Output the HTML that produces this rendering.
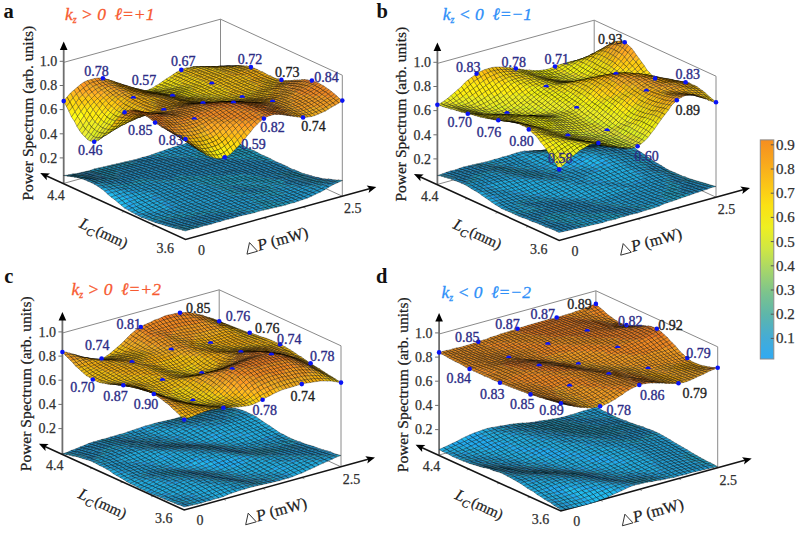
<!DOCTYPE html><html><head><meta charset="utf-8"><style>html,body{margin:0;padding:0;background:#fff;width:800px;height:533px;overflow:hidden}svg{display:block}text{font-family:"Liberation Serif",serif}</style></head><body>
<svg width="800" height="533" viewBox="0 0 800 533">
<path d="M63.7 62.4L220.5 19.2L342.3 75.2M220.5 140.2L220.5 19.2M342.3 196.2L342.3 75.2M63.7 183.4L220.5 140.2L342.3 196.2" fill="none" stroke="#8a8a8a" stroke-width="1"/>
<path d="M63.7 183.4V48.4" stroke="#6e6e6e" stroke-width="1.8"/>
<path d="M63.7 41.4l3.8 8.5h-7.6z"/>
<path d="M59.7 157.9h4M59.7 133.8h4M59.7 109.6h4M59.7 85.5h4M59.7 61.3h4" stroke="#6e6e6e" stroke-width="1"/>
<path d="M94.2 197.4l-2.8 0.8M124.6 211.4l-2.8 0.8M155.1 225.4l-2.8 0.8M224.7 228.6l2.6 1.2M263.9 217.8l2.6 1.2M303.1 207l2.6 1.2" stroke="#9a9a9a" stroke-width="1"/>
<path d="M46.2 175.8L185.5 239.4L370.3 188.5" fill="none" stroke="#151515" stroke-width="1.6"/>
<path d="M40.2 173.1L50 173.4L46.6 176L46.8 180.3Z"/>
<path d="M376.3 186.9L368.6 193L369.6 188.8L366.6 185.6Z"/>
<g transform="scale(.5)" stroke="#000" stroke-opacity="0.62" stroke-width="1.0" stroke-linejoin="round">
<path fill="#28b" d="M432 273l9-2 7 3-9 2zm-8 2l8-2 7 3-9 2zm-9 2l9-2 6 3-8 2zm-9 2l9-2 7 3-9 2z"/>
<path fill="#29b" d="M397 281l9-2 7 3-9 2zm-8 2l8-2 7 3-8 2zm-9 2l9-2 7 3-9 2z"/>
<path fill="#29c" d="M371 287l9-2 7 3-9 3zm-8 3l8-3 7 4-9 2zm-9 2l9-2 6 3-8 3zm-9 3l9-3 7 4-9 2zm-9 3l9-3 7 3-9 3zm-8 3l8-3 7 3-8 3zm-9 3l9-3 7 3-9 3zm-9 3l9-3 7 3-9 3z"/>
<path fill="#29b" d="M302 310l8-3 7 3-9 2z"/>
<path fill="#28b" d="M293 313l9-3 6 2-8 3zm-9 2l9-2 7 2-9 2zm-9 3l9-3 7 2-9 3zm-8 2l8-2 7 2-8 2zm-9 2l9-2 7 2-9 2z"/>
<path fill="#28a" d="M249 324l9-2 7 2-9 2zm-8 2l8-2 7 2-9 2zm-9 2l9-2 6 2-8 2zm-9 2l9-2 7 2-9 2zm-8 2l8-2 7 2-9 2zm-9 2l9-2 6 2-8 3zm-9 2l9-2 7 3-9 2zm-9 2l9-2 7 3-9 2zm-8 3l8-3 7 3-9 2zm-9 2l9-2 6 2-8 1zm-9 2l9-2 7 1-9 2z"/>
<path fill="#27a" d="M154 347l8-2 7 1-9 2z"/>
<path fill="#279" d="M145 348l9-1 6 1-8 2zm-9 2l9-2 7 2-9 1z"/>
<path fill="#179" d="M127 351l9-1 7 1-9 1z"/>
<path fill="#28b" d="M439 276l9-2 7 3-9 2zm-9 2l9-2 7 3-9 2zm-8 2l8-2 7 3-9 2z"/>
<path fill="#29b" d="M413 282l9-2 6 3-8 2zm-9 2l9-2 7 3-9 2zm-8 2l8-2 7 3-9 2zm-9 2l9-2 6 3-8 2z"/>
<path fill="#29c" d="M378 291l9-3 7 3-9 3zm-9 2l9-2 7 3-9 2zm-8 3l8-3 7 3-9 3zm-9 2l9-2 6 3-8 3zm-9 3l9-3 7 4-9 2zm-8 3l8-3 7 3-9 3zm-9 3l9-3 6 3-8 3z"/>
<path fill="#29b" d="M317 310l9-3 7 3-9 3zm-9 2l9-2 7 3-9 2z"/>
<path fill="#28b" d="M300 315l8-3 7 3-9 2zm-9 2l9-2 6 2-8 3zm-9 3l9-3 7 3-9 2zm-8 2l8-2 7 2-9 2zm-9 2l9-2 6 2-8 3z"/>
<path fill="#28a" d="M256 326l9-2 7 3-9 2zm-9 2l9-2 7 3-9 2zm-8 2l8-2 7 3-9 2zm-9 2l9-2 6 3-8 2zm-9 2l9-2 7 3-9 2zm-8 3l8-3 7 3-9 2zm-9 2l9-2 6 2-8 2zm-9 2l9-2 7 2-9 2zm-9 2l9-2 7 2-9 2zm-8 1l8-1 7 2-9 1z"/>
<path fill="#27a" d="M169 346l9-2 6 2-8 2zm-9 2l9-2 7 2-9 2z"/>
<path fill="#279" d="M152 350l8-2 7 2-9 1z"/>
<path fill="#179" d="M143 351l9-1 6 1-8 1zm-9 1l9-1 7 1-9 1z"/>
<path fill="#28b" d="M446 279l9-2 6 3-8 2zm-9 2l9-2 7 3-9 2zm-9 2l9-2 7 3-9 2z"/>
<path fill="#29b" d="M420 285l8-2 7 3-9 2zm-9 2l9-2 6 3-8 2zm-9 2l9-2 7 3-9 2z"/>
<path fill="#29c" d="M394 291l8-2 7 3-9 3zm-9 3l9-3 6 4-8 2zm-9 2l9-2 7 3-9 2zm-9 3l9-3 7 3-9 3zm-8 3l8-3 7 3-9 3zm-9 2l9-2 6 3-8 2zm-9 3l9-3 7 3-9 3zm-8 3l8-3 7 3-9 3z"/>
<path fill="#29b" d="M324 313l9-3 6 3-8 2z"/>
<path fill="#28b" d="M315 315l9-2 7 2-9 3zm-9 2l9-2 7 3-9 2zm-8 3l8-3 7 3-8 2zm-9 2l9-2 7 2-9 2zm-9 2l9-2 7 2-9 3zm-8 3l8-3 7 3-9 2z"/>
<path fill="#28a" d="M263 329l9-2 6 2-8 2zm-9 2l9-2 7 2-9 2zm-9 2l9-2 7 2-9 2z"/>
<path fill="#28b" d="M237 335l8-2 7 2-8 2zm-9 2l9-2 7 2-9 2z"/>
<path fill="#28a" d="M219 339l9-2 7 2-9 2zm-8 2l8-2 7 2-9 2zm-9 2l9-2 6 2-8 2zm-9 2l9-2 7 2-9 2zm-9 1l9-1 7 2-9 1z"/>
<path fill="#27a" d="M176 348l8-2 7 2-8 2zm-9 2l9-2 7 2-9 1z"/>
<path fill="#279" d="M158 351l9-1 7 1-9 1z"/>
<path fill="#179" d="M150 352l8-1 7 1-9 1zm-9 1l9-1 6 1-8 1z"/>
<path fill="#28b" d="M453 282l8-2 7 3-9 2zm-9 2l9-2 6 3-8 2z"/>
<path fill="#29b" d="M435 286l9-2 7 3-9 2zm-9 2l9-2 7 3-9 2zm-8 2l8-2 7 3-8 2z"/>
<path fill="#29c" d="M409 292l9-2 7 3-9 3zm-9 3l9-3 7 4-9 2zm-8 2l8-2 7 3-9 2zm-9 2l9-2 6 3-8 3zm-9 3l9-3 7 4-9 2zm-9 3l9-3 7 3-9 3zm-8 2l8-2 7 3-8 2zm-9 3l9-3 7 3-9 3z"/>
<path fill="#29b" d="M339 313l9-3 7 3-9 2z"/>
<path fill="#28b" d="M331 315l8-2 7 2-9 3zm-9 3l9-3 6 3-8 2zm-9 2l9-2 7 2-9 2zm-8 2l8-2 7 2-9 3zm-9 2l9-2 6 3-8 2zm-9 3l9-3 7 3-9 2zm-9 2l9-2 7 2-9 2zm-8 2l8-2 7 2-9 2zm-9 2l9-2 6 2-8 2zm-9 2l9-2 7 2-9 2zm-8 2l8-2 7 2-9 2zm-9 2l9-2 6 2-8 2z"/>
<path fill="#28a" d="M226 341l9-2 7 2-9 2zm-9 2l9-2 7 2-9 2zm-8 2l8-2 7 2-9 2zm-9 2l9-2 6 2-8 2zm-9 1l9-1 7 2-9 1z"/>
<path fill="#27a" d="M183 350l8-2 7 2-9 2zm-9 1l9-1 6 2-8 1z"/>
<path fill="#279" d="M165 352l9-1 7 2-9 1z"/>
<path fill="#179" d="M156 353l9-1 7 2-9 1zm-8 1l8-1 7 2-9 0z"/>
<path fill="#28b" d="M459 285l9-2 7 3-9 2z"/>
<path fill="#29b" d="M451 287l8-2 7 3-9 2zm-9 2l9-2 6 3-8 2zm-9 2l9-2 7 3-9 2z"/>
<path fill="#29c" d="M425 293l8-2 7 3-9 3zm-9 3l9-3 6 4-8 2zm-9 2l9-2 7 3-9 2zm-9 2l9-2 7 3-9 2z"/>
<path fill="#29b" d="M390 303l8-3 7 3-9 3z"/>
<path fill="#29c" d="M381 305l9-2 6 3-8 2zm-9 3l9-3 7 3-9 3zm-8 2l8-2 7 3-9 2z"/>
<path fill="#29b" d="M355 313l9-3 6 3-8 3z"/>
<path fill="#28b" d="M346 315l9-2 7 3-9 2zm-9 3l9-3 7 3-9 2zm-8 2l8-2 7 2-9 2zm-9 2l9-2 6 2-8 3zm-9 3l9-3 7 3-9 2zm-8 2l8-2 7 2-9 2zm-9 2l9-2 6 2-8 2zm-9 2l9-2 7 2-9 2zm-9 2l9-2 7 2-9 3zm-8 2l8-2 7 3-9 2zm-9 2l9-2 6 3-8 2zm-9 2l9-2 7 3-9 2zm-8 2l8-2 7 3-9 2zm-9 2l9-2 6 3-8 2z"/>
<path fill="#28a" d="M224 345l9-2 7 3-9 2zm-9 2l9-2 7 3-9 1zm-8 2l8-2 7 2-8 2zm-9 1l9-1 7 2-9 2z"/>
<path fill="#27a" d="M189 352l9-2 7 3-9 1z"/>
<path fill="#279" d="M181 353l8-1 7 2-9 1zm-9 1l9-1 6 2-8 1z"/>
<path fill="#179" d="M163 355l9-1 7 2-9 0zm-9 0l9 0 7 1-9 1z"/>
<path fill="#29b" d="M466 288l9-2 7 3-9 2zm-9 2l9-2 7 3-9 2zm-8 2l8-2 7 3-9 2zm-9 2l9-2 6 3-8 3z"/>
<path fill="#29c" d="M431 297l9-3 7 4-9 2zm-8 2l8-2 7 3-9 2z"/>
<path fill="#29b" d="M414 301l9-2 6 3-8 2zm-9 2l9-2 7 3-9 3zm-9 3l9-3 7 4-9 2zm-8 2l8-2 7 3-9 2zm-9 3l9-3 6 3-8 3zm-9 2l9-2 7 3-9 2z"/>
<path fill="#28b" d="M362 316l8-3 7 3-9 2zm-9 2l9-2 6 2-8 3zm-9 2l9-2 7 3-9 2zm-9 2l9-2 7 3-9 2zm-8 3l8-3 7 3-8 2zm-9 2l9-2 7 2-9 2zm-9 2l9-2 7 2-9 3zm-8 2l8-2 7 3-9 2zm-9 2l9-2 6 3-8 2zm-9 3l9-3 7 3-9 2zm-9 2l9-2 7 2-9 2zm-8 2l8-2 7 2-8 2zm-9 2l9-2 7 2-9 2zm-9 2l9-2 7 2-9 2zm-8 2l8-2 7 2-9 2zm-9 2l9-2 6 2-8 2z"/>
<path fill="#28a" d="M222 349l9-1 7 2-9 2zm-8 2l8-2 7 3-9 1zm-9 2l9-2 6 2-8 2z"/>
<path fill="#27a" d="M196 354l9-1 7 2-9 1z"/>
<path fill="#279" d="M187 355l9-1 7 2-9 1zm-8 1l8-1 7 2-9 1zm-9 0l9 0 6 2-8 0zm-9 1l9-1 7 2-9 1z"/>
<path fill="#29b" d="M473 291l9-2 6 3-8 2zm-9 2l9-2 7 3-9 3zm-9 2l9-2 7 4-9 2zm-8 3l8-3 7 4-8 2zm-9 2l9-2 7 3-9 2zm-9 2l9-2 7 3-9 2zm-8 2l8-2 7 3-9 2zm-9 3l9-3 6 3-8 3zm-9 2l9-2 7 3-9 2zm-9 2l9-2 7 3-9 2zm-8 3l8-3 7 3-8 3z"/>
<path fill="#28b" d="M377 316l9-2 7 3-9 2zm-9 2l9-2 7 3-9 2zm-8 3l8-3 7 3-9 2zm-9 2l9-2 6 2-8 2zm-9 2l9-2 7 2-9 3zm-8 2l8-2 7 3-9 2zm-9 2l9-2 6 3-8 2zm-9 3l9-3 7 3-9 2zm-9 2l9-2 7 2-9 2zm-8 2l8-2 7 2-9 2zm-9 2l9-2 6 2-8 3zm-9 2l9-2 7 3-9 2zm-8 2l8-2 7 3-9 2zm-9 2l9-2 6 3-8 2zm-9 2l9-2 7 3-9 2zm-9 2l9-2 7 3-9 2zm-8 2l8-2 7 3-9 2zm-9 2l9-2 6 3-8 1z"/>
<path fill="#28a" d="M220 353l9-1 7 2-9 2zm-8 2l8-2 7 3-9 1z"/>
<path fill="#27a" d="M203 356l9-1 6 2-8 1zm-9 1l9-1 7 2-9 1zm-9 1l9-1 7 2-9 1zm-8 0l8 0 7 2-9 1zm-9 1l9-1 6 3-8 1z"/>
<path fill="#29b" d="M480 294l8-2 7 4-9 2zm-9 3l9-3 6 4-8 2zm-9 2l9-2 7 3-9 2zm-8 2l8-2 7 3-9 2zm-9 2l9-2 6 3-8 2zm-9 2l9-2 7 3-9 2zm-9 2l9-2 7 3-9 3zm-8 3l8-3 7 4-9 2zm-9 2l9-2 6 3-8 2zm-9 2l9-2 7 3-9 2z"/>
<path fill="#28b" d="M393 317l8-3 7 3-9 2zm-9 2l9-2 6 2-8 3zm-9 2l9-2 7 3-9 2zm-9 2l9-2 7 3-9 2zm-8 2l8-2 7 3-9 2zm-9 3l9-3 6 3-8 2zm-9 2l9-2 7 2-9 2zm-8 2l8-2 7 2-9 2zm-9 2l9-2 6 2-8 3zm-9 2l9-2 7 3-9 2zm-9 2l9-2 7 3-9 2zm-8 3l8-3 7 3-9 2zm-9 2l9-2 6 2-8 2zm-9 2l9-2 7 2-9 2zm-8 2l8-2 7 2-9 2zm-9 2l9-2 6 2-8 2zm-9 2l9-2 7 2-9 2zm-9 2l9-2 7 2-9 2zm-8 1l8-1 7 2-8 2z"/>
<path fill="#28a" d="M227 356l9-2 7 3-9 1zm-9 1l9-1 7 2-9 1zm-8 1l8-1 7 2-9 2zm-9 1l9-1 6 3-8 1zm-9 1l9-1 7 3-9 1zm-9 1l9-1 7 3-9 1zm-8 1l8-1 7 3-8 1z"/>
<path fill="#29b" d="M486 298l9-2 7 3-9 2zm-8 2l8-2 7 3-9 2zm-9 2l9-2 6 3-8 2zm-9 2l9-2 7 3-9 2zm-8 2l8-2 7 3-9 2zm-9 2l9-2 6 3-8 2zm-9 3l9-3 7 3-9 3zm-9 2l9-2 7 3-9 2z"/>
<path fill="#28b" d="M417 315l8-2 7 3-8 2zm-9 2l9-2 7 3-9 2zm-9 2l9-2 7 3-9 2zm-8 3l8-3 7 3-9 2zm-9 2l9-2 6 2-8 2zm-9 2l9-2 7 2-9 3zm-9 2l9-2 7 3-9 2zm-8 2l8-2 7 3-8 2zm-9 2l9-2 7 3-9 2zm-9 2l9-2 7 3-9 2zm-8 3l8-3 7 3-9 2zm-9 2l9-2 6 2-8 2zm-9 2l9-2 7 2-9 3zm-9 2l9-2 7 3-9 2zm-8 2l8-2 7 3-8 2zm-9 2l9-2 7 3-9 2zm-9 2l9-2 7 3-9 2zm-8 2l8-2 7 3-9 2zm-9 2l9-2 6 3-8 2zm-9 2l9-2 7 3-9 2zm-8 2l8-2 7 3-9 2zm-9 1l9-1 6 3-8 1zm-9 1l9-1 7 3-9 1zm-9 2l9-2 7 3-9 2zm-8 1l8-1 7 3-9 1zm-9 1l9-1 6 3-8 1zm-9 1l9-1 7 3-9 1zm-8 1l8-1 7 3-9 1z"/>
<path fill="#29b" d="M493 301l9-2 7 3-9 2zm-9 2l9-2 7 3-9 2zm-8 2l8-2 7 3-8 2zm-9 2l9-2 7 3-9 2zm-9 2l9-2 7 3-9 2zm-8 2l8-2 7 3-9 3z"/>
<path fill="#28b" d="M441 314l9-3 6 4-8 2zm-9 2l9-2 7 3-9 2zm-8 2l8-2 7 3-9 2zm-9 2l9-2 6 3-8 2zm-9 2l9-2 7 3-9 2zm-9 2l9-2 7 3-9 2zm-8 2l8-2 7 3-9 2zm-9 3l9-3 6 3-8 2zm-9 2l9-2 7 2-9 2zm-8 2l8-2 7 2-9 2zm-9 2l9-2 6 2-8 3zm-9 2l9-2 7 3-9 2zm-9 2l9-2 7 3-9 2zm-8 2l8-2 7 3-9 2zm-9 3l9-3 6 3-8 2zm-9 2l9-2 7 2-9 3zm-8 2l8-2 7 3-9 2zm-9 2l9-2 6 3-8 2zm-9 2l9-2 7 3-9 2zm-9 2l9-2 7 3-9 2zm-8 2l8-2 7 3-9 2zm-9 2l9-2 6 3-8 2zm-9 2l9-2 7 3-9 2zm-8 1l8-1 7 3-9 1zm-9 1l9-1 6 3-8 2zm-9 2l9-2 7 4-9 1zm-9 1l9-1 7 3-9 1zm-8 1l8-1 7 3-9 2z"/>
<path fill="#29b" d="M197 367l9-1 6 4-8 1z"/>
<path fill="#29c" d="M188 368l9-1 7 4-9 1z"/>
<path fill="#29b" d="M500 304l9-2 6 3-8 2zm-9 2l9-2 7 3-9 2zm-8 2l8-2 7 3-9 2zm-9 2l9-2 6 3-8 2zm-9 2l9-2 7 3-9 3zm-9 3l9-3 7 4-9 2z"/>
<path fill="#28b" d="M448 317l8-2 7 3-9 2zm-9 2l9-2 6 3-8 2zm-9 2l9-2 7 3-9 2zm-8 2l8-2 7 3-9 2zm-9 2l9-2 6 3-8 2zm-9 2l9-2 7 3-9 2zm-9 2l9-2 7 3-9 2zm-8 2l8-2 7 3-9 2zm-9 2l9-2 6 3-8 2zm-9 2l9-2 7 3-9 2zm-8 3l8-3 7 3-9 2zm-9 2l9-2 6 2-8 2zm-9 2l9-2 7 2-9 3zm-9 2l9-2 7 3-9 2zm-8 2l8-2 7 3-8 2zm-9 3l9-3 7 3-9 3zm-9 2l9-2 7 3-9 2zm-8 2l8-2 7 3-9 2zm-9 2l9-2 6 3-8 2zm-9 2l9-2 7 3-9 2z"/>
<path fill="#29b" d="M273 359l9-2 7 3-9 2zm-8 2l8-2 7 3-8 2z"/>
<path fill="#28b" d="M256 363l9-2 7 3-9 2zm-9 1l9-1 7 3-9 2zm-8 2l8-2 7 4-9 1zm-9 1l9-1 6 3-8 2z"/>
<path fill="#29b" d="M221 368l9-1 7 4-9 1zm-9 2l9-2 7 4-9 2z"/>
<path fill="#29c" d="M204 371l8-1 7 4-8 1zm-9 1l9-1 7 4-9 2z"/>
<path fill="#29b" d="M507 307l8-2 7 4-9 2zm-9 2l9-2 6 4-8 2zm-9 2l9-2 7 4-9 2zm-8 2l8-2 7 4-9 2zm-9 3l9-3 6 4-8 2z"/>
<path fill="#28b" d="M463 318l9-2 7 3-9 2zm-9 2l9-2 7 3-9 2zm-8 2l8-2 7 3-8 2zm-9 2l9-2 7 3-9 1zm-9 2l9-2 7 2-9 2zm-8 2l8-2 7 2-9 2zm-9 2l9-2 6 2-8 2zm-9 2l9-2 7 2-9 2zm-9 2l9-2 7 2-9 3zm-8 2l8-2 7 3-8 2zm-9 2l9-2 7 3-9 2zm-9 2l9-2 7 3-9 2zm-8 2l8-2 7 3-9 2zm-9 3l9-3 6 3-8 2zm-9 2l9-2 7 2-9 3zm-8 2l8-2 7 3-9 2zm-9 3l9-3 6 3-8 2zm-9 2l9-2 7 2-9 3zm-9 2l9-2 7 3-9 2zm-8 2l8-2 7 3-9 2z"/>
<path fill="#29b" d="M289 360l9-2 6 3-8 2zm-9 2l9-2 7 3-9 3zm-8 2l8-2 7 4-9 2zm-9 2l9-2 6 4-8 2zm-9 2l9-2 7 4-9 1zm-9 1l9-1 7 3-9 2zm-8 2l8-2 7 4-9 2z"/>
<path fill="#29c" d="M228 372l9-1 6 4-8 1zm-9 2l9-2 7 4-9 2zm-8 1l8-1 7 4-9 2z"/>
<path fill="#2ad" d="M202 377l9-2 6 5-8 2z"/>
<path fill="#29b" d="M513 311l9-2 7 3-9 2zm-8 2l8-2 7 3-8 2zm-9 2l9-2 7 3-9 2zm-9 2l9-2 7 3-9 2z"/>
<path fill="#28b" d="M479 319l8-2 7 3-9 2zm-9 2l9-2 6 3-8 2zm-9 2l9-2 7 3-9 1zm-8 2l8-2 7 2-9 2zm-9 1l9-1 6 2-8 2zm-9 2l9-2 7 3-9 2zm-9 2l9-2 7 3-9 2zm-8 2l8-2 7 3-9 2zm-9 2l9-2 6 3-8 2zm-9 3l9-3 7 3-9 2zm-8 2l8-2 7 2-9 2zm-9 2l9-2 6 2-8 3zm-9 2l9-2 7 3-9 2zm-9 2l9-2 7 3-9 2zm-8 2l8-2 7 3-9 2zm-9 3l9-3 6 3-8 3zm-9 2l9-2 7 3-9 2zm-8 2l8-2 7 3-9 2zm-9 3l9-3 6 3-8 2zm-9 2l9-2 7 2-9 3z"/>
<path fill="#29b" d="M304 361l9-2 7 3-9 2z"/>
<path fill="#29c" d="M296 363l8-2 7 3-9 3zm-9 3l9-3 6 4-8 2zm-9 2l9-2 7 3-9 2zm-8 2l8-2 7 3-9 2zm-9 1l9-1 6 3-8 2zm-9 2l9-2 7 4-9 2zm-9 2l9-2 7 4-9 1zm-8 1l8-1 7 3-8 2zm-9 2l9-2 7 4-9 3z"/>
<path fill="#2ad" d="M217 380l9-2 7 5-9 2z"/>
<path fill="#2ae" d="M209 382l8-2 7 5-9 3z"/>
<path fill="#29b" d="M520 314l9-2 7 3-9 2zm-8 2l8-2 7 3-9 2zm-9 2l9-2 6 3-8 2z"/>
<path fill="#28b" d="M494 320l9-2 7 3-9 2zm-9 2l9-2 7 3-9 2zm-8 2l8-2 7 3-9 2zm-9 1l9-1 6 3-8 1zm-9 2l9-2 7 3-9 2zm-8 2l8-2 7 3-9 2zm-9 2l9-2 6 3-8 2zm-9 2l9-2 7 3-9 2zm-9 2l9-2 7 3-9 2zm-8 2l8-2 7 3-9 2zm-9 2l9-2 6 3-8 2zm-9 2l9-2 7 3-9 2zm-8 3l8-3 7 3-9 2zm-9 2l9-2 6 2-8 3zm-9 2l9-2 7 3-9 2zm-9 2l9-2 7 3-9 2z"/>
<path fill="#29b" d="M355 353l8-3 7 3-8 3zm-9 2l9-2 7 3-9 2z"/>
<path fill="#28b" d="M337 357l9-2 7 3-9 2zm-8 2l8-2 7 3-9 2z"/>
<path fill="#29b" d="M320 362l9-3 6 3-8 3z"/>
<path fill="#29c" d="M311 364l9-2 7 3-9 2zm-9 3l9-3 7 3-9 3zm-8 2l8-2 7 3-8 2zm-9 2l9-2 7 3-9 3zm-9 2l9-2 7 4-9 2zm-8 2l8-2 7 4-9 2zm-9 2l9-2 6 4-8 2zm-9 1l9-1 7 4-9 2zm-8 2l8-2 7 5-9 2z"/>
<path fill="#2ad" d="M233 383l9-3 6 5-8 3zm-9 2l9-2 7 5-9 3z"/>
<path fill="#2be" d="M215 388l9-3 7 6-9 3z"/>
<path fill="#29b" d="M527 317l9-2 6 3-8 2zm-9 2l9-2 7 3-9 2z"/>
<path fill="#28b" d="M510 321l8-2 7 3-9 2zm-9 2l9-2 6 3-8 2zm-9 2l9-2 7 3-9 2zm-9 2l9-2 7 3-9 1zm-8 1l8-1 7 2-8 2zm-9 2l9-2 7 3-9 2zm-9 2l9-2 7 3-9 2zm-8 2l8-2 7 3-9 2zm-9 2l9-2 6 3-8 2zm-9 2l9-2 7 3-9 2zm-9 2l9-2 7 3-9 2zm-8 2l8-2 7 3-8 2zm-9 2l9-2 7 3-9 2zm-9 2l9-2 7 3-9 2zm-8 3l8-3 7 3-9 2zm-9 2l9-2 6 2-8 3z"/>
<path fill="#29b" d="M370 353l9-2 7 3-9 2zm-8 3l8-3 7 3-9 2zm-9 2l9-2 6 2-8 3zm-9 2l9-2 7 3-9 2zm-9 2l9-2 7 3-9 3z"/>
<path fill="#29c" d="M327 365l8-3 7 4-9 2zm-9 2l9-2 6 3-8 3zm-9 3l9-3 7 4-9 2zm-8 2l8-2 7 3-9 3zm-9 3l9-3 6 4-8 2zm-9 2l9-2 7 3-9 2zm-9 2l9-2 7 3-9 3zm-8 2l8-2 7 4-9 2z"/>
<path fill="#29d" d="M257 383l9-2 6 4-8 2z"/>
<path fill="#2ad" d="M248 385l9-2 7 4-9 3zm-8 3l8-3 7 5-9 3z"/>
<path fill="#2ae" d="M231 391l9-3 6 5-8 3z"/>
<path fill="#2be" d="M222 394l9-3 7 5-9 3z"/>
<path fill="#29b" d="M534 320l8-2 7 4-8 2z"/>
<path fill="#28b" d="M525 322l9-2 7 4-9 1zm-9 2l9-2 7 3-9 2zm-8 2l8-2 7 3-9 2zm-9 2l9-2 6 3-8 2zm-9 1l9-1 7 3-9 1zm-8 2l8-2 7 3-9 2zm-9 2l9-2 6 3-8 2zm-9 2l9-2 7 3-9 2zm-9 2l9-2 7 3-9 2zm-8 2l8-2 7 3-9 2zm-9 2l9-2 6 3-8 2zm-9 2l9-2 7 3-9 2zm-8 2l8-2 7 3-9 2zm-9 2l9-2 6 3-8 2zm-9 2l9-2 7 3-9 2zm-9 2l9-2 7 3-9 2z"/>
<path fill="#29b" d="M386 354l8-3 7 3-9 3zm-9 2l9-2 6 3-8 2zm-9 2l9-2 7 3-9 2zm-8 3l8-3 7 3-9 3zm-9 2l9-2 6 3-8 2z"/>
<path fill="#29c" d="M342 366l9-3 7 3-9 3zm-9 2l9-2 7 3-9 2zm-8 3l8-3 7 3-9 3zm-9 2l9-2 6 3-8 3zm-9 3l9-3 7 4-9 2zm-8 2l8-2 7 3-9 3zm-9 2l9-2 6 4-8 2zm-9 3l9-3 7 4-9 3z"/>
<path fill="#2ad" d="M272 385l9-2 7 4-9 2zm-8 2l8-2 7 4-8 3zm-9 3l9-3 7 5-9 3z"/>
<path fill="#2ae" d="M246 393l9-3 7 5-9 3z"/>
<path fill="#2be" d="M238 396l8-3 7 5-9 3zm-9 3l9-3 6 5-8 4z"/>
<path fill="#28b" d="M541 324l8-2 7 3-9 2zm-9 1l9-1 6 3-8 1zm-9 2l9-2 7 3-9 2zm-9 2l9-2 7 3-9 2zm-8 2l8-2 7 3-9 2zm-9 1l9-1 6 3-8 1zm-9 2l9-2 7 3-9 2zm-8 2l8-2 7 3-9 2zm-9 2l9-2 6 3-8 2zm-9 2l9-2 7 3-9 1zm-9 2l9-2 7 2-9 2zm-8 2l8-2 7 2-8 2zm-9 2l9-2 7 2-9 3zm-9 2l9-2 7 3-9 2zm-8 2l8-2 7 3-9 2z"/>
<path fill="#29b" d="M410 352l9-2 6 3-8 2zm-9 2l9-2 7 3-9 2zm-9 3l9-3 7 3-9 3zm-8 2l8-2 7 3-8 2zm-9 2l9-2 7 3-9 2z"/>
<path fill="#29c" d="M366 364l9-3 7 3-9 3zm-8 2l8-2 7 3-9 2zm-9 3l9-3 6 3-8 3zm-9 2l9-2 7 3-9 3zm-9 3l9-3 7 4-9 3zm-8 3l8-3 7 4-8 2zm-9 2l9-2 7 3-9 3zm-9 3l9-3 7 4-9 3zm-8 2l8-2 7 4-9 2z"/>
<path fill="#2ad" d="M288 387l9-3 6 4-8 3zm-9 2l9-2 7 4-9 3zm-8 3l8-3 7 5-9 3zm-9 3l9-3 6 5-8 3z"/>
<path fill="#2ae" d="M253 398l9-3 7 5-9 3z"/>
<path fill="#2be" d="M244 401l9-3 7 5-9 4zm-8 4l8-4 7 6-9 3z"/>
<path fill="#28b" d="M547 327l9-2 7 3-9 2zm-8 1l8-1 7 3-9 2zm-9 2l9-2 6 4-8 1zm-9 2l9-2 7 3-9 2zm-9 2l9-2 7 3-9 2zm-8 1l8-1 7 3-8 1zm-9 2l9-2 7 3-9 2zm-9 2l9-2 7 3-9 2zm-8 2l8-2 7 3-9 1zm-9 1l9-1 6 2-8 2zm-9 2l9-2 7 3-9 2zm-8 2l8-2 7 3-9 2zm-9 3l9-3 6 3-8 2zm-9 2l9-2 7 2-9 3z"/>
<path fill="#29b" d="M425 353l9-2 7 3-9 2zm-8 2l8-2 7 3-9 2zm-9 2l9-2 6 3-8 2zm-9 3l9-3 7 3-9 3zm-8 2l8-2 7 3-9 2z"/>
<path fill="#29c" d="M382 364l9-2 6 3-8 3zm-9 3l9-3 7 4-9 2zm-9 2l9-2 7 3-9 3zm-8 3l8-3 7 4-9 3zm-9 3l9-3 6 4-8 2zm-9 3l9-3 7 3-9 3zm-8 2l8-2 7 3-9 3zm-9 3l9-3 6 4-8 3zm-9 3l9-3 7 4-9 2zm-9 2l9-2 7 3-9 3z"/>
<path fill="#2ad" d="M295 391l8-3 7 4-9 3zm-9 3l9-3 6 4-8 3zm-9 3l9-3 7 4-9 3zm-8 3l8-3 7 4-9 4zm-9 3l9-3 6 5-8 3z"/>
<path fill="#2ae" d="M251 407l9-4 7 5-9 4z"/>
<path fill="#2be" d="M242 410l9-3 7 5-9 4z"/>
<path fill="#28b" d="M554 330l9-2 7 3-9 2zm-9 2l9-2 7 3-9 2zm-8 1l8-1 7 3-9 1zm-9 2l9-2 6 3-8 2zm-9 2l9-2 7 3-9 2zm-8 1l8-1 7 3-9 1zm-9 2l9-2 6 3-8 2zm-9 2l9-2 7 3-9 2zm-9 1l9-1 7 3-9 1zm-8 2l8-2 7 3-9 2zm-9 2l9-2 6 3-8 2zm-9 2l9-2 7 3-9 2z"/>
<path fill="#29b" d="M450 351l8-2 7 3-9 3zm-9 3l9-3 6 4-8 2zm-9 2l9-2 7 3-9 2zm-9 2l9-2 7 3-9 2zm-8 2l8-2 7 3-9 2zm-9 3l9-3 6 3-8 3zm-9 2l9-2 7 3-9 2z"/>
<path fill="#29c" d="M389 368l8-3 7 3-9 3zm-9 2l9-2 6 3-8 2zm-9 3l9-3 7 3-9 3zm-9 3l9-3 7 3-9 3zm-8 2l8-2 7 3-9 3zm-9 3l9-3 6 4-8 3zm-9 3l9-3 7 4-9 2zm-8 3l8-3 7 3-9 3zm-9 2l9-2 6 3-8 3zm-9 3l9-3 7 4-9 3z"/>
<path fill="#29d" d="M301 395l9-3 7 4-9 3z"/>
<path fill="#2ad" d="M293 398l8-3 7 4-8 3zm-9 3l9-3 7 4-9 3zm-9 4l9-4 7 4-9 4zm-8 3l8-3 7 4-9 4z"/>
<path fill="#2ae" d="M258 412l9-4 6 5-8 3zm-9 4l9-4 7 4-9 4z"/>
<path fill="#28b" d="M561 333l9-2 6 3-8 2zm-9 2l9-2 7 3-9 2zm-9 1l9-1 7 3-9 1zm-8 2l8-2 7 3-9 2zm-9 2l9-2 6 3-8 2zm-9 1l9-1 7 3-9 1zm-8 2l8-2 7 3-9 2zm-9 2l9-2 6 3-8 2zm-9 1l9-1 7 3-9 1zm-9 2l9-2 7 3-9 3z"/>
<path fill="#29b" d="M474 350l8-2 7 4-8 2zm-9 2l9-2 7 4-9 2zm-9 3l9-3 7 4-9 2zm-8 2l8-2 7 3-9 2zm-9 2l9-2 6 3-8 2zm-9 2l9-2 7 3-9 2zm-9 2l9-2 7 3-9 3zm-8 3l8-3 7 4-8 2zm-9 2l9-2 7 3-9 2z"/>
<path fill="#29c" d="M395 371l9-3 7 3-9 3zm-8 2l8-2 7 3-9 3zm-9 3l9-3 6 4-8 2zm-9 3l9-3 7 3-9 3zm-9 3l9-3 7 3-9 3zm-8 3l8-3 7 3-8 3zm-9 2l9-2 7 3-9 3zm-9 3l9-3 7 4-9 3zm-8 3l8-3 7 4-9 3zm-9 3l9-3 6 4-8 3z"/>
<path fill="#29d" d="M308 399l9-3 7 4-9 3z"/>
<path fill="#2ad" d="M300 402l8-3 7 4-9 3zm-9 3l9-3 6 4-8 4zm-9 4l9-4 7 5-9 3zm-9 4l9-4 7 4-9 4zm-8 3l8-3 7 4-9 4zm-9 4l9-4 6 5-8 3z"/>
<path fill="#28b" d="M568 336l8-2 7 4-9 1zm-9 2l9-2 6 3-8 2zm-9 1l9-1 7 3-9 1zm-9 2l9-2 7 3-9 2zm-8 2l8-2 7 3-8 1zm-9 1l9-1 7 2-9 2zm-9 2l9-2 7 3-9 2zm-8 2l8-2 7 3-9 2zm-9 1l9-1 6 3-8 2z"/>
<path fill="#29b" d="M489 352l9-3 7 4-9 2zm-8 2l8-2 7 3-9 2zm-9 2l9-2 6 3-8 2zm-9 2l9-2 7 3-9 2zm-9 2l9-2 7 3-9 2zm-8 2l8-2 7 3-9 2zm-9 2l9-2 6 3-8 3zm-9 3l9-3 7 4-9 2zm-8 2l8-2 7 3-9 2z"/>
<path fill="#29c" d="M411 371l9-2 6 3-8 2zm-9 3l9-3 7 3-9 3zm-9 3l9-3 7 3-9 3zm-8 2l8-2 7 3-9 3zm-9 3l9-3 6 4-8 2zm-9 3l9-3 7 3-9 3zm-8 3l8-3 7 3-9 3zm-9 3l9-3 6 3-8 3zm-9 3l9-3 7 3-9 3zm-9 3l9-3 7 3-9 3zm-8 3l8-3 7 3-9 3z"/>
<path fill="#2ad" d="M315 403l9-3 6 3-8 4zm-9 3l9-3 7 4-9 3zm-8 4l8-4 7 4-9 4zm-9 3l9-3 6 4-8 3zm-9 4l9-4 7 4-9 4zm-9 4l9-4 7 4-9 4zm-8 3l8-3 7 4-8 3z"/>
<path fill="#28b" d="M574 339l9-1 7 2-9 2zm-8 2l8-2 7 3-9 2zm-9 1l9-1 6 3-8 1zm-9 2l9-2 7 3-9 2zm-8 1l8-1 7 3-9 1zm-9 2l9-2 6 3-8 2zm-9 2l9-2 7 3-9 2zm-9 2l9-2 7 3-9 2z"/>
<path fill="#29b" d="M505 353l8-2 7 3-9 2zm-9 2l9-2 6 3-8 2zm-9 2l9-2 7 3-9 2zm-8 2l8-2 7 3-9 2zm-9 2l9-2 6 3-8 2zm-9 2l9-2 7 3-9 2zm-9 2l9-2 7 3-9 3zm-8 3l8-3 7 4-9 2z"/>
<path fill="#28b" d="M435 370l9-2 6 3-8 2z"/>
<path fill="#29b" d="M426 372l9-2 7 3-9 2z"/>
<path fill="#29c" d="M418 374l8-2 7 3-9 2zm-9 3l9-3 6 3-8 3zm-9 3l9-3 7 3-9 3zm-9 3l9-3 7 3-9 3zm-8 2l8-2 7 3-8 3zm-9 3l9-3 7 4-9 3zm-9 3l9-3 7 4-9 3zm-8 3l8-3 7 4-9 3zm-9 3l9-3 6 4-8 3zm-9 3l9-3 7 4-9 3zm-9 3l9-3 7 4-9 3z"/>
<path fill="#29d" d="M322 407l8-4 7 4-8 3z"/>
<path fill="#2ad" d="M313 410l9-3 7 3-9 4zm-9 4l9-4 7 4-9 3zm-8 3l8-3 7 3-9 4zm-9 4l9-4 6 4-8 4zm-9 4l9-4 7 4-9 3z"/>
<path fill="#29d" d="M270 428l8-3 7 3-9 3z"/>
<path fill="#28b" d="M581 342l9-2 7 3-9 2zm-9 2l9-2 7 3-9 1z"/>
<path fill="#28a" d="M564 345l8-1 7 2-9 2zm-9 2l9-2 6 3-8 1zm-9 1l9-1 7 2-9 2z"/>
<path fill="#28b" d="M538 350l8-2 7 3-9 2zm-9 2l9-2 6 3-8 2zm-9 2l9-2 7 3-9 2z"/>
<path fill="#29b" d="M511 356l9-2 7 3-9 2zm-8 2l8-2 7 3-8 2zm-9 2l9-2 7 3-9 2zm-9 2l9-2 7 3-9 2z"/>
<path fill="#29c" d="M477 364l8-2 7 3-9 3z"/>
<path fill="#29b" d="M468 366l9-2 6 4-8 2zm-9 3l9-3 7 4-9 2z"/>
<path fill="#28b" d="M450 371l9-2 7 3-9 2z"/>
<path fill="#29b" d="M442 373l8-2 7 3-8 2zm-9 2l9-2 7 3-9 2z"/>
<path fill="#29c" d="M424 377l9-2 7 3-9 2zm-8 3l8-3 7 3-9 3zm-9 3l9-3 6 3-8 3zm-9 3l9-3 7 3-9 3zm-8 3l8-3 7 3-9 3zm-9 3l9-3 6 3-8 3zm-9 3l9-3 7 3-9 3zm-9 3l9-3 7 3-9 3zm-8 3l8-3 7 3-9 3zm-9 3l9-3 6 3-8 3zm-9 3l9-3 7 3-9 4z"/>
<path fill="#29d" d="M329 410l8-3 7 4-9 3z"/>
<path fill="#2ad" d="M320 414l9-4 6 4-8 4zm-9 3l9-3 7 4-9 3zm-9 4l9-4 7 4-9 4z"/>
<path fill="#29c" d="M294 425l8-4 7 4-9 3zm-9 3l9-3 6 3-8 3zm-9 3l9-3 7 3-9 4z"/>
<path fill="#28a" d="M588 345l9-2 6 3-8 1zm-9 1l9-1 7 2-9 2zm-9 2l9-2 7 3-9 1zm-8 1l8-1 7 2-8 2z"/>
<path fill="#28b" d="M553 351l9-2 7 3-9 2zm-9 2l9-2 7 3-9 2zm-8 2l8-2 7 3-9 2z"/>
<path fill="#29b" d="M527 357l9-2 6 3-8 2zm-9 2l9-2 7 3-9 2zm-8 2l8-2 7 3-9 2zm-9 2l9-2 6 3-8 2z"/>
<path fill="#29c" d="M492 365l9-2 7 3-9 3z"/>
<path fill="#29b" d="M483 368l9-3 7 4-9 2zm-8 2l8-2 7 3-9 2z"/>
<path fill="#28b" d="M466 372l9-2 6 3-8 2zm-9 2l9-2 7 3-9 2z"/>
<path fill="#29b" d="M449 376l8-2 7 3-9 2zm-9 2l9-2 6 3-8 2z"/>
<path fill="#29c" d="M431 380l9-2 7 3-9 3zm-9 3l9-3 7 4-9 2zm-8 3l8-3 7 3-9 3zm-9 3l9-3 6 3-8 3zm-9 3l9-3 7 3-9 3zm-8 3l8-3 7 3-9 3zm-9 3l9-3 6 3-8 3zm-9 3l9-3 7 3-9 4zm-9 3l9-3 7 4-9 3zm-8 3l8-3 7 4-9 3zm-9 4l9-4 6 4-8 3z"/>
<path fill="#29d" d="M335 414l9-3 7 3-9 3z"/>
<path fill="#2ad" d="M327 418l8-4 7 3-9 4z"/>
<path fill="#29c" d="M318 421l9-3 6 3-8 3zm-9 4l9-4 7 3-9 4zm-9 3l9-3 7 3-9 3zm-8 3l8-3 7 3-8 3zm-9 4l9-4 7 3-9 3z"/>
<path fill="#28a" d="M595 347l8-1 7 2-9 2zm-9 2l9-2 6 3-8 1zm-9 1l9-1 7 2-9 2zm-8 2l8-2 7 3-9 1z"/>
<path fill="#28b" d="M560 354l9-2 6 2-8 2zm-9 2l9-2 7 2-9 2zm-9 2l9-2 7 2-9 3z"/>
<path fill="#29b" d="M534 360l8-2 7 3-9 2zm-9 2l9-2 6 3-8 2zm-9 2l9-2 7 3-9 2z"/>
<path fill="#29c" d="M508 366l8-2 7 3-9 3z"/>
<path fill="#29b" d="M499 369l9-3 6 4-8 2zm-9 2l9-2 7 3-9 2zm-9 2l9-2 7 3-9 2z"/>
<path fill="#28b" d="M473 375l8-2 7 3-8 2zm-9 2l9-2 7 3-9 2z"/>
<path fill="#29b" d="M455 379l9-2 7 3-9 2zm-8 2l8-2 7 3-9 2z"/>
<path fill="#29c" d="M438 384l9-3 6 3-8 3zm-9 2l9-2 7 3-9 2zm-9 3l9-3 7 3-9 3zm-8 3l8-3 7 3-8 3zm-9 3l9-3 7 3-9 3zm-9 3l9-3 7 3-9 3zm-8 3l8-3 7 3-9 4zm-9 4l9-4 6 4-8 3zm-9 3l9-3 7 3-9 3zm-9 3l9-3 7 3-9 3zm-8 3l8-3 7 3-8 3zm-9 3l9-3 7 3-9 4zm-9 4l9-4 7 4-9 3zm-8 3l8-3 7 3-9 3zm-9 4l9-4 6 3-8 4zm-9 3l9-3 7 3-9 3zm-8 3l8-3 7 3-9 3zm-9 3l9-3 6 3-8 3z"/>
<path fill="#28a" d="M601 350l9-2 7 2-9 2zm-8 1l8-1 7 2-8 1zm-9 2l9-2 7 2-9 2z"/>
<path fill="#28b" d="M575 354l9-1 7 2-9 2zm-8 2l8-2 7 3-9 2zm-9 2l9-2 6 3-8 2z"/>
<path fill="#29b" d="M549 361l9-3 7 3-9 3zm-9 2l9-2 7 3-9 2zm-8 2l8-2 7 3-8 2z"/>
<path fill="#29c" d="M523 367l9-2 7 3-9 3z"/>
<path fill="#29b" d="M514 370l9-3 7 4-9 2zm-8 2l8-2 7 3-9 2zm-9 2l9-2 6 3-8 2z"/>
<path fill="#28b" d="M488 376l9-2 7 3-9 2zm-8 2l8-2 7 3-9 2zm-9 2l9-2 6 3-8 2z"/>
<path fill="#29b" d="M462 382l9-2 7 3-9 2zm-9 2l9-2 7 3-9 2z"/>
<path fill="#29c" d="M445 387l8-3 7 3-9 3zm-9 2l9-2 6 3-8 3zm-9 3l9-3 7 4-9 2zm-8 3l8-3 7 3-9 3zm-9 3l9-3 6 3-8 3zm-9 3l9-3 7 3-9 4zm-9 4l9-4 7 4-9 3zm-8 3l8-3 7 3-9 3zm-9 3l9-3 6 3-8 3zm-9 3l9-3 7 3-9 3zm-8 3l8-3 7 3-9 3zm-9 4l9-4 6 3-8 4zm-9 3l9-3 7 3-9 3zm-9 3l9-3 7 3-9 3zm-8 4l8-4 7 3-9 3zm-9 3l9-3 6 2-8 3z"/>
<path fill="#29b" d="M305 437l9-3 7 2-9 3zm-8 3l8-3 7 2-9 3z"/>
<path fill="#27a" d="M608 352l9-2 7 2-9 2z"/>
<path fill="#28a" d="M600 353l8-1 7 2-9 2zm-9 2l9-2 6 3-8 2z"/>
<path fill="#28b" d="M582 357l9-2 7 3-9 2zm-9 2l9-2 7 3-9 2zm-8 2l8-2 7 3-9 2z"/>
<path fill="#29b" d="M556 364l9-3 6 3-8 3zm-9 2l9-2 7 3-9 2z"/>
<path fill="#29c" d="M539 368l8-2 7 3-9 2z"/>
<path fill="#29b" d="M530 371l9-3 6 3-8 3zm-9 2l9-2 7 3-9 2zm-9 2l9-2 7 3-9 2z"/>
<path fill="#28b" d="M504 377l8-2 7 3-9 2zm-9 2l9-2 6 3-8 2zm-9 2l9-2 7 3-9 2zm-8 2l8-2 7 3-9 2z"/>
<path fill="#29b" d="M469 385l9-2 6 3-8 2zm-9 2l9-2 7 3-9 3z"/>
<path fill="#29c" d="M451 390l9-3 7 4-9 2zm-8 3l8-3 7 3-9 3zm-9 2l9-2 6 3-8 3zm-9 3l9-3 7 4-9 3zm-8 3l8-3 7 4-9 3zm-9 4l9-4 6 4-8 3zm-9 3l9-3 7 3-9 3zm-9 3l9-3 7 3-9 3zm-8 3l8-3 7 3-9 3zm-9 3l9-3 6 3-8 3zm-9 3l9-3 7 3-9 3zm-8 4l8-4 7 3-9 3zm-9 3l9-3 6 2-8 4zm-9 3l9-3 7 3-9 3z"/>
<path fill="#29b" d="M329 433l9-3 7 3-9 3zm-8 3l8-3 7 3-8 3zm-9 3l9-3 7 3-9 3z"/>
<path fill="#28b" d="M303 442l9-3 7 3-9 3z"/>
<path fill="#27a" d="M615 354l9-2 6 2-8 2z"/>
<path fill="#28a" d="M606 356l9-2 7 2-9 2zm-8 2l8-2 7 2-9 2z"/>
<path fill="#28b" d="M589 360l9-2 6 2-8 2zm-9 2l9-2 7 2-9 2zm-9 2l9-2 7 2-9 3zm-8 3l8-3 7 3-9 2z"/>
<path fill="#29b" d="M554 369l9-2 6 2-8 3z"/>
<path fill="#29c" d="M545 371l9-2 7 3-9 3z"/>
<path fill="#29b" d="M537 374l8-3 7 4-9 2zm-9 2l9-2 6 3-8 2z"/>
<path fill="#28b" d="M519 378l9-2 7 3-9 2zm-9 2l9-2 7 3-9 2zm-8 2l8-2 7 3-8 2zm-9 2l9-2 7 3-9 2z"/>
<path fill="#29b" d="M484 386l9-2 7 3-9 2zm-8 2l8-2 7 3-9 3z"/>
<path fill="#29c" d="M467 391l9-3 6 4-8 2zm-9 2l9-2 7 3-9 2zm-9 3l9-3 7 3-9 3zm-8 3l8-3 7 3-8 3zm-9 3l9-3 7 3-9 3zm-9 3l9-3 7 3-9 3zm-8 3l8-3 7 3-9 3zm-9 3l9-3 6 3-8 3zm-9 3l9-3 7 3-9 3zm-9 3l9-3 7 3-9 3zm-8 3l8-3 7 3-8 3zm-9 3l9-3 7 3-9 3zm-9 3l9-3 7 3-9 3z"/>
<path fill="#29b" d="M354 430l8-4 7 3-9 3zm-9 3l9-3 6 2-8 3zm-9 3l9-3 7 2-9 3z"/>
<path fill="#28b" d="M328 439l8-3 7 2-9 3zm-9 3l9-3 6 2-8 3zm-9 3l9-3 7 2-9 3z"/>
<path fill="#27a" d="M622 356l8-2 7 1-8 2z"/>
<path fill="#28a" d="M613 358l9-2 7 1-9 3zm-9 2l9-2 7 2-9 2z"/>
<path fill="#28b" d="M596 362l8-2 7 2-9 2zm-9 2l9-2 6 2-8 3zm-9 3l9-3 7 3-9 2zm-9 2l9-2 7 2-9 3z"/>
<path fill="#29b" d="M561 372l8-3 7 3-8 3z"/>
<path fill="#29c" d="M552 375l9-3 7 3-9 3zm-9 2l9-2 7 3-9 2z"/>
<path fill="#29b" d="M535 379l8-2 7 3-9 2zm-9 2l9-2 6 3-8 2zm-9 2l9-2 7 3-9 2zm-8 2l8-2 7 3-9 2zm-9 2l9-2 6 3-8 2z"/>
<path fill="#29c" d="M491 389l9-2 7 3-9 3zm-9 3l9-3 7 4-9 2zm-8 2l8-2 7 3-9 2zm-9 2l9-2 6 3-8 3zm-9 3l9-3 7 4-9 2zm-8 3l8-3 7 3-9 3zm-9 3l9-3 6 3-8 3zm-9 3l9-3 7 3-9 3zm-9 3l9-3 7 3-9 3zm-8 3l8-3 7 3-9 3zm-9 3l9-3 6 3-8 3zm-9 3l9-3 7 3-9 3zm-8 3l8-3 7 3-9 3z"/>
<path fill="#29b" d="M378 426l9-3 6 3-8 3zm-9 3l9-3 7 3-9 3zm-9 3l9-3 7 3-9 3zm-8 3l8-3 7 3-9 2z"/>
<path fill="#28b" d="M343 438l9-3 6 2-8 3zm-9 3l9-3 7 2-9 3zm-8 3l8-3 7 2-9 3zm-9 3l9-3 6 2-8 3z"/>
<path fill="#27a" d="M629 357l8-2 7 2-9 2z"/>
<path fill="#28a" d="M620 360l9-3 6 2-8 2zm-9 2l9-2 7 1-9 3z"/>
<path fill="#28b" d="M602 364l9-2 7 2-9 2zm-8 3l8-3 7 2-9 3zm-9 2l9-2 6 2-8 3z"/>
<path fill="#29b" d="M576 372l9-3 7 3-9 3z"/>
<path fill="#29c" d="M568 375l8-3 7 3-9 3zm-9 3l9-3 6 3-8 3zm-9 2l9-2 7 3-9 2z"/>
<path fill="#29b" d="M541 382l9-2 7 3-9 2zm-8 2l8-2 7 3-9 3zm-9 2l9-2 6 4-8 2zm-9 2l9-2 7 4-9 2z"/>
<path fill="#29c" d="M507 390l8-2 7 4-9 2zm-9 3l9-3 6 4-8 2zm-9 2l9-2 7 3-9 2zm-9 2l9-2 7 3-9 2zm-8 3l8-3 7 3-9 3zm-9 2l9-2 6 3-8 3zm-9 3l9-3 7 4-9 2zm-8 3l8-3 7 3-9 3zm-9 3l9-3 6 3-8 3zm-9 3l9-3 7 3-9 3zm-9 3l9-3 7 3-9 3zm-8 3l8-3 7 3-8 3z"/>
<path fill="#29b" d="M402 423l9-3 7 3-9 2zm-9 3l9-3 7 2-9 3zm-8 3l8-3 7 2-9 3zm-9 3l9-3 6 2-8 3z"/>
<path fill="#28b" d="M367 435l9-3 7 2-9 3zm-9 2l9-2 7 2-9 3zm-8 3l8-3 7 3-8 3zm-9 3l9-3 7 3-9 2zm-9 3l9-3 7 2-9 3zm-8 3l8-3 7 2-9 3z"/>
<path fill="#27a" d="M635 359l9-2 7 1-9 2z"/>
<path fill="#28a" d="M627 361l8-2 7 1-9 3zm-9 3l9-3 6 2-8 2z"/>
<path fill="#28b" d="M609 366l9-2 7 1-9 3zm-9 3l9-3 7 2-9 3zm-8 3l8-3 7 2-9 3z"/>
<path fill="#29c" d="M583 375l9-3 6 2-8 4zm-9 3l9-3 7 3-9 3zm-8 3l8-3 7 3-9 3zm-9 2l9-2 6 3-8 2z"/>
<path fill="#29b" d="M548 385l9-2 7 3-9 3zm-9 3l9-3 7 4-9 2zm-8 2l8-2 7 3-8 2z"/>
<path fill="#29c" d="M522 392l9-2 7 3-9 2zm-9 2l9-2 7 3-9 2zm-8 2l8-2 7 3-9 2z"/>
<path fill="#29b" d="M496 398l9-2 6 3-8 2z"/>
<path fill="#29c" d="M487 400l9-2 7 3-9 3zm-9 3l9-3 7 4-9 2zm-8 3l8-3 7 3-8 3zm-9 2l9-2 7 3-9 3zm-9 3l9-3 7 4-9 2zm-8 3l8-3 7 3-9 3zm-9 3l9-3 6 3-8 3zm-9 3l9-3 7 3-9 3z"/>
<path fill="#29b" d="M418 423l8-3 7 3-9 2zm-9 2l9-2 6 2-8 3zm-9 3l9-3 7 3-9 3z"/>
<path fill="#28b" d="M391 431l9-3 7 3-9 3zm-8 3l8-3 7 3-9 2zm-9 3l9-3 6 2-8 3zm-9 3l9-3 7 2-9 3zm-8 3l8-3 7 2-9 3zm-9 2l9-2 6 2-8 3zm-9 3l9-3 7 3-9 2zm-9 3l9-3 7 2-9 3z"/>
<path fill="#27a" d="M642 360l9-2 7 0-9 3z"/>
<path fill="#28a" d="M633 363l9-3 7 1-9 3zm-8 2l8-2 7 1-9 3z"/>
<path fill="#28b" d="M616 368l9-3 6 2-8 3zm-9 3l9-3 7 2-9 3z"/>
<path fill="#29c" d="M598 374l9-3 7 2-9 4zm-8 4l8-4 7 3-8 4zm-9 3l9-3 7 3-9 3zm-9 3l9-3 7 3-9 3zm-8 2l8-2 7 3-9 3z"/>
<path fill="#29b" d="M555 389l9-3 6 4-8 2zm-9 2l9-2 7 3-9 2z"/>
<path fill="#29c" d="M538 393l8-2 7 3-9 2zm-9 2l9-2 6 3-8 3zm-9 2l9-2 7 4-9 2z"/>
<path fill="#29b" d="M511 399l9-2 7 4-9 2zm-8 2l8-2 7 4-9 2z"/>
<path fill="#29c" d="M494 404l9-3 6 4-8 2zm-9 2l9-2 7 3-9 2zm-8 3l8-3 7 3-9 3zm-9 3l9-3 6 3-8 3zm-9 2l9-2 7 3-9 2zm-9 3l9-3 7 3-9 3z"/>
<path fill="#29b" d="M442 420l8-3 7 3-9 3zm-9 3l9-3 6 3-8 2zm-9 2l9-2 7 2-9 3z"/>
<path fill="#28b" d="M416 428l8-3 7 3-9 3zm-9 3l9-3 6 3-8 2zm-9 3l9-3 7 2-9 3zm-9 2l9-2 7 2-9 3zm-8 3l8-3 7 3-9 2zm-9 3l9-3 6 2-8 3zm-9 3l9-3 7 2-9 3zm-8 3l8-3 7 2-9 3zm-9 2l9-2 6 2-8 2zm-9 3l9-3 7 2-9 3z"/>
<path fill="#27a" d="M649 361l9-3 6 1-8 3z"/>
<path fill="#28a" d="M640 364l9-3 7 1-9 3zm-9 3l9-3 7 1-9 4z"/>
<path fill="#28b" d="M623 370l8-3 7 2-9 3z"/>
<path fill="#29b" d="M614 373l9-3 6 2-8 4z"/>
<path fill="#29c" d="M605 377l9-4 7 3-9 4zm-8 4l8-4 7 3-9 4zm-9 3l9-3 6 3-8 3zm-9 3l9-3 7 3-9 3zm-9 3l9-3 7 3-9 3zm-8 2l8-2 7 3-9 2zm-9 2l9-2 6 3-8 3zm-9 2l9-2 7 4-9 2zm-8 3l8-3 7 4-9 2z"/>
<path fill="#29b" d="M527 401l9-2 6 3-8 2zm-9 2l9-2 7 3-9 2zm-9 2l9-2 7 3-9 2z"/>
<path fill="#29c" d="M501 407l8-2 7 3-8 2zm-9 2l9-2 7 3-9 3zm-9 3l9-3 7 4-9 2zm-8 3l8-3 7 3-9 3zm-9 2l9-2 6 3-8 2z"/>
<path fill="#29b" d="M457 420l9-3 7 3-9 3zm-9 3l9-3 7 3-9 2z"/>
<path fill="#28b" d="M440 425l8-2 7 2-8 3zm-9 3l9-3 7 3-9 3zm-9 3l9-3 7 3-9 2zm-8 2l8-2 7 2-9 3zm-9 3l9-3 6 3-8 2zm-9 3l9-3 7 2-9 3zm-9 2l9-2 7 2-9 3zm-8 3l8-3 7 3-8 2zm-9 3l9-3 7 2-9 3zm-9 3l9-3 7 2-9 2zm-8 2l8-2 7 1-9 3z"/>
<path fill="#28a" d="M344 455l9-3 6 2-8 3z"/>
<path fill="#27a" d="M656 362l8-3 7 1-9 3z"/>
<path fill="#28a" d="M647 365l9-3 6 1-8 3z"/>
<path fill="#28b" d="M638 369l9-4 7 1-9 4z"/>
<path fill="#29b" d="M629 372l9-3 7 1-9 4z"/>
<path fill="#29c" d="M621 376l8-4 7 2-8 4zm-9 4l9-4 7 2-9 5zm-9 4l9-4 7 3-9 3zm-8 3l8-3 7 2-9 4zm-9 3l9-3 6 3-8 3zm-9 3l9-3 7 3-9 3zm-9 2l9-2 7 3-9 2zm-8 3l8-3 7 3-8 3zm-9 2l9-2 7 3-9 2zm-9 2l9-2 7 3-9 2z"/>
<path fill="#29b" d="M534 404l8-2 7 3-9 2zm-9 2l9-2 6 3-8 2zm-9 2l9-2 7 3-9 2z"/>
<path fill="#29c" d="M508 410l8-2 7 3-9 3zm-9 3l9-3 6 4-8 2zm-9 2l9-2 7 3-9 2zm-9 3l9-3 7 3-9 3z"/>
<path fill="#29b" d="M473 420l8-2 7 3-9 2zm-9 3l9-3 6 3-8 3z"/>
<path fill="#28b" d="M455 425l9-2 7 3-9 2zm-8 3l8-3 7 3-9 3zm-9 3l9-3 6 3-8 2zm-9 2l9-2 7 2-9 3zm-9 3l9-3 7 3-9 2zm-8 2l8-2 7 2-9 3zm-9 3l9-3 6 3-8 2zm-9 3l9-3 7 2-9 3zm-8 2l8-2 7 2-9 2zm-9 3l9-3 6 2-8 3zm-9 2l9-2 7 2-9 2z"/>
<path fill="#28a" d="M359 454l9-3 7 2-9 3zm-8 3l8-3 7 2-9 2zm311-94l9-3 7 0-9 4z"/>
<path fill="#28b" d="M654 366l8-3 7 1-9 4zm-9 4l9-4 6 2-8 4z"/>
<path fill="#29c" d="M636 374l9-4 7 2-9 5zm-8 4l8-4 7 3-9 4zm-9 5l9-5 6 3-8 4zm-9 3l9-3 7 2-9 4zm-9 4l9-4 7 3-9 4zm-8 3l8-3 7 3-9 3zm-9 3l9-3 6 3-8 3zm-9 2l9-2 7 3-9 3zm-8 3l8-3 7 4-9 2zm-9 2l9-2 6 3-8 2z"/>
<path fill="#29b" d="M549 405l9-2 7 3-9 3zm-9 2l9-2 7 4-9 2zm-8 2l8-2 7 4-9 2zm-9 2l9-2 6 4-8 2z"/>
<path fill="#29c" d="M514 414l9-3 7 4-9 2zm-8 2l8-2 7 3-9 2zm-9 2l9-2 6 3-8 3z"/>
<path fill="#29b" d="M488 421l9-3 7 4-9 2z"/>
<path fill="#28b" d="M479 423l9-2 7 3-9 2zm-8 3l8-3 7 3-9 2zm-9 2l9-2 6 2-8 3zm-9 3l9-3 7 3-9 2zm-8 2l8-2 7 2-9 2zm-9 3l9-3 6 2-8 3zm-9 2l9-2 7 2-9 2zm-9 3l9-3 7 2-9 3zm-8 2l8-2 7 2-9 2zm-9 3l9-3 6 2-8 3zm-9 2l9-2 7 2-9 2zm-8 3l8-3 7 2-9 3z"/>
<path fill="#28a" d="M375 453l9-2 6 2-8 2zm-9 3l9-3 7 2-9 3zm-9 2l9-2 7 2-9 2zm312-94l9-4 7 1-9 4z"/>
<path fill="#28b" d="M660 368l9-4 7 1-9 4z"/>
<path fill="#29c" d="M652 372l8-4 7 1-9 5zm-9 5l9-5 6 2-8 5zm-9 4l9-4 7 2-9 5zm-8 4l8-4 7 3-9 4zm-9 4l9-4 6 3-8 4zm-9 4l9-4 7 3-9 4zm-9 3l9-3 7 3-9 3zm-8 3l8-3 7 3-9 3zm-9 3l9-3 6 3-8 3z"/>
<path fill="#29b" d="M573 404l9-2 7 3-9 2zm-8 2l8-2 7 3-9 3zm-9 3l9-3 6 4-8 2zm-9 2l9-2 7 3-9 2zm-9 2l9-2 7 3-9 2zm-8 2l8-2 7 3-8 2zm-9 2l9-2 7 3-9 2z"/>
<path fill="#29c" d="M512 419l9-2 7 3-9 2z"/>
<path fill="#29b" d="M504 422l8-3 7 3-9 3zm-9 2l9-2 6 3-8 2z"/>
<path fill="#28b" d="M486 426l9-2 7 3-9 2zm-9 2l9-2 7 3-9 2zm-8 3l8-3 7 3-8 2zm-9 2l9-2 7 2-9 3zm-9 2l9-2 7 3-9 2zm-8 3l8-3 7 3-9 2zm-9 2l9-2 6 2-8 3zm-9 3l9-3 7 3-9 2zm-9 2l9-2 7 2-9 3zm-8 3l8-3 7 3-8 2zm-9 2l9-2 7 2-9 2z"/>
<path fill="#28a" d="M390 453l9-3 7 2-9 3zm-8 2l8-2 7 2-9 2zm-9 3l9-3 6 2-8 2zm-9 2l9-2 7 1-9 3z"/>
</g>
<g transform="scale(.5)" stroke="#000" stroke-opacity="0.65" stroke-width="0.9" stroke-linejoin="round">
<path fill="#dc1" d="M434 135l7 1 5-1-7 0zm-7-1l7 1 5 0-6-1zm-6 0l6 0 6 0-7-1z"/>
<path fill="#db1" d="M414 133l7 1 5-1-7 0z"/>
<path fill="#cb1" d="M407 133l7 0 5 0-7 0zm-7 0l7 0 5 0-7 0z"/>
<path fill="#db1" d="M393 133l7 0 5 0-6 0zm-7 0l7 0 6 0-7 1zm-6 2l6-2 6 1-7 2zm-7 1l7-1 5 1-7 2zm-7 2l7-2 5 2-7 3z"/>
<path fill="#eb1" d="M359 141l7-3 5 3-7 3z"/>
<path fill="#ec1" d="M352 145l7-4 5 3-6 3zm-6 4l6-4 6 2-7 5zm-7 5l7-5 5 3-7 4z"/>
<path fill="#ed1" d="M332 158l7-4 5 2-7 5zm-7 5l7-5 5 3-7 5zm-7 5l7-5 5 3-6 4zm-7 4l7-4 6 2-7 4zm-6 4l6-4 6 2-7 4z"/>
<path fill="#dd1" d="M298 179l7-3 5 2-7 2zm-7 3l7-3 5 1-7 2z"/>
<path fill="#dc1" d="M284 183l7-1 5 0-7 2z"/>
<path fill="#cc1" d="M277 184l7-1 5 1-6 0zm-6-1l6 1 6 0-7-1z"/>
<path fill="#dc1" d="M264 181l7 2 5 0-7-2zm-7-3l7 3 5 0-7-3z"/>
<path fill="#db1" d="M250 175l7 3 5 0-7-3zm-7-3l7 3 5 0-6-3z"/>
<path fill="#da1" d="M236 168l7 4 6 0-7-3zm-6-3l6 3 6 1-7-3z"/>
<path fill="#c91" d="M223 162l7 3 5 1-7-3zm-7-3l7 3 5 1-7-2z"/>
<path fill="#d81" d="M209 157l7 2 5 2-6-1z"/>
<path fill="#d82" d="M202 156l7 1 6 3-7 0zm-6 0l6 0 6 4-7 1z"/>
<path fill="#e82" d="M189 157l7-1 5 5-7 1z"/>
<path fill="#e92" d="M182 159l7-2 5 5-7 2zm-7 2l7-2 5 5-7 3zm-7 3l7-3 5 6-6 4z"/>
<path fill="#f92" d="M161 169l7-5 6 7-7 5z"/>
<path fill="#fa2" d="M155 174l6-5 6 7-7 6zm-7 6l7-6 5 8-7 6z"/>
<path fill="#fb2" d="M141 186l7-6 5 8-7 8z"/>
<path fill="#fc1" d="M134 194l7-8 5 10-6 8zm-7 8l7-8 6 10-7 9z"/>
<path fill="#dc1" d="M439 135l7 0 6-1-7 0zm-6-1l6 1 6-1-7-1z"/>
<path fill="#db1" d="M426 133l7 1 5-1-7 0zm-7 0l7 0 5 0-7 0z"/>
<path fill="#cb1" d="M412 133l7 0 5 0-6 0z"/>
<path fill="#db1" d="M405 133l7 0 6 0-7 0zm-6 0l6 0 6 0-7 1zm-7 1l7-1 5 1-7 1zm-7 2l7-2 5 1-7 2zm-7 2l7-2 5 1-7 3z"/>
<path fill="#eb1" d="M371 141l7-3 5 2-6 3zm-7 3l7-3 6 2-7 3z"/>
<path fill="#ec1" d="M358 147l6-3 6 2-7 4zm-7 5l7-5 5 3-7 4zm-7 4l7-4 5 2-7 5z"/>
<path fill="#ed1" d="M337 161l7-5 5 3-6 4zm-7 5l7-5 6 2-7 5zm-6 4l6-4 6 2-7 4zm-7 4l7-4 5 2-7 4z"/>
<path fill="#dd1" d="M310 178l7-4 5 2-7 3zm-7 2l7-2 5 1-7 2z"/>
<path fill="#dc1" d="M296 182l7-2 5 1-6 2zm-7 2l7-2 6 1-7 1z"/>
<path fill="#cc1" d="M283 184l6 0 6 0-7 0zm-7-1l7 1 5 0-7-1z"/>
<path fill="#dc1" d="M269 181l7 2 5 0-7-2zm-7-3l7 3 5 0-6-2z"/>
<path fill="#db1" d="M255 175l7 3 6 1-7-3zm-6-3l6 3 6 1-7-3z"/>
<path fill="#da1" d="M242 169l7 3 5 1-7-3z"/>
<path fill="#d91" d="M235 166l7 3 5 1-7-3z"/>
<path fill="#c91" d="M228 163l7 3 5 1-7-1z"/>
<path fill="#d91" d="M221 161l7 2 5 3-6-1zm-6-1l6 1 6 4-7-1z"/>
<path fill="#d92" d="M208 160l7 0 5 4-7 0zm-7 1l7-1 5 4-7 1z"/>
<path fill="#e92" d="M194 162l7-1 5 4-7 2zm-7 2l7-2 5 5-6 3zm-7 3l7-3 6 6-7 3z"/>
<path fill="#ea2" d="M174 171l6-4 6 6-7 5z"/>
<path fill="#fa2" d="M167 176l7-5 5 7-7 5zm-7 6l7-6 5 7-7 7z"/>
<path fill="#fb2" d="M153 188l7-6 5 8-7 7z"/>
<path fill="#fc1" d="M146 196l7-8 5 9-6 8z"/>
<path fill="#fd1" d="M140 204l6-8 6 9-7 9zm-7 9l7-9 5 10-7 9z"/>
<path fill="#db1" d="M445 134l7 0 5-1-7 0zm-7-1l7 1 5-1-7 0zm-7 0l7 0 5 0-7 0z"/>
<path fill="#cb1" d="M424 133l7 0 5 0-6 0z"/>
<path fill="#da1" d="M418 133l6 0 6 0-7 0zm-7 0l7 0 5 0-7 1zm-7 1l7-1 5 1-7 1z"/>
<path fill="#db1" d="M397 135l7-1 5 1-7 2zm-7 2l7-2 5 2-6 3z"/>
<path fill="#eb1" d="M383 140l7-3 6 3-7 2zm-6 3l6-3 6 2-7 3zm-7 3l7-3 5 2-7 3z"/>
<path fill="#ec1" d="M363 150l7-4 5 2-7 4zm-7 4l7-4 5 2-7 4zm-7 5l7-5 5 2-6 5z"/>
<path fill="#ed1" d="M343 163l6-4 6 2-7 5zm-7 5l7-5 5 3-7 4zm-7 4l7-4 5 2-7 4zm-7 4l7-4 5 2-7 3z"/>
<path fill="#dd1" d="M315 179l7-3 5 1-6 3z"/>
<path fill="#dc1" d="M308 181l7-2 6 1-7 2zm-6 2l6-2 6 1-7 2zm-7 1l7-1 5 1-7 1z"/>
<path fill="#cc1" d="M288 184l7 0 5 1-7 0zm-7-1l7 1 5 1-7-2z"/>
<path fill="#dc1" d="M274 181l7 2 5 0-6-1z"/>
<path fill="#db1" d="M268 179l6 2 6 1-7-3zm-7-3l7 3 5 0-7-3z"/>
<path fill="#da1" d="M254 173l7 3 5 0-7-2zm-7-3l7 3 5 1-7-3z"/>
<path fill="#c91" d="M240 167l7 3 5 1-6-1z"/>
<path fill="#d91" d="M233 166l7 1 6 3-7-1zm-6-1l6 1 6 3-7-1zm-7-1l7 1 5 3-7-1z"/>
<path fill="#d92" d="M213 164l7 0 5 3-7 1z"/>
<path fill="#e92" d="M206 165l7-1 5 4-7 1zm-7 2l7-2 5 4-6 3zm-6 3l6-3 6 5-7 3z"/>
<path fill="#ea2" d="M186 173l7-3 5 5-7 4z"/>
<path fill="#fa2" d="M179 178l7-5 5 6-7 5zm-7 5l7-5 5 6-7 6z"/>
<path fill="#fb2" d="M165 190l7-7 5 7-6 7z"/>
<path fill="#fc1" d="M158 197l7-7 6 7-7 8zm-6 8l6-8 6 8-7 9z"/>
<path fill="#fd1" d="M145 214l7-9 5 9-7 10z"/>
<path fill="#fe1" d="M138 223l7-9 5 10-7 10z"/>
<path fill="#db1" d="M450 133l7 0 5 0-7-1zm-7 0l7 0 5-1-6 0z"/>
<path fill="#ca1" d="M436 133l7 0 6-1-7 0zm-6 0l6 0 6-1-7 1z"/>
<path fill="#da1" d="M423 133l7 0 5 0-7 1zm-7 1l7-1 5 1-7 1zm-7 1l7-1 5 1-7 2z"/>
<path fill="#db1" d="M402 137l7-2 5 2-6 2z"/>
<path fill="#eb1" d="M396 140l6-3 6 2-7 3zm-7 2l7-2 5 2-7 2zm-7 3l7-3 5 2-7 3zm-7 3l7-3 5 2-7 4z"/>
<path fill="#ec1" d="M368 152l7-4 5 3-6 3zm-7 4l7-4 6 2-7 5zm-6 5l6-5 6 3-7 4z"/>
<path fill="#ed1" d="M348 166l7-5 5 2-7 5zm-7 4l7-4 5 2-7 4zm-7 4l7-4 5 2-7 4z"/>
<path fill="#dd1" d="M327 177l7-3 5 2-6 2z"/>
<path fill="#dc1" d="M321 180l6-3 6 1-7 3zm-7 2l7-2 5 1-7 2zm-7 2l7-2 5 1-7 1zm-7 1l7-1 5 0-7 1z"/>
<path fill="#cc1" d="M293 185l7 0 5 0-6 0zm-7-2l7 2 6 0-7-1z"/>
<path fill="#db1" d="M280 182l6 1 6 1-7-2zm-7-3l7 3 5 0-7-2zm-7-3l7 3 5 1-7-3z"/>
<path fill="#da1" d="M259 174l7 2 5 1-7-2z"/>
<path fill="#c91" d="M252 171l7 3 5 1-6-2z"/>
<path fill="#d91" d="M246 170l6 1 6 2-7-1zm-7-1l7 1 5 2-7 0zm-7-1l7 1 5 3-7-1zm-7-1l7 1 5 3-7 0z"/>
<path fill="#d92" d="M218 168l7-1 5 4-6 0z"/>
<path fill="#e92" d="M211 169l7-1 6 3-7 2zm-6 3l6-3 6 4-7 3z"/>
<path fill="#ea2" d="M198 175l7-3 5 4-7 4zm-7 4l7-4 5 5-7 5z"/>
<path fill="#fa2" d="M184 184l7-5 5 6-7 6z"/>
<path fill="#fb2" d="M177 190l7-6 5 7-6 6z"/>
<path fill="#fc1" d="M171 197l6-7 6 7-7 7zm-7 8l7-8 5 7-7 9z"/>
<path fill="#fd1" d="M157 214l7-9 5 8-7 10z"/>
<path fill="#fe1" d="M150 224l7-10 5 9-7 10z"/>
<path fill="#ff1" d="M143 234l7-10 5 9-6 10z"/>
<path fill="#db1" d="M455 132l7 1 5-1-6 0z"/>
<path fill="#ca1" d="M449 132l6 0 6 0-7 0zm-7 0l7 0 5 0-7 1z"/>
<path fill="#da1" d="M435 133l7-1 5 1-7 0zm-7 1l7-1 5 0-7 2zm-7 1l7-1 5 1-6 1z"/>
<path fill="#db1" d="M414 137l7-2 6 1-7 3zm-6 2l6-2 6 2-7 2z"/>
<path fill="#eb1" d="M401 142l7-3 5 2-7 3zm-7 2l7-2 5 2-7 3zm-7 3l7-3 5 3-7 3zm-7 4l7-4 5 3-6 3z"/>
<path fill="#ec1" d="M374 154l6-3 6 2-7 4zm-7 5l7-5 5 3-7 4zm-7 4l7-4 5 2-7 5z"/>
<path fill="#ed1" d="M353 168l7-5 5 3-7 4zm-7 4l7-4 5 2-6 4z"/>
<path fill="#dd1" d="M339 176l7-4 6 2-7 3z"/>
<path fill="#dc1" d="M333 178l6-2 6 1-7 2zm-7 3l7-3 5 1-7 2zm-7 2l7-2 5 0-7 2zm-7 1l7-1 5 0-7 2zm-7 1l7-1 5 1-6 1z"/>
<path fill="#cc1" d="M299 185l6 0 6 1-7 0z"/>
<path fill="#cb1" d="M292 184l7 1 5 1-7-2z"/>
<path fill="#db1" d="M285 182l7 2 5 0-7-2zm-7-2l7 2 5 0-7-2z"/>
<path fill="#da1" d="M271 177l7 3 5 0-6-2z"/>
<path fill="#ca1" d="M264 175l7 2 6 1-7-1z"/>
<path fill="#da1" d="M258 173l6 2 6 2-7-1z"/>
<path fill="#d91" d="M251 172l7 1 5 3-7-1zm-7 0l7 0 5 3-7-1zm-7-1l7 1 5 2-6 0zm-7 0l7 0 6 3-7 0z"/>
<path fill="#d92" d="M224 171l6 0 6 3-7 1z"/>
<path fill="#e92" d="M217 173l7-2 5 4-7 2z"/>
<path fill="#ea2" d="M210 176l7-3 5 4-7 4zm-7 4l7-4 5 5-7 4z"/>
<path fill="#fa2" d="M196 185l7-5 5 5-6 6z"/>
<path fill="#fb2" d="M189 191l7-6 6 6-7 6z"/>
<path fill="#fb1" d="M183 197l6-6 6 6-7 7z"/>
<path fill="#fc1" d="M176 204l7-7 5 7-7 8z"/>
<path fill="#fd1" d="M169 213l7-9 5 8-7 9z"/>
<path fill="#fe1" d="M162 223l7-10 5 8-6 11z"/>
<path fill="#ff1" d="M155 233l7-10 6 9-7 10z"/>
<path fill="#fe2" d="M149 243l6-10 6 9-7 11z"/>
<path fill="#ca1" d="M461 132l6 0 6-1-7 1zm-7 0l7 0 5 0-7 0z"/>
<path fill="#da1" d="M447 133l7-1 5 0-7 1zm-7 0l7 0 5 0-6 1zm-7 2l7-2 6 1-7 2zm-6 1l6-1 6 1-7 2z"/>
<path fill="#db1" d="M420 139l7-3 5 2-7 3z"/>
<path fill="#eb1" d="M413 141l7-2 5 2-7 2zm-7 3l7-3 5 2-7 3zm-7 3l7-3 5 2-6 3zm-7 3l7-3 6 2-7 3zm-6 3l6-3 6 2-7 3z"/>
<path fill="#ec1" d="M379 157l7-4 5 2-7 4zm-7 4l7-4 5 2-7 4zm-7 5l7-5 5 2-6 5zm-7 4l7-4 6 2-7 4z"/>
<path fill="#dc1" d="M352 174l6-4 6 2-7 3zm-7 3l7-3 5 1-7 3zm-7 2l7-2 5 1-7 2zm-7 2l7-2 5 1-7 2zm-7 2l7-2 5 1-6 2zm-7 2l7-2 6 1-7 2zm-6 1l6-1 6 1-7 0z"/>
<path fill="#cc1" d="M304 186l7 0 5 0-7 0z"/>
<path fill="#cb1" d="M297 184l7 2 5 0-7-1z"/>
<path fill="#db1" d="M290 182l7 2 5 1-6-2zm-7-2l7 2 6 1-7-2z"/>
<path fill="#ca1" d="M277 178l6 2 6 1-7-1z"/>
<path fill="#da1" d="M270 177l7 1 5 2-7-1zm-7-1l7 1 5 2-7-1z"/>
<path fill="#d91" d="M256 175l7 1 5 2-7-1zm-7-1l7 1 5 2-6 0zm-6 0l6 0 6 3-7 0zm-7 0l7 0 5 3-7 0z"/>
<path fill="#d92" d="M229 175l7-1 5 3-7 2z"/>
<path fill="#e92" d="M222 177l7-2 5 4-7 3z"/>
<path fill="#ea2" d="M215 181l7-4 5 5-6 3zm-7 4l7-4 6 4-7 5z"/>
<path fill="#fb2" d="M202 191l6-6 6 5-7 6z"/>
<path fill="#fb1" d="M195 197l7-6 5 5-7 6z"/>
<path fill="#fc1" d="M188 204l7-7 5 5-7 8z"/>
<path fill="#fd1" d="M181 212l7-8 5 6-7 9z"/>
<path fill="#fe1" d="M174 221l7-9 5 7-6 10zm-6 11l6-11 6 8-7 11z"/>
<path fill="#fe2" d="M161 242l7-10 5 8-7 11z"/>
<path fill="#ee2" d="M154 253l7-11 5 9-7 10z"/>
<path fill="#ca1" d="M466 132l7-1 5 0-7 1z"/>
<path fill="#da1" d="M459 132l7 0 5 0-7 1zm-7 1l7-1 5 1-6 1zm-6 1l6-1 6 1-7 2zm-7 2l7-2 5 2-7 2z"/>
<path fill="#db1" d="M432 138l7-2 5 2-7 2zm-7 3l7-3 5 2-7 3z"/>
<path fill="#eb1" d="M418 143l7-2 5 2-6 3zm-7 3l7-3 6 3-7 2zm-6 3l6-3 6 2-7 3zm-7 3l7-3 5 2-7 3zm-7 3l7-3 5 2-7 4z"/>
<path fill="#ec1" d="M384 159l7-4 5 3-7 3zm-7 4l7-4 5 2-6 5zm-6 5l6-5 6 3-7 4zm-7 4l7-4 5 2-7 3z"/>
<path fill="#dc1" d="M357 175l7-3 5 1-7 3zm-7 3l7-3 5 1-7 3zm-7 2l7-2 5 1-6 2zm-7 2l7-2 6 1-7 3zm-6 2l6-2 6 2-7 1zm-7 2l7-2 5 1-7 2zm-7 0l7 0 5 1-7 0z"/>
<path fill="#cb1" d="M309 186l7 0 5 1-7 0zm-7-1l7 1 5 1-6-1z"/>
<path fill="#db1" d="M296 183l6 2 6 1-7-2z"/>
<path fill="#ca1" d="M289 181l7 2 5 1-7-1z"/>
<path fill="#da1" d="M282 180l7 1 5 2-7-1zm-7-1l7 1 5 2-7-1zm-7-1l7 1 5 2-6-1z"/>
<path fill="#d91" d="M261 177l7 1 6 2-7 0zm-6 0l6 0 6 3-7-1zm-7 0l7 0 5 2-7 1zm-7 0l7 0 5 3-7 1z"/>
<path fill="#e92" d="M234 179l7-2 5 4-7 1z"/>
<path fill="#ea2" d="M227 182l7-3 5 3-6 4zm-6 3l6-3 6 4-7 4zm-7 5l7-5 5 5-7 5z"/>
<path fill="#fb1" d="M207 196l7-6 5 5-7 6z"/>
<path fill="#fc1" d="M200 202l7-6 5 5-7 7zm-7 8l7-8 5 6-6 9z"/>
<path fill="#fd1" d="M186 219l7-9 6 7-7 10z"/>
<path fill="#fe1" d="M180 229l6-10 6 8-7 10zm-7 11l7-11 5 8-7 10z"/>
<path fill="#ee2" d="M166 251l7-11 5 7-7 11zm-7 10l7-10 5 7-7 10z"/>
<path fill="#da1" d="M471 132l7-1 5 0-6 1zm-7 1l7-1 6 0-7 1zm-6 1l6-1 6 0-7 2zm-7 2l7-2 5 1-7 2zm-7 2l7-2 5 1-7 3zm-7 2l7-2 5 2-7 2z"/>
<path fill="#db1" d="M430 143l7-3 5 2-6 3z"/>
<path fill="#eb1" d="M424 146l6-3 6 2-7 3zm-7 2l7-2 5 2-7 3zm-7 3l7-3 5 3-7 3zm-7 3l7-3 5 3-7 3zm-7 4l7-4 5 3-6 3z"/>
<path fill="#ec1" d="M389 161l7-3 6 2-7 4zm-6 5l6-5 6 3-7 4zm-7 4l7-4 5 2-7 4z"/>
<path fill="#dc1" d="M369 173l7-3 5 2-7 3zm-7 3l7-3 5 2-7 3zm-7 3l7-3 5 2-6 2zm-6 2l6-2 6 1-7 3zm-7 3l7-3 5 2-7 2zm-7 1l7-1 5 1-7 1zm-7 2l7-2 5 1-7 1zm-7 0l7 0 5 0-6 1z"/>
<path fill="#db1" d="M314 187l7 0 6 1-7 0z"/>
<path fill="#cb1" d="M308 186l6 1 6 1-7-2z"/>
<path fill="#ca1" d="M301 184l7 2 5 0-7-1z"/>
<path fill="#da1" d="M294 183l7 1 5 1-7 0zm-7-1l7 1 5 2-7-1zm-7-1l7 1 5 2-6-1zm-6-1l6 1 6 2-7-1z"/>
<path fill="#d91" d="M267 180l7 0 5 2-7 0zm-7-1l7 1 5 2-7 0zm-7 1l7-1 5 3-7 0zm-7 1l7-1 5 2-6 2z"/>
<path fill="#e92" d="M239 182l7-1 6 3-7 2z"/>
<path fill="#ea2" d="M233 186l6-4 6 4-7 4zm-7 4l7-4 5 4-7 4z"/>
<path fill="#eb1" d="M219 195l7-5 5 4-7 6z"/>
<path fill="#fb1" d="M212 201l7-6 5 5-7 7z"/>
<path fill="#fc1" d="M205 208l7-7 5 6-6 8z"/>
<path fill="#fd1" d="M199 217l6-9 6 7-7 9z"/>
<path fill="#fe1" d="M192 227l7-10 5 7-7 9zm-7 10l7-10 5 6-7 11z"/>
<path fill="#ee2" d="M178 247l7-10 5 7-7 10zm-7 11l7-11 5 7-6 10z"/>
<path fill="#ee3" d="M164 268l7-10 6 6-7 10z"/>
<path fill="#da1" d="M477 132l6-1 6 1-7 1zm-7 1l7-1 5 1-7 2zm-7 2l7-2 5 2-7 2zm-7 2l7-2 5 2-7 2zm-7 3l7-3 5 2-6 3zm-7 2l7-2 6 2-7 2z"/>
<path fill="#eb1" d="M436 145l6-3 6 2-7 3zm-7 3l7-3 5 2-7 3zm-7 3l7-3 5 2-7 3zm-7 3l7-3 5 2-7 3zm-7 3l7-3 5 2-6 3zm-6 3l6-3 6 2-7 3z"/>
<path fill="#ec1" d="M395 164l7-4 5 2-7 4zm-7 4l7-4 5 2-7 4zm-7 4l7-4 5 2-7 3z"/>
<path fill="#dc1" d="M374 175l7-3 5 1-6 3zm-7 3l7-3 6 1-7 3zm-6 2l6-2 6 1-7 3zm-7 3l7-3 5 2-7 2zm-7 2l7-2 5 1-7 2zm-7 1l7-1 5 1-7 1zm-7 1l7-1 5 1-6 2z"/>
<path fill="#db1" d="M327 188l6-1 6 2-7 0zm-7 0l7 0 5 1-7 0z"/>
<path fill="#cb1" d="M313 186l7 2 5 1-7-1z"/>
<path fill="#da1" d="M306 185l7 1 5 2-7-1zm-7 0l7 0 5 2-6-1zm-7-1l7 1 6 1-7 0zm-6-1l6 1 6 2-7-1zm-7-1l7 1 5 2-7-1z"/>
<path fill="#d91" d="M272 182l7 0 5 2-7 0zm-7 0l7 0 5 2-6 0zm-7 0l7 0 6 2-7 1zm-6 2l6-2 6 3-7 2z"/>
<path fill="#ea2" d="M245 186l7-2 5 3-7 3zm-7 4l7-4 5 4-7 3z"/>
<path fill="#ea1" d="M231 194l7-4 5 3-7 5z"/>
<path fill="#eb1" d="M224 200l7-6 5 4-6 7z"/>
<path fill="#fc1" d="M217 207l7-7 6 5-7 7zm-6 8l6-8 6 5-7 8z"/>
<path fill="#fd1" d="M204 224l7-9 5 5-7 9z"/>
<path fill="#fe1" d="M197 233l7-9 5 5-7 10zm-7 11l7-11 5 6-6 10z"/>
<path fill="#ee2" d="M183 254l7-10 6 5-7 10zm-6 10l6-10 6 5-7 10z"/>
<path fill="#de3" d="M170 274l7-10 5 5-7 10z"/>
<path fill="#da1" d="M482 133l7-1 5 0-7 2zm-7 2l7-2 5 1-7 2zm-7 2l7-2 5 1-6 3zm-7 2l7-2 6 2-7 2zm-6 3l6-3 6 2-7 3zm-7 2l7-2 5 2-7 3z"/>
<path fill="#eb1" d="M441 147l7-3 5 3-7 2zm-7 3l7-3 5 2-7 3zm-7 3l7-3 5 2-6 3zm-7 3l7-3 6 2-7 3zm-6 3l6-3 6 2-7 4zm-7 3l7-3 5 3-7 3z"/>
<path fill="#ec1" d="M400 166l7-4 5 3-7 4zm-7 4l7-4 5 3-6 3zm-7 3l7-3 6 2-7 3zm-6 3l6-3 6 2-7 3z"/>
<path fill="#dc1" d="M373 179l7-3 5 2-7 3zm-7 3l7-3 5 2-7 2zm-7 2l7-2 5 1-7 2zm-7 2l7-2 5 1-6 2zm-7 1l7-1 6 1-7 2zm-6 2l6-2 6 2-7 1z"/>
<path fill="#db1" d="M332 189l7 0 5 1-7 0zm-7 0l7 0 5 1-7 0zm-7-1l7 1 5 1-6-1z"/>
<path fill="#da1" d="M311 187l7 1 6 1-7 0zm-6-1l6 1 6 2-7-1zm-7 0l7 0 5 2-7-1zm-7-1l7 1 5 1-7-1z"/>
<path fill="#d91" d="M284 184l7 1 5 1-7 0zm-7 0l7 0 5 2-6 0zm-6 0l6 0 6 2-7 1zm-7 1l7-1 5 3-7 1zm-7 2l7-2 5 3-7 2z"/>
<path fill="#ea2" d="M250 190l7-3 5 3-7 3zm-7 3l7-3 5 3-6 4z"/>
<path fill="#eb1" d="M236 198l7-5 6 4-7 6z"/>
<path fill="#fb1" d="M230 205l6-7 6 5-7 6z"/>
<path fill="#fc1" d="M223 212l7-7 5 4-7 8z"/>
<path fill="#fd1" d="M216 220l7-8 5 5-7 8z"/>
<path fill="#fe1" d="M209 229l7-9 5 5-7 9zm-7 10l7-10 5 5-6 10z"/>
<path fill="#ee1" d="M196 249l6-10 6 5-7 9z"/>
<path fill="#ee2" d="M189 259l7-10 5 4-7 10z"/>
<path fill="#de2" d="M182 269l7-10 5 4-7 10z"/>
<path fill="#de3" d="M175 279l7-10 5 4-7 9z"/>
<path fill="#da1" d="M487 134l7-2 5 1-7 3zm-7 2l7-2 5 2-6 2zm-6 3l6-3 6 2-7 3zm-7 2l7-2 5 2-7 2zm-7 3l7-3 5 2-7 3z"/>
<path fill="#ea1" d="M453 147l7-3 5 2-7 3z"/>
<path fill="#eb1" d="M446 149l7-2 5 2-6 3zm-7 3l7-3 6 3-7 3zm-6 3l6-3 6 3-7 3zm-7 3l7-3 5 3-7 3zm-7 4l7-4 5 3-7 3zm-7 3l7-3 5 2-7 4z"/>
<path fill="#ec1" d="M405 169l7-4 5 3-6 3zm-6 3l6-3 6 2-7 3zm-7 3l7-3 5 2-7 3zm-7 3l7-3 5 2-7 3zm-7 3l7-3 5 2-7 3z"/>
<path fill="#dc1" d="M371 183l7-2 5 2-6 2zm-7 2l7-2 6 2-7 2zm-6 2l6-2 6 2-7 2zm-7 2l7-2 5 2-7 1z"/>
<path fill="#db1" d="M344 190l7-1 5 1-7 1zm-7 0l7 0 5 1-7 0zm-7 0l7 0 5 1-6 0zm-6-1l6 1 6 1-7-1z"/>
<path fill="#da1" d="M317 189l7 0 5 1-7 0zm-7-1l7 1 5 1-7-1zm-7-1l7 1 5 1-7-1zm-7-1l7 1 5 1-6 0z"/>
<path fill="#d91" d="M289 186l7 0 6 2-7 0zm-6 0l6 0 6 2-7 0zm-7 1l7-1 5 2-7 1zm-7 1l7-1 5 2-7 1z"/>
<path fill="#ea1" d="M262 190l7-2 5 2-7 3zm-7 3l7-3 5 3-6 3zm-6 4l6-4 6 3-7 5z"/>
<path fill="#eb1" d="M242 203l7-6 5 4-7 6z"/>
<path fill="#fb1" d="M235 209l7-6 5 4-7 6z"/>
<path fill="#fc1" d="M228 217l7-8 5 4-7 8z"/>
<path fill="#fd1" d="M221 225l7-8 5 4-6 8z"/>
<path fill="#ee1" d="M214 234l7-9 6 4-7 9zm-6 10l6-10 6 4-7 9z"/>
<path fill="#ee2" d="M201 253l7-9 5 3-7 9zm-7 10l7-10 5 3-7 9z"/>
<path fill="#de2" d="M187 273l7-10 5 2-7 10z"/>
<path fill="#dd3" d="M180 282l7-9 5 2-6 8z"/>
<path fill="#da1" d="M492 136l7-3 6 2-7 2zm-6 2l6-2 6 1-7 3zm-7 3l7-3 5 2-7 2zm-7 2l7-2 5 1-7 3zm-7 3l7-3 5 2-7 3z"/>
<path fill="#ea1" d="M458 149l7-3 5 2-6 3z"/>
<path fill="#eb1" d="M452 152l6-3 6 2-7 3zm-7 3l7-3 5 2-7 3zm-7 3l7-3 5 2-7 3zm-7 3l7-3 5 2-7 3zm-7 3l7-3 5 2-6 4zm-7 4l7-4 6 3-7 3z"/>
<path fill="#ec1" d="M411 171l6-3 6 2-7 4zm-7 3l7-3 5 3-7 3zm-7 3l7-3 5 3-7 3zm-7 3l7-3 5 3-7 3zm-7 3l7-3 5 3-6 2z"/>
<path fill="#dc1" d="M377 185l6-2 6 2-7 2zm-7 2l7-2 5 2-7 2zm-7 2l7-2 5 2-7 2zm-7 1l7-1 5 2-7 1z"/>
<path fill="#db1" d="M349 191l7-1 5 2-6 0zm-7 0l7 0 6 1-7 1zm-6 0l6 0 6 2-7-1z"/>
<path fill="#da1" d="M329 190l7 1 5 1-7 0zm-7 0l7 0 5 2-7-1zm-7-1l7 1 5 1-7-1zm-7-1l7 1 5 1-6-1z"/>
<path fill="#d91" d="M302 188l6 0 6 1-7 0zm-7 0l7 0 5 1-7 0zm-7 0l7 0 5 1-7 1zm-7 1l7-1 5 2-7 1zm-7 1l7-1 5 2-6 2z"/>
<path fill="#ea1" d="M267 193l7-3 6 3-7 3zm-6 3l6-3 6 3-7 3zm-7 5l7-5 5 3-7 5z"/>
<path fill="#eb1" d="M247 207l7-6 5 3-7 6zm-7 6l7-6 5 3-7 7z"/>
<path fill="#ec1" d="M233 221l7-8 5 4-6 7z"/>
<path fill="#ed1" d="M227 229l6-8 6 3-7 8zm-7 9l7-9 5 3-7 8z"/>
<path fill="#ee1" d="M213 247l7-9 5 2-7 9z"/>
<path fill="#ee2" d="M206 256l7-9 5 2-7 9z"/>
<path fill="#dd2" d="M199 265l7-9 5 2-6 8zm-7 10l7-10 6 1-7 9z"/>
<path fill="#cd3" d="M186 283l6-8 6 0-7 8z"/>
<path fill="#da1" d="M498 137l7-2 5 2-7 2zm-7 3l7-3 5 2-7 3z"/>
<path fill="#ea1" d="M484 142l7-2 5 2-7 3zm-7 3l7-3 5 3-6 3zm-7 3l7-3 6 3-7 2zm-6 3l6-3 6 2-7 3z"/>
<path fill="#eb1" d="M457 154l7-3 5 2-7 3zm-7 3l7-3 5 2-7 4zm-7 3l7-3 5 3-7 3zm-7 3l7-3 5 3-6 3zm-6 4l6-4 6 3-7 3zm-7 3l7-3 5 2-7 4z"/>
<path fill="#ec1" d="M416 174l7-4 5 3-7 3zm-7 3l7-3 5 2-7 3zm-7 3l7-3 5 2-6 3zm-7 3l7-3 6 2-7 3zm-6 2l6-2 6 2-7 3z"/>
<path fill="#dc1" d="M382 187l7-2 5 3-7 2zm-7 2l7-2 5 3-7 1zm-7 2l7-2 5 2-7 2z"/>
<path fill="#db1" d="M361 192l7-1 5 2-6 1zm-6 0l6 0 6 2-7 0zm-7 1l7-1 5 2-7 0zm-7-1l7 1 5 1-7 0z"/>
<path fill="#da1" d="M334 192l7 0 5 2-7-1zm-7-1l7 1 5 1-6-1zm-7-1l7 1 6 1-7-1zm-6-1l6 1 6 1-7 0z"/>
<path fill="#d91" d="M307 189l7 0 5 2-7 0zm-7 0l7 0 5 2-7 0zm-7 1l7-1 5 2-6 1zm-7 1l7-1 6 2-7 1z"/>
<path fill="#da1" d="M280 193l6-2 6 2-7 3z"/>
<path fill="#ea1" d="M273 196l7-3 5 3-7 2zm-7 3l7-3 5 2-7 4zm-7 5l7-5 5 3-7 5z"/>
<path fill="#eb1" d="M252 210l7-6 5 3-6 6zm-7 7l7-7 6 3-7 6z"/>
<path fill="#ec1" d="M239 224l6-7 6 2-7 8z"/>
<path fill="#ed1" d="M232 232l7-8 5 3-7 7zm-7 8l7-8 5 2-7 8z"/>
<path fill="#ee1" d="M218 249l7-9 5 2-6 9z"/>
<path fill="#ed1" d="M211 258l7-9 6 2-7 8z"/>
<path fill="#dd2" d="M205 266l6-8 6 1-7 8zm-7 9l7-9 5 1-7 8z"/>
<path fill="#cd2" d="M191 283l7-8 5 0-7 6z"/>
<path fill="#ea1" d="M503 139l7-2 5 2-7 3zm-7 3l7-3 5 3-6 3zm-7 3l7-3 6 3-7 2zm-6 3l6-3 6 2-7 3zm-7 2l7-2 5 2-7 3z"/>
<path fill="#eb1" d="M469 153l7-3 5 3-7 3zm-7 3l7-3 5 3-7 3zm-7 4l7-4 5 3-6 4zm-7 3l7-3 6 3-7 3zm-6 3l6-3 6 3-7 3zm-7 3l7-3 5 3-7 3z"/>
<path fill="#ec1" d="M428 173l7-4 5 3-7 4zm-7 3l7-3 5 3-6 3zm-7 3l7-3 6 3-7 3zm-6 3l6-3 6 3-7 3zm-7 3l7-3 5 3-7 3zm-7 3l7-3 5 3-7 2z"/>
<path fill="#dc1" d="M387 190l7-2 5 2-7 2zm-7 1l7-1 5 2-6 2zm-7 2l7-2 6 3-7 1z"/>
<path fill="#db1" d="M367 194l6-1 6 2-7 0zm-7 0l7 0 5 1-7 0zm-7 0l7 0 5 1-7 1zm-7 0l7 0 5 2-6-1z"/>
<path fill="#da1" d="M339 193l7 1 6 1-7 0zm-6-1l6 1 6 2-7-1zm-7-1l7 1 5 2-7-1zm-7 0l7 0 5 2-7 0z"/>
<path fill="#d91" d="M312 191l7 0 5 2-7 0zm-7 0l7 0 5 2-6 0zm-6 1l6-1 6 2-7 1zm-7 1l7-1 5 2-7 2z"/>
<path fill="#ea1" d="M285 196l7-3 5 3-7 2zm-7 2l7-2 5 2-7 3zm-7 4l7-4 5 3-6 4zm-7 5l7-5 6 3-7 4z"/>
<path fill="#eb1" d="M258 213l6-6 6 2-7 6zm-7 6l7-6 5 2-7 7z"/>
<path fill="#ec1" d="M244 227l7-8 5 3-7 7z"/>
<path fill="#ed1" d="M237 234l7-7 5 2-7 7zm-7 8l7-8 5 2-6 8zm-6 9l6-9 6 2-7 8zm-7 8l7-8 5 1-7 7z"/>
<path fill="#dd2" d="M210 267l7-8 5 0-7 8z"/>
<path fill="#cd2" d="M203 275l7-8 5 0-7 5z"/>
<path fill="#cc2" d="M196 281l7-6 5-3-6 5z"/>
<path fill="#ea1" d="M508 142l7-3 5 3-6 2zm-6 3l6-3 6 2-7 3zm-7 2l7-2 5 2-7 3zm-7 3l7-3 5 3-7 3z"/>
<path fill="#eb1" d="M481 153l7-3 5 3-7 3zm-7 3l7-3 5 3-6 3zm-7 3l7-3 6 3-7 3zm-6 4l6-4 6 3-7 3zm-7 3l7-3 5 2-7 3zm-7 3l7-3 5 2-7 4zm-7 3l7-3 5 3-7 3z"/>
<path fill="#ec1" d="M433 176l7-4 5 3-6 3zm-6 3l6-3 6 2-7 4zm-7 3l7-3 5 3-7 3zm-7 3l7-3 5 3-7 3zm-7 3l7-3 5 3-7 2zm-7 2l7-2 5 2-6 2z"/>
<path fill="#dc1" d="M392 192l7-2 6 2-7 2zm-6 2l6-2 6 2-7 1z"/>
<path fill="#db1" d="M379 195l7-1 5 1-7 1zm-7 0l7 0 5 1-7 1zm-7 0l7 0 5 2-7 0zm-7 1l7-1 5 2-6 0zm-6-1l6 1 6 1-7 0z"/>
<path fill="#da1" d="M345 195l7 0 5 2-7-1zm-7-1l7 1 5 1-7 0zm-7-1l7 1 5 2-7-1zm-7 0l7 0 5 2-6 0z"/>
<path fill="#d91" d="M317 193l7 0 6 2-7 0zm-6 0l6 0 6 2-7 0zm-7 1l7-1 5 2-7 2z"/>
<path fill="#da1" d="M297 196l7-2 5 3-7 2z"/>
<path fill="#ea1" d="M290 198l7-2 5 3-7 2zm-7 3l7-3 5 3-6 3zm-6 4l6-4 6 3-7 3zm-7 4l7-4 5 2-7 5z"/>
<path fill="#eb1" d="M263 215l7-6 5 3-7 6zm-7 7l7-7 5 3-7 6z"/>
<path fill="#ec1" d="M249 229l7-7 5 2-6 7zm-7 7l7-7 6 2-7 7z"/>
<path fill="#ed1" d="M236 244l6-8 6 2-7 7zm-7 8l7-8 5 1-7 7z"/>
<path fill="#dd1" d="M222 259l7-7 5 0-7 7zm-7 8l7-8 5 0-7 6z"/>
<path fill="#cc2" d="M208 272l7-5 5-2-6 4zm-6 5l6-5 6-3-7 3z"/>
<path fill="#ea1" d="M514 144l6-2 6 2-7 3zm-7 3l7-3 5 3-7 3zm-7 3l7-3 5 3-7 3zm-7 3l7-3 5 3-7 3z"/>
<path fill="#eb1" d="M486 156l7-3 5 3-6 3zm-6 3l6-3 6 3-7 3zm-7 3l7-3 5 3-7 3zm-7 3l7-3 5 3-7 3zm-7 3l7-3 5 3-7 3zm-7 4l7-4 5 3-6 3zm-7 3l7-3 6 2-7 4z"/>
<path fill="#ec1" d="M439 178l6-3 6 3-7 3zm-7 4l7-4 5 3-7 3zm-7 3l7-3 5 2-7 3zm-7 3l7-3 5 2-7 3zm-7 2l7-2 5 2-6 2z"/>
<path fill="#dc1" d="M405 192l6-2 6 2-7 2zm-7 2l7-2 5 2-7 2z"/>
<path fill="#db1" d="M391 195l7-1 5 2-7 1zm-7 1l7-1 5 2-7 1zm-7 1l7-1 5 2-6 0zm-7 0l7 0 6 1-7 0zm-6 0l6 0 6 1-7 1z"/>
<path fill="#da1" d="M357 197l7 0 5 2-7 0zm-7-1l7 1 5 2-7-1zm-7 0l7 0 5 2-7-1zm-7-1l7 1 5 1-6 0z"/>
<path fill="#d91" d="M330 195l6 0 6 2-7 0zm-7 0l7 0 5 2-7 0zm-7 0l7 0 5 2-7 1z"/>
<path fill="#da1" d="M309 197l7-2 5 3-7 2zm-7 2l7-2 5 3-6 1zm-7 2l7-2 6 2-7 3z"/>
<path fill="#ea1" d="M289 204l6-3 6 3-7 2zm-7 3l7-3 5 2-7 4zm-7 5l7-5 5 3-7 4z"/>
<path fill="#eb1" d="M268 218l7-6 5 2-7 6zm-7 6l7-6 5 2-6 6z"/>
<path fill="#ec1" d="M255 231l6-7 6 2-7 7zm-7 7l7-7 5 2-7 6z"/>
<path fill="#ed1" d="M241 245l7-7 5 1-7 7zm-7 7l7-7 5 1-7 6z"/>
<path fill="#dd1" d="M227 259l7-7 5 0-6 5z"/>
<path fill="#cc1" d="M220 265l7-6 6-2-7 4zm-6 4l6-4 6-4-7 3z"/>
<path fill="#dc1" d="M207 272l7-3 5-5-7 2z"/>
<path fill="#ea1" d="M519 147l7-3 5 3-7 3zm-7 3l7-3 5 3-7 3zm-7 3l7-3 5 3-6 3zm-7 3l7-3 6 3-7 3z"/>
<path fill="#eb1" d="M492 159l6-3 6 3-7 3zm-7 3l7-3 5 3-7 2zm-7 3l7-3 5 2-7 3zm-7 3l7-3 5 2-7 3zm-7 3l7-3 5 2-6 4zm-6 3l6-3 6 3-7 3zm-7 4l7-4 5 3-7 3z"/>
<path fill="#ec1" d="M444 181l7-3 5 2-7 4zm-7 3l7-3 5 3-7 3zm-7 3l7-3 5 3-6 3zm-7 3l7-3 6 3-7 2z"/>
<path fill="#dc1" d="M417 192l6-2 6 2-7 3zm-7 2l7-2 5 3-7 1z"/>
<path fill="#db1" d="M403 196l7-2 5 2-7 1zm-7 1l7-1 5 1-7 1zm-7 1l7-1 5 1-6 1zm-6 0l6 0 6 1-7 1zm-7 0l7 0 5 2-7 0zm-7 1l7-1 5 2-7 0z"/>
<path fill="#da1" d="M362 199l7 0 5 1-7 0zm-7-1l7 1 5 1-6 0zm-7-1l7 1 6 2-7-1zm-6 0l6 0 6 2-7 0z"/>
<path fill="#d91" d="M335 197l7 0 5 2-7 0zm-7 0l7 0 5 2-7 0zm-7 1l7-1 5 2-6 2zm-7 2l7-2 6 3-7 1zm-6 1l6-1 6 2-7 2z"/>
<path fill="#da1" d="M301 204l7-3 5 3-7 2z"/>
<path fill="#ea1" d="M294 206l7-2 5 2-7 3zm-7 4l7-4 5 3-7 3zm-7 4l7-4 5 2-6 4z"/>
<path fill="#eb1" d="M273 220l7-6 6 2-7 6zm-6 6l6-6 6 2-7 6z"/>
<path fill="#ec1" d="M260 233l7-7 5 2-7 6zm-7 6l7-6 5 1-7 6zm-7 7l7-7 5 1-6 6z"/>
<path fill="#dc1" d="M239 252l7-6 6 0-7 4zm-6 5l6-5 6-2-7 4zm-7 4l7-4 5-3-7 3zm-7 3l7-3 5-4-7 2z"/>
<path fill="#dd1" d="M212 266l7-2 5-5-7 1z"/>
<path fill="#ea1" d="M524 150l7-3 5 3-6 3zm-7 3l7-3 6 3-7 3zm-6 3l6-3 6 3-7 2zm-7 3l7-3 5 2-7 3zm-7 3l7-3 5 2-7 3z"/>
<path fill="#eb1" d="M490 164l7-2 5 2-7 3zm-7 3l7-3 5 3-6 3zm-7 3l7-3 6 3-7 3zm-6 4l6-4 6 3-7 3zm-7 3l7-3 5 2-7 4zm-7 3l7-3 5 3-7 3z"/>
<path fill="#ec1" d="M449 184l7-4 5 3-6 3zm-7 3l7-3 6 2-7 3zm-6 3l6-3 6 2-7 3zm-7 2l7-2 5 2-7 2z"/>
<path fill="#dc1" d="M422 195l7-3 5 2-7 2z"/>
<path fill="#db1" d="M415 196l7-1 5 1-7 2zm-7 1l7-1 5 2-6 1zm-7 1l7-1 6 2-7 1zm-6 1l6-1 6 2-7 0zm-7 1l7-1 5 1-7 1zm-7 0l7 0 5 1-7 0z"/>
<path fill="#da1" d="M374 200l7 0 5 1-6 1zm-7 0l7 0 6 2-7 0zm-6 0l6 0 6 2-7-1zm-7-1l7 1 5 1-7 0zm-7 0l7 0 5 2-7-1z"/>
<path fill="#d91" d="M340 199l7 0 5 1-7 1zm-7 0l7 0 5 2-6 1zm-6 2l6-2 6 3-7 1zm-7 1l7-1 5 2-7 1zm-7 2l7-2 5 2-7 2zm-7 2l7-2 5 2-7 2z"/>
<path fill="#da1" d="M299 209l7-3 5 2-6 3z"/>
<path fill="#ea1" d="M292 212l7-3 6 2-7 3zm-6 4l6-4 6 2-7 4z"/>
<path fill="#eb1" d="M279 222l7-6 5 2-7 6zm-7 6l7-6 5 2-7 5zm-7 6l7-6 5 1-7 6z"/>
<path fill="#ec1" d="M258 240l7-6 5 1-6 5z"/>
<path fill="#dc1" d="M252 246l6-6 6 0-7 4z"/>
<path fill="#db1" d="M245 250l7-4 5-2-7 4z"/>
<path fill="#dc1" d="M238 254l7-4 5-2-7 2zm-7 3l7-3 5-4-7 2zm-7 2l7-2 5-5-6 1zm-7 1l7-1 6-6-7 0z"/>
<path fill="#ea1" d="M530 153l6-3 6 2-7 3zm-7 3l7-3 5 2-7 3zm-7 2l7-2 5 2-7 3zm-7 3l7-3 5 3-7 2zm-7 3l7-3 5 2-6 3z"/>
<path fill="#eb1" d="M495 167l7-3 6 2-7 3zm-6 3l6-3 6 2-7 3zm-7 3l7-3 5 2-7 3zm-7 3l7-3 5 2-7 4zm-7 4l7-4 5 3-7 3zm-7 3l7-3 5 2-6 3zm-6 3l6-3 6 2-7 3z"/>
<path fill="#ec1" d="M448 189l7-3 5 2-7 3zm-7 3l7-3 5 2-7 3z"/>
<path fill="#dc1" d="M434 194l7-2 5 2-7 2z"/>
<path fill="#db1" d="M427 196l7-2 5 2-6 2zm-7 2l7-2 6 2-7 1zm-6 1l6-1 6 1-7 1zm-7 1l7-1 5 1-7 1zm-7 0l7 0 5 1-7 1zm-7 1l7-1 5 2-7 0zm-7 0l7 0 5 1-6 1z"/>
<path fill="#da1" d="M380 202l6-1 6 2-7 0zm-7 0l7 0 5 1-7 0zm-7-1l7 1 5 1-7-1zm-7 0l7 0 5 1-7 0zm-7-1l7 1 5 1-6 0z"/>
<path fill="#d91" d="M345 201l7-1 6 2-7 1zm-6 1l6-1 6 2-7 1zm-7 1l7-1 5 2-7 1zm-7 1l7-1 5 2-7 1zm-7 2l7-2 5 2-7 2zm-7 2l7-2 5 2-6 2z"/>
<path fill="#da1" d="M305 211l6-3 6 2-7 3z"/>
<path fill="#ea1" d="M298 214l7-3 5 2-7 3zm-7 4l7-4 5 2-7 4zm-7 6l7-6 5 2-7 5z"/>
<path fill="#eb1" d="M277 229l7-5 5 1-6 5zm-7 6l7-6 6 1-7 5z"/>
<path fill="#db1" d="M264 240l6-5 6 0-7 4zm-7 4l7-4 5-1-7 3zm-7 4l7-4 5-2-7 2zm-7 2l7-2 5-4-7 1zm-7 2l7-2 5-5-6 1zm-6 1l6-1 6-6-7 1z"/>
<path fill="#eb1" d="M223 253l7 0 5-6-7-1z"/>
<path fill="#ea1" d="M535 155l7-3 5 3-7 2zm-7 3l7-3 5 2-7 3z"/>
<path fill="#da1" d="M521 161l7-3 5 2-7 3zm-7 2l7-2 5 2-6 2z"/>
<path fill="#ea1" d="M508 166l6-3 6 2-7 3z"/>
<path fill="#eb1" d="M501 169l7-3 5 2-7 3zm-7 3l7-3 5 2-7 4zm-7 3l7-3 5 3-7 3zm-7 4l7-4 5 3-6 3zm-7 3l7-3 6 2-7 3zm-6 3l6-3 6 2-7 3zm-7 3l7-3 5 2-7 3zm-7 3l7-3 5 2-7 3z"/>
<path fill="#db1" d="M446 194l7-3 5 2-7 3zm-7 2l7-2 5 2-6 2zm-6 2l6-2 6 2-7 1zm-7 1l7-1 5 1-7 2zm-7 1l7-1 5 2-7 1zm-7 1l7-1 5 2-7 1zm-7 1l7-1 5 2-6 0zm-7 0l7 0 6 1-7 1z"/>
<path fill="#da1" d="M392 203l6-1 6 2-7 0zm-7 0l7 0 5 1-7 0zm-7 0l7 0 5 1-7 0zm-7-1l7 1 5 1-7 0zm-7 0l7 0 5 2-6 0z"/>
<path fill="#d91" d="M358 202l6 0 6 2-7 0zm-7 1l7-1 5 2-7 1zm-7 1l7-1 5 2-7 1zm-7 1l7-1 5 2-7 1zm-7 1l7-1 5 2-6 1zm-7 2l7-2 6 2-7 2zm-6 2l6-2 6 2-7 2zm-7 3l7-3 5 2-7 2z"/>
<path fill="#da1" d="M303 216l7-3 5 1-7 3z"/>
<path fill="#ea1" d="M296 220l7-4 5 1-7 5zm-7 5l7-5 5 2-6 4z"/>
<path fill="#da1" d="M283 230l6-5 6 1-7 4zm-7 5l7-5 5 0-7 4zm-7 4l7-4 5-1-7 2zm-7 3l7-3 5-3-7 2zm-7 2l7-2 5-4-6 2z"/>
<path fill="#db1" d="M248 245l7-1 6-4-7 1zm-6 1l6-1 6-4-7 0zm-7 1l7-1 5-5-7 0z"/>
<path fill="#eb1" d="M228 246l7 1 5-6-7-1z"/>
<path fill="#da1" d="M540 157l7-2 5 2-7 2zm-7 3l7-3 5 2-6 3zm-7 3l7-3 6 2-7 3zm-6 2l6-2 6 2-7 3z"/>
<path fill="#ea1" d="M513 168l7-3 5 3-7 3z"/>
<path fill="#eb1" d="M506 171l7-3 5 3-7 3zm-7 4l7-4 5 3-7 3zm-7 3l7-3 5 2-6 3zm-6 3l6-3 6 2-7 3zm-7 3l7-3 5 2-7 3zm-7 3l7-3 5 2-7 4zm-7 3l7-3 5 3-7 2z"/>
<path fill="#db1" d="M458 193l7-3 5 2-6 3zm-7 3l7-3 6 2-7 2zm-6 2l6-2 6 1-7 2zm-7 1l7-1 5 1-7 2zm-7 2l7-2 5 2-7 1zm-7 1l7-1 5 1-7 1zm-7 1l7-1 5 1-6 1zm-6 0l6 0 6 1-7 0z"/>
<path fill="#da1" d="M404 204l7-1 5 1-7 1zm-7 0l7 0 5 1-7 0zm-7 0l7 0 5 1-7 0zm-7 0l7 0 5 1-6 0zm-7 0l7 0 6 1-7 0z"/>
<path fill="#d91" d="M370 204l6 0 6 1-7 0zm-7 0l7 0 5 1-7 1zm-7 1l7-1 5 2-7 0zm-7 1l7-1 5 1-6 1zm-7 1l7-1 6 1-7 1zm-6 1l6-1 6 1-7 2zm-7 2l7-2 5 2-7 1zm-7 2l7-2 5 1-7 2zm-7 2l7-2 5 1-7 3zm-7 3l7-3 5 2-6 3z"/>
<path fill="#da1" d="M301 222l7-5 6 2-7 4zm-6 4l6-4 6 1-7 4zm-7 4l7-4 5 1-7 3zm-7 4l7-4 5 0-7 2zm-7 2l7-2 5-2-6 2zm-7 2l7-2 6-2-7 1zm-6 2l6-2 6-3-7 1zm-7 1l7-1 5-4-7 0zm-7 0l7 0 5-5-7 0zm-7 0l7 0 5-5-7-1z"/>
<path fill="#ea1" d="M233 240l7 1 5-6-6-1z"/>
<path fill="#da1" d="M545 159l7-2 6 1-7 3zm-6 3l6-3 6 2-7 3zm-7 3l7-3 5 2-7 2zm-7 3l7-3 5 1-7 3z"/>
<path fill="#ea1" d="M518 171l7-3 5 1-7 4zm-7 3l7-3 5 2-6 3z"/>
<path fill="#eb1" d="M504 177l7-3 6 2-7 3zm-6 3l6-3 6 2-7 3zm-7 3l7-3 5 2-7 3zm-7 3l7-3 5 2-7 3zm-7 4l7-4 5 2-6 3z"/>
<path fill="#db1" d="M470 192l7-2 6 1-7 3zm-6 3l6-3 6 2-7 2zm-7 2l7-2 5 1-7 3zm-7 2l7-2 5 2-7 1zm-7 2l7-2 5 1-7 2zm-7 1l7-1 5 1-6 1zm-7 1l7-1 6 1-7 1zm-6 1l6-1 6 1-7 1z"/>
<path fill="#da1" d="M416 204l7 0 5 1-7 0zm-7 1l7-1 5 1-7 1zm-7 0l7 0 5 1-6 0zm-7 0l7 0 6 1-7 0zm-6 0l6 0 6 1-7 0z"/>
<path fill="#d91" d="M382 205l7 0 5 1-7 0zm-7 0l7 0 5 1-7 0zm-7 1l7-1 5 1-7 1zm-7 0l7 0 5 1-6 0zm-6 1l6-1 6 1-7 1zm-7 1l7-1 5 1-7 2zm-7 2l7-2 5 2-7 1zm-7 1l7-1 5 1-7 2zm-7 2l7-2 5 2-6 2zm-7 3l7-3 6 2-7 2zm-6 3l6-3 6 1-7 3zm-7 4l7-4 5 1-7 3zm-7 4l7-4 5 0-7 3zm-7 3l7-3 5-1-7 2z"/>
<path fill="#c91" d="M286 232l7-2 5-2-6 2z"/>
<path fill="#d91" d="M280 234l6-2 6-2-7 1zm-7 1l7-1 5-3-7 1zm-7 1l7-1 5-3-7 0zm-7 0l7 0 5-4-7 0zm-7 0l7 0 5-4-6 0z"/>
<path fill="#d92" d="M245 235l7 1 6-4-7-2zm-6-1l6 1 6-5-7-2z"/>
<path fill="#da1" d="M551 161l7-3 5 2-7 2zm-7 3l7-3 5 1-7 3zm-7 2l7-2 5 1-7 3zm-7 3l7-3 5 2-6 3zm-7 4l7-4 6 2-7 3zm-6 3l6-3 6 1-7 4z"/>
<path fill="#eb1" d="M510 179l7-3 5 2-7 3zm-7 3l7-3 5 2-7 3z"/>
<path fill="#db1" d="M496 185l7-3 5 2-7 3zm-7 3l7-3 5 2-6 3zm-6 3l6-3 6 2-7 3zm-7 3l7-3 5 2-7 2zm-7 2l7-2 5 1-7 3zm-7 3l7-3 5 2-7 2zm-7 1l7-1 5 1-6 1zm-7 2l7-2 6 1-7 2zm-6 1l6-1 6 1-7 1z"/>
<path fill="#da1" d="M435 204l7-1 5 1-7 1zm-7 1l7-1 5 1-7 0zm-7 0l7 0 5 0-7 1zm-7 1l7-1 5 1-6 0zm-6 0l6 0 6 0-7 0zm-7 0l7 0 5 0-7 0z"/>
<path fill="#c91" d="M394 206l7 0 5 0-7 0z"/>
<path fill="#d91" d="M387 206l7 0 5 0-7 1zm-7 0l7 0 5 1-6 0zm-7 1l7-1 6 1-7 0zm-6 0l6 0 6 0-7 1zm-7 1l7-1 5 1-7 1zm-7 2l7-2 5 1-7 1zm-7 1l7-1 5 0-7 2zm-7 2l7-2 5 1-6 2zm-6 2l6-2 6 1-7 2zm-7 2l7-2 5 1-7 2zm-7 3l7-3 5 1-7 3zm-7 3l7-3 5 1-7 3zm-7 3l7-3 5 1-6 2zm-7 2l7-2 6 0-7 1z"/>
<path fill="#c91" d="M292 230l6-2 6-1-7 2zm-7 1l7-1 5-1-7 1z"/>
<path fill="#d91" d="M278 232l7-1 5-1-7 0zm-7 0l7 0 5-2-7 0zm-7 0l7 0 5-2-6-1z"/>
<path fill="#d82" d="M258 232l6 0 6-3-7-1zm-7-2l7 2 5-4-7-1zm-7-2l7 2 5-3-7-3z"/>
<path fill="#d91" d="M556 162l7-2 5 1-7 2z"/>
<path fill="#da1" d="M549 165l7-3 5 1-7 3zm-7 3l7-3 5 1-6 3zm-6 3l6-3 6 1-7 3zm-7 3l7-3 5 1-7 4zm-7 4l7-4 5 2-7 3zm-7 3l7-3 5 1-7 3zm-7 3l7-3 5 1-6 3z"/>
<path fill="#db1" d="M501 187l7-3 6 1-7 3zm-6 3l6-3 6 1-7 3zm-7 3l7-3 5 1-7 3zm-7 2l7-2 5 1-7 2zm-7 3l7-3 5 1-7 3zm-7 2l7-2 5 1-6 1zm-6 1l6-1 6 0-7 2z"/>
<path fill="#da1" d="M454 203l7-2 5 1-7 1zm-7 1l7-1 5 0-7 1zm-7 1l7-1 5 0-7 1zm-7 0l7 0 5 0-6 1zm-7 1l7-1 6 1-7 0z"/>
<path fill="#ca1" d="M420 206l6 0 6 0-7 0z"/>
<path fill="#c91" d="M413 206l7 0 5 0-7 1zm-7 0l7 0 5 1-7-1zm-7 0l7 0 5 0-7 0zm-7 1l7-1 5 0-6 1zm-6 0l6 0 6 0-7 0zm-7 0l7 0 5 0-7 1z"/>
<path fill="#d91" d="M372 208l7-1 5 1-7 0zm-7 1l7-1 5 0-7 1zm-7 1l7-1 5 0-6 2zm-7 2l7-2 6 1-7 1zm-6 2l6-2 6 0-7 2zm-7 2l7-2 5 0-7 3zm-7 2l7-2 5 1-7 2zm-7 3l7-3 5 1-7 3zm-7 3l7-3 5 1-6 2zm-6 2l6-2 6 0-7 2zm-7 1l7-1 5 0-7 1z"/>
<path fill="#c91" d="M297 229l7-2 5 0-7 1z"/>
<path fill="#c81" d="M290 230l7-1 5-1-7 1zm-7 0l7 0 5-1-6 0z"/>
<path fill="#d81" d="M276 230l7 0 6-1-7-1z"/>
<path fill="#d82" d="M270 229l6 1 6-2-7 0zm-7-1l7 1 5-1-7-2zm-7-1l7 1 5-2-7-2z"/>
<path fill="#d72" d="M249 224l7 3 5-3-7-2z"/>
<path fill="#d91" d="M561 163l7-2 5 0-6 3zm-7 3l7-3 6 1-7 3zm-6 3l6-3 6 1-7 3z"/>
<path fill="#da1" d="M541 172l7-3 5 1-7 3zm-7 4l7-4 5 1-7 3zm-7 3l7-3 5 0-7 4zm-7 3l7-3 5 1-6 3zm-6 3l6-3 6 1-7 3zm-7 3l7-3 5 1-7 3zm-7 3l7-3 5 1-7 3z"/>
<path fill="#db1" d="M493 194l7-3 5 1-7 3zm-7 2l7-2 5 1-6 2z"/>
<path fill="#da1" d="M479 199l7-3 6 1-7 2zm-6 1l6-1 6 0-7 2zm-7 2l7-2 5 1-7 1zm-7 1l7-1 5 0-7 2zm-7 1l7-1 5 1-7 0zm-7 1l7-1 5 0-6 1zm-6 1l6-1 6 0-7 1z"/>
<path fill="#ca1" d="M432 206l7 0 5 0-7 0z"/>
<path fill="#c91" d="M425 206l7 0 5 0-7 1zm-7 1l7-1 5 1-7 0zm-7-1l7 1 5 0-6-1zm-7 0l7 0 6 0-7 0zm-6 1l6-1 6 0-7 0z"/>
<path fill="#c81" d="M391 207l7 0 5-1-7 1zm-7 1l7-1 5 0-7 1zm-7 0l7 0 5 0-6 0zm-7 1l7-1 6 0-7 1z"/>
<path fill="#d81" d="M364 211l6-2 6 0-7 2zm-7 1l7-1 5 0-7 2zm-7 2l7-2 5 1-7 2z"/>
<path fill="#d92" d="M343 217l7-3 5 1-7 2zm-7 2l7-2 5 0-6 3z"/>
<path fill="#d91" d="M329 222l7-3 6 1-7 3zm-6 2l6-2 6 1-7 2zm-7 2l7-2 5 1-7 1z"/>
<path fill="#d81" d="M309 227l7-1 5 0-7 1z"/>
<path fill="#c81" d="M302 228l7-1 5 0-6 1zm-7 1l7-1 6 0-7 0zm-6 0l6 0 6-1-7 0z"/>
<path fill="#d82" d="M282 228l7 1 5-1-7-1zm-7 0l7 0 5-1-7-1zm-7-2l7 2 5-2-7-2z"/>
<path fill="#d72" d="M261 224l7 2 5-2-6-2zm-7-2l7 2 6-2-7-2z"/>
<path fill="#d91" d="M567 164l6-3 6 0-7 3zm-7 3l7-3 5 0-7 3zm-7 3l7-3 5 0-7 3zm-7 3l7-3 5 0-7 3z"/>
<path fill="#da1" d="M539 176l7-3 5 0-6 4zm-7 4l7-4 6 1-7 3zm-6 3l6-3 6 0-7 3zm-7 3l7-3 5 0-7 4zm-7 3l7-3 5 1-7 3zm-7 3l7-3 5 1-6 3zm-7 3l7-3 6 1-7 3zm-6 2l6-2 6 1-7 2zm-7 2l7-2 5 1-7 2zm-7 2l7-2 5 1-7 1zm-7 1l7-1 5 0-7 2zm-7 2l7-2 5 1-6 1zm-7 0l7 0 6 0-7 1zm-6 1l6-1 6 1-7 0z"/>
<path fill="#c91" d="M444 206l7-1 5 0-7 1z"/>
<path fill="#d91" d="M437 206l7 0 5 0-7 0z"/>
<path fill="#c91" d="M430 207l7-1 5 0-6 1zm-7 0l7 0 6 0-7-1zm-6-1l6 1 6-1-7 0zm-7 0l7 0 5 0-7 0z"/>
<path fill="#c81" d="M403 206l7 0 5 0-7 0zm-7 1l7-1 5 0-7 1zm-7 1l7-1 5 0-6 0zm-6 0l6 0 6-1-7 1zm-7 1l7-1 5 0-7 1zm-7 2l7-2 5 0-7 2z"/>
<path fill="#d82" d="M362 213l7-2 5 0-7 2zm-7 2l7-2 5 0-6 2zm-7 2l7-2 6 0-7 3z"/>
<path fill="#d92" d="M342 220l6-3 6 1-7 3zm-7 3l7-3 5 1-7 2z"/>
<path fill="#d81" d="M328 225l7-2 5 0-7 2zm-7 1l7-1 5 0-7 1z"/>
<path fill="#c81" d="M314 227l7-1 5 0-6 1zm-6 1l6-1 6 0-7 1zm-7 0l7 0 5 0-7 0z"/>
<path fill="#c82" d="M294 228l7 0 5 0-7-1z"/>
<path fill="#d82" d="M287 227l7 1 5-1-7-1z"/>
<path fill="#d72" d="M280 226l7 1 5-1-6-1zm-7-2l7 2 6-1-7-2z"/>
<path fill="#c72" d="M267 222l6 2 6-1-7-1zm-7-2l7 2 5 0-7-2z"/>
<path fill="#d91" d="M572 164l7-3 5 0-7 3zm-7 3l7-3 5 0-7 3zm-7 3l7-3 5 0-6 3zm-7 3l7-3 6 0-7 3zm-6 4l6-4 6 0-7 4zm-7 3l7-3 5 0-7 3z"/>
<path fill="#da1" d="M531 183l7-3 5 0-7 4zm-7 4l7-4 5 1-7 4zm-7 3l7-3 5 1-6 3zm-6 3l6-3 6 1-7 3zm-7 3l7-3 5 1-7 3zm-7 2l7-2 5 1-7 1zm-7 2l7-2 5 0-7 2zm-7 1l7-1 5 0-6 2zm-7 2l7-2 6 1-7 1zm-6 1l6-1 6 0-7 1zm-7 1l7-1 5 0-7 1z"/>
<path fill="#d91" d="M456 205l7 0 5 0-7 0zm-7 1l7-1 5 0-7 1zm-7 0l7 0 5 0-6 1z"/>
<path fill="#c91" d="M436 207l6-1 6 1-7-1zm-7-1l7 1 5-1-7 0zm-7 0l7 0 5 0-7 0z"/>
<path fill="#c81" d="M415 206l7 0 5 0-7 0zm-7 0l7 0 5 0-6 0zm-7 1l7-1 6 0-7 0zm-6 0l6 0 6-1-7 1zm-7 1l7-1 5 0-7 1z"/>
<path fill="#c82" d="M381 209l7-1 5 0-7 1z"/>
<path fill="#d82" d="M374 211l7-2 5 0-7 2zm-7 2l7-2 5 0-6 3zm-6 2l6-2 6 1-7 2zm-7 3l7-3 5 1-7 3zm-7 3l7-3 5 1-7 3zm-7 2l7-2 5 1-7 2zm-7 2l7-2 5 1-6 2zm-7 1l7-1 6 1-7 1z"/>
<path fill="#c81" d="M320 227l6-1 6 1-7 1zm-7 1l7-1 5 1-7 0z"/>
<path fill="#c82" d="M306 228l7 0 5 0-7 0z"/>
<path fill="#c72" d="M299 227l7 1 5 0-7-1zm-7-1l7 1 5 0-6-1zm-6-1l6 1 6 0-7-1zm-7-2l7 2 5 0-7-2zm-7-1l7 1 5 0-7-1z"/>
<path fill="#c62" d="M265 220l7 2 5 0-7-1z"/>
<path fill="#d82" d="M577 164l7-3 5-1-7 3z"/>
<path fill="#d81" d="M570 167l7-3 5-1-6 4z"/>
<path fill="#d91" d="M564 170l6-3 6 0-7 3zm-7 3l7-3 5 0-7 4zm-7 4l7-4 5 1-7 3zm-7 3l7-3 5 0-7 4z"/>
<path fill="#da1" d="M536 184l7-4 5 1-6 4zm-7 4l7-4 6 1-7 4zm-6 3l6-3 6 1-7 3zm-7 3l7-3 5 1-7 3zm-7 3l7-3 5 1-7 2zm-7 1l7-1 5 0-7 2zm-7 2l7-2 5 1-6 1zm-6 2l6-2 6 0-7 2zm-7 1l7-1 5 0-7 1z"/>
<path fill="#d91" d="M475 204l7-1 5 0-7 1zm-7 1l7-1 5 0-7 1zm-7 0l7 0 5 0-6 1zm-7 1l7-1 6 1-7 0z"/>
<path fill="#c91" d="M448 207l6-1 6 0-7 0zm-7-1l7 1 5-1-7 0zm-7 0l7 0 5 0-7-1z"/>
<path fill="#c81" d="M427 206l7 0 5-1-7 0zm-7 0l7 0 5-1-6 0zm-6 0l6 0 6-1-7 0zm-7 0l7 0 5-1-7 1z"/>
<path fill="#c82" d="M400 207l7-1 5 0-7 1zm-7 1l7-1 5 0-7 1z"/>
<path fill="#d82" d="M386 209l7-1 5 0-6 2zm-7 2l7-2 6 1-7 2zm-6 3l6-3 6 1-7 2zm-7 2l7-2 5 0-7 3zm-7 3l7-3 5 1-7 3zm-7 3l7-3 5 1-7 3zm-7 2l7-2 5 1-6 2zm-6 2l6-2 6 1-7 1zm-7 1l7-1 5 0-7 2z"/>
<path fill="#c82" d="M325 228l7-1 5 1-7 0zm-7 0l7 0 5 0-7 0z"/>
<path fill="#c72" d="M311 228l7 0 5 0-6 0zm-7-1l7 1 6 0-7-1zm-6-1l6 1 6 0-7-1zm-7-1l7 1 5 0-7 0zm-7-2l7 2 5 1-7-1z"/>
<path fill="#c62" d="M277 222l7 1 5 2-7-1zm-7-1l7 1 5 2-6-1z"/>
<path fill="#d82" d="M582 163l7-3 6 0-7 3zm-6 4l6-4 6 0-7 4zm-7 3l7-3 5 0-7 3z"/>
<path fill="#d92" d="M562 174l7-4 5 0-7 4z"/>
<path fill="#d91" d="M555 177l7-3 5 0-7 4zm-7 4l7-4 5 1-6 4zm-6 4l6-4 6 1-7 4z"/>
<path fill="#da1" d="M535 189l7-4 5 1-7 3zm-7 3l7-3 5 0-7 4zm-7 3l7-3 5 1-7 2zm-7 2l7-2 5 0-6 3zm-7 2l7-2 6 1-7 1zm-6 1l6-1 6 0-7 2z"/>
<path fill="#d91" d="M494 202l7-2 5 1-7 1zm-7 1l7-1 5 0-7 1zm-7 1l7-1 5 0-7 1zm-7 1l7-1 5 0-6 1zm-6 1l6-1 6 0-7 1z"/>
<path fill="#c91" d="M460 206l7 0 5 0-7 0zm-7 0l7 0 5 0-7 0zm-7 0l7 0 5 0-7-1z"/>
<path fill="#c81" d="M439 205l7 1 5-1-6 0zm-7 0l7 0 6 0-7 0zm-6 0l6 0 6 0-7 0z"/>
<path fill="#c82" d="M419 205l7 0 5 0-7 0z"/>
<path fill="#c72" d="M412 206l7-1 5 0-7 1zm-7 1l7-1 5 0-6 1zm-7 1l7-1 6 0-7 1z"/>
<path fill="#d82" d="M392 210l6-2 6 0-7 2zm-7 2l7-2 5 0-7 3zm-7 2l7-2 5 1-7 2zm-7 3l7-3 5 1-7 3zm-7 3l7-3 5 1-6 3zm-7 3l7-3 6 1-7 3zm-6 2l6-2 6 1-7 2zm-7 1l7-1 5 1-7 2zm-7 2l7-2 5 2-7 1zm-7 0l7 0 5 1-6 0z"/>
<path fill="#c72" d="M323 228l7 0 6 1-7 0zm-6 0l6 0 6 1-7 0zm-7-1l7 1 5 1-7-1zm-7-1l7 1 5 1-7 0zm-7 0l7 0 5 2-7 0zm-7-1l7 1 5 2-6-1z"/>
<path fill="#c62" d="M282 224l7 1 6 2-7-1zm-6-1l6 1 6 2-7-1z"/>
<path fill="#d82" d="M588 163l7-3 5 0-7 3zm-7 4l7-4 5 0-7 4zm-7 3l7-3 5 0-7 4z"/>
<path fill="#d92" d="M567 174l7-4 5 1-6 4zm-7 4l7-4 6 1-7 4zm-6 4l6-4 6 1-7 4z"/>
<path fill="#d91" d="M547 186l7-4 5 1-7 4zm-7 3l7-3 5 1-7 3zm-7 4l7-4 5 1-6 3z"/>
<path fill="#da1" d="M526 195l7-2 6 0-7 3z"/>
<path fill="#d91" d="M520 198l6-3 6 1-7 2zm-7 1l7-1 5 0-7 2zm-7 2l7-2 5 1-7 1zm-7 1l7-1 5 0-7 1zm-7 1l7-1 5 0-6 2zm-7 1l7-1 6 1-7 1zm-6 1l6-1 6 1-7 1z"/>
<path fill="#c91" d="M472 206l7-1 5 1-7 0zm-7 0l7 0 5 0-7 0z"/>
<path fill="#c81" d="M458 206l7 0 5 0-6-1zm-7-1l7 1 6-1-7 0zm-6 0l6 0 6 0-7-1z"/>
<path fill="#c82" d="M438 205l7 0 5-1-7 0zm-7 0l7 0 5-1-7 0z"/>
<path fill="#c72" d="M424 205l7 0 5-1-7 1zm-7 1l7-1 5 0-6 1zm-6 1l6-1 6 0-7 1z"/>
<path fill="#d72" d="M404 208l7-1 5 0-7 2z"/>
<path fill="#d82" d="M397 210l7-2 5 1-7 2zm-7 3l7-3 5 1-7 3zm-7 2l7-2 5 1-6 3zm-7 3l7-3 6 2-7 3zm-6 3l6-3 6 2-7 3zm-7 3l7-3 5 2-7 2zm-7 2l7-2 5 1-7 2zm-7 2l7-2 5 1-7 2zm-7 1l7-1 5 1-6 1zm-6 0l6 0 6 1-7 0z"/>
<path fill="#d72" d="M329 229l7 0 5 1-7 1z"/>
<path fill="#c72" d="M322 229l7 0 5 2-7 0zm-7-1l7 1 5 2-7 0z"/>
<path fill="#d72" d="M308 228l7 0 5 3-6 0z"/>
<path fill="#c72" d="M301 228l7 0 6 3-7-1zm-6-1l6 1 6 2-7 0zm-7-1l7 1 5 3-7-1z"/>
<path fill="#c62" d="M281 225l7 1 5 3-7-1z"/>
<path fill="#d82" d="M593 163l7-3 5-1-7 4zm-7 4l7-4 5 0-6 4zm-7 4l7-4 6 0-7 4zm-6 4l6-4 6 0-7 5z"/>
<path fill="#d92" d="M566 179l7-4 5 1-7 4zm-7 4l7-4 5 1-7 4z"/>
<path fill="#d91" d="M552 187l7-4 5 1-7 3zm-7 3l7-3 5 0-6 4zm-6 3l6-3 6 1-7 3zm-7 3l7-3 5 1-7 3zm-7 2l7-2 5 1-7 2zm-7 2l7-2 5 1-7 1zm-7 1l7-1 5 0-6 2zm-7 1l7-1 6 1-7 1zm-6 2l6-2 6 1-7 1zm-7 1l7-1 5 0-7 1z"/>
<path fill="#c91" d="M484 206l7-1 5 0-7 1z"/>
<path fill="#c81" d="M477 206l7 0 5 0-7 0zm-7 0l7 0 5 0-6-1zm-6-1l6 1 6-1-7 0zm-7 0l7 0 5 0-7-1z"/>
<path fill="#c82" d="M450 204l7 1 5-1-7 0z"/>
<path fill="#c72" d="M443 204l7 0 5 0-7 0zm-7 0l7 0 5 0-6 0zm-7 1l7-1 6 0-7 1zm-6 1l6-1 6 0-7 1zm-7 1l7-1 5 0-7 2z"/>
<path fill="#d72" d="M409 209l7-2 5 1-7 2zm-7 2l7-2 5 1-7 2z"/>
<path fill="#d82" d="M395 214l7-3 5 1-6 3zm-6 3l6-3 6 1-7 3zm-7 3l7-3 5 1-7 3zm-7 3l7-3 5 1-7 3zm-7 2l7-2 5 1-7 3zm-7 2l7-2 5 2-6 2zm-7 2l7-2 6 2-7 2zm-6 1l6-1 6 2-7 1zm-7 0l7 0 5 2-7 0zm-7 1l7-1 5 2-7 1z"/>
<path fill="#d72" d="M327 231l7 0 5 2-7 0zm-7 0l7 0 5 2-6 1zm-6 0l6 0 6 3-7 0zm-7-1l7 1 5 3-7 0zm-7 0l7 0 5 4-7-1z"/>
<path fill="#c72" d="M293 229l7 1 5 3-7 0zm-7-1l7 1 5 4-6-1z"/>
<path fill="#d82" d="M598 163l7-4 5 0-6 4zm-6 4l6-4 6 0-7 5zm-7 4l7-4 5 1-7 4zm-7 5l7-5 5 1-7 5z"/>
<path fill="#d92" d="M571 180l7-4 5 1-7 4zm-7 4l7-4 5 1-6 3zm-7 3l7-3 6 0-7 4z"/>
<path fill="#d91" d="M551 191l6-4 6 1-7 4zm-7 3l7-3 5 1-7 3zm-7 3l7-3 5 1-7 2zm-7 2l7-2 5 0-7 2zm-7 1l7-1 5 0-6 2zm-6 2l6-2 6 1-7 1zm-7 1l7-1 5 0-7 2zm-7 1l7-1 5 1-7 1zm-7 1l7-1 5 1-7 0z"/>
<path fill="#c81" d="M489 206l7-1 5 0-6 0zm-7 0l7 0 6-1-7 0zm-6-1l6 1 6-1-7 0zm-7 0l7 0 5 0-7-1z"/>
<path fill="#c82" d="M462 204l7 1 5-1-7 0z"/>
<path fill="#c72" d="M455 204l7 0 5 0-7 0zm-7 0l7 0 5 0-6 0zm-6 0l6 0 6 0-7 0zm-7 1l7-1 5 0-7 1zm-7 1l7-1 5 0-7 2z"/>
<path fill="#d72" d="M421 208l7-2 5 1-7 2zm-7 2l7-2 5 1-6 2zm-7 2l7-2 6 1-7 3z"/>
<path fill="#d82" d="M401 215l6-3 6 2-7 3zm-7 3l7-3 5 2-7 3zm-7 3l7-3 5 2-7 3zm-7 3l7-3 5 2-7 3zm-7 3l7-3 5 2-6 3zm-6 2l6-2 6 2-7 2zm-7 2l7-2 5 2-7 2zm-7 1l7-1 5 2-7 1zm-7 0l7 0 5 2-7 1zm-7 1l7-1 5 3-6 1zm-7 0l7 0 6 3-7 1zm-6 1l6-1 6 4-7 1z"/>
<path fill="#d72" d="M319 234l7 0 5 4-7 0zm-7 0l7 0 5 4-7 0zm-7-1l7 1 5 4-7-1zm-7 0l7 0 5 4-6-1z"/>
<path fill="#c72" d="M292 232l6 1 6 3-7-1z"/>
<path fill="#d72" d="M604 163l6-4 6 1-7 4z"/>
<path fill="#d82" d="M597 168l7-5 5 1-7 5zm-7 4l7-4 5 1-7 4zm-7 5l7-5 5 1-7 4zm-7 4l7-4 5 0-6 5z"/>
<path fill="#d92" d="M570 184l6-3 6 1-7 3zm-7 4l7-4 5 1-7 4zm-7 4l7-4 5 1-7 3z"/>
<path fill="#d91" d="M549 195l7-3 5 0-7 3zm-7 2l7-2 5 0-6 3zm-7 2l7-2 6 1-7 2zm-6 2l6-2 6 1-7 2zm-7 1l7-1 5 1-7 1zm-7 2l7-2 5 1-7 2zm-7 1l7-1 5 1-7 0z"/>
<path fill="#c81" d="M501 205l7 0 5 0-6 0zm-6 0l6 0 6 0-7 0zm-7 0l7 0 5 0-7 0zm-7 0l7 0 5 0-7 0z"/>
<path fill="#c82" d="M474 204l7 1 5 0-7-1z"/>
<path fill="#c72" d="M467 204l7 0 5 0-6 0zm-7 0l7 0 6 0-7 0zm-6 0l6 0 6 0-7 0zm-7 0l7 0 5 0-7 1zm-7 1l7-1 5 1-7 1z"/>
<path fill="#d72" d="M433 207l7-2 5 1-6 2zm-7 2l7-2 6 1-7 2zm-6 2l6-2 6 1-7 3zm-7 3l7-3 5 2-7 3z"/>
<path fill="#d82" d="M406 217l7-3 5 2-7 3zm-7 3l7-3 5 2-7 3zm-7 3l7-3 5 2-6 3zm-7 3l7-3 6 2-7 4zm-6 3l6-3 6 3-7 3zm-7 2l7-2 5 3-7 2zm-7 2l7-2 5 3-7 2zm-7 1l7-1 5 3-6 2zm-7 1l7-1 6 4-7 1zm-6 1l6-1 6 4-7 1zm-7 1l7-1 5 4-7 1zm-7 1l7-1 5 4-7 1zm-7 0l7 0 5 4-7 0z"/>
<path fill="#d72" d="M317 238l7 0 5 4-6 0zm-7-1l7 1 6 4-7-1zm-6-1l6 1 6 4-7-1zm-7-1l7 1 5 4-7-1zm312-71l7-4 5 1-7 4z"/>
<path fill="#d82" d="M602 169l7-5 5 1-7 5zm-7 4l7-4 5 1-6 4zm-7 4l7-4 6 1-7 5zm-6 5l6-5 6 2-7 4z"/>
<path fill="#d92" d="M575 185l7-3 5 1-7 4zm-7 4l7-4 5 2-7 3zm-7 3l7-3 5 1-6 4zm-7 3l7-3 6 2-7 3z"/>
<path fill="#d91" d="M548 198l6-3 6 2-7 2zm-7 2l7-2 5 1-7 2zm-7 2l7-2 5 1-7 2zm-7 1l7-1 5 1-7 1zm-7 2l7-2 5 1-6 1z"/>
<path fill="#c81" d="M513 205l7 0 6 0-7 0zm-6 0l6 0 6 0-7 0zm-7 0l7 0 5 0-7 0zm-7 0l7 0 5 0-7 0z"/>
<path fill="#c82" d="M486 205l7 0 5 0-6 0z"/>
<path fill="#c72" d="M479 204l7 1 6 0-7-1zm-6 0l6 0 6 0-7 0zm-7 0l7 0 5 0-7 0zm-7 0l7 0 5 0-7 1zm-7 1l7-1 5 1-7 1zm-7 1l7-1 5 1-6 1z"/>
<path fill="#d72" d="M439 208l6-2 6 1-7 3zm-7 2l7-2 5 2-7 2zm-7 3l7-3 5 2-7 3z"/>
<path fill="#d82" d="M418 216l7-3 5 2-7 3zm-7 3l7-3 5 2-6 4zm-7 3l7-3 6 3-7 3z"/>
<path fill="#e82" d="M398 225l6-3 6 3-7 3zm-7 4l7-4 5 3-7 4zm-7 3l7-3 5 3-7 3zm-7 2l7-2 5 3-7 2zm-7 2l7-2 5 3-6 3zm-6 2l6-2 6 4-7 2zm-7 1l7-1 5 4-7 1z"/>
<path fill="#d82" d="M350 240l7-1 5 4-7 2zm-7 1l7-1 5 5-7 0zm-7 1l7-1 5 4-6 1zm-7 0l7 0 6 4-7 0zm-6 0l6 0 6 4-7 0z"/>
<path fill="#d72" d="M316 241l7 1 5 4-7-1zm-7-1l7 1 5 4-7-1zm-7-1l7 1 5 4-7-1zm312-74l7-4 5 1-6 5z"/>
<path fill="#d82" d="M607 170l7-5 6 2-7 4zm-6 4l6-4 6 1-7 5zm-7 5l7-5 5 2-7 4zm-7 4l7-4 5 1-7 4z"/>
<path fill="#d92" d="M580 187l7-4 5 1-7 4zm-7 3l7-3 5 1-6 4zm-6 4l6-4 6 2-7 3zm-7 3l7-3 5 1-7 3zm-7 2l7-2 5 1-7 3zm-7 2l7-2 5 2-7 2z"/>
<path fill="#d91" d="M539 203l7-2 5 2-6 2zm-7 1l7-1 6 2-7 1z"/>
<path fill="#d81" d="M526 205l6-1 6 2-7 0z"/>
<path fill="#c81" d="M519 205l7 0 5 1-7 0zm-7 0l7 0 5 1-7 0zm-7 0l7 0 5 1-7 0z"/>
<path fill="#c82" d="M498 205l7 0 5 1-6-1z"/>
<path fill="#c72" d="M492 205l6 0 6 0-7 0zm-7-1l7 1 5 0-7 0zm-7 0l7 0 5 1-7 0zm-7 0l7 0 5 1-7 0zm-7 1l7-1 5 1-6 1zm-7 1l7-1 6 1-7 1z"/>
<path fill="#d72" d="M451 207l6-1 6 1-7 2zm-7 3l7-3 5 2-7 3zm-7 2l7-2 5 2-7 3z"/>
<path fill="#d82" d="M430 215l7-3 5 3-7 3zm-7 3l7-3 5 3-6 3z"/>
<path fill="#e82" d="M417 222l6-4 6 3-7 4zm-7 3l7-3 5 3-7 4zm-7 3l7-3 5 4-7 3zm-7 4l7-4 5 4-7 4zm-7 3l7-3 5 4-6 3z"/>
<path fill="#e92" d="M382 237l7-2 6 4-7 2zm-6 3l6-3 6 4-7 3zm-7 2l7-2 5 4-7 2z"/>
<path fill="#e82" d="M362 243l7-1 5 4-7 1z"/>
<path fill="#d82" d="M355 245l7-2 5 4-7 2zm-7 0l7 0 5 4-6 0zm-6 1l6-1 6 4-7 1zm-7 0l7 0 5 4-7 0zm-7 0l7 0 5 4-7 0z"/>
<path fill="#d72" d="M321 245l7 1 5 4-7-1zm-7-1l7 1 5 4-6-1zm-7-1l7 1 6 4-7-1zm313-76l6-5 6 2-7 5z"/>
<path fill="#d82" d="M613 171l7-4 5 2-7 4zm-7 5l7-5 5 2-7 5z"/>
<path fill="#e82" d="M599 180l7-4 5 2-7 4zm-7 4l7-4 5 2-6 5z"/>
<path fill="#e92" d="M585 188l7-4 6 3-7 4zm-6 4l6-4 6 3-7 3z"/>
<path fill="#d92" d="M572 195l7-3 5 2-7 3zm-7 3l7-3 5 2-7 3zm-7 3l7-3 5 2-7 3zm-7 2l7-2 5 2-6 2zm-6 2l6-2 6 2-7 1z"/>
<path fill="#d91" d="M538 206l7-1 5 1-7 1z"/>
<path fill="#d81" d="M531 206l7 0 5 1-7 0zm-7 0l7 0 5 1-7 0z"/>
<path fill="#c82" d="M517 206l7 0 5 1-6 0zm-7 0l7 0 6 1-7 0z"/>
<path fill="#c72" d="M504 205l6 1 6 1-7-1zm-7 0l7 0 5 1-7 0zm-7 0l7 0 5 1-7 0zm-7 0l7 0 5 1-7 0zm-7 0l7 0 5 1-6 1zm-6 1l6-1 6 2-7 0z"/>
<path fill="#d72" d="M463 207l7-1 5 1-7 2zm-7 2l7-2 5 2-7 3zm-7 3l7-3 5 3-7 3zm-7 3l7-3 5 3-6 3z"/>
<path fill="#d82" d="M435 218l7-3 6 3-7 3z"/>
<path fill="#e82" d="M429 221l6-3 6 3-7 4zm-7 4l7-4 5 4-7 4zm-7 4l7-4 5 4-7 4zm-7 3l7-3 5 4-7 3z"/>
<path fill="#e92" d="M401 236l7-4 5 4-6 3zm-6 3l6-3 6 3-7 4zm-7 2l7-2 5 4-7 3zm-7 3l7-3 5 5-7 2zm-7 2l7-2 5 4-7 2zm-7 1l7-1 5 4-6 2zm-7 2l7-2 6 5-7 1zm-6 0l6 0 6 4-7 1z"/>
<path fill="#d82" d="M347 250l7-1 5 5-7 1zm-7 0l7 0 5 5-7 0zm-7 0l7 0 5 5-7-1zm-7-1l7 1 5 4-6 0z"/>
<path fill="#d72" d="M320 248l6 1 6 5-7-1z"/>
<path fill="#c72" d="M313 247l7 1 5 5-7-3z"/>
<path fill="#d72" d="M625 169l7-5 5 2-7 5z"/>
<path fill="#d82" d="M618 173l7-4 5 2-7 5z"/>
<path fill="#e82" d="M611 178l7-5 5 3-7 5zm-7 4l7-4 5 3-6 4zm-6 5l6-5 6 3-7 4z"/>
<path fill="#e92" d="M591 191l7-4 5 2-7 4zm-7 3l7-3 5 2-7 4zm-7 3l7-3 5 3-7 3z"/>
<path fill="#d92" d="M570 200l7-3 5 3-6 3zm-7 3l7-3 6 3-7 2zm-6 2l6-2 6 2-7 2zm-7 1l7-1 5 2-7 1zm-7 1l7-1 5 2-7 1z"/>
<path fill="#d82" d="M536 207l7 0 5 2-7 0zm-7 0l7 0 5 2-6 0zm-6 0l6 0 6 2-7 0z"/>
<path fill="#c82" d="M516 207l7 0 5 2-7-1z"/>
<path fill="#c72" d="M509 206l7 1 5 1-7 0zm-7 0l7 0 5 2-7 0zm-7 0l7 0 5 2-6 0zm-7 0l7 0 6 2-7 0zm-6 1l6-1 6 2-7 0zm-7 0l7 0 5 1-7 1z"/>
<path fill="#d72" d="M468 209l7-2 5 2-7 2zm-7 3l7-3 5 2-6 3zm-7 3l7-3 6 2-7 4z"/>
<path fill="#d82" d="M448 218l6-3 6 3-7 3z"/>
<path fill="#e82" d="M441 221l7-3 5 3-7 4zm-7 4l7-4 5 4-7 4zm-7 4l7-4 5 4-7 4zm-7 4l7-4 5 4-6 4z"/>
<path fill="#e92" d="M413 236l7-3 6 4-7 3zm-6 3l6-3 6 4-7 4zm-7 4l7-4 5 5-7 4zm-7 3l7-3 5 5-7 3zm-7 2l7-2 5 5-6 3zm-7 2l7-2 6 6-7 2zm-6 2l6-2 6 6-7 1zm-7 1l7-1 5 5-7 2zm-7 1l7-1 5 6-7 0zm-7 1l7-1 5 5-7 1z"/>
<path fill="#e82" d="M345 255l7 0 5 5-6 0z"/>
<path fill="#d82" d="M338 254l7 1 6 5-7 0zm-6 0l6 0 6 6-7-1z"/>
<path fill="#d72" d="M325 253l7 1 5 5-7-3z"/>
<path fill="#c72" d="M318 250l7 3 5 3-7-2z"/>
<path fill="#e82" d="M630 171l7-5 5 3-7 5zm-7 5l7-5 5 3-6 5zm-7 5l7-5 6 3-7 4zm-6 4l6-4 6 2-7 5zm-7 4l7-4 5 3-7 4z"/>
<path fill="#e92" d="M596 193l7-4 5 3-7 4zm-7 4l7-4 5 3-6 3zm-7 3l7-3 6 2-7 3z"/>
<path fill="#d92" d="M576 203l6-3 6 2-7 3zm-7 2l7-2 5 2-7 2zm-7 2l7-2 5 2-7 2zm-7 1l7-1 5 2-7 2zm-7 1l7-1 5 3-6 0z"/>
<path fill="#d82" d="M541 209l7 0 6 2-7 0zm-6 0l6 0 6 2-7 0zm-7 0l7 0 5 2-7 0zm-7-1l7 1 5 2-7-1z"/>
<path fill="#d72" d="M514 208l7 0 5 2-6 0z"/>
<path fill="#c72" d="M507 208l7 0 6 2-7 0zm-6 0l6 0 6 2-7 0zm-7 0l7 0 5 2-7 0zm-7 0l7 0 5 2-7 0z"/>
<path fill="#d72" d="M480 209l7-1 5 2-7 1zm-7 2l7-2 5 2-6 3zm-6 3l6-3 6 3-7 3z"/>
<path fill="#d82" d="M460 218l7-4 5 3-7 4z"/>
<path fill="#e82" d="M453 221l7-3 5 3-7 4zm-7 4l7-4 5 4-7 4zm-7 4l7-4 5 4-6 4zm-7 4l7-4 6 4-7 4z"/>
<path fill="#e92" d="M426 237l6-4 6 4-7 3zm-7 3l7-3 5 3-7 5zm-7 4l7-4 5 5-7 4zm-7 4l7-4 5 5-7 5z"/>
<path fill="#ea2" d="M398 251l7-3 5 6-6 3zm-6 3l6-3 6 6-7 3zm-7 2l7-2 5 6-7 2zm-7 1l7-1 5 6-7 1z"/>
<path fill="#e92" d="M371 259l7-2 5 6-7 1zm-7 0l7 0 5 5-6 1zm-7 1l7-1 6 6-7 1zm-6 0l6 0 6 6-7-1z"/>
<path fill="#d82" d="M344 260l7 0 5 5-7 0zm-7-1l7 1 5 5-7-2z"/>
<path fill="#d72" d="M330 256l7 3 5 4-7-3z"/>
<path fill="#c72" d="M323 254l7 2 5 4-6-3z"/>
<path fill="#e82" d="M635 174l7-5 6 3-7 5zm-6 5l6-5 6 3-7 5zm-7 4l7-4 5 3-7 5zm-7 5l7-5 5 4-7 4z"/>
<path fill="#e92" d="M608 192l7-4 5 3-7 4zm-7 4l7-4 5 3-6 4zm-6 3l6-3 6 3-7 3zm-7 3l7-3 5 3-7 3zm-7 3l7-3 5 3-7 3z"/>
<path fill="#d92" d="M574 207l7-2 5 3-7 2zm-7 2l7-2 5 3-6 2zm-7 2l7-2 6 3-7 1zm-6 0l6 0 6 2-7 1z"/>
<path fill="#d82" d="M547 211l7 0 5 3-7 0zm-7 0l7 0 5 3-7-1zm-7 0l7 0 5 2-7 0zm-7-1l7 1 5 2-6-1z"/>
<path fill="#d72" d="M520 210l6 0 6 2-7 0zm-7 0l7 0 5 2-7 0zm-7 0l7 0 5 2-7 0z"/>
<path fill="#c72" d="M499 210l7 0 5 2-7 0zm-7 0l7 0 5 2-6 0z"/>
<path fill="#d72" d="M485 211l7-1 6 2-7 2zm-6 3l6-3 6 3-7 3zm-7 3l7-3 5 3-7 3z"/>
<path fill="#e82" d="M465 221l7-4 5 3-7 4zm-7 4l7-4 5 3-7 4zm-7 4l7-4 5 3-6 5zm-6 4l6-4 6 4-7 4zm-7 4l7-4 5 4-7 4z"/>
<path fill="#e92" d="M431 240l7-3 5 4-7 4zm-7 5l7-5 5 5-7 5z"/>
<path fill="#fa2" d="M417 249l7-4 5 5-6 6zm-7 5l7-5 6 7-7 4z"/>
<path fill="#ea2" d="M404 257l6-3 6 6-7 3zm-7 3l7-3 5 6-7 3zm-7 2l7-2 5 6-7 2zm-7 1l7-1 5 6-7 2zm-7 1l7-1 5 7-6 1zm-6 1l6-1 6 7-7 0z"/>
<path fill="#e92" d="M363 266l7-1 5 6-7 1zm-7-1l7 1 5 6-7-1z"/>
<path fill="#d92" d="M349 265l7 0 5 6-7-2z"/>
<path fill="#d82" d="M342 263l7 2 5 4-6-2z"/>
<path fill="#c72" d="M335 260l7 3 6 4-7-4zm-6-3l6 3 6 3-7-3z"/>
<path fill="#e82" d="M641 177l7-5 5 4-7 5zm-7 5l7-5 5 4-7 4zm-7 5l7-5 5 3-7 5zm-7 4l7-4 5 3-6 5z"/>
<path fill="#e92" d="M613 195l7-4 6 4-7 3zm-6 4l6-4 6 3-7 4zm-7 3l7-3 5 3-7 3zm-7 3l7-3 5 3-7 3zm-7 3l7-3 5 3-7 3zm-7 2l7-2 5 3-6 2z"/>
<path fill="#d92" d="M573 212l6-2 6 3-7 2zm-7 1l7-1 5 3-7 1zm-7 1l7-1 5 3-7 0z"/>
<path fill="#d82" d="M552 214l7 0 5 2-7 0zm-7-1l7 1 5 2-6 0zm-7 0l7 0 6 3-7-1zm-6-1l6 1 6 2-7 0z"/>
<path fill="#d72" d="M525 212l7 0 5 3-7 0zm-7 0l7 0 5 3-7-1z"/>
<path fill="#c72" d="M511 212l7 0 5 2-7 0zm-7 0l7 0 5 2-6 0z"/>
<path fill="#d72" d="M498 212l6 0 6 2-7 1zm-7 2l7-2 5 3-7 2zm-7 3l7-3 5 3-7 3z"/>
<path fill="#d82" d="M477 220l7-3 5 3-7 4z"/>
<path fill="#e82" d="M470 224l7-4 5 4-6 4zm-7 4l7-4 6 4-7 4zm-6 5l6-5 6 4-7 5zm-7 4l7-4 5 4-7 4z"/>
<path fill="#e92" d="M443 241l7-4 5 4-7 4zm-7 4l7-4 5 4-7 5z"/>
<path fill="#fa2" d="M429 250l7-5 5 5-6 7zm-6 6l6-6 6 7-7 5zm-7 4l7-4 5 6-7 5z"/>
<path fill="#fb2" d="M409 263l7-3 5 7-7 3z"/>
<path fill="#eb2" d="M402 266l7-3 5 7-7 3z"/>
<path fill="#eb1" d="M395 268l7-2 5 7-6 2z"/>
<path fill="#ea1" d="M388 270l7-2 6 7-7 1zm-6 1l6-1 6 6-7 1zm-7 0l7 0 5 6-7 1zm-7 1l7-1 5 7-7 0z"/>
<path fill="#d92" d="M361 271l7 1 5 6-7-2z"/>
<path fill="#d91" d="M354 269l7 2 5 5-6-2z"/>
<path fill="#d82" d="M348 267l6 2 6 5-7-4z"/>
<path fill="#c72" d="M341 263l7 4 5 3-7-3zm-7-3l7 3 5 4-7-4z"/>
<path fill="#e82" d="M646 181l7-5 5 3-7 5zm-7 4l7-4 5 3-7 5zm-7 5l7-5 5 4-6 5z"/>
<path fill="#e92" d="M626 195l6-5 6 4-7 4zm-7 3l7-3 5 3-7 4zm-7 4l7-4 5 4-7 3zm-7 3l7-3 5 3-7 3zm-7 3l7-3 5 3-6 3zm-7 3l7-3 6 3-7 3zm-6 2l6-2 6 3-7 2z"/>
<path fill="#d92" d="M578 215l7-2 5 3-7 2zm-7 1l7-1 5 3-7 1zm-7 0l7 0 5 3-7 0z"/>
<path fill="#d82" d="M557 216l7 0 5 3-6 0zm-6 0l6 0 6 3-7-1zm-7-1l7 1 5 2-7 0zm-7 0l7 0 5 3-7 0z"/>
<path fill="#d72" d="M530 215l7 0 5 3-7-1zm-7-1l7 1 5 2-6-1z"/>
<path fill="#c72" d="M516 214l7 0 6 2-7 0z"/>
<path fill="#d72" d="M510 214l6 0 6 2-7 0zm-7 1l7-1 5 2-7 1zm-7 2l7-2 5 2-7 3zm-7 3l7-3 5 3-6 3z"/>
<path fill="#e82" d="M482 224l7-4 6 3-7 4zm-6 4l6-4 6 3-7 5zm-7 4l7-4 5 4-7 4zm-7 5l7-5 5 4-7 4z"/>
<path fill="#e92" d="M455 241l7-4 5 3-7 5zm-7 4l7-4 5 4-6 6z"/>
<path fill="#fa2" d="M441 250l7-5 6 6-7 6zm-6 7l6-7 6 7-7 6z"/>
<path fill="#fb2" d="M428 262l7-5 5 6-7 6zm-7 5l7-5 5 7-7 5z"/>
<path fill="#fb1" d="M414 270l7-3 5 7-6 3z"/>
<path fill="#eb1" d="M407 273l7-3 6 7-7 3zm-6 2l6-2 6 7-7 2zm-7 1l7-1 5 7-7 1zm-7 1l7-1 5 7-7 1zm-7 1l7-1 5 7-7 0z"/>
<path fill="#ea1" d="M373 278l7 0 5 6-6-1z"/>
<path fill="#d91" d="M366 276l7 2 6 5-7-2zm-6-2l6 2 6 5-7-3z"/>
<path fill="#c81" d="M353 270l7 4 5 4-7-4z"/>
<path fill="#c72" d="M346 267l7 3 5 4-7-4zm-7-4l7 4 5 3-6-5z"/>
<path fill="#e82" d="M651 184l7-5 5 4-6 5zm-7 5l7-5 6 4-7 5z"/>
<path fill="#e92" d="M638 194l6-5 6 4-7 5zm-7 4l7-4 5 4-7 4zm-7 4l7-4 5 4-7 3zm-7 3l7-3 5 3-6 4zm-7 3l7-3 6 4-7 3zm-6 3l6-3 6 4-7 3zm-7 3l7-3 5 4-7 3zm-7 2l7-2 5 4-7 2z"/>
<path fill="#d92" d="M583 218l7-2 5 4-7 1zm-7 1l7-1 5 3-6 1zm-7 0l7 0 6 3-7 0z"/>
<path fill="#d82" d="M563 219l6 0 6 3-7-1zm-7-1l7 1 5 2-7 0zm-7 0l7 0 5 3-7 0zm-7 0l7 0 5 3-6-1z"/>
<path fill="#d72" d="M535 217l7 1 6 2-7-1zm-6-1l6 1 6 2-7 0zm-7 0l7 0 5 3-7 0zm-7 0l7 0 5 3-7 0zm-7 1l7-1 5 3-7 1zm-7 3l7-3 5 3-6 3z"/>
<path fill="#d82" d="M495 223l6-3 6 3-7 4z"/>
<path fill="#e82" d="M488 227l7-4 5 4-7 4zm-7 5l7-5 5 4-7 5zm-7 4l7-4 5 4-7 4z"/>
<path fill="#e92" d="M467 240l7-4 5 4-6 5zm-7 5l7-5 6 5-7 6z"/>
<path fill="#fa2" d="M454 251l6-6 6 6-7 6zm-7 6l7-6 5 6-7 7z"/>
<path fill="#fb2" d="M440 263l7-6 5 7-7 7z"/>
<path fill="#fb1" d="M433 269l7-6 5 8-7 6z"/>
<path fill="#fc1" d="M426 274l7-5 5 8-6 4zm-6 3l6-3 6 7-7 3zm-7 3l7-3 5 7-7 3z"/>
<path fill="#ec1" d="M406 282l7-2 5 7-7 2z"/>
<path fill="#eb1" d="M399 283l7-1 5 7-7 1zm-7 1l7-1 5 7-6 1zm-7 0l7 0 6 7-7-1z"/>
<path fill="#da1" d="M379 283l6 1 6 6-7-2zm-7-2l7 2 5 5-7-3z"/>
<path fill="#d91" d="M365 278l7 3 5 4-7-3z"/>
<path fill="#c81" d="M358 274l7 4 5 4-7-5z"/>
<path fill="#c82" d="M351 270l7 4 5 3-6-4z"/>
<path fill="#c72" d="M345 265l6 5 6 3-7-5z"/>
<path fill="#e82" d="M657 188l6-5 6 5-7 5zm-7 5l7-5 5 5-7 4z"/>
<path fill="#e92" d="M643 198l7-5 5 4-7 4zm-7 4l7-4 5 3-7 4zm-7 3l7-3 5 3-6 4zm-6 4l6-4 6 4-7 4zm-7 3l7-3 5 4-7 3zm-7 3l7-3 5 4-7 3zm-7 3l7-3 5 4-7 2zm-7 2l7-2 5 3-6 2z"/>
<path fill="#d92" d="M588 221l7-1 6 3-7 1zm-6 1l6-1 6 3-7 1zm-7 0l7 0 5 3-7 0z"/>
<path fill="#d82" d="M568 221l7 1 5 3-7-1zm-7 0l7 0 5 3-7 0zm-7 0l7 0 5 3-6 0zm-6-1l6 1 6 3-7-1z"/>
<path fill="#d72" d="M541 219l7 1 5 3-7-1zm-7 0l7 0 5 3-7-1zm-7 0l7 0 5 2-7 0zm-7 0l7 0 5 2-6 1zm-7 1l7-1 6 3-7 1zm-6 3l6-3 6 3-7 3z"/>
<path fill="#e82" d="M500 227l7-4 5 3-7 5zm-7 4l7-4 5 4-7 4zm-7 5l7-5 5 4-7 4zm-7 4l7-4 5 3-6 5z"/>
<path fill="#e92" d="M473 245l6-5 6 4-7 6z"/>
<path fill="#fa2" d="M466 251l7-6 5 5-7 7zm-7 6l7-6 5 6-7 8z"/>
<path fill="#fb2" d="M452 264l7-7 5 8-7 7z"/>
<path fill="#fb1" d="M445 271l7-7 5 8-6 6z"/>
<path fill="#fc1" d="M438 277l7-6 6 7-7 6zm-6 4l6-4 6 7-7 5zm-7 3l7-3 5 8-7 3zm-7 3l7-3 5 8-7 2z"/>
<path fill="#ec1" d="M411 289l7-2 5 7-7 2zm-7 1l7-1 5 7-6 1zm-6 1l6-1 6 7-7 0z"/>
<path fill="#eb1" d="M391 290l7 1 5 6-7-2z"/>
<path fill="#da1" d="M384 288l7 2 5 5-7-2zm-7-3l7 3 5 5-7-4z"/>
<path fill="#d91" d="M370 282l7 3 5 4-6-4z"/>
<path fill="#c81" d="M363 277l7 5 6 3-7-4z"/>
<path fill="#c82" d="M357 273l6 4 6 4-7-5z"/>
<path fill="#c72" d="M350 268l7 5 5 3-7-5z"/>
<path fill="#e82" d="M662 193l7-5 5 4-7 5z"/>
<path fill="#e92" d="M655 197l7-4 5 4-7 4zm-7 4l7-4 5 4-6 4zm-7 4l7-4 6 4-7 4zm-6 4l6-4 6 4-7 4zm-7 4l7-4 5 4-7 4z"/>
<path fill="#ea2" d="M621 216l7-3 5 4-7 3zm-7 3l7-3 5 4-7 3zm-7 2l7-2 5 4-6 2zm-6 2l6-2 6 4-7 2z"/>
<path fill="#d92" d="M594 224l7-1 5 4-7 1z"/>
<path fill="#d91" d="M587 225l7-1 5 4-7 0zm-7 0l7 0 5 3-7 0z"/>
<path fill="#d92" d="M573 224l7 1 5 3-6 0z"/>
<path fill="#d82" d="M566 224l7 0 6 4-7-1zm-6 0l6 0 6 3-7-1zm-7-1l7 1 5 2-7-1z"/>
<path fill="#d72" d="M546 222l7 1 5 2-7-1zm-7-1l7 1 5 2-7 0zm-7 0l7 0 5 3-6 0zm-6 1l6-1 6 3-7 1zm-7 1l7-1 5 3-7 2z"/>
<path fill="#d82" d="M512 226l7-3 5 4-7 3z"/>
<path fill="#e82" d="M505 231l7-5 5 4-7 4zm-7 4l7-4 5 3-6 5zm-7 4l7-4 6 4-7 5z"/>
<path fill="#e92" d="M485 244l6-5 6 5-7 6z"/>
<path fill="#f92" d="M478 250l7-6 5 6-7 7z"/>
<path fill="#fa2" d="M471 257l7-7 5 7-7 8z"/>
<path fill="#fb2" d="M464 265l7-8 5 8-7 7z"/>
<path fill="#fb1" d="M457 272l7-7 5 7-6 7z"/>
<path fill="#fc1" d="M451 278l6-6 6 7-7 7zm-7 6l7-6 5 8-7 6z"/>
<path fill="#fd1" d="M437 289l7-5 5 8-7 5zm-7 3l7-3 5 8-7 3zm-7 2l7-2 5 8-6 2z"/>
<path fill="#ed1" d="M416 296l7-2 6 8-7 2z"/>
<path fill="#ec1" d="M410 297l6-1 6 8-7 0zm-7 0l7 0 5 7-7-1z"/>
<path fill="#db1" d="M396 295l7 2 5 6-7-3z"/>
<path fill="#da1" d="M389 293l7 2 5 5-7-3zm-7-4l7 4 5 4-6-4z"/>
<path fill="#c91" d="M376 285l6 4 6 4-7-4z"/>
<path fill="#c81" d="M369 281l7 4 5 4-7-5z"/>
<path fill="#c82" d="M362 276l7 5 5 3-7-6z"/>
<path fill="#c72" d="M355 271l7 5 5 2-7-5z"/>
<path fill="#e92" d="M667 197l7-5 5 5-7 4zm-7 4l7-4 5 4-6 5zm-6 4l6-4 6 5-7 4zm-7 4l7-4 5 5-7 4zm-7 4l7-4 5 5-7 4z"/>
<path fill="#ea2" d="M633 217l7-4 5 5-7 3zm-7 3l7-3 5 4-6 3zm-7 3l7-3 6 4-7 3zm-6 2l6-2 6 4-7 2zm-7 2l7-2 5 4-7 1z"/>
<path fill="#d91" d="M599 228l7-1 5 3-7 1zm-7 0l7 0 5 3-7 0zm-7 0l7 0 5 3-6 0z"/>
<path fill="#d92" d="M579 228l6 0 6 3-7 0z"/>
<path fill="#d82" d="M572 227l7 1 5 3-7-1zm-7-1l7 1 5 3-7-1zm-7-1l7 1 5 3-7-1z"/>
<path fill="#d72" d="M551 224l7 1 5 3-6-1zm-7 0l7 0 6 3-7 0zm-6 0l6 0 6 3-7 0zm-7 1l7-1 5 3-7 1zm-7 2l7-2 5 3-7 2z"/>
<path fill="#d82" d="M517 230l7-3 5 3-6 4z"/>
<path fill="#e82" d="M510 234l7-4 6 4-7 4zm-6 5l6-5 6 4-7 5z"/>
<path fill="#e92" d="M497 244l7-5 5 4-7 7z"/>
<path fill="#f92" d="M490 250l7-6 5 6-7 7z"/>
<path fill="#fa2" d="M483 257l7-7 5 7-7 8z"/>
<path fill="#fb2" d="M476 265l7-8 5 8-6 7z"/>
<path fill="#fb1" d="M469 272l7-7 6 7-7 8z"/>
<path fill="#fc1" d="M463 279l6-7 6 8-7 8z"/>
<path fill="#fd1" d="M456 286l7-7 5 9-7 6zm-7 6l7-6 5 8-7 6z"/>
<path fill="#fe1" d="M442 297l7-5 5 8-6 5zm-7 3l7-3 6 8-7 3z"/>
<path fill="#ee1" d="M429 302l6-2 6 8-7 2z"/>
<path fill="#ed1" d="M422 304l7-2 5 8-7 0zm-7 0l7 0 5 6-7 0z"/>
<path fill="#dc1" d="M408 303l7 1 5 6-7-2z"/>
<path fill="#db1" d="M401 300l7 3 5 5-6-3zm-7-3l7 3 6 5-7-3z"/>
<path fill="#da1" d="M388 293l6 4 6 5-7-5z"/>
<path fill="#c91" d="M381 289l7 4 5 4-7-5z"/>
<path fill="#c81" d="M374 284l7 5 5 3-7-5z"/>
<path fill="#c82" d="M367 278l7 6 5 3-6-6z"/>
<path fill="#c72" d="M360 273l7 5 6 3-7-5z"/>
<path fill="#e92" d="M672 201l7-4 6 4-7 5zm-6 5l6-5 6 5-7 4zm-7 4l7-4 5 4-7 4z"/>
<path fill="#ea2" d="M652 214l7-4 5 4-7 4zm-7 4l7-4 5 4-6 4zm-7 3l7-3 6 4-7 3zm-6 3l6-3 6 4-7 3zm-7 3l7-3 5 4-7 3z"/>
<path fill="#ea1" d="M618 229l7-2 5 4-7 2zm-7 1l7-1 5 4-7 1z"/>
<path fill="#da1" d="M604 231l7-1 5 4-6 1z"/>
<path fill="#d91" d="M597 231l7 0 6 4-7 0zm-6 0l6 0 6 4-7-1zm-7 0l7 0 5 3-7-1z"/>
<path fill="#d82" d="M577 230l7 1 5 2-7-1zm-7-1l7 1 5 2-6-1zm-7-1l7 1 6 2-7-1z"/>
<path fill="#d72" d="M557 227l6 1 6 2-7-1zm-7 0l7 0 5 2-7 0zm-7 0l7 0 5 2-7 0zm-7 1l7-1 5 2-7 2zm-7 2l7-2 5 3-6 2z"/>
<path fill="#e82" d="M523 234l6-4 6 3-7 4zm-7 4l7-4 5 3-7 5z"/>
<path fill="#e92" d="M509 243l7-5 5 4-7 7z"/>
<path fill="#f92" d="M502 250l7-7 5 6-7 7z"/>
<path fill="#fa2" d="M495 257l7-7 5 6-6 8z"/>
<path fill="#fb2" d="M488 265l7-8 6 7-7 8z"/>
<path fill="#fb1" d="M482 272l6-7 6 7-7 9z"/>
<path fill="#fc1" d="M475 280l7-8 5 9-7 8z"/>
<path fill="#fd1" d="M468 288l7-8 5 9-7 7zm-7 6l7-6 5 8-7 7z"/>
<path fill="#fe1" d="M454 300l7-6 5 9-6 6zm-6 5l6-5 6 9-7 4zm-7 3l7-3 5 8-7 3z"/>
<path fill="#ee1" d="M434 310l7-2 5 8-7 1z"/>
<path fill="#ed1" d="M427 310l7 0 5 7-7 0zm-7 0l7 0 5 7-6-2z"/>
<path fill="#dc1" d="M413 308l7 2 6 5-7-2z"/>
<path fill="#db1" d="M407 305l6 3 6 5-7-3zm-7-3l7 3 5 5-7-5z"/>
<path fill="#ca1" d="M393 297l7 5 5 3-7-4z"/>
<path fill="#c91" d="M386 292l7 5 5 4-7-5z"/>
<path fill="#d91" d="M379 287l7 5 5 4-6-6z"/>
<path fill="#d82" d="M373 281l6 6 6 3-7-6z"/>
<path fill="#c72" d="M366 276l7 5 5 3-7-6z"/>
</g>
<g fill="#0a14f5"><circle cx="63.7" cy="101.1" r="2.3"/><circle cx="102.9" cy="78.2" r="2.3"/><circle cx="181.3" cy="69.9" r="2.3"/><circle cx="250.9" cy="67.1" r="2.3"/><circle cx="281.4" cy="79.9" r="2.3"/><circle cx="311.9" cy="80.6" r="2.3"/><circle cx="342.3" cy="100.6" r="2.3"/><circle cx="94.2" cy="141.7" r="2.3"/><circle cx="124.6" cy="112.2" r="2.3"/><circle cx="155.1" cy="122.6" r="2.3"/><circle cx="185.5" cy="139" r="2.3"/><circle cx="224.7" cy="157.2" r="2.3"/><circle cx="263.9" cy="118.6" r="2.3"/><circle cx="303.1" cy="117.5" r="2.3"/><path d="M130.7 98.5a2.7 2.7 0 0 1 5.4 0z"/><path d="M169.9 96.5a2.7 2.7 0 0 1 5.4 0z"/><path d="M209.1 84.2a2.7 2.7 0 0 1 5.4 0z"/><path d="M161.1 110.4a2.7 2.7 0 0 1 5.4 0z"/><path d="M200.3 103.8a2.7 2.7 0 0 1 5.4 0z"/><path d="M239.5 97.7a2.7 2.7 0 0 1 5.4 0z"/><path d="M191.6 119.6a2.7 2.7 0 0 1 5.4 0z"/><path d="M230.8 103.2a2.7 2.7 0 0 1 5.4 0z"/><path d="M269.9 102.1a2.7 2.7 0 0 1 5.4 0z"/></g>
<text x="84.2" y="75.8" font-size="14" fill="#2c2c86" stroke="#2c2c86" stroke-width="0.35">0.78</text>
<text x="131.7" y="85.0" font-size="14" fill="#2c2c86" stroke="#2c2c86" stroke-width="0.35">0.57</text>
<text x="170.9" y="65.5" font-size="14" fill="#2c2c86" stroke="#2c2c86" stroke-width="0.35">0.67</text>
<text x="127.9" y="134.7" font-size="14" fill="#2c2c86" stroke="#2c2c86" stroke-width="0.35">0.85</text>
<text x="78.0" y="155.0" font-size="14" fill="#2c2c86" stroke="#2c2c86" stroke-width="0.35">0.46</text>
<text x="158.5" y="145.0" font-size="14" fill="#2c2c86" stroke="#2c2c86" stroke-width="0.35">0.83</text>
<text x="237.8" y="63.5" font-size="14" fill="#2c2c86" stroke="#2c2c86" stroke-width="0.35">0.72</text>
<text x="274.9" y="77.0" font-size="14" fill="#1e1e1e" stroke="#1e1e1e" stroke-width="0.35">0.73</text>
<text x="314.3" y="81.5" font-size="14" fill="#2c2c86" stroke="#2c2c86" stroke-width="0.35">0.84</text>
<text x="260.3" y="132.0" font-size="14" fill="#2c2c86" stroke="#2c2c86" stroke-width="0.35">0.82</text>
<text x="301.2" y="131.0" font-size="14" fill="#1e1e1e" stroke="#1e1e1e" stroke-width="0.35">0.74</text>
<text x="241.2" y="149.0" font-size="14" fill="#2c2c86" stroke="#2c2c86" stroke-width="0.35">0.59</text>
<text x="57.2" y="162.8" text-anchor="end" font-size="14" fill="#303030" stroke="#303030" stroke-width="0.25">0.2</text>
<text x="57.2" y="138.6" text-anchor="end" font-size="14" fill="#303030" stroke="#303030" stroke-width="0.25">0.4</text>
<text x="57.2" y="114.4" text-anchor="end" font-size="14" fill="#303030" stroke="#303030" stroke-width="0.25">0.6</text>
<text x="57.2" y="90.3" text-anchor="end" font-size="14" fill="#303030" stroke="#303030" stroke-width="0.25">0.8</text>
<text x="57.2" y="66.1" text-anchor="end" font-size="14" fill="#303030" stroke="#303030" stroke-width="0.25">1.0</text>
<text transform="translate(32.7 113.2) rotate(-90)" text-anchor="middle" font-size="15.5" fill="#202020" stroke="#202020" stroke-width="0.25">Power Spectrum (arb. units)</text>
<text x="47.3" y="199.8" font-size="14" fill="#303030" stroke="#303030" stroke-width="0.25">4.4</text>
<text x="156.4" y="252.6" font-size="14" fill="#303030" stroke="#303030" stroke-width="0.25">3.6</text>
<text x="197.9" y="254.5" font-size="14" fill="#303030" stroke="#303030" stroke-width="0.25">0</text>
<text x="344" y="213.2" font-size="14" fill="#303030" stroke="#303030" stroke-width="0.25">2.5</text>
<text transform="translate(78.6 227) rotate(24.7)" font-size="15" fill="#202020" stroke="#202020" stroke-width="0.25"><tspan font-style="italic" font-size="16">L</tspan><tspan font-style="italic" font-size="11" dy="3.5">C</tspan><tspan dy="-3.5" dx="1.5">(mm)</tspan></text>
<g transform="translate(246.5 254.3) rotate(-15.4)"><path d="M0.5 0L6 -10.5L11.5 0Z" fill="none" stroke="#303030" stroke-width="0.9"/><text x="13" y="0" font-size="16" fill="#202020" stroke="#202020" stroke-width="0.25"><tspan font-style="italic">P</tspan> (mW)</text></g>
<text x="65" y="19.5" font-size="17.5" font-style="italic" fill="#f75a30" stroke="#f75a30" stroke-width="0.3" xml:space="preserve">k<tspan font-size="10" dy="3">z</tspan><tspan dy="-3"> &gt; 0  &#8467;=+1</tspan></text>
<text x="3.6" y="18.4" font-size="20.5" font-weight="bold" fill="#111">a</text>
<path d="M437.4 63.4L594.2 20.2L716 76.2M594.2 141.2L594.2 20.2M716 197.2L716 76.2M437.4 184.4L594.2 141.2L716 197.2" fill="none" stroke="#8a8a8a" stroke-width="1"/>
<path d="M437.4 184.4V49.4" stroke="#6e6e6e" stroke-width="1.8"/>
<path d="M437.4 42.4l3.8 8.5h-7.6z"/>
<path d="M433.4 158.9h4M433.4 134.8h4M433.4 110.6h4M433.4 86.5h4M433.4 62.3h4" stroke="#6e6e6e" stroke-width="1"/>
<path d="M467.8 198.4l-2.8 0.8M498.3 212.4l-2.8 0.8M528.8 226.4l-2.8 0.8M598.4 229.6l2.6 1.2M637.6 218.8l2.6 1.2M676.8 208l2.6 1.2" stroke="#9a9a9a" stroke-width="1"/>
<path d="M419.9 176.8L559.2 240.4L744 189.5" fill="none" stroke="#151515" stroke-width="1.6"/>
<path d="M413.9 174.1L423.7 174.4L420.3 177L420.5 181.3Z"/>
<path d="M750 187.9L742.3 194L743.3 189.8L740.3 186.6Z"/>
<g transform="scale(.5)" stroke="#000" stroke-opacity="0.62" stroke-width="1.0" stroke-linejoin="round">
<path fill="#168" d="M1180 285l8-3 7 0-9 2zm-9 2l9-2 6-1-8 2zm-9 2l9-2 7-1-9 3zm-8 2l8-2 7 0-9 2zm-9 2l9-2 6 0-8 2zm-9 2l9-2 7 0-9 1z"/>
<path fill="#167" d="M1127 297l9-2 7-1-9 2z"/>
<path fill="#157" d="M1119 298l8-1 7-1-9 1zm-9 1l9-1 6-1-8 1zm-9 1l9-1 7-1-9 1zm-8 0l8 0 7-1-9 1zm-9 1l9-1 6 0-8 0z"/>
<path fill="#167" d="M1075 301l9 0 7-1-9 1z"/>
<path fill="#168" d="M1066 301l9 0 7 0-9 1z"/>
<path fill="#179" d="M1058 302l8-1 7 1-9 1z"/>
<path fill="#27a" d="M1049 302l9 0 6 1-8 2z"/>
<path fill="#28b" d="M1040 304l9-2 7 3-9 2z"/>
<path fill="#29c" d="M1032 306l8-2 7 3-9 3zm-9 3l9-3 6 4-8 3zm-9 3l9-3 7 4-9 2zm-9 2l9-2 7 3-9 3zm-8 3l8-3 7 4-8 2zm-9 2l9-2 7 3-9 3zm-9 3l9-3 7 4-9 2z"/>
<path fill="#29b" d="M971 324l8-2 7 3-9 2z"/>
<path fill="#28b" d="M962 326l9-2 6 3-8 2z"/>
<path fill="#28a" d="M953 328l9-2 7 3-9 1zm-9 2l9-2 7 2-9 2z"/>
<path fill="#28b" d="M936 332l8-2 7 2-8 2zm-9 2l9-2 7 2-9 3zm-9 3l9-3 7 3-9 2zm-8 3l8-3 7 2-9 3zm-9 2l9-2 6 2-8 3zm-9 3l9-3 7 3-9 2zm-8 3l8-3 7 2-9 3z"/>
<path fill="#28a" d="M875 351l9-3 6 2-8 2z"/>
<path fill="#168" d="M1186 284l9-2 7-1-9 2zm-8 2l8-2 7-1-8 3zm-9 3l9-3 7 0-9 2zm-9 2l9-2 7-1-9 2zm-8 2l8-2 7-1-9 2zm-9 1l9-1 6-1-8 2z"/>
<path fill="#167" d="M1134 296l9-2 7 0-9 1zm-9 1l9-1 7-1-9 2z"/>
<path fill="#157" d="M1117 298l8-1 7 0-8 1zm-9 1l9-1 7 0-9 1zm-9 1l9-1 7 0-9 1z"/>
<path fill="#167" d="M1091 300l8 0 7 0-9 0z"/>
<path fill="#168" d="M1082 301l9-1 6 0-8 1zm-9 1l9-1 7 0-9 2z"/>
<path fill="#279" d="M1064 303l9-1 7 1-9 2z"/>
<path fill="#28a" d="M1056 305l8-2 7 2-8 2z"/>
<path fill="#29c" d="M1047 307l9-2 7 2-9 4z"/>
<path fill="#2ad" d="M1038 310l9-3 7 4-9 3z"/>
<path fill="#29c" d="M1030 313l8-3 7 4-9 3zm-9 2l9-2 6 4-8 2zm-9 3l9-3 7 4-9 3zm-8 2l8-2 7 4-9 2zm-9 3l9-3 6 4-8 2zm-9 2l9-2 7 3-9 2z"/>
<path fill="#29b" d="M977 327l9-2 7 3-9 2z"/>
<path fill="#28b" d="M969 329l8-2 7 3-9 1z"/>
<path fill="#28a" d="M960 330l9-1 6 2-8 2zm-9 2l9-2 7 3-9 1z"/>
<path fill="#28b" d="M943 334l8-2 7 2-9 3zm-9 3l9-3 6 3-8 2zm-9 2l9-2 7 2-9 3zm-9 3l9-3 7 3-9 2zm-8 3l8-3 7 2-9 3zm-9 2l9-2 6 2-8 2zm-9 3l9-3 7 2-9 3z"/>
<path fill="#28a" d="M882 352l8-2 7 2-9 2z"/>
<path fill="#168" d="M1193 283l9-2 7 0-9 2zm-8 3l8-3 7 0-9 2zm-9 2l9-2 6-1-8 2zm-9 2l9-2 7-1-9 3zm-9 2l9-2 7 0-9 1zm-8 2l8-2 7-1-9 2zm-9 1l9-1 6-1-8 2z"/>
<path fill="#167" d="M1132 297l9-2 7 0-9 1z"/>
<path fill="#157" d="M1124 298l8-1 7-1-9 1zm-9 1l9-1 6-1-8 1z"/>
<path fill="#167" d="M1106 300l9-1 7-1-9 1z"/>
<path fill="#168" d="M1097 300l9 0 7-1-9 2zm-8 1l8-1 7 1-9 1z"/>
<path fill="#179" d="M1080 303l9-2 6 1-8 2z"/>
<path fill="#28a" d="M1071 305l9-2 7 1-9 3z"/>
<path fill="#29c" d="M1063 307l8-2 7 2-9 3z"/>
<path fill="#2ad" d="M1054 311l9-4 6 3-8 4zm-9 3l9-3 7 3-9 4z"/>
<path fill="#29c" d="M1036 317l9-3 7 4-9 3zm-8 2l8-2 7 4-9 2zm-9 3l9-3 6 4-8 3zm-9 2l9-2 7 4-9 2zm-8 2l8-2 7 4-9 2z"/>
<path fill="#29b" d="M993 328l9-2 6 4-8 2z"/>
<path fill="#28b" d="M984 330l9-2 7 4-9 1z"/>
<path fill="#28a" d="M975 331l9-1 7 3-9 1zm-8 2l8-2 7 3-9 1z"/>
<path fill="#28b" d="M958 334l9-1 6 2-8 2zm-9 3l9-3 7 3-9 2zm-8 2l8-2 7 2-9 3zm-9 3l9-3 6 3-8 2zm-9 2l9-2 7 2-9 3zm-9 3l9-3 7 3-9 2zm-8 2l8-2 7 2-8 3zm-9 3l9-3 7 3-9 2z"/>
<path fill="#28a" d="M888 354l9-2 7 2-9 2z"/>
<path fill="#168" d="M1200 283l9-2 6 0-8 2zm-9 2l9-2 7 0-9 2zm-8 2l8-2 7 0-9 2zm-9 3l9-3 6 0-8 2zm-9 1l9-1 7-1-9 2zm-9 2l9-2 7 0-9 2zm-8 2l8-2 7 0-9 1z"/>
<path fill="#167" d="M1139 296l9-1 6-1-8 1zm-9 1l9-1 7-1-9 2z"/>
<path fill="#168" d="M1122 298l8-1 7 0-9 1zm-9 1l9-1 6 0-8 1zm-9 2l9-2 7 0-9 2z"/>
<path fill="#179" d="M1095 302l9-1 7 0-9 2z"/>
<path fill="#28a" d="M1087 304l8-2 7 1-8 3z"/>
<path fill="#29b" d="M1078 307l9-3 7 2-9 4z"/>
<path fill="#2ad" d="M1069 310l9-3 7 3-9 4zm-8 4l8-4 7 4-9 4zm-9 4l9-4 6 4-8 4z"/>
<path fill="#29c" d="M1043 321l9-3 7 4-9 3zm-9 2l9-2 7 4-9 2zm-8 3l8-3 7 4-8 2zm-9 2l9-2 7 3-9 2zm-9 2l9-2 7 3-9 2z"/>
<path fill="#28b" d="M1000 332l8-2 7 3-9 2z"/>
<path fill="#28a" d="M991 333l9-1 6 3-8 0z"/>
<path fill="#27a" d="M982 334l9-1 7 2-9 1z"/>
<path fill="#28a" d="M973 335l9-1 7 2-9 2z"/>
<path fill="#28b" d="M965 337l8-2 7 3-8 1zm-9 2l9-2 7 2-9 3zm-9 3l9-3 7 3-9 2zm-8 2l8-2 7 2-9 3zm-9 3l9-3 6 3-8 2zm-9 2l9-2 7 2-9 3zm-8 3l8-3 7 3-9 2zm-9 2l9-2 6 2-8 2z"/>
<path fill="#28a" d="M895 356l9-2 7 2-9 2z"/>
<path fill="#169" d="M1207 283l8-2 7 0-8 2z"/>
<path fill="#179" d="M1198 285l9-2 7 0-9 2zm-9 2l9-2 7 0-9 3zm-8 2l8-2 7 1-9 2z"/>
<path fill="#169" d="M1172 291l9-2 6 1-8 2z"/>
<path fill="#168" d="M1163 293l9-2 7 1-9 1zm-9 1l9-1 7 0-9 1zm-8 1l8-1 7 0-8 1zm-9 2l9-2 7 0-9 2zm-9 1l9-1 7 0-9 1zm-8 1l8-1 7 0-9 2z"/>
<path fill="#179" d="M1111 301l9-2 6 1-8 2z"/>
<path fill="#27a" d="M1102 303l9-2 7 1-9 3z"/>
<path fill="#29b" d="M1094 306l8-3 7 2-9 3z"/>
<path fill="#29c" d="M1085 310l9-4 6 2-8 5z"/>
<path fill="#2ad" d="M1076 314l9-4 7 3-9 5zm-9 4l9-4 7 4-9 4zm-8 4l8-4 7 4-9 3z"/>
<path fill="#29c" d="M1050 325l9-3 6 3-8 3zm-9 2l9-2 7 3-9 3zm-8 2l8-2 7 4-9 2zm-9 2l9-2 6 4-8 2z"/>
<path fill="#28b" d="M1015 333l9-2 7 4-9 1z"/>
<path fill="#28a" d="M1006 335l9-2 7 3-9 1zm-8 0l8 0 7 2-9 1zm-9 1l9-1 6 3-8 1zm-9 2l9-2 7 3-9 1z"/>
<path fill="#28b" d="M972 339l8-1 7 2-9 2zm-9 3l9-3 6 3-8 2zm-9 2l9-2 7 2-9 3zm-9 3l9-3 7 3-9 2zm-8 2l8-2 7 2-9 3zm-9 3l9-3 6 3-8 2zm-9 2l9-2 7 2-9 3zm-8 2l8-2 7 3-9 2zm-9 2l9-2 6 3-8 2z"/>
<path fill="#179" d="M1214 283l8-2 7 1-9 2z"/>
<path fill="#279" d="M1205 285l9-2 6 1-8 2zm-9 3l9-3 7 1-9 2z"/>
<path fill="#179" d="M1187 290l9-2 7 0-9 2z"/>
<path fill="#168" d="M1179 292l8-2 7 0-9 2zm-9 1l9-1 6 0-8 1zm-9 1l9-1 7 0-9 1zm-8 1l8-1 7 0-9 1zm-9 2l9-2 6 0-8 2zm-9 1l9-1 7 0-9 2z"/>
<path fill="#179" d="M1126 300l9-2 7 1-9 2z"/>
<path fill="#27a" d="M1118 302l8-2 7 1-9 2z"/>
<path fill="#28b" d="M1109 305l9-3 6 1-8 4z"/>
<path fill="#29c" d="M1100 308l9-3 7 2-9 5z"/>
<path fill="#2ad" d="M1092 313l8-5 7 4-9 4zm-9 5l9-5 6 3-8 5zm-9 4l9-4 7 3-9 5zm-9 3l9-3 7 4-9 3z"/>
<path fill="#29c" d="M1057 328l8-3 7 4-9 3zm-9 3l9-3 6 4-8 2zm-9 2l9-2 7 3-9 3z"/>
<path fill="#29b" d="M1031 335l8-2 7 4-9 1z"/>
<path fill="#28b" d="M1022 336l9-1 6 3-8 1z"/>
<path fill="#28a" d="M1013 337l9-1 7 3-9 1zm-9 1l9-1 7 3-9 1zm-8 1l8-1 7 3-8 1z"/>
<path fill="#28b" d="M987 340l9-1 7 3-9 1zm-9 2l9-2 7 3-9 2z"/>
<path fill="#29b" d="M970 344l8-2 7 3-9 2zm-9 3l9-3 6 3-8 3zm-9 2l9-2 7 3-9 2zm-9 3l9-3 7 3-9 3z"/>
<path fill="#28b" d="M935 354l8-2 7 3-8 2zm-9 3l9-3 7 3-9 2zm-9 2l9-2 7 2-9 2zm-8 2l8-2 7 2-9 2z"/>
<path fill="#279" d="M1220 284l9-2 7 1-9 2z"/>
<path fill="#27a" d="M1212 286l8-2 7 1-9 2z"/>
<path fill="#279" d="M1203 288l9-2 6 1-8 2z"/>
<path fill="#179" d="M1194 290l9-2 7 1-9 2z"/>
<path fill="#168" d="M1185 292l9-2 7 1-9 1zm-8 1l8-1 7 0-9 1zm-9 1l9-1 6 0-8 1zm-9 1l9-1 7 0-9 2z"/>
<path fill="#179" d="M1151 297l8-2 7 1-9 2z"/>
<path fill="#279" d="M1142 299l9-2 6 1-8 2z"/>
<path fill="#27a" d="M1133 301l9-2 7 1-9 2z"/>
<path fill="#28b" d="M1124 303l9-2 7 1-9 4z"/>
<path fill="#29c" d="M1116 307l8-4 7 3-8 4z"/>
<path fill="#2ad" d="M1107 312l9-5 7 3-9 5zm-9 4l9-4 7 3-9 5zm-8 5l8-5 7 4-9 4zm-9 5l9-5 6 3-8 5zm-9 3l9-3 7 3-9 4z"/>
<path fill="#29c" d="M1063 332l9-3 7 4-9 2zm-8 2l8-2 7 3-8 3z"/>
<path fill="#29b" d="M1046 337l9-3 7 4-9 2z"/>
<path fill="#28b" d="M1037 338l9-1 7 3-9 1z"/>
<path fill="#28a" d="M1029 339l8-1 7 3-9 1zm-9 1l9-1 6 3-8 1zm-9 1l9-1 7 3-9 1zm-8 1l8-1 7 3-9 1z"/>
<path fill="#28b" d="M994 343l9-1 6 3-8 1z"/>
<path fill="#29b" d="M985 345l9-2 7 3-9 2z"/>
<path fill="#29c" d="M976 347l9-2 7 3-9 3zm-8 3l8-3 7 4-9 2zm-9 2l9-2 6 3-8 2z"/>
<path fill="#29b" d="M950 355l9-3 7 3-9 3zm-8 2l8-2 7 3-9 2zm-9 2l9-2 6 3-8 2z"/>
<path fill="#28b" d="M924 361l9-2 7 3-9 2zm-9 2l9-2 7 3-9 2z"/>
<path fill="#28a" d="M1227 285l9-2 7 1-9 2z"/>
<path fill="#27a" d="M1218 287l9-2 7 1-9 2z"/>
<path fill="#279" d="M1210 289l8-2 7 1-9 2z"/>
<path fill="#179" d="M1201 291l9-2 6 1-8 1z"/>
<path fill="#168" d="M1192 292l9-1 7 0-9 1zm-9 1l9-1 7 0-9 2z"/>
<path fill="#169" d="M1175 294l8-1 7 1-8 1z"/>
<path fill="#179" d="M1166 296l9-2 7 1-9 2z"/>
<path fill="#279" d="M1157 298l9-2 7 1-9 2z"/>
<path fill="#27a" d="M1149 300l8-2 7 1-9 2z"/>
<path fill="#28b" d="M1140 302l9-2 6 1-8 4z"/>
<path fill="#29c" d="M1131 306l9-4 7 3-9 4z"/>
<path fill="#2ad" d="M1123 310l8-4 7 3-9 4zm-9 5l9-5 6 3-8 5zm-9 5l9-5 7 3-9 5zm-9 4l9-4 7 3-9 5zm-8 5l8-5 7 4-9 4z"/>
<path fill="#29d" d="M1079 333l9-4 6 3-8 4z"/>
<path fill="#29c" d="M1070 335l9-2 7 3-9 3zm-8 3l8-3 7 4-9 2z"/>
<path fill="#28b" d="M1053 340l9-2 6 3-8 2zm-9 1l9-1 7 3-9 1z"/>
<path fill="#28a" d="M1035 342l9-1 7 3-9 1zm-8 1l8-1 7 3-9 1zm-9 1l9-1 6 3-8 1z"/>
<path fill="#28b" d="M1009 345l9-1 7 3-9 1zm-8 1l8-1 7 3-9 2z"/>
<path fill="#29c" d="M992 348l9-2 6 4-8 2zm-9 3l9-3 7 4-9 2zm-9 2l9-2 7 3-9 2zm-8 2l8-2 7 3-9 3zm-9 3l9-3 6 4-8 2zm-9 2l9-2 7 3-9 2z"/>
<path fill="#29b" d="M940 362l8-2 7 3-9 2zm-9 2l9-2 6 3-8 2z"/>
<path fill="#28b" d="M922 366l9-2 7 3-9 2z"/>
<path fill="#28a" d="M1234 286l9-2 6 2-8 2z"/>
<path fill="#27a" d="M1225 288l9-2 7 2-9 2z"/>
<path fill="#279" d="M1216 290l9-2 7 2-9 1zm-8 1l8-1 7 1-9 2z"/>
<path fill="#179" d="M1199 292l9-1 6 2-8 1zm-9 2l9-2 7 2-9 1z"/>
<path fill="#279" d="M1182 295l8-1 7 1-9 1z"/>
<path fill="#27a" d="M1173 297l9-2 6 1-8 2z"/>
<path fill="#28a" d="M1164 299l9-2 7 1-9 3z"/>
<path fill="#28b" d="M1155 301l9-2 7 2-9 3z"/>
<path fill="#29c" d="M1147 305l8-4 7 3-9 3z"/>
<path fill="#2ad" d="M1138 309l9-4 6 2-8 5zm-9 4l9-4 7 3-9 5zm-8 5l8-5 7 4-9 5z"/>
<path fill="#2ae" d="M1112 323l9-5 6 4-8 5z"/>
<path fill="#2ad" d="M1103 328l9-5 7 4-9 4zm-9 4l9-4 7 3-9 5z"/>
<path fill="#29c" d="M1086 336l8-4 7 4-9 3zm-9 3l9-3 6 3-8 3z"/>
<path fill="#28b" d="M1068 341l9-2 7 3-9 2zm-8 2l8-2 7 3-9 1z"/>
<path fill="#28a" d="M1051 344l9-1 6 2-8 2zm-9 1l9-1 7 3-9 1zm-9 1l9-1 7 3-9 1z"/>
<path fill="#28b" d="M1025 347l8-1 7 3-8 1zm-9 1l9-1 7 3-9 2z"/>
<path fill="#29b" d="M1007 350l9-2 7 4-9 1z"/>
<path fill="#29c" d="M999 352l8-2 7 3-9 3zm-9 2l9-2 6 4-8 2zm-9 2l9-2 7 4-9 2zm-9 3l9-3 7 4-9 3zm-8 2l8-2 7 4-8 2zm-9 2l9-2 7 4-9 2zm-9 2l9-2 7 4-9 2zm-8 2l8-2 7 4-9 2z"/>
<path fill="#29b" d="M929 369l9-2 6 4-8 2z"/>
<path fill="#28b" d="M1241 288l8-2 7 3-9 2z"/>
<path fill="#28a" d="M1232 290l9-2 6 3-8 1zm-9 1l9-1 7 2-9 2z"/>
<path fill="#27a" d="M1214 293l9-2 7 3-9 1zm-8 1l8-1 7 2-8 1zm-9 1l9-1 7 2-9 1z"/>
<path fill="#28a" d="M1188 296l9-1 7 2-9 2zm-8 2l8-2 7 3-9 2z"/>
<path fill="#28b" d="M1171 301l9-3 6 3-8 2z"/>
<path fill="#29c" d="M1162 304l9-3 7 2-9 3zm-9 3l9-3 7 2-9 5z"/>
<path fill="#2ad" d="M1145 312l8-5 7 4-8 4zm-9 5l9-5 7 3-9 5z"/>
<path fill="#2ae" d="M1127 322l9-5 7 3-9 5zm-8 5l8-5 7 3-9 5z"/>
<path fill="#2ad" d="M1110 331l9-4 6 3-8 5zm-9 5l9-5 7 4-9 4z"/>
<path fill="#29c" d="M1092 339l9-3 7 3-9 3z"/>
<path fill="#29b" d="M1084 342l8-3 7 3-8 3z"/>
<path fill="#28b" d="M1075 344l9-2 7 3-9 2zm-9 1l9-1 7 3-9 1z"/>
<path fill="#28a" d="M1058 347l8-2 7 3-9 1zm-9 1l9-1 6 2-8 2zm-9 1l9-1 7 3-9 1z"/>
<path fill="#28b" d="M1032 350l8-1 7 3-9 1z"/>
<path fill="#29b" d="M1023 352l9-2 6 3-8 2z"/>
<path fill="#29c" d="M1014 353l9-1 7 3-9 3zm-9 3l9-3 7 5-9 2zm-8 2l8-2 7 4-9 2zm-9 2l9-2 6 4-8 2zm-9 3l9-3 7 4-9 3zm-8 2l8-2 7 4-9 2zm-9 2l9-2 6 4-8 2zm-9 2l9-2 7 4-9 2zm-9 2l9-2 7 4-9 2zm-8 2l8-2 7 4-9 2z"/>
<path fill="#29b" d="M1247 291l9-2 7 3-9 2z"/>
<path fill="#28b" d="M1239 292l8-1 7 3-9 2zm-9 2l9-2 6 4-8 1z"/>
<path fill="#28a" d="M1221 295l9-1 7 3-9 1zm-8 1l8-1 7 3-9 1z"/>
<path fill="#28b" d="M1204 297l9-1 6 3-8 1zm-9 2l9-2 7 3-9 2zm-9 2l9-2 7 3-9 1z"/>
<path fill="#29b" d="M1178 303l8-2 7 2-9 3z"/>
<path fill="#29c" d="M1169 306l9-3 6 3-8 3z"/>
<path fill="#2ad" d="M1160 311l9-5 7 3-9 5zm-8 4l8-4 7 3-9 5z"/>
<path fill="#2ae" d="M1143 320l9-5 6 4-8 5zm-9 5l9-5 7 4-9 5zm-9 5l9-5 7 4-9 5z"/>
<path fill="#2ad" d="M1117 335l8-5 7 4-9 4z"/>
<path fill="#29c" d="M1108 339l9-4 6 3-8 4zm-9 3l9-3 7 3-9 3z"/>
<path fill="#29b" d="M1091 345l8-3 7 3-9 2z"/>
<path fill="#28b" d="M1082 347l9-2 6 2-8 2z"/>
<path fill="#28a" d="M1073 348l9-1 7 2-9 2zm-9 1l9-1 7 3-9 1zm-8 2l8-2 7 3-9 1z"/>
<path fill="#28b" d="M1047 352l9-1 6 2-8 2zm-9 1l9-1 7 3-9 2z"/>
<path fill="#29c" d="M1030 355l8-2 7 4-9 2z"/>
<path fill="#29d" d="M1021 358l9-3 6 4-8 3z"/>
<path fill="#2ad" d="M1012 360l9-2 7 4-9 2zm-9 2l9-2 7 4-9 3zm-8 2l8-2 7 5-8 2zm-9 3l9-3 7 5-9 2zm-9 2l9-2 7 4-9 3z"/>
<path fill="#29d" d="M969 371l8-2 7 5-9 2z"/>
<path fill="#29c" d="M960 373l9-2 6 5-8 1zm-9 2l9-2 7 4-9 2zm-9 2l9-2 7 4-9 2zm312-83l9-2 7 4-9 2z"/>
<path fill="#28b" d="M1245 296l9-2 7 4-9 1zm-8 1l8-1 7 3-9 1zm-9 1l9-1 6 3-8 1zm-9 1l9-1 7 3-9 1zm-8 1l8-1 7 3-9 1zm-9 2l9-2 6 3-8 2z"/>
<path fill="#29b" d="M1193 303l9-1 7 3-9 2z"/>
<path fill="#29c" d="M1184 306l9-3 7 4-9 2z"/>
<path fill="#2ad" d="M1176 309l8-3 7 3-9 4zm-9 5l9-5 6 4-8 5z"/>
<path fill="#2ae" d="M1158 319l9-5 7 4-9 5zm-8 5l8-5 7 4-9 5zm-9 5l9-5 6 4-8 5z"/>
<path fill="#2ad" d="M1132 334l9-5 7 4-9 4z"/>
<path fill="#29c" d="M1123 338l9-4 7 3-9 4zm-8 4l8-4 7 3-8 3zm-9 3l9-3 7 2-9 3z"/>
<path fill="#28b" d="M1097 347l9-2 7 2-9 3zm-8 2l8-2 7 3-9 2z"/>
<path fill="#28a" d="M1080 351l9-2 6 3-8 1zm-9 1l9-1 7 2-9 2z"/>
<path fill="#28b" d="M1062 353l9-1 7 3-9 1zm-8 2l8-2 7 3-8 2z"/>
<path fill="#29c" d="M1045 357l9-2 7 3-9 3z"/>
<path fill="#2ad" d="M1036 359l9-2 7 4-9 3zm-8 3l8-3 7 5-9 2zm-9 2l9-2 6 4-8 3zm-9 3l9-3 7 5-9 3zm-8 2l8-2 7 5-9 2zm-9 2l9-2 6 5-8 2zm-9 3l9-3 7 5-9 2z"/>
<path fill="#29c" d="M975 376l9-2 7 4-9 2zm-8 1l8-1 7 4-9 2zm-9 2l9-2 6 5-8 1zm-9 2l9-2 7 4-9 2zm312-83l9-2 6 5-8 1z"/>
<path fill="#29b" d="M1252 299l9-1 7 4-9 1z"/>
<path fill="#28b" d="M1243 300l9-1 7 4-9 1zm-8 1l8-1 7 4-8 1zm-9 1l9-1 7 4-9 1zm-9 1l9-1 7 4-9 1z"/>
<path fill="#29b" d="M1209 305l8-2 7 4-9 1z"/>
<path fill="#29c" d="M1200 307l9-2 6 3-8 2zm-9 2l9-2 7 3-9 3z"/>
<path fill="#2ad" d="M1182 313l9-4 7 4-9 4z"/>
<path fill="#2ae" d="M1174 318l8-5 7 4-8 5z"/>
<path fill="#2be" d="M1165 323l9-5 7 4-9 5z"/>
<path fill="#2ae" d="M1156 328l9-5 7 4-9 5z"/>
<path fill="#2ad" d="M1148 333l8-5 7 4-9 4z"/>
<path fill="#29d" d="M1139 337l9-4 6 3-8 4z"/>
<path fill="#29c" d="M1130 341l9-4 7 3-9 4zm-8 3l8-3 7 3-9 3zm-9 3l9-3 6 3-8 3z"/>
<path fill="#28b" d="M1104 350l9-3 7 3-9 2zm-9 2l9-2 7 2-9 2z"/>
<path fill="#28a" d="M1087 353l8-1 7 2-9 2z"/>
<path fill="#28b" d="M1078 355l9-2 6 3-8 2zm-9 1l9-1 7 3-9 2z"/>
<path fill="#29c" d="M1061 358l8-2 7 4-9 2z"/>
<path fill="#2ad" d="M1052 361l9-3 6 4-8 3zm-9 3l9-3 7 4-9 3zm-9 2l9-2 7 4-9 3zm-8 3l8-3 7 5-9 3zm-9 3l9-3 6 5-8 2zm-9 2l9-2 7 4-9 3zm-8 2l8-2 7 5-9 2z"/>
<path fill="#29c" d="M991 378l9-2 6 5-8 2zm-9 2l9-2 7 5-9 1zm-9 2l9-2 7 4-9 2zm-8 1l8-1 7 4-9 2z"/>
<path fill="#2ad" d="M956 385l9-2 6 5-8 2z"/>
<path fill="#29c" d="M1268 302l8-1 7 4-9 2z"/>
<path fill="#29b" d="M1259 303l9-1 6 5-8 0z"/>
<path fill="#28b" d="M1250 304l9-1 7 4-9 1zm-8 1l8-1 7 4-9 1zm-9 1l9-1 6 4-8 1z"/>
<path fill="#29b" d="M1224 307l9-1 7 4-9 1z"/>
<path fill="#29c" d="M1215 308l9-1 7 4-9 1zm-8 2l8-2 7 4-9 3z"/>
<path fill="#2ad" d="M1198 313l9-3 6 5-8 2zm-9 4l9-4 7 4-9 4z"/>
<path fill="#2be" d="M1181 322l8-5 7 4-9 5zm-9 5l9-5 6 4-8 5z"/>
<path fill="#2ad" d="M1163 332l9-5 7 4-9 4zm-9 4l9-4 7 3-9 4z"/>
<path fill="#29c" d="M1146 340l8-4 7 3-9 4zm-9 4l9-4 6 3-8 3zm-9 3l9-3 7 2-9 4z"/>
<path fill="#29b" d="M1120 350l8-3 7 3-9 3z"/>
<path fill="#28b" d="M1111 352l9-2 6 3-8 2zm-9 2l9-2 7 3-9 2zm-9 2l9-2 7 3-9 2z"/>
<path fill="#29b" d="M1085 358l8-2 7 3-9 2z"/>
<path fill="#29c" d="M1076 360l9-2 6 3-8 3z"/>
<path fill="#2ad" d="M1067 362l9-2 7 4-9 3zm-8 3l8-3 7 5-9 3zm-9 3l9-3 6 5-8 3zm-9 3l9-3 7 5-9 3zm-9 3l9-3 7 5-9 3zm-8 2l8-2 7 5-8 2zm-9 3l9-3 7 5-9 2z"/>
<path fill="#29c" d="M1006 381l9-2 7 4-9 2zm-8 2l8-2 7 4-9 2zm-9 1l9-1 6 4-8 2zm-9 2l9-2 7 5-9 1zm-9 2l9-2 7 4-9 2z"/>
<path fill="#2ad" d="M963 390l8-2 7 4-8 3z"/>
<path fill="#29c" d="M1274 307l9-2 7 5-9 1z"/>
<path fill="#29b" d="M1266 307l8 0 7 4-9 1z"/>
<path fill="#28b" d="M1257 308l9-1 6 5-8 0zm-9 1l9-1 7 4-9 1z"/>
<path fill="#29b" d="M1240 310l8-1 7 4-9 1z"/>
<path fill="#29c" d="M1231 311l9-1 6 4-8 1zm-9 1l9-1 7 4-9 2zm-9 3l9-3 7 5-9 2z"/>
<path fill="#2ad" d="M1205 317l8-2 7 4-8 3z"/>
<path fill="#2ae" d="M1196 321l9-4 7 5-9 4z"/>
<path fill="#2be" d="M1187 326l9-5 7 5-9 4z"/>
<path fill="#2ae" d="M1179 331l8-5 7 4-9 5z"/>
<path fill="#2ad" d="M1170 335l9-4 6 4-8 3z"/>
<path fill="#29c" d="M1161 339l9-4 7 3-9 4zm-9 4l9-4 7 3-9 4zm-8 3l8-3 7 3-8 3zm-9 4l9-4 7 3-9 4zm-9 3l9-3 7 3-9 2z"/>
<path fill="#28b" d="M1118 355l8-2 7 2-9 3zm-9 2l9-2 6 3-8 2z"/>
<path fill="#29b" d="M1100 359l9-2 7 3-9 2z"/>
<path fill="#29c" d="M1091 361l9-2 7 3-9 3z"/>
<path fill="#2ad" d="M1083 364l8-3 7 4-8 3zm-9 3l9-3 7 4-9 3zm-9 3l9-3 7 4-9 4zm-8 3l8-3 7 5-9 3zm-9 3l9-3 6 5-8 3zm-9 3l9-3 7 5-9 2zm-8 2l8-2 7 4-9 3z"/>
<path fill="#29d" d="M1022 383l9-2 6 5-8 2z"/>
<path fill="#29c" d="M1013 385l9-2 7 5-9 1zm-9 2l9-2 7 4-9 2zm-8 2l8-2 7 4-9 2zm-9 1l9-1 6 4-8 2z"/>
<path fill="#29d" d="M978 392l9-2 7 5-9 2z"/>
<path fill="#2ad" d="M970 395l8-3 7 5-9 2z"/>
<path fill="#29c" d="M1281 311l9-1 7 5-9 0z"/>
<path fill="#28b" d="M1272 312l9-1 7 4-9 1zm-8 0l8 0 7 4-8 0z"/>
<path fill="#29b" d="M1255 313l9-1 7 4-9 1z"/>
<path fill="#29c" d="M1246 314l9-1 7 4-9 1zm-8 1l8-1 7 4-9 2zm-9 2l9-2 6 5-8 1z"/>
<path fill="#2ad" d="M1220 319l9-2 7 4-9 3zm-8 3l8-3 7 5-9 2z"/>
<path fill="#2ae" d="M1203 326l9-4 6 4-8 4zm-9 4l9-4 7 4-9 4z"/>
<path fill="#2ad" d="M1185 335l9-5 7 4-9 4z"/>
<path fill="#29c" d="M1177 338l8-3 7 3-9 4zm-9 4l9-4 6 4-8 3zm-9 4l9-4 7 3-9 4zm-8 3l8-3 7 3-9 3zm-9 4l9-4 6 3-8 3zm-9 2l9-2 7 2-9 3z"/>
<path fill="#29b" d="M1124 358l9-3 7 3-9 3zm-8 2l8-2 7 3-9 2z"/>
<path fill="#29c" d="M1107 362l9-2 6 3-8 3z"/>
<path fill="#2ad" d="M1098 365l9-3 7 4-9 3zm-8 3l8-3 7 4-9 4zm-9 3l9-3 6 5-8 3zm-9 4l9-4 7 5-9 3zm-9 3l9-3 7 4-9 3zm-8 3l8-3 7 4-9 3zm-9 2l9-2 6 4-8 3z"/>
<path fill="#29d" d="M1037 386l9-3 7 5-9 2z"/>
<path fill="#29c" d="M1029 388l8-2 7 4-9 2zm-9 1l9-1 6 4-8 2zm-9 2l9-2 7 5-9 2zm-9 2l9-2 7 5-9 2zm-8 2l8-2 7 5-9 2z"/>
<path fill="#29d" d="M985 397l9-2 6 5-8 2z"/>
<path fill="#2ad" d="M976 399l9-2 7 5-9 2z"/>
<path fill="#29b" d="M1288 315l9 0 6 4-8 1z"/>
<path fill="#28b" d="M1279 316l9-1 7 5-9 0z"/>
<path fill="#29b" d="M1271 316l8 0 7 4-9 1z"/>
<path fill="#29c" d="M1262 317l9-1 6 5-8 1zm-9 1l9-1 7 5-9 1zm-9 2l9-2 7 5-9 1zm-8 1l8-1 7 4-9 2z"/>
<path fill="#2ad" d="M1227 324l9-3 6 5-8 2zm-9 2l9-2 7 4-9 3z"/>
<path fill="#2ae" d="M1210 330l8-4 7 5-9 4z"/>
<path fill="#2ad" d="M1201 334l9-4 6 5-8 3zm-9 4l9-4 7 4-9 4z"/>
<path fill="#29d" d="M1183 342l9-4 7 4-9 3z"/>
<path fill="#29c" d="M1175 345l8-3 7 3-9 3zm-9 4l9-4 6 3-8 4zm-9 3l9-3 7 3-9 3zm-8 3l8-3 7 3-9 3zm-9 3l9-3 6 3-8 3zm-9 3l9-3 7 3-9 3zm-9 2l9-2 7 3-9 3z"/>
<path fill="#2ad" d="M1114 366l8-3 7 4-9 3zm-9 3l9-3 6 4-8 4zm-9 4l9-4 7 5-9 3zm-8 3l8-3 7 4-9 4zm-9 3l9-3 6 5-8 3zm-9 3l9-3 7 5-9 3zm-9 3l9-3 7 5-9 3zm-8 3l8-3 7 5-8 2z"/>
<path fill="#29c" d="M1044 390l9-2 7 4-9 2zm-9 2l9-2 7 4-9 2zm-8 2l8-2 7 4-9 2zm-9 2l9-2 6 4-8 2zm-9 2l9-2 7 4-9 2zm-9 2l9-2 7 4-9 2zm-8 2l8-2 7 4-8 2z"/>
<path fill="#2ad" d="M983 404l9-2 7 4-9 3z"/>
<path fill="#29b" d="M1295 320l8-1 7 5-9 0zm-9 0l9 0 6 4-8 1zm-9 1l9-1 7 5-9 0zm-8 1l8-1 7 4-9 1z"/>
<path fill="#29c" d="M1260 323l9-1 6 4-8 1zm-9 1l9-1 7 4-9 2zm-9 2l9-2 7 5-9 2z"/>
<path fill="#2ad" d="M1234 328l8-2 7 5-8 2zm-9 3l9-3 7 5-9 3zm-9 4l9-4 7 5-9 3zm-8 3l8-3 7 4-9 3zm-9 4l9-4 6 4-8 4zm-9 3l9-3 7 4-9 3zm-9 3l9-3 7 4-9 3zm-8 4l8-4 7 4-8 3z"/>
<path fill="#29c" d="M1164 355l9-3 7 3-9 4zm-9 3l9-3 7 4-9 3zm-8 3l8-3 7 4-9 3zm-9 3l9-3 6 4-8 3z"/>
<path fill="#2ad" d="M1129 367l9-3 7 4-9 3zm-9 3l9-3 7 4-9 3zm-8 4l8-4 7 4-8 4zm-9 3l9-3 7 4-9 3zm-9 4l9-4 7 4-9 4zm-8 3l8-3 7 4-9 3zm-9 3l9-3 6 4-8 3z"/>
<path fill="#29d" d="M1068 390l9-3 7 4-9 3z"/>
<path fill="#29c" d="M1060 392l8-2 7 4-9 2zm-9 2l9-2 6 4-8 2zm-9 2l9-2 7 4-9 2zm-9 2l9-2 7 4-9 2zm-8 2l8-2 7 4-9 2zm-9 2l9-2 6 4-8 2zm-9 2l9-2 7 4-9 2zm-8 2l8-2 7 4-9 2zm-9 3l9-3 6 4-8 3z"/>
<path fill="#28b" d="M1301 324l9 0 7 4-9 1zm-8 1l8-1 7 5-8 0zm-9 0l9 0 7 4-9 1z"/>
<path fill="#29b" d="M1275 326l9-1 7 5-9 0z"/>
<path fill="#29c" d="M1267 327l8-1 7 4-9 2zm-9 2l9-2 6 5-8 1zm-9 2l9-2 7 4-9 2z"/>
<path fill="#2ad" d="M1241 333l8-2 7 4-9 2zm-9 3l9-3 6 4-8 3zm-9 3l9-3 7 4-9 4zm-9 3l9-3 7 5-9 3zm-8 4l8-4 7 5-9 3zm-9 3l9-3 6 4-8 3zm-9 3l9-3 7 4-9 3zm-8 3l8-3 7 4-9 3zm-9 4l9-4 6 4-8 3z"/>
<path fill="#29c" d="M1162 362l9-3 7 3-9 3zm-9 3l9-3 7 3-9 3zm-8 3l8-3 7 3-9 3z"/>
<path fill="#2ad" d="M1136 371l9-3 6 3-8 4zm-9 3l9-3 7 4-9 3zm-8 4l8-4 7 4-9 4zm-9 3l9-3 6 4-8 3zm-9 4l9-4 7 4-9 4zm-9 3l9-3 7 4-9 3zm-8 3l8-3 7 4-9 3z"/>
<path fill="#29c" d="M1075 394l9-3 6 4-8 2zm-9 2l9-2 7 3-9 2zm-8 2l8-2 7 3-9 2zm-9 2l9-2 6 3-8 2z"/>
<path fill="#29b" d="M1040 402l9-2 7 3-9 2zm-9 2l9-2 7 3-9 2z"/>
<path fill="#29c" d="M1023 406l8-2 7 3-8 2zm-9 2l9-2 7 3-9 3zm-9 2l9-2 7 4-9 2zm-8 3l8-3 7 4-9 3z"/>
<path fill="#28b" d="M1308 329l9-1 7 4-9 1zm-8 0l8 0 7 4-9 0zm-9 1l9-1 6 4-8 1z"/>
<path fill="#29b" d="M1282 330l9 0 7 4-9 1z"/>
<path fill="#29c" d="M1273 332l9-2 7 5-9 1zm-8 1l8-1 7 4-9 1zm-9 2l9-2 6 4-8 2z"/>
<path fill="#2ad" d="M1247 337l9-2 7 4-9 3zm-8 3l8-3 7 5-9 3zm-9 4l9-4 6 5-8 3zm-9 3l9-3 7 4-9 3zm-9 3l9-3 7 4-9 3zm-8 3l8-3 7 4-9 3zm-9 3l9-3 6 4-8 3zm-9 3l9-3 7 4-9 3z"/>
<path fill="#29d" d="M1178 362l8-3 7 4-9 3z"/>
<path fill="#29c" d="M1169 365l9-3 6 4-8 3zm-9 3l9-3 7 4-9 3z"/>
<path fill="#2ad" d="M1151 371l9-3 7 4-9 3zm-8 4l8-4 7 4-8 4zm-9 3l9-3 7 4-9 3zm-9 4l9-4 7 4-9 4zm-8 3l8-3 7 4-9 4zm-9 4l9-4 6 5-8 3zm-9 3l9-3 7 4-9 3z"/>
<path fill="#29c" d="M1090 395l9-3 7 4-9 2zm-8 2l8-2 7 3-8 2z"/>
<path fill="#29b" d="M1073 399l9-2 7 3-9 3zm-9 2l9-2 7 4-9 2z"/>
<path fill="#28b" d="M1056 403l8-2 7 4-9 2zm-9 2l9-2 6 4-8 1zm-9 2l9-2 7 3-9 2z"/>
<path fill="#29b" d="M1030 409l8-2 7 3-9 3z"/>
<path fill="#29c" d="M1021 412l9-3 6 4-8 2zm-9 2l9-2 7 3-9 3zm-9 3l9-3 7 4-9 2z"/>
<path fill="#28b" d="M1315 333l9-1 6 4-8 0zm-9 0l9 0 7 3-9 1zm-8 1l8-1 7 4-9 1zm-9 1l9-1 6 4-8 1z"/>
<path fill="#29c" d="M1280 336l9-1 7 4-9 1zm-9 1l9-1 7 4-9 2zm-8 2l8-2 7 5-8 2z"/>
<path fill="#2ad" d="M1254 342l9-3 7 5-9 3zm-9 3l9-3 7 5-9 2zm-8 3l8-3 7 4-9 4zm-9 3l9-3 6 5-8 3zm-9 3l9-3 7 5-9 3zm-9 3l9-3 7 5-9 3zm-8 3l8-3 7 5-8 2z"/>
<path fill="#29d" d="M1193 363l9-3 7 4-9 3z"/>
<path fill="#29c" d="M1184 366l9-3 7 4-9 3zm-8 3l8-3 7 4-9 3z"/>
<path fill="#2ad" d="M1167 372l9-3 6 4-8 3zm-9 3l9-3 7 4-9 3zm-8 4l8-4 7 4-9 4zm-9 3l9-3 6 4-8 4zm-9 4l9-4 7 5-9 3zm-9 4l9-4 7 4-9 4zm-8 3l8-3 7 4-9 3z"/>
<path fill="#29c" d="M1106 396l9-3 6 4-8 2zm-9 2l9-2 7 3-9 2z"/>
<path fill="#29b" d="M1089 400l8-2 7 3-9 2z"/>
<path fill="#28b" d="M1080 403l9-3 6 3-8 2zm-9 2l9-2 7 2-9 2zm-9 2l9-2 7 2-9 2zm-8 1l8-1 7 2-9 2zm-9 2l9-2 6 3-8 2z"/>
<path fill="#29b" d="M1036 413l9-3 7 3-9 3z"/>
<path fill="#29c" d="M1028 415l8-2 7 3-9 2zm-9 3l9-3 6 3-8 3zm-9 2l9-2 7 3-9 2z"/>
<path fill="#28b" d="M1322 336l8 0 7 4-8 0zm-9 1l9-1 7 4-9 1zm-9 1l9-1 7 4-9 0zm-8 1l8-1 7 3-9 1z"/>
<path fill="#29c" d="M1287 340l9-1 6 3-8 2zm-9 2l9-2 7 4-9 2z"/>
<path fill="#29d" d="M1270 344l8-2 7 4-9 2z"/>
<path fill="#2ad" d="M1261 347l9-3 6 4-8 3zm-9 2l9-2 7 4-9 3zm-9 4l9-4 7 5-9 3zm-8 3l8-3 7 4-9 3zm-9 3l9-3 6 4-8 3zm-9 3l9-3 7 4-9 3z"/>
<path fill="#29c" d="M1209 364l8-2 7 4-9 2zm-9 3l9-3 6 4-8 3zm-9 3l9-3 7 4-9 3z"/>
<path fill="#2ad" d="M1182 373l9-3 7 4-9 3zm-8 3l8-3 7 4-9 3zm-9 3l9-3 6 4-8 3zm-9 4l9-4 7 4-9 4zm-8 4l8-4 7 4-9 4zm-9 3l9-3 6 4-8 3zm-9 4l9-4 7 4-9 3z"/>
<path fill="#29c" d="M1121 397l9-3 7 3-9 3zm-8 2l8-2 7 3-9 2z"/>
<path fill="#28b" d="M1104 401l9-2 6 3-8 2zm-9 2l9-2 7 3-9 2zm-8 2l8-2 7 3-9 2zm-9 2l9-2 6 3-8 2zm-9 2l9-2 7 3-9 2zm-9 2l9-2 7 3-9 2z"/>
<path fill="#29b" d="M1052 413l8-2 7 3-8 2z"/>
<path fill="#29c" d="M1043 416l9-3 7 3-9 3zm-9 2l9-2 7 3-9 3zm-8 3l8-3 7 4-9 2z"/>
<path fill="#29b" d="M1017 423l9-2 6 3-8 2z"/>
<path fill="#28a" d="M1329 340l8 0 7 3-9 0zm-9 1l9-1 6 3-8 1z"/>
<path fill="#28b" d="M1311 341l9 0 7 3-9 1zm-9 1l9-1 7 4-9 1z"/>
<path fill="#29c" d="M1294 344l8-2 7 4-9 2zm-9 2l9-2 6 4-8 2zm-9 2l9-2 7 4-9 3z"/>
<path fill="#2ad" d="M1268 351l8-3 7 5-9 2zm-9 3l9-3 6 4-8 3zm-9 3l9-3 7 4-9 3zm-9 3l9-3 7 4-9 3zm-8 3l8-3 7 4-8 3z"/>
<path fill="#29c" d="M1224 366l9-3 7 4-9 2zm-9 2l9-2 7 3-9 3zm-8 3l8-3 7 4-9 3z"/>
<path fill="#2ad" d="M1198 374l9-3 6 4-8 3zm-9 3l9-3 7 4-9 3zm-9 3l9-3 7 4-9 3zm-8 3l8-3 7 4-8 4zm-9 4l9-4 7 5-9 3zm-9 4l9-4 7 4-9 4zm-8 3l8-3 7 4-9 3z"/>
<path fill="#29c" d="M1137 397l9-3 6 4-8 3zm-9 3l9-3 7 4-9 2z"/>
<path fill="#28b" d="M1119 402l9-2 7 3-9 2zm-8 2l8-2 7 3-8 2zm-9 2l9-2 7 3-9 2zm-9 2l9-2 7 3-9 2zm-8 2l8-2 7 3-9 2zm-9 2l9-2 6 3-8 2zm-9 2l9-2 7 3-9 2z"/>
<path fill="#29b" d="M1059 416l8-2 7 3-9 3z"/>
<path fill="#29c" d="M1050 419l9-3 6 4-8 2z"/>
<path fill="#29b" d="M1041 422l9-3 7 3-9 3zm-9 2l9-2 7 3-9 2zm-8 2l8-2 7 3-9 2z"/>
<path fill="#28a" d="M1335 343l9 0 7 3-9 1zm-8 1l8-1 7 4-9 0z"/>
<path fill="#28b" d="M1318 345l9-1 6 3-8 2z"/>
<path fill="#29b" d="M1309 346l9-1 7 4-9 1z"/>
<path fill="#29c" d="M1300 348l9-2 7 4-9 2zm-8 2l8-2 7 4-8 2zm-9 3l9-3 7 4-9 3z"/>
<path fill="#2ad" d="M1274 355l9-2 7 4-9 2zm-8 3l8-3 7 4-9 3zm-9 3l9-3 6 4-8 3zm-9 3l9-3 7 4-9 3z"/>
<path fill="#29c" d="M1240 367l8-3 7 4-9 3zm-9 2l9-2 6 4-8 2zm-9 3l9-3 7 4-9 3z"/>
<path fill="#2ad" d="M1213 375l9-3 7 4-9 3zm-8 3l8-3 7 4-9 3zm-9 3l9-3 6 4-8 3zm-9 3l9-3 7 4-9 3zm-8 4l8-4 7 4-9 4zm-9 3l9-3 6 4-8 3zm-9 4l9-4 7 4-9 3z"/>
<path fill="#29c" d="M1152 398l9-3 7 3-9 3zm-8 3l8-3 7 3-9 2z"/>
<path fill="#28b" d="M1135 403l9-2 6 2-8 3zm-9 2l9-2 7 3-9 2zm-8 2l8-2 7 3-9 2zm-9 2l9-2 6 3-8 1zm-9 2l9-2 7 2-9 2zm-9 2l9-2 7 2-9 2zm-8 2l8-2 7 2-9 3z"/>
<path fill="#29b" d="M1074 417l9-2 6 3-8 2zm-9 3l9-3 7 3-9 2zm-8 2l8-2 7 2-9 3zm-9 3l9-3 6 3-8 2z"/>
<path fill="#28b" d="M1039 427l9-2 7 2-9 3zm-9 2l9-2 7 3-9 2z"/>
<path fill="#28a" d="M1342 347l9-1 7 3-9 1zm-9 0l9 0 7 3-9 1z"/>
<path fill="#28b" d="M1325 349l8-2 7 4-9 1z"/>
<path fill="#29c" d="M1316 350l9-1 6 3-8 2zm-9 2l9-2 7 4-9 2zm-8 2l8-2 7 4-9 2zm-9 3l9-3 6 4-8 3zm-9 2l9-2 7 4-9 2z"/>
<path fill="#29d" d="M1272 362l9-3 7 4-9 3zm-8 3l8-3 7 4-9 3z"/>
<path fill="#29c" d="M1255 368l9-3 6 4-8 3zm-9 3l9-3 7 4-9 2zm-8 2l8-2 7 3-9 3z"/>
<path fill="#2ad" d="M1229 376l9-3 6 4-8 3zm-9 3l9-3 7 4-9 3zm-9 3l9-3 7 4-9 3zm-8 3l8-3 7 4-9 3zm-9 3l9-3 6 4-8 3zm-9 4l9-4 7 4-9 4zm-8 3l8-3 7 4-9 3z"/>
<path fill="#29c" d="M1168 398l9-3 6 4-8 3zm-9 3l9-3 7 4-9 2z"/>
<path fill="#28b" d="M1150 403l9-2 7 3-9 2zm-8 3l8-3 7 3-9 2zm-9 2l9-2 6 2-8 2zm-9 2l9-2 7 2-9 2zm-8 1l8-1 7 2-9 2zm-9 2l9-2 6 3-8 2zm-9 2l9-2 7 3-9 2zm-9 3l9-3 7 3-9 2zm-8 2l8-2 7 2-8 3zm-9 2l9-2 7 3-9 2zm-9 3l9-3 7 3-9 3zm-8 2l8-2 7 3-9 2zm-9 3l9-3 6 3-8 2zm-9 2l9-2 7 2-9 3z"/>
<path fill="#28a" d="M1349 350l9-1 6 3-8 1z"/>
<path fill="#28b" d="M1340 351l9-1 7 3-9 1zm-9 1l9-1 7 3-9 2z"/>
<path fill="#29c" d="M1323 354l8-2 7 4-9 2zm-9 2l9-2 6 4-8 2zm-9 2l9-2 7 4-9 2zm-8 3l8-3 7 4-9 3zm-9 2l9-2 6 4-8 2zm-9 3l9-3 7 4-9 3zm-9 3l9-3 7 4-9 3zm-8 3l8-3 7 4-8 2zm-9 2l9-2 7 3-9 3z"/>
<path fill="#2ad" d="M1244 377l9-3 7 4-9 3zm-8 3l8-3 7 4-9 3zm-9 3l9-3 6 4-8 3zm-9 3l9-3 7 4-9 3zm-9 3l9-3 7 4-9 3zm-8 3l8-3 7 4-8 3zm-9 4l9-4 7 4-9 3z"/>
<path fill="#29c" d="M1183 399l9-3 7 3-9 3zm-8 3l8-3 7 3-9 3z"/>
<path fill="#28b" d="M1166 404l9-2 6 3-8 2zm-9 2l9-2 7 3-9 2zm-9 2l9-2 7 3-9 2zm-8 2l8-2 7 3-8 2zm-9 2l9-2 7 3-9 2zm-9 2l9-2 7 3-9 1zm-8 2l8-2 7 2-9 3zm-9 2l9-2 6 3-8 2zm-9 2l9-2 7 3-9 2zm-8 3l8-3 7 3-9 2zm-9 2l9-2 6 2-8 3zm-9 3l9-3 7 3-9 2zm-9 2l9-2 7 2-9 3zm-8 2l8-2 7 3-9 2zm-9 3l9-3 6 3-8 2z"/>
<path fill="#28a" d="M1356 353l8-1 7 2-9 2z"/>
<path fill="#28b" d="M1347 354l9-1 6 3-8 1zm-9 2l9-2 7 3-9 2z"/>
<path fill="#29b" d="M1329 358l9-2 7 3-9 2z"/>
<path fill="#29c" d="M1321 360l8-2 7 3-8 2zm-9 2l9-2 7 3-9 2zm-9 3l9-3 7 3-9 3zm-8 2l8-2 7 3-9 3zm-9 3l9-3 6 4-8 2zm-9 3l9-3 7 3-9 3zm-8 2l8-2 7 3-9 3zm-9 3l9-3 6 4-8 3zm-9 3l9-3 7 4-9 3zm-9 3l9-3 7 4-9 3zm-8 3l8-3 7 4-9 3zm-9 3l9-3 6 4-8 3zm-9 3l9-3 7 4-9 3zm-8 3l8-3 7 4-9 3zm-9 3l9-3 6 4-8 3zm-9 3l9-3 7 4-9 2z"/>
<path fill="#29b" d="M1181 405l9-3 7 3-9 2z"/>
<path fill="#28b" d="M1173 407l8-2 7 2-9 3zm-9 2l9-2 6 3-8 2zm-9 2l9-2 7 3-9 1zm-8 2l8-2 7 2-9 2zm-9 2l9-2 6 2-8 2zm-9 1l9-1 7 2-9 2zm-9 3l9-3 7 3-9 2zm-8 2l8-2 7 2-9 2zm-9 2l9-2 6 2-8 3zm-9 2l9-2 7 3-9 2zm-8 3l8-3 7 3-9 3zm-9 2l9-2 6 3-8 2zm-9 3l9-3 7 3-9 2zm-9 2l9-2 7 2-9 3zm-8 2l8-2 7 3-8 2z"/>
<path fill="#28a" d="M1362 356l9-2 7 3-9 1z"/>
<path fill="#28b" d="M1354 357l8-1 7 2-9 2zm-9 2l9-2 6 3-8 2zm-9 2l9-2 7 3-9 2z"/>
<path fill="#29b" d="M1328 363l8-2 7 3-9 2z"/>
<path fill="#29c" d="M1319 365l9-2 6 3-8 3zm-9 3l9-3 7 4-9 2zm-9 3l9-3 7 3-9 3zm-8 2l8-2 7 3-9 3zm-9 3l9-3 6 4-8 3zm-9 3l9-3 7 4-9 3zm-8 3l8-3 7 4-9 3zm-9 3l9-3 6 4-8 2zm-9 3l9-3 7 3-9 3zm-9 3l9-3 7 3-9 3zm-8 3l8-3 7 3-9 3zm-9 3l9-3 6 3-8 3zm-9 3l9-3 7 3-9 3zm-8 3l8-3 7 3-9 3zm-9 2l9-2 6 3-8 2z"/>
<path fill="#29b" d="M1188 407l9-2 7 3-9 2z"/>
<path fill="#28b" d="M1179 410l9-3 7 3-9 2zm-8 2l8-2 7 2-8 2zm-9 1l9-1 7 2-9 2zm-9 2l9-2 7 3-9 2zm-8 2l8-2 7 3-9 2zm-9 2l9-2 6 3-8 2zm-9 2l9-2 7 3-9 2zm-9 2l9-2 7 3-9 2zm-8 3l8-3 7 3-8 3z"/>
<path fill="#29b" d="M1101 428l9-2 7 3-9 2zm-9 3l9-3 7 3-9 2zm-8 2l8-2 7 2-9 3z"/>
<path fill="#28b" d="M1075 435l9-2 6 3-8 2zm-9 3l9-3 7 3-9 2zm-8 2l8-2 7 2-9 3z"/>
<path fill="#28a" d="M1369 358l9-1 7 2-9 2zm-9 2l9-2 7 3-9 1z"/>
<path fill="#28b" d="M1352 362l8-2 7 2-9 2zm-9 2l9-2 6 2-8 3z"/>
<path fill="#29b" d="M1334 366l9-2 7 3-9 2z"/>
<path fill="#29c" d="M1326 369l8-3 7 3-9 3zm-9 2l9-2 6 3-8 2zm-9 3l9-3 7 3-9 3zm-9 3l9-3 7 3-9 3zm-8 3l8-3 7 3-8 3zm-9 3l9-3 7 3-9 3zm-9 3l9-3 7 3-9 3zm-8 2l8-2 7 3-9 3zm-9 3l9-3 6 4-8 3zm-9 3l9-3 7 4-9 3zm-9 3l9-3 7 4-9 3zm-8 3l8-3 7 4-8 3zm-9 3l9-3 7 4-9 3zm-9 3l9-3 7 4-9 2z"/>
<path fill="#29b" d="M1204 408l8-2 7 3-9 2z"/>
<path fill="#28b" d="M1195 410l9-2 6 3-8 2zm-9 2l9-2 7 3-9 2zm-8 2l8-2 7 3-9 2zm-9 2l9-2 6 3-8 2zm-9 2l9-2 7 3-9 2zm-9 2l9-2 7 3-9 2zm-8 2l8-2 7 3-9 2zm-9 2l9-2 6 3-8 2z"/>
<path fill="#29b" d="M1125 426l9-2 7 3-9 2zm-8 3l8-3 7 3-9 3zm-9 2l9-2 6 3-8 2zm-9 2l9-2 7 3-9 2zm-9 3l9-3 7 3-9 3zm-8 2l8-2 7 3-9 2z"/>
<path fill="#28b" d="M1073 440l9-2 6 3-8 2zm-9 3l9-3 7 3-9 2z"/>
<path fill="#28a" d="M1376 361l9-2 6 2-8 2zm-9 1l9-1 7 2-9 2z"/>
<path fill="#28b" d="M1358 364l9-2 7 3-9 2zm-8 3l8-3 7 3-8 2z"/>
<path fill="#29b" d="M1341 369l9-2 7 2-9 3zm-9 3l9-3 7 3-9 3z"/>
<path fill="#29c" d="M1324 374l8-2 7 3-9 2zm-9 3l9-3 6 3-8 3zm-9 3l9-3 7 3-9 3zm-8 3l8-3 7 3-9 3zm-9 3l9-3 6 3-8 3zm-9 3l9-3 7 3-9 3zm-9 3l9-3 7 3-9 3zm-8 3l8-3 7 3-9 3zm-9 3l9-3 6 3-8 3zm-9 3l9-3 7 3-9 3zm-8 3l8-3 7 3-9 3zm-9 3l9-3 6 3-8 3z"/>
<path fill="#29b" d="M1219 409l9-2 7 3-9 2z"/>
<path fill="#28b" d="M1210 411l9-2 7 3-9 2zm-8 2l8-2 7 3-9 2zm-9 2l9-2 6 3-8 2zm-9 2l9-2 7 3-9 2zm-8 2l8-2 7 3-9 2zm-9 2l9-2 6 3-8 2zm-9 2l9-2 7 3-9 2zm-9 2l9-2 7 3-9 2z"/>
<path fill="#29b" d="M1141 427l8-2 7 3-9 2zm-9 2l9-2 6 3-8 2zm-9 3l9-3 7 3-9 3zm-8 2l8-2 7 3-9 2zm-9 2l9-2 6 3-8 2zm-9 3l9-3 7 3-9 3z"/>
<path fill="#28b" d="M1088 441l9-2 7 3-9 2zm-8 2l8-2 7 3-8 2zm-9 2l9-2 7 3-9 2z"/>
<path fill="#28a" d="M1383 363l8-2 7 2-9 2z"/>
<path fill="#28b" d="M1374 365l9-2 6 2-8 2zm-9 2l9-2 7 2-9 3zm-8 2l8-2 7 3-9 2z"/>
<path fill="#29b" d="M1348 372l9-3 6 3-8 3zm-9 3l9-3 7 3-9 3zm-9 2l9-2 7 3-9 2z"/>
<path fill="#29c" d="M1322 380l8-3 7 3-9 3zm-9 3l9-3 6 3-8 3zm-9 3l9-3 7 3-9 3zm-8 3l8-3 7 3-9 3zm-9 3l9-3 6 3-8 3zm-9 3l9-3 7 3-9 3zm-9 3l9-3 7 3-9 3zm-8 3l8-3 7 3-8 3zm-9 3l9-3 7 3-9 3zm-9 3l9-3 7 3-9 3zm-8 3l8-3 7 3-9 3z"/>
<path fill="#29b" d="M1226 412l9-2 6 3-8 2z"/>
<path fill="#28b" d="M1217 414l9-2 7 3-9 2zm-9 2l9-2 7 3-9 2zm-8 2l8-2 7 3-8 2zm-9 2l9-2 7 3-9 1zm-9 2l9-2 7 2-9 2zm-8 2l8-2 7 2-9 3zm-9 2l9-2 6 3-8 2z"/>
<path fill="#29b" d="M1156 428l9-2 7 3-9 2zm-9 2l9-2 7 3-9 2zm-8 2l8-2 7 3-8 2z"/>
<path fill="#29c" d="M1130 435l9-3 7 3-9 3z"/>
<path fill="#29b" d="M1121 437l9-2 7 3-9 2zm-8 2l8-2 7 3-9 2zm-9 3l9-3 6 3-8 3z"/>
<path fill="#28b" d="M1095 444l9-2 7 3-9 2zm-8 2l8-2 7 3-9 2zm-9 2l9-2 6 3-8 2z"/>
<path fill="#28a" d="M1389 365l9-2 7 2-9 2z"/>
<path fill="#28b" d="M1381 367l8-2 7 2-8 2zm-9 3l9-3 7 2-9 3zm-9 2l9-2 7 2-9 3zm-8 3l8-3 7 3-9 2z"/>
<path fill="#29b" d="M1346 378l9-3 6 2-8 3zm-9 2l9-2 7 2-9 3zm-9 3l9-3 7 3-9 3zm-8 3l8-3 7 3-8 3z"/>
<path fill="#29c" d="M1311 389l9-3 7 3-9 3zm-9 3l9-3 7 3-9 3zm-8 3l8-3 7 3-9 3zm-9 3l9-3 6 3-8 3zm-9 3l9-3 7 3-9 3zm-8 3l8-3 7 3-9 3zm-9 3l9-3 6 3-8 3zm-9 3l9-3 7 3-9 3z"/>
<path fill="#29b" d="M1241 413l9-3 7 3-9 2z"/>
<path fill="#28b" d="M1233 415l8-2 7 2-9 3zm-9 2l9-2 6 3-8 2zm-9 2l9-2 7 3-9 1zm-8 2l8-2 7 2-9 2zm-9 1l9-1 6 2-8 2zm-9 2l9-2 7 3-9 2zm-9 3l9-3 7 3-9 3z"/>
<path fill="#29b" d="M1172 429l8-2 7 3-9 2zm-9 2l9-2 6 3-8 2zm-9 2l9-2 7 3-9 2z"/>
<path fill="#29c" d="M1146 435l8-2 7 3-9 3zm-9 3l9-3 6 4-8 2z"/>
<path fill="#29b" d="M1128 440l9-2 7 3-9 2zm-9 2l9-2 7 3-9 2z"/>
<path fill="#28b" d="M1111 445l8-3 7 3-9 2zm-9 2l9-2 6 2-8 3zm-9 2l9-2 7 3-9 2zm-8 2l8-2 7 3-9 2z"/>
<path fill="#28a" d="M1396 367l9-2 7 2-9 2z"/>
<path fill="#28b" d="M1388 369l8-2 7 2-9 3zm-9 3l9-3 6 3-8 2zm-9 3l9-3 7 2-9 3zm-9 2l9-2 7 2-9 3zm-8 3l8-3 7 3-9 3z"/>
<path fill="#29b" d="M1344 383l9-3 6 3-8 3zm-9 3l9-3 7 3-9 2zm-8 3l8-3 7 2-9 3zm-9 3l9-3 6 2-8 3z"/>
<path fill="#29c" d="M1309 395l9-3 7 2-9 3zm-9 3l9-3 7 2-9 3zm-8 3l8-3 7 2-9 4zm-9 3l9-3 6 3-8 3zm-9 3l9-3 7 3-9 3zm-8 3l8-3 7 3-9 3z"/>
<path fill="#29b" d="M1257 413l9-3 6 3-8 2z"/>
<path fill="#28b" d="M1248 415l9-2 7 2-9 3zm-9 3l9-3 7 3-9 2zm-8 2l8-2 7 2-9 2zm-9 1l9-1 6 2-8 2zm-9 2l9-2 7 3-9 2zm-8 2l8-2 7 3-9 2z"/>
<path fill="#29b" d="M1196 427l9-2 6 3-8 3zm-9 3l9-3 7 4-9 2zm-9 2l9-2 7 3-9 2zm-8 2l8-2 7 3-9 2z"/>
<path fill="#29c" d="M1161 436l9-2 6 3-8 2zm-9 3l9-3 7 3-9 3zm-8 2l8-2 7 3-9 2z"/>
<path fill="#29b" d="M1135 443l9-2 6 3-8 2zm-9 2l9-2 7 3-9 2z"/>
<path fill="#28b" d="M1117 447l9-2 7 3-9 2zm-8 3l8-3 7 3-8 2zm-9 2l9-2 7 2-9 2zm-9 2l9-2 7 2-9 2z"/>
<path fill="#28a" d="M1403 369l9-2 6 2-8 2z"/>
<path fill="#28b" d="M1394 372l9-3 7 2-9 3zm-8 2l8-2 7 2-9 3zm-9 3l9-3 6 3-8 2zm-9 3l9-3 7 2-9 3zm-9 3l9-3 7 2-9 3z"/>
<path fill="#29b" d="M1351 386l8-3 7 2-9 3zm-9 2l9-2 6 2-8 3zm-9 3l9-3 7 3-9 3zm-8 3l8-3 7 3-9 3z"/>
<path fill="#29c" d="M1316 397l9-3 6 3-8 3zm-9 3l9-3 7 3-9 3zm-9 4l9-4 7 3-9 3zm-8 3l8-3 7 2-8 3zm-9 3l9-3 7 2-9 3z"/>
<path fill="#29b" d="M1272 413l9-3 7 2-9 3zm-8 2l8-2 7 2-9 3z"/>
<path fill="#28b" d="M1255 418l9-3 6 3-8 2zm-9 2l9-2 7 2-9 3zm-9 2l9-2 7 3-9 2zm-8 2l8-2 7 3-8 2zm-9 2l9-2 7 3-9 2z"/>
<path fill="#29b" d="M1211 428l9-2 7 3-9 2zm-8 3l8-3 7 3-9 3zm-9 2l9-2 6 3-8 2zm-9 2l9-2 7 3-9 2z"/>
<path fill="#29c" d="M1176 437l9-2 7 3-9 2zm-8 2l8-2 7 3-8 3zm-9 3l9-3 7 4-9 2z"/>
<path fill="#29b" d="M1150 444l9-2 7 3-9 2zm-8 2l8-2 7 3-9 2z"/>
<path fill="#28b" d="M1133 448l9-2 6 3-8 2zm-9 2l9-2 7 3-9 2zm-8 2l8-2 7 3-9 2zm-9 2l9-2 6 3-8 2zm-9 2l9-2 7 3-9 2z"/>
<path fill="#28a" d="M1410 371l8-2 7 2-8 2z"/>
<path fill="#28b" d="M1401 374l9-3 7 2-9 3zm-9 3l9-3 7 2-9 3zm-8 2l8-2 7 2-9 3zm-9 3l9-3 6 3-8 2zm-9 3l9-3 7 2-9 3zm-9 3l9-3 7 2-9 3z"/>
<path fill="#29b" d="M1349 391l8-3 7 2-8 3zm-9 3l9-3 7 2-9 4zm-9 3l9-3 7 3-9 3z"/>
<path fill="#29c" d="M1323 400l8-3 7 3-9 3zm-9 3l9-3 6 3-8 3zm-9 3l9-3 7 3-9 3zm-8 3l8-3 7 3-9 3z"/>
<path fill="#29b" d="M1288 412l9-3 6 3-8 3zm-9 3l9-3 7 3-9 3z"/>
<path fill="#28b" d="M1270 418l9-3 7 3-9 2zm-8 2l8-2 7 2-9 3zm-9 3l9-3 6 3-8 2zm-9 2l9-2 7 2-9 3zm-8 2l8-2 7 3-9 2z"/>
<path fill="#29b" d="M1227 429l9-2 6 3-8 2zm-9 2l9-2 7 3-9 3zm-9 3l9-3 7 4-9 2z"/>
<path fill="#29c" d="M1201 436l8-2 7 3-9 2zm-9 2l9-2 6 3-8 3zm-9 2l9-2 7 4-9 2zm-8 3l8-3 7 4-9 2zm-9 2l9-2 6 3-8 2z"/>
<path fill="#29b" d="M1157 447l9-2 7 3-9 2zm-9 2l9-2 7 3-9 2z"/>
<path fill="#28b" d="M1140 451l8-2 7 3-9 2zm-9 2l9-2 6 3-8 2zm-9 2l9-2 7 3-9 2zm-8 2l8-2 7 3-9 2zm-9 2l9-2 6 3-8 2z"/>
<path fill="#28a" d="M1417 373l8-2 7 2-9 2z"/>
<path fill="#28b" d="M1408 376l9-3 6 2-8 3zm-9 3l9-3 7 2-9 3zm-9 3l9-3 7 2-9 3zm-8 2l8-2 7 2-9 3zm-9 3l9-3 6 3-8 3z"/>
<path fill="#29b" d="M1364 390l9-3 7 3-9 3zm-8 3l8-3 7 3-9 3zm-9 4l9-4 6 3-8 3zm-9 3l9-3 7 2-9 3z"/>
<path fill="#29c" d="M1329 403l9-3 7 2-9 3zm-8 3l8-3 7 2-9 3zm-9 3l9-3 6 2-8 4zm-9 3l9-3 7 3-9 3z"/>
<path fill="#29b" d="M1295 415l8-3 7 3-9 3zm-9 3l9-3 6 3-8 2z"/>
<path fill="#28b" d="M1277 420l9-2 7 2-9 3zm-9 3l9-3 7 3-9 3zm-8 2l8-2 7 3-9 2zm-9 3l9-3 6 3-8 2zm-9 2l9-2 7 2-9 3z"/>
<path fill="#29b" d="M1234 432l8-2 7 3-9 2zm-9 3l9-3 6 3-8 3zm-9 2l9-2 7 3-9 2z"/>
<path fill="#29c" d="M1207 439l9-2 7 3-9 2zm-8 3l8-3 7 3-8 3zm-9 2l9-2 7 3-9 2zm-9 2l9-2 7 3-9 2z"/>
<path fill="#29b" d="M1173 448l8-2 7 3-9 2zm-9 2l9-2 6 3-8 2z"/>
<path fill="#28b" d="M1155 452l9-2 7 3-9 2zm-9 2l9-2 7 3-9 2zm-8 2l8-2 7 3-8 2zm-9 2l9-2 7 3-9 2zm-9 2l9-2 7 3-9 2zm-8 2l8-2 7 3-9 2z"/>
</g>
<g transform="scale(.5)" stroke="#000" stroke-opacity="0.65" stroke-width="0.9" stroke-linejoin="round">
<path fill="#dd1" d="M1182 118l6 0 6-6-7 1zm-7 1l7-1 5-5-7 1zm-7 0l7 0 5-5-7 2z"/>
<path fill="#dc1" d="M1161 120l7-1 5-3-7 1zm-7 1l7-1 5-3-6 2z"/>
<path fill="#cc1" d="M1147 122l7-1 6-2-7 2zm-6 1l6-1 6-1-7 2z"/>
<path fill="#dc1" d="M1134 125l7-2 5 0-7 2z"/>
<path fill="#dd1" d="M1127 127l7-2 5 0-7 3zm-7 2l7-2 5 1-6 3z"/>
<path fill="#ed1" d="M1113 131l7-2 6 2-7 4zm-6 3l6-3 6 4-7 3zm-7 3l7-3 5 4-7 2z"/>
<path fill="#dd1" d="M1093 139l7-2 5 3-7 2zm-7 1l7-1 5 3-7 1zm-7 1l7-1 5 3-6 1zm-6 0l6 0 6 3-7 0zm-7 0l7 0 5 3-7 0zm-7-1l7 1 5 3-7-1z"/>
<path fill="#dc1" d="M1052 140l7 0 5 3-7 0zm-7-1l7 1 5 3-6-1zm-7-1l7 1 6 3-7-1zm-6-1l6 1 6 3-7-1z"/>
<path fill="#db1" d="M1025 136l7 1 5 3-7 0zm-7-1l7 1 5 4-7-1zm-7 0l7 0 5 4-7 0zm-7-1l7 1 5 4-6 0z"/>
<path fill="#eb1" d="M998 134l6 0 6 5-7 0zm-7 0l7 0 5 5-7 1zm-7 1l7-1 5 6-7 1zm-7 2l7-2 5 6-7 2zm-7 2l7-2 5 6-6 3z"/>
<path fill="#fb1" d="M963 142l7-3 6 7-7 3z"/>
<path fill="#fc1" d="M957 145l6-3 6 7-7 5zm-7 5l7-5 5 9-7 4zm-7 5l7-5 5 8-7 5z"/>
<path fill="#fd1" d="M936 160l7-5 5 8-7 6zm-7 6l7-6 5 9-6 5z"/>
<path fill="#fe1" d="M923 173l6-7 6 8-7 6zm-7 6l7-6 5 7-7 6zm-7 6l7-6 5 7-7 5z"/>
<path fill="#ee1" d="M902 191l7-6 5 6-7 6z"/>
<path fill="#ee2" d="M895 197l7-6 5 6-6 4zm-7 5l7-5 6 4-7 5z"/>
<path fill="#dd2" d="M882 206l6-4 6 4-7 3zm-7 4l7-4 5 3-7 2z"/>
<path fill="#dd1" d="M1187 113l7-1 5-6-7 2z"/>
<path fill="#dc1" d="M1180 114l7-1 5-5-7 2zm-7 2l7-2 5-4-6 2zm-7 1l7-1 6-4-7 2zm-6 2l6-2 6-3-7 3z"/>
<path fill="#cc1" d="M1153 121l7-2 5-2-7 2z"/>
<path fill="#dc1" d="M1146 123l7-2 5-2-7 3zm-7 2l7-2 5-1-7 4z"/>
<path fill="#dd1" d="M1132 128l7-3 5 1-6 4z"/>
<path fill="#ed1" d="M1126 131l6-3 6 2-7 4z"/>
<path fill="#ee1" d="M1119 135l7-4 5 3-7 5z"/>
<path fill="#ed1" d="M1112 138l7-3 5 4-7 3zm-7 2l7-2 5 4-7 2z"/>
<path fill="#dd1" d="M1098 142l7-2 5 4-6 2zm-7 1l7-1 6 4-7 1zm-6 1l6-1 6 4-7 0zm-7 0l7 0 5 3-7 0zm-7 0l7 0 5 3-7 0zm-7-1l7 1 5 3-7 0z"/>
<path fill="#dc1" d="M1057 143l7 0 5 4-6-1zm-6-1l6 1 6 3-7-1zm-7-1l7 1 5 3-7-1zm-7-1l7 1 5 3-7-1z"/>
<path fill="#db1" d="M1030 140l7 0 5 3-7 0zm-7-1l7 1 5 3-6 0zm-7 0l7 0 6 4-7 0z"/>
<path fill="#eb1" d="M1010 139l6 0 6 4-7 0zm-7 0l7 0 5 4-7 1zm-7 1l7-1 5 5-7 1zm-7 1l7-1 5 5-7 2zm-7 2l7-2 5 6-6 3z"/>
<path fill="#fc1" d="M976 146l6-3 6 7-7 3zm-7 3l7-3 5 7-7 4zm-7 5l7-5 5 8-7 5z"/>
<path fill="#fd1" d="M955 158l7-4 5 8-7 5zm-7 5l7-5 5 9-6 5z"/>
<path fill="#fe1" d="M941 169l7-6 6 9-7 5zm-6 5l6-5 6 8-7 5zm-7 6l7-6 5 8-7 5zm-7 6l7-6 5 7-7 6zm-7 5l7-5 5 7-7 5z"/>
<path fill="#ee2" d="M907 197l7-6 5 7-6 4zm-6 4l6-4 6 5-7 4z"/>
<path fill="#ed2" d="M894 206l7-5 5 5-7 3z"/>
<path fill="#dd2" d="M887 209l7-3 5 3-7 2zm-7 2l7-2 5 2-7 2z"/>
<path fill="#dc1" d="M1192 108l7-2 5-5-7 2zm-7 2l7-2 5-5-6 3zm-6 2l6-2 6-4-7 2zm-7 2l7-2 5-4-7 4z"/>
<path fill="#cb1" d="M1165 117l7-3 5-2-7 3z"/>
<path fill="#dc1" d="M1158 119l7-2 5-2-7 3zm-7 3l7-3 5-1-6 4z"/>
<path fill="#dd1" d="M1144 126l7-4 6 0-7 5z"/>
<path fill="#ed1" d="M1138 130l6-4 6 1-7 5z"/>
<path fill="#ee1" d="M1131 134l7-4 5 2-7 6zm-7 5l7-5 5 4-7 4z"/>
<path fill="#ed1" d="M1117 142l7-3 5 3-7 4z"/>
<path fill="#dd1" d="M1110 144l7-2 5 4-6 2zm-6 2l6-2 6 4-7 1zm-7 1l7-1 5 3-7 1zm-7 0l7 0 5 3-7 0zm-7 0l7 0 5 3-7 1zm-7 0l7 0 5 4-6-1zm-7 0l7 0 6 3-7 0z"/>
<path fill="#dc1" d="M1063 146l6 1 6 3-7-1zm-7-1l7 1 5 3-7-1zm-7-1l7 1 5 3-7-1zm-7-1l7 1 5 3-7-1zm-7 0l7 0 5 3-6 0zm-6 0l6 0 6 3-7 1z"/>
<path fill="#eb1" d="M1022 143l7 0 5 4-7 0zm-7 0l7 0 5 4-7 1z"/>
<path fill="#ec1" d="M1008 144l7-1 5 5-7 1zm-7 1l7-1 5 5-6 2zm-7 2l7-2 6 6-7 3z"/>
<path fill="#fc1" d="M988 150l6-3 6 7-7 3zm-7 3l7-3 5 7-7 4z"/>
<path fill="#fd1" d="M974 157l7-4 5 8-7 5zm-7 5l7-5 5 9-7 5z"/>
<path fill="#fe1" d="M960 167l7-5 5 9-6 4zm-6 5l6-5 6 8-7 5zm-7 5l7-5 5 8-7 5zm-7 5l7-5 5 8-7 5zm-7 5l7-5 5 8-7 5z"/>
<path fill="#ee1" d="M926 193l7-6 5 8-6 4z"/>
<path fill="#ee2" d="M919 198l7-5 6 6-7 5zm-6 4l6-4 6 6-7 3zm-7 4l7-4 5 5-7 3z"/>
<path fill="#dd2" d="M899 209l7-3 5 4-7 1zm-7 2l7-2 5 2-6 2zm-7 2l7-2 6 2-7 2z"/>
<path fill="#db1" d="M1197 103l7-2 6-5-7 3zm-6 3l6-3 6-4-7 3zm-7 2l7-2 5-4-7 4z"/>
<path fill="#cb1" d="M1177 112l7-4 5-2-7 3z"/>
<path fill="#db1" d="M1170 115l7-3 5-3-7 5z"/>
<path fill="#dc1" d="M1163 118l7-3 5-1-6 4zm-6 4l6-4 6 0-7 6z"/>
<path fill="#ed1" d="M1150 127l7-5 5 2-7 6z"/>
<path fill="#ee1" d="M1143 132l7-5 5 3-7 6zm-7 6l7-6 5 4-7 5zm-7 4l7-4 5 3-6 5z"/>
<path fill="#ed2" d="M1122 146l7-4 6 4-7 3z"/>
<path fill="#dd2" d="M1116 148l6-2 6 3-7 2zm-7 1l7-1 5 3-7 2z"/>
<path fill="#dd1" d="M1102 150l7-1 5 4-7 0zm-7 0l7 0 5 3-6 1zm-7 1l7-1 6 4-7 0zm-6-1l6 1 6 3-7-1zm-7 0l7 0 5 3-7 0z"/>
<path fill="#dc1" d="M1068 149l7 1 5 3-7-1zm-7-1l7 1 5 3-7-2zm-7-1l7 1 5 2-6-1zm-7-1l7 1 6 2-7 0zm-6 0l6 0 6 3-7 1zm-7 1l7-1 5 4-7 1z"/>
<path fill="#ec1" d="M1027 147l7 0 5 4-7 0zm-7 1l7-1 5 4-6 2zm-7 1l7-1 6 5-7 1zm-6 2l6-2 6 5-7 3zm-7 3l7-3 5 6-7 3z"/>
<path fill="#fd1" d="M993 157l7-3 5 6-7 4zm-7 4l7-4 5 7-7 5z"/>
<path fill="#fe1" d="M979 166l7-5 5 8-6 5zm-7 5l7-5 6 8-7 5zm-6 4l6-4 6 8-7 4zm-7 5l7-5 5 8-7 5zm-7 5l7-5 5 8-7 5zm-7 5l7-5 5 8-6 4z"/>
<path fill="#ee2" d="M938 195l7-5 6 7-7 5zm-6 4l6-4 6 7-7 4zm-7 5l7-5 5 7-7 3z"/>
<path fill="#de2" d="M918 207l7-3 5 5-7 2z"/>
<path fill="#dd2" d="M911 210l7-3 5 4-7 2zm-7 1l7-1 5 3-6 1zm-6 2l6-2 6 3-7 1zm-7 2l7-2 5 2-7 1z"/>
<path fill="#da1" d="M1203 99l7-3 5-4-7 3zm-7 3l7-3 5-4-7 4zm-7 4l7-4 5-3-7 4z"/>
<path fill="#db1" d="M1182 109l7-3 5-3-6 5zm-7 5l7-5 6-1-7 5z"/>
<path fill="#dc1" d="M1169 118l6-4 6-1-7 6z"/>
<path fill="#ed1" d="M1162 124l7-6 5 1-7 7zm-7 6l7-6 5 2-7 7z"/>
<path fill="#ee1" d="M1148 136l7-6 5 3-6 6zm-7 5l7-5 6 3-7 6zm-6 5l6-5 6 4-7 4z"/>
<path fill="#dd2" d="M1128 149l7-3 5 3-7 3zm-7 2l7-2 5 3-7 2zm-7 2l7-2 5 3-7 2z"/>
<path fill="#dd1" d="M1107 153l7 0 5 3-6 0zm-6 1l6-1 6 3-7 0zm-7 0l7 0 5 2-7 0z"/>
<path fill="#dc1" d="M1087 153l7 1 5 2-7 0zm-7 0l7 0 5 3-7-1zm-7-1l7 1 5 2-6-1zm-7-2l7 2 6 2-7-1zm-6-1l6 1 6 3-7-1zm-7 0l7 0 5 3-7 0zm-7 1l7-1 5 3-7 1z"/>
<path fill="#ec1" d="M1039 151l7-1 5 3-7 1zm-7 0l7 0 5 3-6 2zm-6 2l6-2 6 5-7 2zm-7 1l7-1 5 5-7 2z"/>
<path fill="#ed1" d="M1012 157l7-3 5 6-7 3z"/>
<path fill="#fd1" d="M1005 160l7-3 5 6-7 4zm-7 4l7-4 5 7-6 5z"/>
<path fill="#fe1" d="M991 169l7-5 6 8-7 5zm-6 5l6-5 6 8-7 5zm-7 5l7-5 5 8-7 5zm-7 4l7-4 5 8-7 4zm-7 5l7-5 5 8-7 5z"/>
<path fill="#ee2" d="M957 193l7-5 5 8-6 4zm-6 4l6-4 6 7-7 4zm-7 5l7-5 5 7-7 4zm-7 4l7-4 5 6-7 3z"/>
<path fill="#dd2" d="M930 209l7-3 5 5-7 2zm-7 2l7-2 5 4-6 1zm-7 2l7-2 6 3-7 1zm-6 1l6-1 6 2-7 1z"/>
<path fill="#cc2" d="M903 215l7-1 5 2-7 0z"/>
<path fill="#dd2" d="M896 216l7-1 5 1-7 2z"/>
<path fill="#c91" d="M1208 95l7-3 5-4-7 4z"/>
<path fill="#da1" d="M1201 99l7-4 5-3-6 5zm-7 4l7-4 6-2-7 5z"/>
<path fill="#db1" d="M1188 108l6-5 6-1-7 6z"/>
<path fill="#eb1" d="M1181 113l7-5 5 0-7 6z"/>
<path fill="#ec1" d="M1174 119l7-6 5 1-7 8z"/>
<path fill="#ed1" d="M1167 126l7-7 5 3-7 7z"/>
<path fill="#ee1" d="M1160 133l7-7 5 3-6 7zm-6 6l6-6 6 3-7 7zm-7 6l7-6 5 4-7 5z"/>
<path fill="#ed2" d="M1140 149l7-4 5 3-7 4z"/>
<path fill="#dd2" d="M1133 152l7-3 5 3-7 3zm-7 2l7-2 5 3-6 2zm-7 2l7-2 6 3-7 1z"/>
<path fill="#dd1" d="M1113 156l6 0 6 2-7 1zm-7 0l7 0 5 3-7 0z"/>
<path fill="#dc1" d="M1099 156l7 0 5 3-7 0zm-7 0l7 0 5 3-7-1zm-7-1l7 1 5 2-6-1zm-6-1l6 1 6 2-7-1zm-7-1l7 1 5 2-7-1zm-7-1l7 1 5 2-7 0zm-7 0l7 0 5 3-7 1zm-7 1l7-1 5 4-6 1z"/>
<path fill="#ec1" d="M1044 154l7-1 6 4-7 1zm-6 2l6-2 6 4-7 2z"/>
<path fill="#ed1" d="M1031 158l7-2 5 4-7 2zm-7 2l7-2 5 4-7 3zm-7 3l7-3 5 5-7 4z"/>
<path fill="#fe1" d="M1010 167l7-4 5 6-6 5zm-6 5l6-5 6 7-7 5zm-7 5l7-5 5 7-7 6zm-7 5l7-5 5 8-7 5zm-7 5l7-5 5 8-7 4z"/>
<path fill="#ee2" d="M976 191l7-4 5 7-6 5zm-7 5l7-5 6 8-7 4zm-6 4l6-4 6 7-7 4zm-7 4l7-4 5 7-7 3zm-7 4l7-4 5 6-7 3z"/>
<path fill="#dd2" d="M942 211l7-3 5 5-7 2zm-7 2l7-2 5 4-6 1zm-6 1l6-1 6 3-7 1z"/>
<path fill="#cd2" d="M922 215l7-1 5 3-7 0z"/>
<path fill="#cc2" d="M915 216l7-1 5 2-7 1zm-7 0l7 0 5 2-7 0z"/>
<path fill="#dd2" d="M901 218l7-2 5 2-6 1z"/>
<path fill="#d91" d="M1213 92l7-4 5-3-6 5zm-6 5l6-5 6-2-7 6z"/>
<path fill="#da1" d="M1200 102l7-5 5-1-7 6z"/>
<path fill="#eb1" d="M1193 108l7-6 5 0-7 7z"/>
<path fill="#ec1" d="M1186 114l7-6 5 1-7 8zm-7 8l7-8 5 3-6 7z"/>
<path fill="#ed1" d="M1172 129l7-7 6 2-7 8z"/>
<path fill="#ee1" d="M1166 136l6-7 6 3-7 7zm-7 7l7-7 5 3-7 7zm-7 5l7-5 5 3-7 5z"/>
<path fill="#ed2" d="M1145 152l7-4 5 3-7 4z"/>
<path fill="#dd2" d="M1138 155l7-3 5 3-6 3zm-6 2l6-2 6 3-7 2zm-7 1l7-1 5 3-7 1z"/>
<path fill="#dd1" d="M1118 159l7-1 5 3-7 0z"/>
<path fill="#dc1" d="M1111 159l7 0 5 2-7 0zm-7 0l7 0 5 2-6 0zm-7-1l7 1 6 2-7-1zm-6-1l6 1 6 2-7-1zm-7-1l7 1 5 2-7-1zm-7-1l7 1 5 2-7-1zm-7 0l7 0 5 2-7 1zm-7 1l7-1 5 3-6 1z"/>
<path fill="#ec1" d="M1057 157l6-1 6 3-7 1zm-7 1l7-1 5 3-7 2z"/>
<path fill="#ed1" d="M1043 160l7-2 5 4-7 3zm-7 2l7-2 5 5-7 3zm-7 3l7-3 5 6-6 3z"/>
<path fill="#fe1" d="M1022 169l7-4 6 6-7 5zm-6 5l6-5 6 7-7 5zm-7 5l7-5 5 7-7 6zm-7 6l7-6 5 8-7 5z"/>
<path fill="#ee2" d="M995 190l7-5 5 7-7 5zm-7 4l7-4 5 7-6 5zm-6 5l6-5 6 8-7 3zm-7 4l7-4 5 6-7 4zm-7 4l7-4 5 6-7 4zm-7 3l7-3 5 6-7 3z"/>
<path fill="#dd2" d="M954 213l7-3 5 6-6 2zm-7 2l7-2 6 5-7 1zm-6 1l6-1 6 4-7 0z"/>
<path fill="#cd2" d="M934 217l7-1 5 3-7 1z"/>
<path fill="#cc2" d="M927 217l7 0 5 3-7 0zm-7 1l7-1 5 3-6 0zm-7 0l7 0 6 2-7 0z"/>
<path fill="#dc2" d="M907 219l6-1 6 2-7 1z"/>
<path fill="#d91" d="M1219 90l6-5 6-2-7 6zm-7 6l7-6 5-1-7 6z"/>
<path fill="#ea1" d="M1205 102l7-6 5-1-7 8z"/>
<path fill="#eb1" d="M1198 109l7-7 5 1-7 8z"/>
<path fill="#ec1" d="M1191 117l7-8 5 2-6 8z"/>
<path fill="#ed1" d="M1185 124l6-7 6 2-7 8zm-7 8l7-8 5 3-7 8z"/>
<path fill="#ee1" d="M1171 139l7-7 5 3-7 7zm-7 7l7-7 5 3-7 6z"/>
<path fill="#ed1" d="M1157 151l7-5 5 2-6 6z"/>
<path fill="#dd2" d="M1150 155l7-4 6 3-7 4zm-6 3l6-3 6 3-7 2zm-7 2l7-2 5 2-7 2z"/>
<path fill="#dc2" d="M1130 161l7-1 5 2-7 0z"/>
<path fill="#dc1" d="M1123 161l7 0 5 1-6 1z"/>
<path fill="#cc1" d="M1116 161l7 0 6 2-7 0zm-6 0l6 0 6 2-7-1zm-7-1l7 1 5 1-7-1z"/>
<path fill="#dc1" d="M1096 159l7 1 5 1-7-1zm-7-1l7 1 5 1-7 0zm-7-1l7 1 5 2-6 0zm-7 1l7-1 6 3-7 0zm-6 1l6-1 6 2-7 2z"/>
<path fill="#ed1" d="M1062 160l7-1 5 3-7 2zm-7 2l7-2 5 4-7 2zm-7 3l7-3 5 4-6 3zm-7 3l7-3 6 4-7 4z"/>
<path fill="#fe1" d="M1035 171l6-3 6 5-7 5zm-7 5l7-5 5 7-7 5zm-7 5l7-5 5 7-7 5zm-7 6l7-6 5 7-7 6z"/>
<path fill="#ee2" d="M1007 192l7-5 5 7-6 5zm-7 5l7-5 6 7-7 5zm-6 5l6-5 6 7-7 4zm-7 3l7-3 5 6-7 4zm-7 4l7-4 5 7-7 3z"/>
<path fill="#de2" d="M973 213l7-4 5 6-6 3z"/>
<path fill="#dd2" d="M966 216l7-3 6 5-7 2zm-6 2l6-2 6 4-7 1zm-7 1l7-1 5 3-7 1z"/>
<path fill="#cd2" d="M946 219l7 0 5 3-7 0z"/>
<path fill="#cc2" d="M939 220l7-1 5 3-7 0zm-7 0l7 0 5 2-6 0zm-6 0l6 0 6 2-7 0zm-7 0l7 0 5 2-7 0z"/>
<path fill="#dc2" d="M912 221l7-1 5 2-7 0z"/>
<path fill="#d92" d="M1224 89l7-6 5-1-7 7z"/>
<path fill="#e92" d="M1217 95l7-6 5 0-7 8z"/>
<path fill="#ea1" d="M1210 103l7-8 5 2-6 8z"/>
<path fill="#eb1" d="M1203 111l7-8 6 2-7 9z"/>
<path fill="#ec1" d="M1197 119l6-8 6 3-7 8z"/>
<path fill="#ed1" d="M1190 127l7-8 5 3-7 8zm-7 8l7-8 5 3-7 8z"/>
<path fill="#ee1" d="M1176 142l7-7 5 3-6 7zm-7 6l7-6 6 3-7 6z"/>
<path fill="#ed1" d="M1163 154l6-6 6 3-7 5z"/>
<path fill="#dd2" d="M1156 158l7-4 5 2-7 3zm-7 2l7-2 5 1-7 3zm-7 2l7-2 5 2-7 1z"/>
<path fill="#cc1" d="M1135 162l7 0 5 1-6 1zm-6 1l6-1 6 2-7 0zm-7 0l7 0 5 1-7 0zm-7-1l7 1 5 1-7-1zm-7-1l7 1 5 1-7 0z"/>
<path fill="#dc1" d="M1101 160l7 1 5 2-6-1zm-7 0l7 0 6 2-7 0zm-6 0l6 0 6 2-7 0zm-7 0l7 0 5 2-7 1z"/>
<path fill="#ed1" d="M1074 162l7-2 5 3-7 2zm-7 2l7-2 5 3-7 3zm-7 2l7-2 5 4-6 3zm-6 3l6-3 6 5-7 3z"/>
<path fill="#ee1" d="M1047 173l7-4 5 5-7 5z"/>
<path fill="#fe1" d="M1040 178l7-5 5 6-7 5zm-7 5l7-5 5 6-7 5z"/>
<path fill="#ee1" d="M1026 188l7-5 5 6-6 6z"/>
<path fill="#ee2" d="M1019 194l7-6 6 7-7 5zm-6 5l6-5 6 6-7 5zm-7 5l7-5 5 6-7 5zm-7 4l7-4 5 6-7 4z"/>
<path fill="#de2" d="M992 212l7-4 5 6-7 3zm-7 3l7-3 5 5-6 3z"/>
<path fill="#dd2" d="M979 218l6-3 6 5-7 2zm-7 2l7-2 5 4-7 2z"/>
<path fill="#cd2" d="M965 221l7-1 5 4-7 0zm-7 1l7-1 5 3-7 1z"/>
<path fill="#cc2" d="M951 222l7 0 5 3-6 0zm-7 0l7 0 6 3-7-1zm-6 0l6 0 6 2-7 0zm-7 0l7 0 5 2-7 0zm-7 0l7 0 5 2-7-1z"/>
<path fill="#cc1" d="M917 222l7 0 5 1-7 1z"/>
<path fill="#e92" d="M1229 89l7-7 5 0-6 8zm-7 8l7-8 6 1-7 9z"/>
<path fill="#ea2" d="M1216 105l6-8 6 2-7 9z"/>
<path fill="#eb1" d="M1209 114l7-9 5 3-7 9z"/>
<path fill="#ec1" d="M1202 122l7-8 5 3-7 8z"/>
<path fill="#ed1" d="M1195 130l7-8 5 3-7 8zm-7 8l7-8 5 3-6 7zm-6 7l6-7 6 2-7 7zm-7 6l7-6 5 2-7 6z"/>
<path fill="#dd1" d="M1168 156l7-5 5 2-7 4zm-7 3l7-3 5 1-7 4zm-7 3l7-3 5 2-6 2z"/>
<path fill="#cc1" d="M1147 163l7-1 6 1-7 1zm-6 1l6-1 6 1-7 0zm-7 0l7 0 5 0-7 1zm-7 0l7 0 5 1-7-1zm-7-1l7 1 5 0-7 0z"/>
<path fill="#dc1" d="M1113 163l7 0 5 1-6 0zm-6-1l6 1 6 1-7 0zm-7 0l7 0 5 2-7 0zm-7 0l7 0 5 2-7 1zm-7 1l7-1 5 3-7 1z"/>
<path fill="#ed1" d="M1079 165l7-2 5 3-6 2zm-7 3l7-3 6 3-7 3zm-6 3l6-3 6 3-7 4z"/>
<path fill="#ee1" d="M1059 174l7-3 5 4-7 5z"/>
<path fill="#fe1" d="M1052 179l7-5 5 6-7 5zm-7 5l7-5 5 6-7 5z"/>
<path fill="#ee1" d="M1038 189l7-5 5 6-6 5z"/>
<path fill="#ee2" d="M1032 195l6-6 6 6-7 6zm-7 5l7-5 5 6-7 5zm-7 5l7-5 5 6-7 5zm-7 5l7-5 5 6-7 4z"/>
<path fill="#de2" d="M1004 214l7-4 5 5-6 4zm-7 3l7-3 6 5-7 3z"/>
<path fill="#dd2" d="M991 220l6-3 6 5-7 2zm-7 2l7-2 5 4-7 2z"/>
<path fill="#cd2" d="M977 224l7-2 5 4-7 1zm-7 0l7 0 5 3-7 0z"/>
<path fill="#cc2" d="M963 225l7-1 5 3-6 0zm-6 0l6 0 6 2-7 0zm-7-1l7 1 5 2-7-1zm-7 0l7 0 5 2-7 0zm-7 0l7 0 5 2-7-1zm-7-1l7 1 5 1-6 0z"/>
<path fill="#cc1" d="M922 224l7-1 6 2-7 0z"/>
<path fill="#e92" d="M1235 90l6-8 6 1-7 10z"/>
<path fill="#ea2" d="M1228 99l7-9 5 3-7 9zm-7 9l7-9 5 3-7 9z"/>
<path fill="#eb1" d="M1214 117l7-9 5 3-7 9z"/>
<path fill="#ec1" d="M1207 125l7-8 5 3-6 8z"/>
<path fill="#ed1" d="M1200 133l7-8 6 3-7 8zm-6 7l6-7 6 3-7 7zm-7 7l7-7 5 3-7 6zm-7 6l7-6 5 2-7 5z"/>
<path fill="#dd1" d="M1173 157l7-4 5 1-7 4zm-7 4l7-4 5 1-6 4z"/>
<path fill="#dc1" d="M1160 163l6-2 6 1-7 1z"/>
<path fill="#cc1" d="M1153 164l7-1 5 0-7 1zm-7 0l7 0 5 0-7 1zm-7 1l7-1 5 1-7 0zm-7-1l7 1 5 0-6 0zm-7 0l7 0 6 1-7 0z"/>
<path fill="#dc1" d="M1119 164l6 0 6 1-7 0zm-7 0l7 0 5 1-7 0zm-7 0l7 0 5 1-7 1zm-7 1l7-1 5 2-7 1z"/>
<path fill="#dd1" d="M1091 166l7-1 5 2-6 2z"/>
<path fill="#ed1" d="M1085 168l6-2 6 3-7 3zm-7 3l7-3 5 4-7 3z"/>
<path fill="#ee1" d="M1071 175l7-4 5 4-7 5zm-7 5l7-5 5 5-7 5zm-7 5l7-5 5 5-6 5zm-7 5l7-5 6 5-7 5z"/>
<path fill="#ee2" d="M1044 195l6-5 6 5-7 6zm-7 6l7-6 5 6-7 5zm-7 5l7-5 5 5-7 5zm-7 5l7-5 5 5-7 5z"/>
<path fill="#de2" d="M1016 215l7-4 5 5-6 4z"/>
<path fill="#dd2" d="M1010 219l6-4 6 5-7 3zm-7 3l7-3 5 4-7 3zm-7 2l7-2 5 4-7 1z"/>
<path fill="#cd2" d="M989 226l7-2 5 3-7 1zm-7 1l7-1 5 2-6 1z"/>
<path fill="#cc2" d="M975 227l7 0 6 2-7 0zm-6 0l6 0 6 2-7 0zm-7 0l7 0 5 2-7 0zm-7-1l7 1 5 2-7-1zm-7 0l7 0 5 2-6 0zm-7-1l7 1 6 2-7-1z"/>
<path fill="#cc1" d="M935 225l6 0 6 2-7 0zm-7 0l7 0 5 2-7 0z"/>
<path fill="#e92" d="M1240 93l7-10 5 3-7 10z"/>
<path fill="#ea2" d="M1233 102l7-9 5 3-7 9zm-7 9l7-9 5 3-7 9z"/>
<path fill="#eb1" d="M1219 120l7-9 5 3-6 9z"/>
<path fill="#ec1" d="M1213 128l6-8 6 3-7 8z"/>
<path fill="#ed1" d="M1206 136l7-8 5 3-7 7zm-7 7l7-7 5 2-7 7zm-7 6l7-6 5 2-7 6zm-7 5l7-5 5 2-6 5z"/>
<path fill="#dd1" d="M1178 158l7-4 6 2-7 3zm-6 4l6-4 6 1-7 3z"/>
<path fill="#cc1" d="M1165 163l7-1 5 0-7 1zm-7 1l7-1 5 0-7 1zm-7 1l7-1 5 0-6 1zm-7 0l7 0 6 0-7 0zm-6 0l6 0 6 0-7 0zm-7 0l7 0 5 0-7 0zm-7 0l7 0 5 0-7 0z"/>
<path fill="#dc1" d="M1117 165l7 0 5 0-7 1zm-7 1l7-1 5 1-6 1zm-7 1l7-1 6 1-7 2z"/>
<path fill="#dd1" d="M1097 169l6-2 6 2-7 2z"/>
<path fill="#ed1" d="M1090 172l7-3 5 2-7 4zm-7 3l7-3 5 3-7 4z"/>
<path fill="#ee1" d="M1076 180l7-5 5 4-6 5zm-7 5l7-5 6 4-7 5zm-6 5l6-5 6 4-7 5z"/>
<path fill="#ee2" d="M1056 195l7-5 5 4-7 6zm-7 6l7-6 5 5-7 5zm-7 5l7-5 5 4-7 5zm-7 5l7-5 5 4-6 5z"/>
<path fill="#de2" d="M1028 216l7-5 6 4-7 5z"/>
<path fill="#dd2" d="M1022 220l6-4 6 4-7 4zm-7 3l7-3 5 4-7 2zm-7 3l7-3 5 3-7 2z"/>
<path fill="#cd2" d="M1001 227l7-1 5 2-6 2z"/>
<path fill="#cc2" d="M994 228l7-1 6 3-7 1zm-6 1l6-1 6 3-7 0zm-7 0l7 0 5 2-7 0zm-7 0l7 0 5 2-7-1zm-7 0l7 0 5 1-7 0zm-7-1l7 1 5 1-6-1zm-6 0l6 0 6 1-7 0zm-7-1l7 1 5 1-7-1z"/>
<path fill="#cc1" d="M940 227l7 0 5 1-7 0zm-7 0l7 0 5 1-7 0z"/>
<path fill="#e92" d="M1245 96l7-10 5 5-7 9z"/>
<path fill="#fa2" d="M1238 105l7-9 5 4-6 9z"/>
<path fill="#fb2" d="M1231 114l7-9 6 4-7 9z"/>
<path fill="#fb1" d="M1225 123l6-9 6 4-7 8z"/>
<path fill="#ec1" d="M1218 131l7-8 5 3-7 8z"/>
<path fill="#ed1" d="M1211 138l7-7 5 3-7 7zm-7 7l7-7 5 3-6 6zm-7 6l7-6 6 2-7 6zm-6 5l6-5 6 2-7 4z"/>
<path fill="#dd1" d="M1184 159l7-3 5 1-7 3z"/>
<path fill="#dc1" d="M1177 162l7-3 5 1-7 1z"/>
<path fill="#cc1" d="M1170 163l7-1 5-1-7 1zm-7 1l7-1 5-1-6 1zm-6 1l6-1 6-1-7 1z"/>
<path fill="#dc1" d="M1150 165l7 0 5-1-7 0z"/>
<path fill="#cc1" d="M1143 165l7 0 5-1-7 0zm-7 0l7 0 5-1-7 1zm-7 0l7 0 5 0-6 0z"/>
<path fill="#dc1" d="M1122 166l7-1 6 0-7 1zm-6 1l6-1 6 0-7 2zm-7 2l7-2 5 1-7 2z"/>
<path fill="#ed1" d="M1102 171l7-2 5 1-7 4zm-7 4l7-4 5 3-7 4zm-7 4l7-4 5 3-6 5z"/>
<path fill="#ee1" d="M1082 184l6-5 6 4-7 5zm-7 5l7-5 5 4-7 5zm-7 5l7-5 5 4-7 6z"/>
<path fill="#ee2" d="M1061 200l7-6 5 5-7 5zm-7 5l7-5 5 4-6 5zm-7 5l7-5 6 4-7 6z"/>
<path fill="#de2" d="M1041 215l6-5 6 5-7 4z"/>
<path fill="#dd2" d="M1034 220l7-5 5 4-7 5zm-7 4l7-4 5 4-7 3zm-7 2l7-2 5 3-7 2z"/>
<path fill="#cd2" d="M1013 228l7-2 5 3-6 1z"/>
<path fill="#cc2" d="M1007 230l6-2 6 2-7 1zm-7 1l7-1 5 1-7 1zm-7 0l7 0 5 1-7 0zm-7 0l7 0 5 1-7 0zm-7-1l7 1 5 1-6-1zm-7 0l7 0 6 1-7-1zm-6-1l6 1 6 0-7 0zm-7 0l7 0 5 1-7-1z"/>
<path fill="#cc1" d="M952 228l7 1 5 0-7 0zm-7 0l7 0 5 1-7 0z"/>
<path fill="#dc1" d="M938 228l7 0 5 1-6 0z"/>
<path fill="#fa2" d="M1250 100l7-9 6 5-7 9zm-6 9l6-9 6 5-7 9z"/>
<path fill="#fb1" d="M1237 118l7-9 5 5-7 9z"/>
<path fill="#fc1" d="M1230 126l7-8 5 5-7 8zm-7 8l7-8 5 5-7 7z"/>
<path fill="#ed1" d="M1216 141l7-7 5 4-6 7zm-6 6l6-6 6 4-7 5zm-7 6l7-6 5 3-7 5z"/>
<path fill="#dd1" d="M1196 157l7-4 5 2-7 3z"/>
<path fill="#dc1" d="M1189 160l7-3 5 1-7 1z"/>
<path fill="#cc1" d="M1182 161l7-1 5-1-6 1zm-7 1l7-1 6-1-7 1z"/>
<path fill="#dc1" d="M1169 163l6-1 6-1-7 0zm-7 1l7-1 5-2-7 1zm-7 0l7 0 5-2-7 0zm-7 0l7 0 5-2-7 1zm-7 1l7-1 5-1-6 1z"/>
<path fill="#cb1" d="M1135 165l6 0 6-1-7 0z"/>
<path fill="#db1" d="M1128 166l7-1 5-1-7 2z"/>
<path fill="#dc1" d="M1121 168l7-2 5 0-7 3zm-7 2l7-2 5 1-7 4z"/>
<path fill="#ed1" d="M1107 174l7-4 5 3-6 4zm-7 4l7-4 6 3-7 5z"/>
<path fill="#ee1" d="M1094 183l6-5 6 4-7 4zm-7 5l7-5 5 3-7 5zm-7 5l7-5 5 3-7 6z"/>
<path fill="#ee2" d="M1073 199l7-6 5 4-7 6zm-7 5l7-5 5 4-6 5zm-6 5l6-5 6 4-7 6z"/>
<path fill="#de2" d="M1053 215l7-6 5 5-7 5zm-7 4l7-4 5 4-7 4z"/>
<path fill="#dd2" d="M1039 224l7-5 5 4-7 4zm-7 3l7-3 5 3-6 2z"/>
<path fill="#cd2" d="M1025 229l7-2 6 2-7 2z"/>
<path fill="#cc2" d="M1019 230l6-1 6 2-7 1zm-7 1l7-1 5 2-7 0zm-7 1l7-1 5 1-7 0zm-7 0l7 0 5 0-7 0zm-7 0l7 0 5 0-6-1zm-6-1l6 1 6-1-7 0zm-7-1l7 1 5 0-7-1zm-7 0l7 0 5 0-7-1z"/>
<path fill="#cc1" d="M964 229l7 1 5-1-7 0zm-7 0l7 0 5 0-6 1z"/>
<path fill="#dc1" d="M950 229l7 0 6 1-7 0zm-6 0l6 0 6 1-7 1z"/>
<path fill="#fa2" d="M1256 105l7-9 5 7-7 8z"/>
<path fill="#fb2" d="M1249 114l7-9 5 6-7 9z"/>
<path fill="#fb1" d="M1242 123l7-9 5 6-7 8z"/>
<path fill="#fc1" d="M1235 131l7-8 5 5-6 7z"/>
<path fill="#fd1" d="M1228 138l7-7 6 4-7 7z"/>
<path fill="#ed1" d="M1222 145l6-7 6 4-7 6zm-7 5l7-5 5 3-7 5zm-7 5l7-5 5 3-7 3z"/>
<path fill="#dc1" d="M1201 158l7-3 5 1-7 2z"/>
<path fill="#cc1" d="M1194 159l7-1 5 0-6 0z"/>
<path fill="#dc1" d="M1188 160l6-1 6-1-7 1zm-7 1l7-1 5-1-7 0zm-7 0l7 0 5-2-7 1zm-7 1l7-1 5-1-7 0zm-7 0l7 0 5-2-6 1z"/>
<path fill="#db1" d="M1153 163l7-1 6-1-7 0zm-6 1l6-1 6-2-7 1z"/>
<path fill="#cb1" d="M1140 164l7 0 5-2-7 2z"/>
<path fill="#db1" d="M1133 166l7-2 5 0-7 2z"/>
<path fill="#dc1" d="M1126 169l7-3 5 0-7 4z"/>
<path fill="#ed1" d="M1119 173l7-4 5 1-6 5zm-6 4l6-4 6 2-7 6zm-7 5l7-5 5 4-7 4z"/>
<path fill="#ee1" d="M1099 186l7-4 5 3-7 5zm-7 5l7-5 5 4-7 5zm-7 6l7-6 5 4-6 6z"/>
<path fill="#ee2" d="M1078 203l7-6 6 4-7 6zm-6 5l6-5 6 4-7 5zm-7 6l7-6 5 4-7 6z"/>
<path fill="#de2" d="M1058 219l7-5 5 4-7 5z"/>
<path fill="#dd2" d="M1051 223l7-4 5 4-7 4zm-7 4l7-4 5 4-6 2z"/>
<path fill="#cd2" d="M1038 229l6-2 6 2-7 2z"/>
<path fill="#cc2" d="M1031 231l7-2 5 2-7 1zm-7 1l7-1 5 1-7 0zm-7 0l7 0 5 0-7 0zm-7 0l7 0 5 0-6 0zm-7 0l7 0 6 0-7 0zm-6-1l6 1 6 0-7-1zm-7 0l7 0 5 0-7-1zm-7-1l7 1 5-1-7 0z"/>
<path fill="#cc1" d="M976 229l7 1 5 0-6-1zm-7 0l7 0 6 0-7 1z"/>
<path fill="#dc1" d="M963 230l6-1 6 1-7 1zm-7 0l7 0 5 1-7 1zm-7 1l7-1 5 2-7 0z"/>
<path fill="#fa2" d="M1261 111l7-8 5 7-7 8z"/>
<path fill="#fb2" d="M1254 120l7-9 5 7-7 8z"/>
<path fill="#fc1" d="M1247 128l7-8 5 6-6 7zm-6 7l6-7 6 5-7 7z"/>
<path fill="#fd1" d="M1234 142l7-7 5 5-7 6z"/>
<path fill="#ed1" d="M1227 148l7-6 5 4-7 5zm-7 5l7-5 5 3-7 3z"/>
<path fill="#dc1" d="M1213 156l7-3 5 1-6 2z"/>
<path fill="#cc1" d="M1206 158l7-2 6 0-7 0z"/>
<path fill="#dc1" d="M1200 158l6 0 6-2-7 0zm-7 1l7-1 5-2-7 1zm-7 0l7 0 5-2-7 0zm-7 1l7-1 5-2-6 1z"/>
<path fill="#db1" d="M1172 160l7 0 6-2-7 0zm-6 1l6-1 6-2-7 1zm-7 0l7 0 5-2-7 1z"/>
<path fill="#cb1" d="M1152 162l7-1 5-1-7 1z"/>
<path fill="#db1" d="M1145 164l7-2 5-1-7 3zm-7 2l7-2 5 0-6 4z"/>
<path fill="#ec1" d="M1131 170l7-4 6 2-7 5z"/>
<path fill="#ed1" d="M1125 175l6-5 6 3-7 5zm-7 6l7-6 5 3-7 6z"/>
<path fill="#ee1" d="M1111 185l7-4 5 3-7 5zm-7 5l7-5 5 4-6 5zm-7 5l7-5 6 4-7 5z"/>
<path fill="#ee2" d="M1091 201l6-6 6 4-7 6zm-7 6l7-6 5 4-7 6zm-7 5l7-5 5 4-7 5z"/>
<path fill="#de2" d="M1070 218l7-6 5 4-7 6z"/>
<path fill="#dd2" d="M1063 223l7-5 5 4-6 4zm-7 4l7-4 6 3-7 3z"/>
<path fill="#cd2" d="M1050 229l6-2 6 2-7 2z"/>
<path fill="#cc2" d="M1043 231l7-2 5 2-7 1zm-7 1l7-1 5 1-7 0zm-7 0l7 0 5 0-6 0zm-7 0l7 0 6 0-7 0zm-6 0l6 0 6 0-7 0zm-7 0l7 0 5 0-7-1zm-7-1l7 1 5-1-7-1zm-7-1l7 1 5-1-7 0z"/>
<path fill="#cc1" d="M988 230l7 0 5 0-6 0zm-6-1l6 1 6 0-7 0z"/>
<path fill="#dc1" d="M975 230l7-1 5 1-7 1zm-7 1l7-1 5 1-7 1zm-7 1l7-1 5 1-7 1zm-7 0l7 0 5 1-6 1z"/>
<path fill="#fb2" d="M1266 118l7-8 5 7-6 7z"/>
<path fill="#fc1" d="M1259 126l7-8 6 6-7 8zm-6 7l6-7 6 6-7 7z"/>
<path fill="#fd1" d="M1246 140l7-7 5 6-7 6z"/>
<path fill="#ed1" d="M1239 146l7-6 5 5-7 5zm-7 5l7-5 5 4-6 3z"/>
<path fill="#dc1" d="M1225 154l7-3 6 2-7 1z"/>
<path fill="#cc1" d="M1219 156l6-2 6 0-7 1z"/>
<path fill="#dc1" d="M1212 156l7 0 5-1-7 0zm-7 0l7 0 5-1-7 0z"/>
<path fill="#db1" d="M1198 157l7-1 5-1-7 0zm-7 0l7 0 5-2-6 0zm-6 1l6-1 6-2-7 1zm-7 0l7 0 5-2-7 0zm-7 1l7-1 5-2-7 1z"/>
<path fill="#da1" d="M1164 160l7-1 5-2-7 2z"/>
<path fill="#db1" d="M1157 161l7-1 5-1-6 2zm-7 3l7-3 6 0-7 4z"/>
<path fill="#ec1" d="M1144 168l6-4 6 1-7 5zm-7 5l7-5 5 2-7 6z"/>
<path fill="#ed1" d="M1130 178l7-5 5 3-7 6zm-7 6l7-6 5 4-7 5z"/>
<path fill="#ee1" d="M1116 189l7-5 5 3-6 6zm-6 5l6-5 6 4-7 5zm-7 5l7-5 5 4-7 5z"/>
<path fill="#ee2" d="M1096 205l7-6 5 4-7 6zm-7 6l7-6 5 4-7 6zm-7 5l7-5 5 4-6 5z"/>
<path fill="#de2" d="M1075 222l7-6 6 4-7 5z"/>
<path fill="#dd2" d="M1069 226l6-4 6 3-7 4z"/>
<path fill="#cd2" d="M1062 229l7-3 5 3-7 2z"/>
<path fill="#cc2" d="M1055 231l7-2 5 2-7 1zm-7 1l7-1 5 1-7 0zm-7 0l7 0 5 0-6 0zm-6 0l6 0 6 0-7 0zm-7 0l7 0 5 0-7 0zm-7 0l7 0 5 0-7-1zm-7-1l7 1 5-1-7-1z"/>
<path fill="#cc1" d="M1007 230l7 1 5-1-6 0zm-7 0l7 0 6 0-7 0zm-6 0l6 0 6 0-7 0z"/>
<path fill="#dc1" d="M987 230l7 0 5 0-7 1zm-7 1l7-1 5 1-7 1zm-7 1l7-1 5 1-7 2zm-7 1l7-1 5 2-6 0zm-6 1l6-1 6 1-7 1z"/>
<path fill="#fc1" d="M1272 124l6-7 6 8-7 6zm-7 8l7-8 5 7-7 7z"/>
<path fill="#fd1" d="M1258 139l7-7 5 6-7 6z"/>
<path fill="#ed1" d="M1251 145l7-6 5 5-7 5zm-7 5l7-5 5 4-6 3z"/>
<path fill="#dc1" d="M1238 153l6-3 6 2-7 1z"/>
<path fill="#cc1" d="M1231 154l7-1 5 0-7 1z"/>
<path fill="#db1" d="M1224 155l7-1 5 0-7-1zm-7 0l7 0 5-2-7 0zm-7 0l7 0 5-2-6 0zm-7 0l7 0 6-2-7 0zm-6 0l6 0 6-2-7 0zm-7 1l7-1 5-2-7 1z"/>
<path fill="#da1" d="M1183 156l7 0 5-2-7 1zm-7 1l7-1 5-1-7 1zm-7 2l7-2 5-1-6 2z"/>
<path fill="#db1" d="M1163 161l6-2 6-1-7 4z"/>
<path fill="#eb1" d="M1156 165l7-4 5 1-7 5z"/>
<path fill="#ec1" d="M1149 170l7-5 5 2-7 5z"/>
<path fill="#ed1" d="M1142 176l7-6 5 2-7 7zm-7 6l7-6 5 3-6 6z"/>
<path fill="#ee1" d="M1128 187l7-5 6 3-7 6zm-6 6l6-6 6 4-7 5zm-7 5l7-5 5 3-7 6zm-7 5l7-5 5 4-7 5z"/>
<path fill="#ee2" d="M1101 209l7-6 5 4-7 6zm-7 6l7-6 5 4-6 6z"/>
<path fill="#de2" d="M1088 220l6-5 6 4-7 5z"/>
<path fill="#dd2" d="M1081 225l7-5 5 4-7 4zm-7 4l7-4 5 3-7 2z"/>
<path fill="#cc2" d="M1067 231l7-2 5 1-7 2zm-7 1l7-1 5 1-6 0zm-7 0l7 0 6 0-7 0zm-6 0l6 0 6 0-7 0zm-7 0l7 0 5 0-7 0zm-7 0l7 0 5 0-7-1zm-7-1l7 1 5-1-7 0z"/>
<path fill="#cc1" d="M1019 230l7 1 5 0-6-1zm-6 0l6 0 6 0-7 0zm-7 0l7 0 5 0-7 0z"/>
<path fill="#dc1" d="M999 230l7 0 5 0-7 1zm-7 1l7-1 5 1-7 1zm-7 1l7-1 5 1-6 2zm-7 2l7-2 6 2-7 1zm-6 0l6 0 6 1-7 1zm-7 1l7-1 5 2-7 0z"/>
<path fill="#fc1" d="M1277 131l7-6 5 7-7 6zm-7 7l7-7 5 7-7 6z"/>
<path fill="#fd1" d="M1263 144l7-6 5 6-6 4z"/>
<path fill="#ed1" d="M1256 149l7-5 6 4-7 3z"/>
<path fill="#dc1" d="M1250 152l6-3 6 2-7 2z"/>
<path fill="#db1" d="M1243 153l7-1 5 1-7 0zm-7 1l7-1 5 0-7-1zm-7-1l7 1 5-2-7 0zm-7 0l7 0 5-1-6-1zm-6 0l6 0 6-2-7 0z"/>
<path fill="#da1" d="M1209 153l7 0 5-2-7 0zm-7 0l7 0 5-2-7 0zm-7 1l7-1 5-2-7 1zm-7 1l7-1 5-2-6 1z"/>
<path fill="#ca1" d="M1181 156l7-1 6-2-7 2z"/>
<path fill="#da1" d="M1175 158l6-2 6-1-7 4z"/>
<path fill="#db1" d="M1168 162l7-4 5 1-7 4z"/>
<path fill="#eb1" d="M1161 167l7-5 5 1-7 6z"/>
<path fill="#ec1" d="M1154 172l7-5 5 2-7 6z"/>
<path fill="#ed1" d="M1147 179l7-7 5 3-6 7zm-6 6l6-6 6 3-7 6z"/>
<path fill="#ee1" d="M1134 191l7-6 5 3-7 7zm-7 5l7-5 5 4-7 5zm-7 6l7-6 5 4-7 5z"/>
<path fill="#ee2" d="M1113 207l7-5 5 3-6 6zm-7 6l7-6 6 4-7 6zm-6 6l6-6 6 4-7 5z"/>
<path fill="#dd2" d="M1093 224l7-5 5 3-7 5zm-7 4l7-4 5 3-7 2z"/>
<path fill="#cc2" d="M1079 230l7-2 5 1-7 2zm-7 2l7-2 5 1-6 1zm-6 0l6 0 6 0-7 0zm-7 0l7 0 5 0-7 0zm-7 0l7 0 5 0-7 0zm-7 0l7 0 5 0-7 0zm-7-1l7 1 5 0-6-1z"/>
<path fill="#cc1" d="M1031 231l7 0 6 0-7-1zm-6-1l6 1 6-1-7 0zm-7 0l7 0 5 0-7 1z"/>
<path fill="#dc1" d="M1011 230l7 0 5 1-7 0zm-7 1l7-1 5 1-6 1zm-7 1l7-1 6 1-7 2zm-6 2l6-2 6 2-7 1zm-7 1l7-1 5 1-7 1zm-7 1l7-1 5 1-7 1zm-7 0l7 0 5 1-7 0z"/>
<path fill="#fd1" d="M1282 138l7-6 5 8-7 4zm-7 6l7-6 5 6-6 5z"/>
<path fill="#ed1" d="M1269 148l6-4 6 5-7 2z"/>
<path fill="#dc1" d="M1262 151l7-3 5 3-7 2z"/>
<path fill="#db1" d="M1255 153l7-2 5 2-7 0zm-7 0l7 0 5 0-7-1zm-7-1l7 1 5-1-6-1zm-7 0l7 0 6-1-7-1zm-6-1l6 1 6-2-7-1z"/>
<path fill="#da1" d="M1221 151l7 0 5-2-7 0zm-7 0l7 0 5-2-7 0zm-7 0l7 0 5-2-6 1zm-7 1l7-1 6-1-7 1z"/>
<path fill="#c91" d="M1194 153l6-1 6-1-7 2z"/>
<path fill="#da1" d="M1187 155l7-2 5 0-7 3zm-7 4l7-4 5 1-7 4z"/>
<path fill="#eb1" d="M1173 163l7-4 5 1-7 5z"/>
<path fill="#ec1" d="M1166 169l7-6 5 2-6 6zm-7 6l7-6 6 2-7 7z"/>
<path fill="#ed1" d="M1153 182l6-7 6 3-7 7zm-7 6l7-6 5 3-7 7z"/>
<path fill="#ee1" d="M1139 195l7-7 5 4-7 6zm-7 5l7-5 5 3-6 6zm-7 5l7-5 6 4-7 5z"/>
<path fill="#ee2" d="M1119 211l6-6 6 4-7 6zm-7 6l7-6 5 4-7 6z"/>
<path fill="#dd2" d="M1105 222l7-5 5 4-7 4zm-7 5l7-5 5 3-7 3z"/>
<path fill="#cd2" d="M1091 229l7-2 5 1-6 2z"/>
<path fill="#cc2" d="M1084 231l7-2 6 1-7 2zm-6 1l6-1 6 1-7 0zm-7 0l7 0 5 0-7 1zm-7 0l7 0 5 1-7-1zm-7 0l7 0 5 0-6 0zm-7 0l7 0 6 0-7 0z"/>
<path fill="#cc1" d="M1044 231l6 1 6 0-7-1zm-7-1l7 1 5 0-7 0zm-7 0l7 0 5 1-7 0z"/>
<path fill="#dc1" d="M1023 231l7-1 5 1-7 1zm-7 0l7 0 5 1-6 1zm-6 1l6-1 6 2-7 1zm-7 2l7-2 5 2-7 1zm-7 1l7-1 5 1-7 1zm-7 1l7-1 5 1-7 1zm-7 1l7-1 5 1-6 1zm-7 0l7 0 6 1-7 0z"/>
<path fill="#fd1" d="M1287 144l7-4 6 6-7 4z"/>
<path fill="#ed1" d="M1281 149l6-5 6 6-7 2z"/>
<path fill="#dc1" d="M1274 151l7-2 5 3-7 1z"/>
<path fill="#db1" d="M1267 153l7-2 5 2-7 0zm-7 0l7 0 5 0-6-1zm-7-1l7 1 6-1-7-1zm-6-1l6 1 6-1-7-1z"/>
<path fill="#da1" d="M1240 150l7 1 5-1-7-2zm-7-1l7 1 5-2-7 0zm-7 0l7 0 5-1-7-1zm-7 0l7 0 5-2-6 1z"/>
<path fill="#c91" d="M1213 150l6-1 6-1-7 1zm-7 1l7-1 5-1-7 1z"/>
<path fill="#d91" d="M1199 153l7-2 5-1-7 3z"/>
<path fill="#da1" d="M1192 156l7-3 5 0-7 4z"/>
<path fill="#ea1" d="M1185 160l7-4 5 1-6 5z"/>
<path fill="#eb1" d="M1178 165l7-5 6 2-7 6z"/>
<path fill="#ec1" d="M1172 171l6-6 6 3-7 6zm-7 7l7-7 5 3-7 7z"/>
<path fill="#ed1" d="M1158 185l7-7 5 3-7 7zm-7 7l7-7 5 3-7 7z"/>
<path fill="#ee1" d="M1144 198l7-6 5 3-6 7zm-6 6l6-6 6 4-7 6z"/>
<path fill="#ee2" d="M1131 209l7-5 5 4-7 5zm-7 6l7-6 5 4-7 6z"/>
<path fill="#de2" d="M1117 221l7-6 5 4-7 5z"/>
<path fill="#dd2" d="M1110 225l7-4 5 3-6 3zm-7 3l7-3 6 2-7 3z"/>
<path fill="#cc2" d="M1097 230l6-2 6 2-7 1zm-7 2l7-2 5 1-7 1zm-7 0l7 0 5 0-7 1zm-7 1l7-1 5 1-7 0zm-7-1l7 1 5 0-6 0zm-6 0l6 0 6 1-7-1z"/>
<path fill="#cc1" d="M1056 232l7 0 5 0-7 0zm-7-1l7 1 5 0-7-1zm-7 0l7 0 5 0-7 0z"/>
<path fill="#dc1" d="M1035 231l7 0 5 0-6 1zm-7 1l7-1 6 1-7 1zm-6 1l6-1 6 1-7 1zm-7 1l7-1 5 1-7 1zm-7 1l7-1 5 1-7 1zm-7 1l7-1 5 1-7 1zm-7 1l7-1 5 1-6 1zm-6 1l6-1 6 1-7 1zm-7 0l7 0 5 1-7 0z"/>
<path fill="#ed1" d="M1293 150l7-4 5 6-7 2z"/>
<path fill="#ec1" d="M1286 152l7-2 5 4-7 1z"/>
<path fill="#dc1" d="M1279 153l7-1 5 3-7-1z"/>
<path fill="#cb1" d="M1272 153l7 0 5 1-6-1z"/>
<path fill="#db1" d="M1266 152l6 1 6 0-7-1zm-7-1l7 1 5 0-7-2z"/>
<path fill="#da1" d="M1252 150l7 1 5-1-7-1zm-7-2l7 2 5-1-7-2zm-7 0l7 0 5-1-6 0z"/>
<path fill="#d91" d="M1231 147l7 1 6-1-7-1z"/>
<path fill="#c91" d="M1225 148l6-1 6-1-7 1zm-7 1l7-1 5-1-7 1z"/>
<path fill="#d91" d="M1211 150l7-1 5-1-7 3z"/>
<path fill="#da1" d="M1204 153l7-3 5 1-7 3z"/>
<path fill="#ea1" d="M1197 157l7-4 5 1-6 5z"/>
<path fill="#eb1" d="M1191 162l6-5 6 2-7 6zm-7 6l7-6 5 3-7 6z"/>
<path fill="#ec1" d="M1177 174l7-6 5 3-7 7zm-7 7l7-7 5 4-7 7z"/>
<path fill="#ed1" d="M1163 188l7-7 5 4-6 7z"/>
<path fill="#ee1" d="M1156 195l7-7 6 4-7 7zm-6 7l6-7 6 4-7 6zm-7 6l7-6 5 3-7 7z"/>
<path fill="#ee2" d="M1136 213l7-5 5 4-7 5zm-7 6l7-6 5 4-7 5z"/>
<path fill="#dd2" d="M1122 224l7-5 5 3-6 4zm-6 3l6-3 6 2-7 3z"/>
<path fill="#cd2" d="M1109 230l7-3 5 2-7 2z"/>
<path fill="#cc2" d="M1102 231l7-1 5 1-7 1zm-7 1l7-1 5 1-7 1zm-7 1l7-1 5 1-6 0zm-7 0l7 0 6 0-7 0zm-6 0l6 0 6 0-7 0z"/>
<path fill="#cc1" d="M1068 232l7 1 5 0-7 0zm-7 0l7 0 5 1-7-1zm-7-1l7 1 5 0-7 0z"/>
<path fill="#dc1" d="M1047 231l7 0 5 1-6 1zm-6 1l6-1 6 2-7 0zm-7 1l7-1 5 1-7 1zm-7 1l7-1 5 1-7 1zm-7 1l7-1 5 1-7 1zm-7 1l7-1 5 1-6 1zm-7 1l7-1 6 1-7 1zm-6 1l6-1 6 1-7 1zm-7 1l7-1 5 1-7 1zm-7 0l7 0 5 1-7 0z"/>
<path fill="#ed1" d="M1298 154l7-2 5 5-7 0z"/>
<path fill="#dc1" d="M1291 155l7-1 5 3-6 0z"/>
<path fill="#db1" d="M1284 154l7 1 6 2-7-1z"/>
<path fill="#cb1" d="M1278 153l6 1 6 2-7-2z"/>
<path fill="#db1" d="M1271 152l7 1 5 1-7-2z"/>
<path fill="#da1" d="M1264 150l7 2 5 0-7-2zm-7-1l7 1 5 0-7-1zm-7-2l7 2 5 0-6-2z"/>
<path fill="#d91" d="M1244 147l6 0 6 0-7-1z"/>
<path fill="#c91" d="M1237 146l7 1 5-1-7 0zm-7 1l7-1 5 0-7 1z"/>
<path fill="#d91" d="M1223 148l7-1 5 0-7 2zm-7 3l7-3 5 1-6 3z"/>
<path fill="#ea1" d="M1209 154l7-3 6 1-7 4zm-6 5l6-5 6 2-7 6z"/>
<path fill="#eb1" d="M1196 165l7-6 5 3-7 6zm-7 6l7-6 5 3-7 6z"/>
<path fill="#ec1" d="M1182 178l7-7 5 3-7 7z"/>
<path fill="#ed1" d="M1175 185l7-7 5 3-6 7zm-6 7l6-7 6 3-7 8z"/>
<path fill="#ee1" d="M1162 199l7-7 5 4-7 7zm-7 6l7-6 5 4-7 6zm-7 7l7-7 5 4-7 7z"/>
<path fill="#ee2" d="M1141 217l7-5 5 4-6 5z"/>
<path fill="#dd2" d="M1134 222l7-5 6 4-7 4zm-6 4l6-4 6 3-7 3zm-7 3l7-3 5 2-7 3zm-7 2l7-2 5 2-7 2z"/>
<path fill="#cc2" d="M1107 232l7-1 5 2-7 1zm-7 1l7-1 5 2-6 0zm-6 0l6 0 6 1-7 0zm-7 0l7 0 5 1-7 0z"/>
<path fill="#cc1" d="M1080 233l7 0 5 1-7 0zm-7 0l7 0 5 1-7 0zm-7-1l7 1 5 1-6 0z"/>
<path fill="#dc1" d="M1059 232l7 0 6 2-7 0zm-6 1l6-1 6 2-7 0zm-7 0l7 0 5 1-7 1z"/>
<path fill="#dd1" d="M1039 234l7-1 5 2-7 1z"/>
<path fill="#dc1" d="M1032 235l7-1 5 2-6 1zm-7 1l7-1 6 2-7 1zm-6 1l6-1 6 2-7 1zm-7 1l7-1 5 2-7 1zm-7 1l7-1 5 2-7 0zm-7 1l7-1 5 1-7 1zm-7 0l7 0 5 1-6 0zm312-83l7 0 5 3-6 0zm-6 0l6 0 6 3-7-1z"/>
<path fill="#db1" d="M1290 156l7 1 5 2-7-2z"/>
<path fill="#cb1" d="M1283 154l7 2 5 1-7-2z"/>
<path fill="#da1" d="M1276 152l7 2 5 1-7-2zm-7-2l7 2 5 1-6-2zm-7-1l7 1 6 1-7-2z"/>
<path fill="#d91" d="M1256 147l6 2 6 0-7-2zm-7-1l7 1 5 0-7-1z"/>
<path fill="#c91" d="M1242 146l7 0 5 0-7 0z"/>
<path fill="#d91" d="M1235 147l7-1 5 0-6 2zm-7 2l7-2 6 1-7 2zm-6 3l6-3 6 1-7 4z"/>
<path fill="#ea2" d="M1215 156l7-4 5 2-7 5z"/>
<path fill="#ea1" d="M1208 162l7-6 5 3-7 6z"/>
<path fill="#eb1" d="M1201 168l7-6 5 3-7 6z"/>
<path fill="#ec1" d="M1194 174l7-6 5 3-6 7z"/>
<path fill="#fc1" d="M1187 181l7-7 6 4-7 7z"/>
<path fill="#fd1" d="M1181 188l6-7 6 4-7 8z"/>
<path fill="#fe1" d="M1174 196l7-8 5 5-7 7zm-7 7l7-7 5 4-7 7z"/>
<path fill="#ee1" d="M1160 209l7-6 5 4-6 6z"/>
<path fill="#ee2" d="M1153 216l7-7 6 4-7 7zm-6 5l6-5 6 4-7 5z"/>
<path fill="#dd2" d="M1140 225l7-4 5 4-7 3zm-7 3l7-3 5 3-7 3zm-7 3l7-3 5 3-7 2zm-7 2l7-2 5 2-6 2z"/>
<path fill="#cd2" d="M1112 234l7-1 6 2-7 1z"/>
<path fill="#cc2" d="M1106 234l6 0 6 2-7 0zm-7 0l7 0 5 2-7 0zm-7 0l7 0 5 2-7 0z"/>
<path fill="#cc1" d="M1085 234l7 0 5 2-6 0zm-7 0l7 0 6 2-7 0z"/>
<path fill="#dc1" d="M1072 234l6 0 6 2-7 0zm-7 0l7 0 5 2-7 0z"/>
<path fill="#dd1" d="M1058 234l7 0 5 2-7 0zm-7 1l7-1 5 2-7 1zm-7 1l7-1 5 2-6 1zm-6 1l6-1 6 2-7 1z"/>
<path fill="#dc1" d="M1031 238l7-1 5 2-7 1zm-7 1l7-1 5 2-7 1zm-7 1l7-1 5 2-7 0zm-7 0l7 0 5 1-6 1zm-7 1l7-1 6 2-7 0z"/>
<path fill="#db1" d="M997 241l6 0 6 1-7-1z"/>
<path fill="#dc1" d="M1309 160l6 0 6 3-7-1z"/>
<path fill="#db1" d="M1302 159l7 1 5 2-7-2z"/>
<path fill="#cb1" d="M1295 157l7 2 5 1-7-2z"/>
<path fill="#db1" d="M1288 155l7 2 5 1-6-2z"/>
<path fill="#da1" d="M1281 153l7 2 6 1-7-3zm-6-2l6 2 6 0-7-2zm-7-2l7 2 5 0-7-2z"/>
<path fill="#d91" d="M1261 147l7 2 5 0-7-2z"/>
<path fill="#c91" d="M1254 146l7 1 5 0-7-1zm-7 0l7 0 5 0-6 1z"/>
<path fill="#d91" d="M1241 148l6-2 6 1-7 2z"/>
<path fill="#d92" d="M1234 150l7-2 5 1-7 3z"/>
<path fill="#e92" d="M1227 154l7-4 5 2-7 4z"/>
<path fill="#ea2" d="M1220 159l7-5 5 2-7 6z"/>
<path fill="#eb1" d="M1213 165l7-6 5 3-6 6zm-7 6l7-6 6 3-7 7z"/>
<path fill="#fc1" d="M1200 178l6-7 6 4-7 7zm-7 7l7-7 5 4-7 8z"/>
<path fill="#fd1" d="M1186 193l7-8 5 5-7 7z"/>
<path fill="#fe1" d="M1179 200l7-7 5 4-7 7z"/>
<path fill="#ee1" d="M1172 207l7-7 5 4-6 7zm-6 6l6-6 6 4-7 6z"/>
<path fill="#ee2" d="M1159 220l7-7 5 4-7 7zm-7 5l7-5 5 4-7 5z"/>
<path fill="#dd2" d="M1145 228l7-3 5 4-7 3zm-7 3l7-3 5 4-6 3zm-7 2l7-2 6 4-7 2zm-6 2l6-2 6 4-7 1zm-7 1l7-1 5 3-7 1z"/>
<path fill="#cd2" d="M1111 236l7 0 5 3-7 0z"/>
<path fill="#cc2" d="M1104 236l7 0 5 3-7 0zm-7 0l7 0 5 3-6 0z"/>
<path fill="#dc1" d="M1091 236l6 0 6 3-7-1zm-7 0l7 0 5 2-7 0zm-7 0l7 0 5 2-7 0z"/>
<path fill="#dd1" d="M1070 236l7 0 5 2-7 0zm-7 0l7 0 5 2-6 1zm-7 1l7-1 6 3-7 1zm-6 1l6-1 6 3-7 1zm-7 1l7-1 5 3-7 0zm-7 1l7-1 5 2-7 1z"/>
<path fill="#dc1" d="M1029 241l7-1 5 2-7 1zm-7 0l7 0 5 2-6 0zm-6 1l6-1 6 2-7 0zm-7 0l7 0 5 1-7 0z"/>
<path fill="#cb1" d="M1002 241l7 1 5 1-7-1z"/>
<path fill="#cc1" d="M1314 162l7 1 5 1-7-1z"/>
<path fill="#db1" d="M1307 160l7 2 5 1-7-2zm-7-2l7 2 5 1-6-3zm-6-2l6 2 6 0-7-2z"/>
<path fill="#da1" d="M1287 153l7 3 5 0-7-3zm-7-2l7 2 5 0-7-3z"/>
<path fill="#d91" d="M1273 149l7 2 5-1-7-2zm-7-2l7 2 5-1-6-1z"/>
<path fill="#c91" d="M1259 146l7 1 6 0-7 1z"/>
<path fill="#d91" d="M1253 147l6-1 6 2-7 1z"/>
<path fill="#d92" d="M1246 149l7-2 5 2-7 2z"/>
<path fill="#e92" d="M1239 152l7-3 5 2-7 3z"/>
<path fill="#ea2" d="M1232 156l7-4 5 2-7 5zm-7 6l7-6 5 3-6 6z"/>
<path fill="#eb1" d="M1219 168l6-6 6 3-7 7zm-7 7l7-7 5 4-7 7z"/>
<path fill="#fc1" d="M1205 182l7-7 5 4-7 8z"/>
<path fill="#fd1" d="M1198 190l7-8 5 5-7 7zm-7 7l7-7 5 4-6 7z"/>
<path fill="#ee1" d="M1184 204l7-7 6 4-7 7zm-6 7l6-7 6 4-7 7zm-7 6l7-6 5 4-7 7z"/>
<path fill="#ee2" d="M1164 224l7-7 5 5-7 6zm-7 5l7-5 5 4-7 5z"/>
<path fill="#dd2" d="M1150 232l7-3 5 4-6 3zm-6 3l6-3 6 4-7 2zm-7 2l7-2 5 3-7 2zm-7 1l7-1 5 3-7 1zm-7 1l7-1 5 3-7 1zm-7 0l7 0 5 3-6 0zm-7 0l7 0 6 3-7 0zm-6 0l6 0 6 3-7 0z"/>
<path fill="#dc1" d="M1096 238l7 1 5 3-7-1zm-7 0l7 0 5 3-7 0z"/>
<path fill="#dd1" d="M1082 238l7 0 5 3-7 0zm-7 0l7 0 5 3-6 0zm-6 1l6-1 6 3-7 1zm-7 1l7-1 5 3-7 1zm-7 1l7-1 5 3-7 1zm-7 0l7 0 5 3-7 0zm-7 1l7-1 5 3-6 1z"/>
<path fill="#dc1" d="M1034 243l7-1 6 3-7 0zm-6 0l6 0 6 2-7 0zm-7 0l7 0 5 2-7-1z"/>
<path fill="#cb1" d="M1014 243l7 0 5 1-7-1zm-7-1l7 1 5 0-7-1zm312-79l7 1 5 1-6-1z"/>
<path fill="#db1" d="M1312 161l7 2 6 1-7-3zm-6-3l6 3 6 0-7-3zm-7-2l7 2 5 0-7-3z"/>
<path fill="#da1" d="M1292 153l7 3 5-1-7-3zm-7-3l7 3 5-1-7-2z"/>
<path fill="#d91" d="M1278 148l7 2 5 0-6-2z"/>
<path fill="#c91" d="M1272 147l6 1 6 0-7 0z"/>
<path fill="#d91" d="M1265 148l7-1 5 1-7 1z"/>
<path fill="#d92" d="M1258 149l7-1 5 1-7 2zm-7 2l7-2 5 2-7 3z"/>
<path fill="#e92" d="M1244 154l7-3 5 3-6 3z"/>
<path fill="#ea2" d="M1237 159l7-5 6 3-7 6zm-6 6l6-6 6 4-7 6z"/>
<path fill="#eb1" d="M1224 172l7-7 5 4-7 7z"/>
<path fill="#fc1" d="M1217 179l7-7 5 4-7 7zm-7 8l7-8 5 4-7 8z"/>
<path fill="#fd1" d="M1203 194l7-7 5 4-6 7z"/>
<path fill="#ed1" d="M1197 201l6-7 6 4-7 7z"/>
<path fill="#ee1" d="M1190 208l7-7 5 4-7 6zm-7 7l7-7 5 3-7 8z"/>
<path fill="#ee2" d="M1176 222l7-7 5 4-7 7zm-7 6l7-6 5 4-6 6zm-7 5l7-5 6 4-7 5z"/>
<path fill="#dd2" d="M1156 236l6-3 6 4-7 3zm-7 2l7-2 5 4-7 2zm-7 2l7-2 5 4-7 2zm-7 1l7-1 5 4-7 1zm-7 1l7-1 5 4-6 0zm-6 0l6 0 6 3-7 0zm-7 0l7 0 5 3-7 0zm-7 0l7 0 5 3-7 0zm-7-1l7 1 5 3-7-1z"/>
<path fill="#dd1" d="M1094 241l7 0 5 3-6 0zm-7 0l7 0 6 3-7 0zm-6 0l6 0 6 3-7 1zm-7 1l7-1 5 4-7 0zm-7 1l7-1 5 3-7 1zm-7 1l7-1 5 3-6 1zm-7 0l7 0 6 3-7 0zm-6 1l6-1 6 3-7 1z"/>
<path fill="#dc1" d="M1040 245l7 0 5 3-7-1zm-7 0l7 0 5 2-7-1z"/>
<path fill="#cb1" d="M1026 244l7 1 5 1-7-1zm-7-1l7 1 5 1-6-1zm-7-1l7 1 6 1-7-1z"/>
<path fill="#db1" d="M1325 164l6 1 6 0-7-1zm-7-3l7 3 5 0-7-3zm-7-3l7 3 5 0-7-3z"/>
<path fill="#da1" d="M1304 155l7 3 5 0-7-4zm-7-3l7 3 5-1-6-2z"/>
<path fill="#d91" d="M1290 150l7 2 6 0-7-2z"/>
<path fill="#c91" d="M1284 148l6 2 6 0-7 0z"/>
<path fill="#d91" d="M1277 148l7 0 5 2-7 0z"/>
<path fill="#d92" d="M1270 149l7-1 5 2-7 2zm-7 2l7-2 5 3-6 2z"/>
<path fill="#e92" d="M1256 154l7-3 6 3-7 3zm-6 3l6-3 6 3-7 4z"/>
<path fill="#ea2" d="M1243 163l7-6 5 4-7 5zm-7 6l7-6 5 3-7 7z"/>
<path fill="#fb1" d="M1229 176l7-7 5 4-7 7z"/>
<path fill="#fc1" d="M1222 183l7-7 5 4-6 8zm-7 8l7-8 6 5-7 7z"/>
<path fill="#ed1" d="M1209 198l6-7 6 4-7 6zm-7 7l7-7 5 3-7 7z"/>
<path fill="#ee1" d="M1195 211l7-6 5 3-7 7zm-7 8l7-8 5 4-6 8z"/>
<path fill="#ee2" d="M1181 226l7-7 6 4-7 7zm-6 6l6-6 6 4-7 6z"/>
<path fill="#de2" d="M1168 237l7-5 5 4-7 5z"/>
<path fill="#dd2" d="M1161 240l7-3 5 4-7 3zm-7 2l7-2 5 4-7 2zm-7 2l7-2 5 4-6 1zm-7 1l7-1 6 3-7 1zm-6 0l6 0 6 3-7 1zm-7 0l7 0 5 4-7 0zm-7 0l7 0 5 4-7 0zm-7 0l7 0 5 4-6 0zm-7-1l7 1 6 4-7-1z"/>
<path fill="#dd1" d="M1100 244l6 0 6 4-7 0zm-7 0l7 0 5 4-7 0zm-7 1l7-1 5 4-7 0zm-7 0l7 0 5 3-7 1zm-7 1l7-1 5 4-6 1zm-6 1l6-1 6 4-7 0zm-7 0l7 0 5 3-7 0z"/>
<path fill="#dc1" d="M1052 248l7-1 5 3-7 0zm-7-1l7 1 5 2-7-1z"/>
<path fill="#cc1" d="M1038 246l7 1 5 2-6-1z"/>
<path fill="#cb1" d="M1031 245l7 1 6 2-7-2zm-6-1l6 1 6 1-7-1zm-7-1l7 1 5 1-7-1z"/>
<path fill="#db1" d="M1330 164l7 1 5 0-7-2zm-7-3l7 3 5-1-7-3z"/>
<path fill="#da1" d="M1316 158l7 3 5-1-6-3zm-7-4l7 4 6-1-7-3z"/>
<path fill="#d91" d="M1303 152l6 2 6 0-7-2z"/>
<path fill="#c91" d="M1296 150l7 2 5 0-7 0z"/>
<path fill="#d91" d="M1289 150l7 0 5 2-7 0zm-7 0l7 0 5 2-7 1z"/>
<path fill="#d92" d="M1275 152l7-2 5 3-6 1zm-6 2l6-2 6 2-7 3z"/>
<path fill="#e92" d="M1262 157l7-3 5 3-7 3z"/>
<path fill="#ea2" d="M1255 161l7-4 5 3-7 4zm-7 5l7-5 5 3-7 6z"/>
<path fill="#eb1" d="M1241 173l7-7 5 4-6 7z"/>
<path fill="#fb1" d="M1234 180l7-7 6 4-7 7z"/>
<path fill="#fc1" d="M1228 188l6-8 6 4-7 7z"/>
<path fill="#ec1" d="M1221 195l7-7 5 3-7 7z"/>
<path fill="#ed1" d="M1214 201l7-6 5 3-7 7z"/>
<path fill="#ee1" d="M1207 208l7-7 5 4-7 7zm-7 7l7-7 5 4-6 8zm-6 8l6-8 6 5-7 7z"/>
<path fill="#ee2" d="M1187 230l7-7 5 4-7 7zm-7 6l7-6 5 4-7 6z"/>
<path fill="#de2" d="M1173 241l7-5 5 4-7 5z"/>
<path fill="#dd2" d="M1166 244l7-3 5 4-6 3zm-7 2l7-2 6 4-7 2zm-6 1l6-1 6 4-7 1zm-7 1l7-1 5 4-7 1zm-7 1l7-1 5 4-7 1zm-7 0l7 0 5 4-7 0zm-7 0l7 0 5 4-6 0zm-6 0l6 0 6 4-7-1zm-7-1l7 1 5 3-7 0zm-7 0l7 0 5 4-7-1z"/>
<path fill="#dd1" d="M1098 248l7 0 5 3-7 1zm-7 0l7 0 5 4-6 0zm-7 1l7-1 6 4-7 1zm-6 1l6-1 6 4-7 0zm-7 0l7 0 5 3-7 0zm-7 0l7 0 5 3-7 0z"/>
<path fill="#dc1" d="M1057 250l7 0 5 3-7-1zm-7-1l7 1 5 2-6-2z"/>
<path fill="#cc1" d="M1044 248l6 1 6 1-7-1z"/>
<path fill="#cb1" d="M1037 246l7 2 5 1-7-2zm-7-1l7 1 5 1-7-1zm-7-1l7 1 5 1-7-1z"/>
<path fill="#db1" d="M1335 163l7 2 5 0-7-2zm-7-3l7 3 5 0-6-3z"/>
<path fill="#da1" d="M1322 157l6 3 6 0-7-3zm-7-3l7 3 5 0-7-2z"/>
<path fill="#c91" d="M1308 152l7 2 5 1-7-1z"/>
<path fill="#d91" d="M1301 152l7 0 5 2-7 0zm-7 0l7 0 5 2-6 0z"/>
<path fill="#d92" d="M1287 153l7-1 6 2-7 1zm-6 1l6-1 6 2-7 2z"/>
<path fill="#e92" d="M1274 157l7-3 5 3-7 3zm-7 3l7-3 5 3-7 3z"/>
<path fill="#ea2" d="M1260 164l7-4 5 3-7 5zm-7 6l7-6 5 4-6 6z"/>
<path fill="#eb1" d="M1247 177l6-7 6 4-7 7z"/>
<path fill="#fc1" d="M1240 184l7-7 5 4-7 7z"/>
<path fill="#ec1" d="M1233 191l7-7 5 4-7 7z"/>
<path fill="#ed1" d="M1226 198l7-7 5 4-7 6zm-7 7l7-7 5 3-6 7z"/>
<path fill="#ee1" d="M1212 212l7-7 6 3-7 8zm-6 8l6-8 6 4-7 8z"/>
<path fill="#ee2" d="M1199 227l7-7 5 4-7 7zm-7 7l7-7 5 4-7 7zm-7 6l7-6 5 4-7 6z"/>
<path fill="#de2" d="M1178 245l7-5 5 4-6 4z"/>
<path fill="#dd2" d="M1172 248l6-3 6 3-7 3zm-7 2l7-2 5 3-7 2zm-7 1l7-1 5 3-7 2zm-7 1l7-1 5 4-7 1zm-7 1l7-1 5 4-6 1zm-7 0l7 0 6 4-7 0zm-6 0l6 0 6 4-7 0zm-7-1l7 1 5 4-7-1zm-7 0l7 0 5 4-7 0zm-7-1l7 1 5 4-7-1zm-7 1l7-1 5 4-6 1z"/>
<path fill="#dd1" d="M1097 252l6 0 6 4-7 0zm-7 1l7-1 5 4-7 0zm-7 0l7 0 5 3-7 0zm-7 0l7 0 5 3-7 0z"/>
<path fill="#dc1" d="M1069 253l7 0 5 3-6-1zm-7-1l7 1 6 2-7-2z"/>
<path fill="#cc1" d="M1056 250l6 2 6 1-7-1z"/>
<path fill="#cb1" d="M1049 249l7 1 5 2-7-2zm-7-2l7 2 5 1-7-1zm-7-1l7 1 5 2-7-2z"/>
<path fill="#da1" d="M1028 245l7 1 5 1-6-1z"/>
<path fill="#db1" d="M1340 163l7 2 6-1-7-2z"/>
<path fill="#da1" d="M1334 160l6 3 6-1-7-3zm-7-3l7 3 5-1-7-2z"/>
<path fill="#c91" d="M1320 155l7 2 5 0-7-1z"/>
<path fill="#d91" d="M1313 154l7 1 5 1-7 0zm-7 0l7 0 5 2-6 0zm-6 0l6 0 6 2-7 1z"/>
<path fill="#d92" d="M1293 155l7-1 5 3-7 1z"/>
<path fill="#e92" d="M1286 157l7-2 5 3-7 2zm-7 3l7-3 5 3-7 3z"/>
<path fill="#ea2" d="M1272 163l7-3 5 3-6 4zm-7 5l7-5 6 4-7 5z"/>
<path fill="#eb2" d="M1259 174l6-6 6 4-7 6z"/>
<path fill="#eb1" d="M1252 181l7-7 5 4-7 7z"/>
<path fill="#ec1" d="M1245 188l7-7 5 4-7 6zm-7 7l7-7 5 3-7 7z"/>
<path fill="#ed1" d="M1231 201l7-6 5 3-6 7zm-6 7l6-7 6 4-7 7z"/>
<path fill="#ee1" d="M1218 216l7-8 5 4-7 8zm-7 8l7-8 5 4-7 8z"/>
<path fill="#ee2" d="M1204 231l7-7 5 4-7 7zm-7 7l7-7 5 4-6 7z"/>
<path fill="#de2" d="M1190 244l7-6 6 4-7 6z"/>
<path fill="#dd2" d="M1184 248l6-4 6 4-7 4zm-7 3l7-3 5 4-7 3zm-7 2l7-2 5 4-7 2zm-7 2l7-2 5 4-7 2zm-7 1l7-1 5 4-6 1zm-6 1l6-1 6 4-7 1zm-7 0l7 0 5 4-7 0zm-7 0l7 0 5 4-7 0zm-7-1l7 1 5 4-7 0zm-7 0l7 0 5 5-6-1zm-7-1l7 1 6 4-7-1zm-6 1l6-1 6 4-7 0zm-7 0l7 0 5 3-7 0z"/>
<path fill="#dd1" d="M1095 256l7 0 5 3-7 0zm-7 0l7 0 5 3-6 0z"/>
<path fill="#dc1" d="M1081 256l7 0 6 3-7-1zm-6-1l6 1 6 2-7-2z"/>
<path fill="#cc1" d="M1068 253l7 2 5 1-7-1zm-7-1l7 1 5 2-7-2z"/>
<path fill="#cb1" d="M1054 250l7 2 5 1-7-1z"/>
<path fill="#db1" d="M1047 249l7 1 5 2-6-2zm-7-2l7 2 6 1-7-1z"/>
<path fill="#da1" d="M1034 246l6 1 6 2-7-1zm312-84l7 2 5 0-7-2zm-7-3l7 3 5 0-7-3z"/>
<path fill="#c91" d="M1332 157l7 2 5 0-7-1z"/>
<path fill="#d91" d="M1325 156l7 1 5 1-6 0zm-7 0l7 0 6 2-7 0zm-6 0l6 0 6 2-7 1zm-7 1l7-1 5 3-7 1z"/>
<path fill="#d92" d="M1298 158l7-1 5 3-7 2z"/>
<path fill="#e92" d="M1291 160l7-2 5 4-6 2zm-7 3l7-3 6 4-7 3z"/>
<path fill="#ea2" d="M1278 167l6-4 6 4-7 4zm-7 5l7-5 5 4-7 5z"/>
<path fill="#eb1" d="M1264 178l7-6 5 4-7 6zm-7 7l7-7 5 4-7 6z"/>
<path fill="#ec1" d="M1250 191l7-6 5 3-6 6zm-7 7l7-7 6 3-7 7z"/>
<path fill="#ed1" d="M1237 205l6-7 6 3-7 8z"/>
<path fill="#fe1" d="M1230 212l7-7 5 4-7 8zm-7 8l7-8 5 5-7 7z"/>
<path fill="#ee1" d="M1216 228l7-8 5 4-6 8z"/>
<path fill="#ee2" d="M1209 235l7-7 6 4-7 7zm-6 7l6-7 6 4-7 7z"/>
<path fill="#de2" d="M1196 248l7-6 5 4-7 6z"/>
<path fill="#dd2" d="M1189 252l7-4 5 4-7 4zm-7 3l7-3 5 4-7 3z"/>
<path fill="#dd3" d="M1175 257l7-2 5 4-6 2zm-7 2l7-2 6 4-7 2z"/>
<path fill="#dd2" d="M1162 260l6-1 6 4-7 2zm-7 1l7-1 5 5-7 0z"/>
<path fill="#cd2" d="M1148 261l7 0 5 4-7 1zm-7 0l7 0 5 5-6-1zm-7 0l7 0 6 4-7 0zm-6-1l6 1 6 4-7-1z"/>
<path fill="#dd2" d="M1121 259l7 1 5 4-7-1zm-7 0l7 0 5 4-7 0zm-7 0l7 0 5 4-7 0z"/>
<path fill="#dd1" d="M1100 259l7 0 5 4-6-1z"/>
<path fill="#dc1" d="M1094 259l6 0 6 3-7-1zm-7-1l7 1 5 2-7-1zm-7-2l7 2 5 2-7-2zm-7-1l7 1 5 2-7-1zm-7-2l7 2 5 2-6-2z"/>
<path fill="#db1" d="M1059 252l7 1 6 2-7-1zm-6-2l6 2 6 2-7-2zm-7-1l7 1 5 2-7-1zm-7-1l7 1 5 2-7 0z"/>
<path fill="#da1" d="M1351 162l7 2 5 0-7-2z"/>
<path fill="#d91" d="M1344 159l7 3 5 0-6-1zm-7-1l7 1 6 2-7-1zm-6 0l6 0 6 2-7 0zm-7 0l7 0 5 2-7 0zm-7 1l7-1 5 2-7 1zm-7 1l7-1 5 2-7 2z"/>
<path fill="#d92" d="M1303 162l7-2 5 3-6 2z"/>
<path fill="#e92" d="M1297 164l6-2 6 3-7 2z"/>
<path fill="#ea2" d="M1290 167l7-3 5 3-7 3zm-7 4l7-4 5 3-7 4zm-7 5l7-5 5 3-7 6z"/>
<path fill="#eb1" d="M1269 182l7-6 5 4-6 5zm-7 6l7-6 6 3-7 6z"/>
<path fill="#ec1" d="M1256 194l6-6 6 3-7 7z"/>
<path fill="#fc1" d="M1249 201l7-7 5 4-7 8z"/>
<path fill="#fd1" d="M1242 209l7-8 5 5-7 7z"/>
<path fill="#fe1" d="M1235 217l7-8 5 4-7 8z"/>
<path fill="#ee1" d="M1228 224l7-7 5 4-6 8z"/>
<path fill="#ee2" d="M1222 232l6-8 6 5-7 7zm-7 7l7-7 5 4-7 7zm-7 7l7-7 5 4-7 7z"/>
<path fill="#de2" d="M1201 252l7-6 5 4-7 5z"/>
<path fill="#dd2" d="M1194 256l7-4 5 3-6 4z"/>
<path fill="#dd3" d="M1187 259l7-3 6 3-7 4zm-6 2l6-2 6 4-7 2zm-7 2l7-2 5 4-7 2z"/>
<path fill="#cd3" d="M1167 265l7-2 5 4-7 2zm-7 0l7 0 5 4-7 0z"/>
<path fill="#cd2" d="M1153 266l7-1 5 4-6 1zm-6-1l6 1 6 4-7-1zm-7 0l7 0 5 4-7 0zm-7-1l7 1 5 4-7-1zm-7-1l7 1 5 4-7-1z"/>
<path fill="#dd2" d="M1119 263l7 0 5 4-6-1zm-7 0l7 0 6 3-7 0z"/>
<path fill="#dc1" d="M1106 262l6 1 6 3-7-1z"/>
<path fill="#cc1" d="M1099 261l7 1 5 3-7-1z"/>
<path fill="#dc1" d="M1092 260l7 1 5 3-7-2zm-7-2l7 2 5 2-7-1zm-7-1l7 1 5 3-6-2zm-6-2l6 2 6 2-7-1z"/>
<path fill="#db1" d="M1065 254l7 1 5 3-7-2zm-7-2l7 2 5 2-7-1zm-7-1l7 1 5 3-7-1zm-7 0l7 0 5 3-6-1z"/>
<path fill="#da1" d="M1356 162l7 2 5 0-6-1z"/>
<path fill="#c91" d="M1350 161l6 1 6 1-7-1z"/>
<path fill="#d91" d="M1343 160l7 1 5 1-7 0zm-7 0l7 0 5 2-7 0zm-7 0l7 0 5 2-7 0zm-7 1l7-1 5 2-6 2zm-7 2l7-2 6 3-7 1z"/>
<path fill="#d92" d="M1309 165l6-2 6 2-7 2z"/>
<path fill="#e92" d="M1302 167l7-2 5 2-7 3z"/>
<path fill="#ea2" d="M1295 170l7-3 5 3-7 4zm-7 4l7-4 5 4-7 4z"/>
<path fill="#ea1" d="M1281 180l7-6 5 4-6 5z"/>
<path fill="#eb1" d="M1275 185l6-5 6 3-7 6zm-7 6l7-6 5 4-7 6z"/>
<path fill="#fc1" d="M1261 198l7-7 5 4-7 7z"/>
<path fill="#fd1" d="M1254 206l7-8 5 4-7 8zm-7 7l7-7 5 4-6 8z"/>
<path fill="#fe1" d="M1240 221l7-8 6 5-7 7z"/>
<path fill="#ee1" d="M1234 229l6-8 6 4-7 8z"/>
<path fill="#ee2" d="M1227 236l7-7 5 4-7 7zm-7 7l7-7 5 4-7 7z"/>
<path fill="#de2" d="M1213 250l7-7 5 4-7 6zm-7 5l7-5 5 3-6 6z"/>
<path fill="#dd3" d="M1200 259l6-4 6 4-7 4zm-7 4l7-4 5 4-7 4zm-7 2l7-2 5 4-7 2z"/>
<path fill="#cd3" d="M1179 267l7-2 5 4-7 2zm-7 2l7-2 5 4-6 1zm-7 0l7 0 6 3-7 1z"/>
<path fill="#cd2" d="M1159 270l6-1 6 4-7 0z"/>
<path fill="#cc2" d="M1152 269l7 1 5 3-7 0zm-7 0l7 0 5 4-7-1zm-7-1l7 1 5 3-7-1zm-7-1l7 1 5 3-6-1zm-6-1l6 1 6 3-7 0zm-7 0l7 0 5 4-7-1z"/>
<path fill="#cc1" d="M1111 265l7 1 5 3-7-2zm-7-1l7 1 5 2-7-1z"/>
<path fill="#dc1" d="M1097 262l7 2 5 2-6-1zm-7-1l7 1 6 3-7-2zm-6-2l6 2 6 2-7-1zm-7-1l7 1 5 3-7-2zm-7-2l7 2 5 2-7-1z"/>
<path fill="#db1" d="M1063 255l7 1 5 3-7-1zm-7-1l7 1 5 3-6-1zm-6-1l6 1 6 3-7 0z"/>
<path fill="#c91" d="M1362 163l6 1 6 1-7-1z"/>
<path fill="#d91" d="M1355 162l7 1 5 1-7-1zm-7 0l7 0 5 1-7 0zm-7 0l7 0 5 1-7 0zm-7 0l7 0 5 1-6 1zm-6 2l6-2 6 2-7 1zm-7 1l7-1 5 1-7 2z"/>
<path fill="#d92" d="M1314 167l7-2 5 2-7 3z"/>
<path fill="#e92" d="M1307 170l7-3 5 3-7 3z"/>
<path fill="#ea2" d="M1300 174l7-4 5 3-6 3zm-7 4l7-4 6 2-7 5z"/>
<path fill="#ea1" d="M1287 183l6-5 6 3-7 5z"/>
<path fill="#eb1" d="M1280 189l7-6 5 3-7 6z"/>
<path fill="#ec1" d="M1273 195l7-6 5 3-7 7z"/>
<path fill="#fc1" d="M1266 202l7-7 5 4-7 8z"/>
<path fill="#fd1" d="M1259 210l7-8 5 5-6 7z"/>
<path fill="#fe1" d="M1253 218l6-8 6 4-7 8zm-7 7l7-7 5 4-7 8z"/>
<path fill="#ee1" d="M1239 233l7-8 5 5-7 7z"/>
<path fill="#ee2" d="M1232 240l7-7 5 4-7 8zm-7 7l7-7 5 5-6 6z"/>
<path fill="#de2" d="M1218 253l7-6 6 4-7 6zm-6 6l6-6 6 4-7 5z"/>
<path fill="#dd3" d="M1205 263l7-4 5 3-7 4zm-7 4l7-4 5 3-7 4z"/>
<path fill="#cd3" d="M1191 269l7-2 5 3-7 2zm-7 2l7-2 5 3-6 2zm-6 1l6-1 6 3-7 1z"/>
<path fill="#cc3" d="M1171 273l7-1 5 3-7 0z"/>
<path fill="#cc2" d="M1164 273l7 0 5 2-7 0zm-7 0l7 0 5 2-7 0zm-7-1l7 1 5 2-6 0zm-7-1l7 1 6 3-7-1zm-6-1l6 1 6 3-7-1zm-7 0l7 0 5 3-7-1zm-7-1l7 1 5 2-7-1z"/>
<path fill="#cc1" d="M1116 267l7 2 5 2-6-1z"/>
<path fill="#dc1" d="M1109 266l7 1 6 3-7-1zm-6-1l6 1 6 3-7-2zm-7-2l7 2 5 2-7-1zm-7-1l7 1 5 3-7-1zm-7-2l7 2 5 3-7-1zm-7-1l7 1 5 4-6-1zm-7-1l7 1 6 4-7-1z"/>
<path fill="#db1" d="M1062 257l6 1 6 4-7-1zm-7 0l7 0 5 4-7 0z"/>
<path fill="#d91" d="M1367 164l7 1 5 1-7 0zm-7-1l7 1 5 2-7-1zm-7 0l7 0 5 2-6 0zm-7 0l7 0 6 2-7 0zm-6 1l6-1 6 2-7 1zm-7 1l7-1 5 2-7 2z"/>
<path fill="#d92" d="M1326 167l7-2 5 3-7 2z"/>
<path fill="#e92" d="M1319 170l7-3 5 3-6 2zm-7 3l7-3 6 2-7 4z"/>
<path fill="#ea2" d="M1306 176l6-3 6 3-7 4z"/>
<path fill="#ea1" d="M1299 181l7-5 5 4-7 4zm-7 5l7-5 5 3-7 5z"/>
<path fill="#eb1" d="M1285 192l7-6 5 3-7 6z"/>
<path fill="#ec1" d="M1278 199l7-7 5 3-6 7zm-7 8l7-8 6 3-7 8z"/>
<path fill="#ed1" d="M1265 214l6-7 6 3-7 8z"/>
<path fill="#ee1" d="M1258 222l7-8 5 4-7 8zm-7 8l7-8 5 4-7 7zm-7 7l7-7 5 3-6 8z"/>
<path fill="#ee2" d="M1237 245l7-8 6 4-7 7z"/>
<path fill="#de2" d="M1231 251l6-6 6 3-7 6z"/>
<path fill="#dd2" d="M1224 257l7-6 5 3-7 6z"/>
<path fill="#dd3" d="M1217 262l7-5 5 3-7 5zm-7 4l7-4 5 3-7 4z"/>
<path fill="#cd3" d="M1203 270l7-4 5 3-6 3zm-7 2l7-2 6 2-7 3zm-6 2l6-2 6 3-7 1zm-7 1l7-1 5 2-7 1z"/>
<path fill="#cc3" d="M1176 275l7 0 5 2-7 1z"/>
<path fill="#cc2" d="M1169 275l7 0 5 3-6 0zm-7 0l7 0 6 3-7 0zm-6 0l6 0 6 3-7-1zm-7-1l7 1 5 2-7 0zm-7-1l7 1 5 3-7-1zm-7-1l7 1 5 3-7-1zm-7-1l7 1 5 3-6-1z"/>
<path fill="#cc1" d="M1122 270l6 1 6 3-7-1zm-7-1l7 1 5 3-7-2z"/>
<path fill="#dc1" d="M1108 267l7 2 5 2-7-1zm-7-1l7 1 5 3-7-1zm-7-1l7 1 5 3-6-1zm-7-1l7 1 6 3-7-1zm-6-1l6 1 6 3-7-1zm-7-1l7 1 5 3-7-1zm-7-1l7 1 5 3-7 0z"/>
<path fill="#ec1" d="M1060 261l7 0 5 4-7 1z"/>
<path fill="#da1" d="M1372 166l7 0 5 3-6-1z"/>
<path fill="#d91" d="M1365 165l7 1 6 2-7-1zm-6 0l6 0 6 2-7 0zm-7 0l7 0 5 2-7 1zm-7 1l7-1 5 3-7 1z"/>
<path fill="#d92" d="M1338 168l7-2 5 3-7 1zm-7 2l7-2 5 2-6 3z"/>
<path fill="#e92" d="M1325 172l6-2 6 3-7 2z"/>
<path fill="#ea2" d="M1318 176l7-4 5 3-7 4zm-7 4l7-4 5 3-7 3z"/>
<path fill="#ea1" d="M1304 184l7-4 5 2-7 4zm-7 5l7-5 5 2-6 5z"/>
<path fill="#eb1" d="M1290 195l7-6 6 2-7 7z"/>
<path fill="#ec1" d="M1284 202l6-7 6 3-7 7zm-7 8l7-8 5 3-7 8z"/>
<path fill="#ed1" d="M1270 218l7-8 5 3-7 8z"/>
<path fill="#ee1" d="M1263 226l7-8 5 3-7 8zm-7 7l7-7 5 3-6 7z"/>
<path fill="#ee2" d="M1250 241l6-8 6 3-7 8zm-7 7l7-7 5 3-7 6z"/>
<path fill="#dd2" d="M1236 254l7-6 5 2-7 7zm-7 6l7-6 5 3-7 6z"/>
<path fill="#dd3" d="M1222 265l7-5 5 3-6 6zm-7 4l7-4 6 4-7 3z"/>
<path fill="#cd3" d="M1209 272l6-3 6 3-7 3zm-7 3l7-3 5 3-7 2zm-7 1l7-1 5 2-7 2z"/>
<path fill="#cc3" d="M1188 277l7-1 5 3-7 1zm-7 1l7-1 5 3-6 0z"/>
<path fill="#cc2" d="M1175 278l6 0 6 2-7 0zm-7 0l7 0 5 2-7 0zm-7-1l7 1 5 2-7 0zm-7 0l7 0 5 3-7-1zm-7-1l7 1 5 2-6-1zm-7-1l7 1 6 2-7-1zm-6-1l6 1 6 2-7-1z"/>
<path fill="#cc1" d="M1127 273l7 1 5 2-7-1zm-7-2l7 2 5 2-7-1z"/>
<path fill="#dc1" d="M1113 270l7 1 5 3-7-2zm-7-1l7 1 5 2-6-1zm-6-1l6 1 6 2-7-1zm-7-1l7 1 5 2-7-1zm-7-1l7 1 5 2-7 0zm-7-1l7 1 5 3-7 0z"/>
<path fill="#ec1" d="M1072 265l7 0 5 4-6 1zm-7 1l7-1 6 5-7 1z"/>
<path fill="#da1" d="M1378 168l6 1 6 2-7 0z"/>
<path fill="#d91" d="M1371 167l7 1 5 3-7-1zm-7 0l7 0 5 3-7 0zm-7 1l7-1 5 3-7 1zm-7 1l7-1 5 3-6 1z"/>
<path fill="#d92" d="M1343 170l7-1 6 3-7 2z"/>
<path fill="#e92" d="M1337 173l6-3 6 4-7 2z"/>
<path fill="#ea2" d="M1330 175l7-2 5 3-7 3zm-7 4l7-4 5 4-7 3z"/>
<path fill="#ea1" d="M1316 182l7-3 5 3-7 3zm-7 4l7-4 5 3-6 3zm-6 5l6-5 6 2-7 5z"/>
<path fill="#eb1" d="M1296 198l7-7 5 2-7 7zm-7 7l7-7 5 2-7 7z"/>
<path fill="#ec1" d="M1282 213l7-8 5 2-7 8z"/>
<path fill="#ed1" d="M1275 221l7-8 5 2-6 8zm-7 8l7-8 6 2-7 8z"/>
<path fill="#ee1" d="M1262 236l6-7 6 2-7 8z"/>
<path fill="#ee2" d="M1255 244l7-8 5 3-7 7z"/>
<path fill="#dd2" d="M1248 250l7-6 5 2-7 6zm-7 7l7-7 5 2-7 7z"/>
<path fill="#de2" d="M1234 263l7-6 5 2-6 7z"/>
<path fill="#dd3" d="M1228 269l6-6 6 3-7 5zm-7 3l7-3 5 2-7 4z"/>
<path fill="#cd3" d="M1214 275l7-3 5 3-7 3zm-7 2l7-2 5 3-7 2zm-7 2l7-2 5 3-6 1z"/>
<path fill="#cc3" d="M1193 280l7-1 6 2-7 1zm-6 0l6 0 6 2-7 1z"/>
<path fill="#cc2" d="M1180 280l7 0 5 3-7 0zm-7 0l7 0 5 3-7 0zm-7 0l7 0 5 3-7 0zm-7-1l7 1 5 3-6-2zm-6-1l6 1 6 2-7-1zm-7-1l7 1 5 2-7-1zm-7-1l7 1 5 2-7-1z"/>
<path fill="#cc1" d="M1132 275l7 1 5 2-7-1zm-7-1l7 1 5 2-6-1zm-7-2l7 2 6 2-7-2z"/>
<path fill="#dc1" d="M1112 271l6 1 6 2-7-1zm-7-1l7 1 5 2-7 0zm-7-1l7 1 5 3-7-1zm-7 0l7 0 5 3-7 0zm-7 0l7 0 5 3-6 1z"/>
<path fill="#ed1" d="M1078 270l6-1 6 4-7 2zm-7 1l7-1 5 5-7 2z"/>
<path fill="#da1" d="M1383 171l7 0 5 3-7 0zm-7-1l7 1 5 3-7 0z"/>
<path fill="#d91" d="M1369 170l7 0 5 4-7 0zm-7 1l7-1 5 4-6 0zm-6 1l6-1 6 3-7 1z"/>
<path fill="#e92" d="M1349 174l7-2 5 3-7 2z"/>
<path fill="#ea2" d="M1342 176l7-2 5 3-7 2zm-7 3l7-3 5 3-7 3z"/>
<path fill="#ea1" d="M1328 182l7-3 5 3-6 2z"/>
<path fill="#da1" d="M1321 185l7-3 6 2-7 2z"/>
<path fill="#ea1" d="M1315 188l6-3 6 1-7 4zm-7 5l7-5 5 2-7 5z"/>
<path fill="#eb1" d="M1301 200l7-7 5 2-7 7zm-7 7l7-7 5 2-7 7z"/>
<path fill="#ec1" d="M1287 215l7-8 5 2-6 8z"/>
<path fill="#ed1" d="M1281 223l6-8 6 2-7 8zm-7 8l7-8 5 2-7 8z"/>
<path fill="#ee1" d="M1267 239l7-8 5 2-7 7z"/>
<path fill="#ed1" d="M1260 246l7-7 5 1-7 7z"/>
<path fill="#dd2" d="M1253 252l7-6 5 1-6 7z"/>
<path fill="#de2" d="M1246 259l7-7 6 2-7 8zm-6 7l6-7 6 3-7 7z"/>
<path fill="#dd3" d="M1233 271l7-5 5 3-7 5z"/>
<path fill="#cd3" d="M1226 275l7-4 5 3-7 4zm-7 3l7-3 5 3-7 2zm-7 2l7-2 5 2-6 2zm-6 1l6-1 6 2-7 2z"/>
<path fill="#cc3" d="M1199 282l7-1 5 3-7 0zm-7 1l7-1 5 2-7 1z"/>
<path fill="#cc2" d="M1185 283l7 0 5 2-7 1zm-7 0l7 0 5 3-6 0zm-7 0l7 0 6 3-7-2zm-6-2l6 2 6 1-7-1zm-7-1l7 1 5 2-7-2zm-7-1l7 1 5 1-7-1zm-7-1l7 1 5 1-6-1z"/>
<path fill="#cc1" d="M1137 277l7 1 6 1-7-1zm-6-1l6 1 6 1-7-1zm-7-2l7 2 5 1-7-1z"/>
<path fill="#dc1" d="M1117 273l7 1 5 2-7-1zm-7 0l7 0 5 2-7 0zm-7-1l7 1 5 2-6 0zm-7 0l7 0 6 3-7 1z"/>
<path fill="#ed1" d="M1090 273l6-1 6 4-7 2zm-7 2l7-2 5 5-7 3zm-7 2l7-2 5 6-7 3z"/>
<path fill="#da1" d="M1388 174l7 0 5 4-7-1zm-7 0l7 0 5 3-6 0zm-7 0l7 0 6 3-7 0zm-6 0l6 0 6 3-7 1z"/>
<path fill="#ea1" d="M1361 175l7-1 5 4-7 1z"/>
<path fill="#ea2" d="M1354 177l7-2 5 4-7 2zm-7 2l7-2 5 4-6 2z"/>
<path fill="#d91" d="M1340 182l7-3 6 4-7 1zm-6 2l6-2 6 2-7 2zm-7 2l7-2 5 2-7 2z"/>
<path fill="#da1" d="M1320 190l7-4 5 2-7 4z"/>
<path fill="#ea1" d="M1313 195l7-5 5 2-7 5z"/>
<path fill="#eb1" d="M1306 202l7-7 5 2-6 7zm-7 7l7-7 6 2-7 7z"/>
<path fill="#ec1" d="M1293 217l6-8 6 2-7 8z"/>
<path fill="#ed1" d="M1286 225l7-8 5 2-7 8zm-7 8l7-8 5 2-7 7zm-7 7l7-7 5 1-6 7zm-7 7l7-7 6 1-7 8z"/>
<path fill="#ee2" d="M1259 254l6-7 6 2-7 8z"/>
<path fill="#de2" d="M1252 262l7-8 5 3-7 8zm-7 7l7-7 5 3-7 7z"/>
<path fill="#dd3" d="M1238 274l7-5 5 3-7 5z"/>
<path fill="#cd3" d="M1231 278l7-4 5 3-6 3zm-7 2l7-2 6 2-7 3zm-6 2l6-2 6 3-7 2zm-7 2l7-2 5 3-7 1z"/>
<path fill="#cc3" d="M1204 284l7 0 5 2-7 1z"/>
<path fill="#cd3" d="M1197 285l7-1 5 3-6 1z"/>
<path fill="#cc2" d="M1190 286l7-1 6 3-7 0zm-6 0l6 0 6 2-7-1zm-7-2l7 2 5 1-7-1zm-7-1l7 1 5 2-7-2zm-7-2l7 2 5 1-7-2zm-7-1l7 1 5 1-6 0z"/>
<path fill="#cc1" d="M1150 279l6 1 6 2-7-1zm-7-1l7 1 5 2-7-1zm-7-1l7 1 5 2-7-1z"/>
<path fill="#dc1" d="M1129 276l7 1 5 2-7-1zm-7-1l7 1 5 2-6 0zm-7 0l7 0 6 3-7 0z"/>
<path fill="#dd1" d="M1109 275l6 0 6 3-7 1z"/>
<path fill="#ed1" d="M1102 276l7-1 5 4-7 2zm-7 2l7-2 5 5-7 3z"/>
<path fill="#ee1" d="M1088 281l7-3 5 6-7 3z"/>
<path fill="#fe1" d="M1081 284l7-3 5 6-6 4z"/>
<path fill="#da1" d="M1393 177l7 1 6 4-7-1zm-6 0l6 0 6 4-7 0zm-7 0l7 0 5 4-7 0zm-7 1l7-1 5 4-7 1z"/>
<path fill="#ea1" d="M1366 179l7-1 5 4-7 1zm-7 2l7-2 5 4-6 1z"/>
<path fill="#d91" d="M1353 183l6-2 6 3-7 1zm-7 1l7-1 5 2-7 1zm-7 2l7-2 5 2-7 1zm-7 2l7-2 5 1-7 2zm-7 4l7-4 5 1-6 4z"/>
<path fill="#ea1" d="M1318 197l7-5 6 1-7 5z"/>
<path fill="#eb1" d="M1312 204l6-7 6 1-7 7zm-7 7l7-7 5 1-7 8z"/>
<path fill="#ec1" d="M1298 219l7-8 5 2-7 8zm-7 8l7-8 5 2-7 7z"/>
<path fill="#ed1" d="M1284 234l7-7 5 1-6 7zm-6 7l6-7 6 1-7 8z"/>
<path fill="#ee1" d="M1271 249l7-8 5 2-7 8z"/>
<path fill="#ee2" d="M1264 257l7-8 5 2-7 9z"/>
<path fill="#de2" d="M1257 265l7-8 5 3-7 8z"/>
<path fill="#dd2" d="M1250 272l7-7 5 3-6 7z"/>
<path fill="#dd3" d="M1243 277l7-5 6 3-7 5z"/>
<path fill="#cd3" d="M1237 280l6-3 6 3-7 3zm-7 3l7-3 5 3-7 2zm-7 2l7-2 5 2-7 2zm-7 1l7-1 5 2-7 2zm-7 1l7-1 5 3-6 1z"/>
<path fill="#cc3" d="M1203 288l6-1 6 3-7 0z"/>
<path fill="#cc2" d="M1196 288l7 0 5 2-7 0z"/>
<path fill="#bc2" d="M1189 287l7 1 5 2-7-2z"/>
<path fill="#cc2" d="M1182 286l7 1 5 1-7-1zm-7-2l7 2 5 1-6-2zm-7-2l7 2 6 1-7-2zm-6 0l6 0 6 1-7 0z"/>
<path fill="#cc1" d="M1155 281l7 1 5 1-7-1zm-7-1l7 1 5 1-7-1zm-7-1l7 1 5 1-7-1z"/>
<path fill="#dc1" d="M1134 278l7 1 5 1-6 0zm-6 0l6 0 6 2-7 0z"/>
<path fill="#dd1" d="M1121 278l7 0 5 2-7 1z"/>
<path fill="#ed1" d="M1114 279l7-1 5 3-7 2zm-7 2l7-2 5 4-7 3z"/>
<path fill="#ee1" d="M1100 284l7-3 5 5-6 4z"/>
<path fill="#fe1" d="M1093 287l7-3 6 6-7 4zm-6 4l6-4 6 7-7 4z"/>
<path fill="#da1" d="M1399 181l7 1 5 4-7-1zm-7 0l7 0 5 4-7 0zm-7 0l7 0 5 4-7 0z"/>
<path fill="#ea1" d="M1378 182l7-1 5 4-6 1z"/>
<path fill="#da1" d="M1371 183l7-1 6 4-7 0z"/>
<path fill="#d91" d="M1365 184l6-1 6 3-7 0zm-7 1l7-1 5 2-7 1zm-7 1l7-1 5 2-7 0zm-7 1l7-1 5 1-7 1zm-7 2l7-2 5 1-6 2zm-6 4l6-4 6 1-7 4z"/>
<path fill="#ea1" d="M1324 198l7-5 5 1-7 6zm-7 7l7-7 5 2-7 7z"/>
<path fill="#eb1" d="M1310 213l7-8 5 2-7 7z"/>
<path fill="#ec1" d="M1303 221l7-8 5 1-6 8zm-7 7l7-7 6 1-7 7z"/>
<path fill="#ed1" d="M1290 235l6-7 6 1-7 8z"/>
<path fill="#ee1" d="M1283 243l7-8 5 2-7 8zm-7 8l7-8 5 2-7 9z"/>
<path fill="#ee2" d="M1269 260l7-9 5 3-7 9z"/>
<path fill="#de2" d="M1262 268l7-8 5 3-6 8z"/>
<path fill="#dd2" d="M1256 275l6-7 6 3-7 7z"/>
<path fill="#dd3" d="M1249 280l7-5 5 3-7 4z"/>
<path fill="#cd3" d="M1242 283l7-3 5 2-7 3zm-7 2l7-2 5 2-7 3zm-7 2l7-2 5 3-6 2zm-7 2l7-2 6 3-7 1zm-6 1l6-1 6 2-7 1z"/>
<path fill="#cc3" d="M1208 290l7 0 5 2-7 0z"/>
<path fill="#bc2" d="M1201 290l7 0 5 2-7-1zm-7-2l7 2 5 1-7-2z"/>
<path fill="#cc2" d="M1187 287l7 1 5 1-6-2zm-6-2l6 2 6 0-7-2zm-7-2l7 2 5 0-7-1z"/>
<path fill="#cc1" d="M1167 283l7 0 5 1-7-1zm-7-1l7 1 5 0-7 0zm-7-1l7 1 5 1-6-1zm-7-1l7 1 6 1-7 0z"/>
<path fill="#dc1" d="M1140 280l6 0 6 2-7 0z"/>
<path fill="#dd1" d="M1133 280l7 0 5 2-7 1z"/>
<path fill="#ed1" d="M1126 281l7-1 5 3-7 2zm-7 2l7-2 5 4-7 3z"/>
<path fill="#ee1" d="M1112 286l7-3 5 5-6 4zm-6 4l6-4 6 6-7 4z"/>
<path fill="#fe1" d="M1099 294l7-4 5 6-7 5z"/>
<path fill="#ee1" d="M1092 298l7-4 5 7-7 5z"/>
<path fill="#db1" d="M1404 185l7 1 5 5-7-1z"/>
<path fill="#da1" d="M1397 185l7 0 5 5-7-1zm-7 0l7 0 5 4-6 0zm-6 1l6-1 6 4-7 0zm-7 0l7 0 5 3-7 0z"/>
<path fill="#d91" d="M1370 186l7 0 5 3-7-1zm-7 1l7-1 5 2-7 0zm-7 0l7 0 5 1-6 0zm-7 1l7-1 6 1-7 1zm-6 2l6-2 6 1-7 2zm-7 4l7-4 5 1-7 4z"/>
<path fill="#ea1" d="M1329 200l7-6 5 1-7 6zm-7 7l7-7 5 1-7 7z"/>
<path fill="#eb1" d="M1315 214l7-7 5 1-6 7zm-6 8l6-8 6 1-7 7z"/>
<path fill="#ec1" d="M1302 229l7-7 5 0-7 8z"/>
<path fill="#ed1" d="M1295 237l7-8 5 1-7 9z"/>
<path fill="#ee1" d="M1288 245l7-8 5 2-7 9zm-7 9l7-9 5 3-6 9z"/>
<path fill="#ee2" d="M1274 263l7-9 6 3-7 9z"/>
<path fill="#de2" d="M1268 271l6-8 6 3-7 8z"/>
<path fill="#dd2" d="M1261 278l7-7 5 3-7 6z"/>
<path fill="#dd3" d="M1254 282l7-4 5 2-7 5z"/>
<path fill="#cd3" d="M1247 285l7-3 5 3-7 3zm-7 3l7-3 5 3-6 2zm-6 2l6-2 6 2-7 2zm-7 1l7-1 5 2-7 2z"/>
<path fill="#cc3" d="M1220 292l7-1 5 3-7 0z"/>
<path fill="#bc2" d="M1213 292l7 0 5 2-7-1zm-7-1l7 1 5 1-6-2z"/>
<path fill="#cc2" d="M1199 289l7 2 6 0-7-1zm-6-2l6 2 6 1-7-2zm-7-2l7 2 5 1-7-2zm-7-1l7 1 5 1-7-1z"/>
<path fill="#cc1" d="M1172 283l7 1 5 1-6-1zm-7 0l7 0 6 1-7 0zm-6-1l6 1 6 1-7-1z"/>
<path fill="#dc1" d="M1152 282l7 0 5 1-7 0z"/>
<path fill="#dd1" d="M1145 282l7 0 5 1-7 2z"/>
<path fill="#ed1" d="M1138 283l7-1 5 3-7 2z"/>
<path fill="#ee1" d="M1131 285l7-2 5 4-6 3zm-7 3l7-3 6 5-7 4zm-6 4l6-4 6 6-7 4zm-7 4l7-4 5 6-7 5z"/>
<path fill="#ee2" d="M1104 301l7-5 5 7-7 6zm-7 5l7-5 5 8-6 5z"/>
<path fill="#db1" d="M1409 190l7 1 5 4-6-1zm-7-1l7 1 6 4-7 0z"/>
<path fill="#da1" d="M1396 189l6 0 6 5-7-1zm-7 0l7 0 5 4-7-1z"/>
<path fill="#d91" d="M1382 189l7 0 5 3-7-2zm-7-1l7 1 5 1-6-1zm-7 0l7 0 6 1-7 0zm-6 0l6 0 6 1-7 0zm-7 1l7-1 5 1-7 1zm-7 2l7-2 5 1-7 2z"/>
<path fill="#d92" d="M1341 195l7-4 5 1-7 4z"/>
<path fill="#e92" d="M1334 201l7-6 5 1-6 6z"/>
<path fill="#ea1" d="M1327 208l7-7 6 1-7 7z"/>
<path fill="#eb1" d="M1321 215l6-7 6 1-7 7zm-7 7l7-7 5 1-7 8z"/>
<path fill="#ec1" d="M1307 230l7-8 5 2-7 8z"/>
<path fill="#ed1" d="M1300 239l7-9 5 2-6 9z"/>
<path fill="#ee1" d="M1293 248l7-9 6 2-7 10zm-6 9l6-9 6 3-7 9z"/>
<path fill="#ee2" d="M1280 266l7-9 5 3-7 8z"/>
<path fill="#de2" d="M1273 274l7-8 5 2-7 8z"/>
<path fill="#dd2" d="M1266 280l7-6 5 2-7 7z"/>
<path fill="#dd3" d="M1259 285l7-5 5 3-6 4z"/>
<path fill="#cd3" d="M1252 288l7-3 6 2-7 3zm-6 2l6-2 6 2-7 3zm-7 2l7-2 5 3-7 2z"/>
<path fill="#cc3" d="M1232 294l7-2 5 3-7 0z"/>
<path fill="#bc2" d="M1225 294l7 0 5 1-6-1zm-7-1l7 1 6 0-7-1z"/>
<path fill="#cc2" d="M1212 291l6 2 6 0-7-1zm-7-1l7 1 5 1-7-2zm-7-2l7 2 5 0-7-2zm-7-2l7 2 5 0-7-2z"/>
<path fill="#cc1" d="M1184 285l7 1 5 0-6-1zm-6-1l6 1 6 0-7 0zm-7 0l7 0 5 1-7 0z"/>
<path fill="#dc1" d="M1164 283l7 1 5 1-7 0z"/>
<path fill="#dd1" d="M1157 283l7 0 5 2-7 1z"/>
<path fill="#ed1" d="M1150 285l7-2 5 3-6 2z"/>
<path fill="#ee1" d="M1143 287l7-2 6 3-7 3zm-6 3l6-3 6 4-7 4zm-7 4l7-4 5 5-7 5zm-7 4l7-4 5 6-7 5z"/>
<path fill="#ee2" d="M1116 303l7-5 5 7-7 5zm-7 6l7-6 5 7-6 6zm-6 5l6-5 6 7-7 6z"/>
<path fill="#db1" d="M1415 194l6 1 6 5-7-1zm-7 0l7 0 5 5-7-2z"/>
<path fill="#da1" d="M1401 193l7 1 5 3-7-1zm-7-1l7 1 5 3-7-2z"/>
<path fill="#c91" d="M1387 190l7 2 5 2-6-2zm-6-1l6 1 6 2-7-2z"/>
<path fill="#c81" d="M1374 189l7 0 5 1-7 0zm-7 0l7 0 5 1-7 0z"/>
<path fill="#d81" d="M1360 190l7-1 5 1-7 1z"/>
<path fill="#d82" d="M1353 192l7-2 5 1-6 2z"/>
<path fill="#d92" d="M1346 196l7-4 6 1-7 4z"/>
<path fill="#e92" d="M1340 202l6-6 6 1-7 6z"/>
<path fill="#ea1" d="M1333 209l7-7 5 1-7 7z"/>
<path fill="#eb1" d="M1326 216l7-7 5 1-7 7zm-7 8l7-8 5 1-7 9z"/>
<path fill="#ec1" d="M1312 232l7-8 5 2-6 9z"/>
<path fill="#ed1" d="M1306 241l6-9 6 3-7 10z"/>
<path fill="#ee1" d="M1299 251l7-10 5 4-7 9zm-7 9l7-9 5 3-7 9z"/>
<path fill="#ee2" d="M1285 268l7-8 5 3-7 8z"/>
<path fill="#de2" d="M1278 276l7-8 5 3-6 8z"/>
<path fill="#dd2" d="M1271 283l7-7 6 3-7 6z"/>
<path fill="#dd3" d="M1265 287l6-4 6 2-7 5z"/>
<path fill="#cd3" d="M1258 290l7-3 5 3-7 3zm-7 3l7-3 5 3-7 2z"/>
<path fill="#cc3" d="M1244 295l7-2 5 2-7 1z"/>
<path fill="#bc2" d="M1237 295l7 0 5 1-6 0zm-6-1l6 1 6 1-7-1z"/>
<path fill="#cc2" d="M1224 293l7 1 5 1-7-2zm-7-1l7 1 5 0-7-1zm-7-2l7 2 5 0-7-2zm-7-2l7 2 5 0-6-2z"/>
<path fill="#cc1" d="M1196 286l7 2 6 0-7-1zm-6-1l6 1 6 1-7-1zm-7 0l7 0 5 1-7-1zm-7 0l7 0 5 0-7 1z"/>
<path fill="#dc1" d="M1169 285l7 0 5 1-7 1z"/>
<path fill="#dd1" d="M1162 286l7-1 5 2-6 2z"/>
<path fill="#ed1" d="M1156 288l6-2 6 3-7 3z"/>
<path fill="#ee1" d="M1149 291l7-3 5 4-7 4zm-7 4l7-4 5 5-7 5z"/>
<path fill="#ee2" d="M1135 300l7-5 5 6-7 5zm-7 5l7-5 5 6-6 6zm-7 5l7-5 6 7-7 6zm-6 6l6-6 6 8-7 6zm-7 6l7-6 5 8-7 6z"/>
<path fill="#db1" d="M1420 199l7 1 5 5-7-2zm-7-2l7 2 5 4-7-2z"/>
<path fill="#da1" d="M1406 196l7 1 5 4-6-3z"/>
<path fill="#c91" d="M1399 194l7 2 6 2-7-3zm-6-2l6 2 6 1-7-2zm-7-2l7 2 5 1-7-2z"/>
<path fill="#c81" d="M1379 190l7 0 5 1-7-1zm-7 0l7 0 5 0-7 0z"/>
<path fill="#d81" d="M1365 191l7-1 5 0-6 1z"/>
<path fill="#d82" d="M1359 193l6-2 6 0-7 3z"/>
<path fill="#d92" d="M1352 197l7-4 5 1-7 4z"/>
<path fill="#e92" d="M1345 203l7-6 5 1-7 6z"/>
<path fill="#ea2" d="M1338 210l7-7 5 1-7 7z"/>
<path fill="#eb1" d="M1331 217l7-7 5 1-6 9z"/>
<path fill="#ec1" d="M1324 226l7-9 6 3-7 9zm-6 9l6-9 6 3-7 9z"/>
<path fill="#ed1" d="M1311 245l7-10 5 3-7 10z"/>
<path fill="#ee1" d="M1304 254l7-9 5 3-7 10z"/>
<path fill="#ee2" d="M1297 263l7-9 5 4-7 9zm-7 8l7-8 5 4-6 8z"/>
<path fill="#de2" d="M1284 279l6-8 6 4-7 7z"/>
<path fill="#dd3" d="M1277 285l7-6 5 3-7 6zm-7 5l7-5 5 3-7 4z"/>
<path fill="#cd3" d="M1263 293l7-3 5 2-7 3z"/>
<path fill="#cc3" d="M1256 295l7-2 5 2-6 1zm-7 1l7-1 6 1-7 1z"/>
<path fill="#bc2" d="M1243 296l6 0 6 1-7-1zm-7-1l7 1 5 0-7-1z"/>
<path fill="#cc2" d="M1229 293l7 2 5 0-7-2zm-7-1l7 1 5 0-7-1zm-7-2l7 2 5 0-6-2zm-6-2l6 2 6 0-7-2z"/>
<path fill="#cc1" d="M1202 287l7 1 5 0-7-1zm-7-1l7 1 5 0-7-1zm-7-1l7 1 5 0-7 0z"/>
<path fill="#dc1" d="M1181 286l7-1 5 1-6 1z"/>
<path fill="#dd1" d="M1174 287l7-1 6 1-7 2z"/>
<path fill="#ed1" d="M1168 289l6-2 6 2-7 4z"/>
<path fill="#ee1" d="M1161 292l7-3 5 4-7 4zm-7 4l7-4 5 5-7 4z"/>
<path fill="#ee2" d="M1147 301l7-5 5 5-7 6zm-7 5l7-5 5 6-6 5zm-6 6l6-6 6 6-7 7zm-7 6l7-6 5 7-7 6z"/>
<path fill="#ee3" d="M1120 324l7-6 5 7-7 7zm-7 6l7-6 5 8-7 7z"/>
</g>
<g fill="#0a14f5"><circle cx="437.4" cy="104.8" r="2.3"/><circle cx="476.6" cy="73.7" r="2.3"/><circle cx="515.8" cy="68.5" r="2.3"/><circle cx="555" cy="66.5" r="2.3"/><circle cx="624.7" cy="42.3" r="2.3"/><circle cx="655.1" cy="78.4" r="2.3"/><circle cx="685.6" cy="82.2" r="2.3"/><circle cx="716" cy="102.3" r="2.3"/><circle cx="467.8" cy="113.7" r="2.3"/><circle cx="498.3" cy="120.3" r="2.3"/><circle cx="528.8" cy="129.4" r="2.3"/><circle cx="559.2" cy="169.4" r="2.3"/><circle cx="598.4" cy="143" r="2.3"/><circle cx="637.6" cy="146.2" r="2.3"/><circle cx="676.8" cy="100.3" r="2.3"/><path d="M504.3 113.7a2.7 2.7 0 0 1 5.4 0z"/><path d="M543.5 87.3a2.7 2.7 0 0 1 5.4 0z"/><path d="M574 108.4a2.7 2.7 0 0 1 5.4 0z"/><path d="M613.2 74.5a2.7 2.7 0 0 1 5.4 0z"/><path d="M565.2 136.3a2.7 2.7 0 0 1 5.4 0z"/><path d="M604.4 130.9a2.7 2.7 0 0 1 5.4 0z"/><path d="M643.6 91.5a2.7 2.7 0 0 1 5.4 0z"/></g>
<text x="456.0" y="71.5" font-size="14" fill="#2c2c86" stroke="#2c2c86" stroke-width="0.35">0.83</text>
<text x="501.4" y="66.5" font-size="14" fill="#2c2c86" stroke="#2c2c86" stroke-width="0.35">0.78</text>
<text x="544.6" y="64.3" font-size="14" fill="#2c2c86" stroke="#2c2c86" stroke-width="0.35">0.71</text>
<text x="447.4" y="126.6" font-size="14" fill="#2c2c86" stroke="#2c2c86" stroke-width="0.35">0.70</text>
<text x="476.7" y="136.8" font-size="14" fill="#2c2c86" stroke="#2c2c86" stroke-width="0.35">0.76</text>
<text x="509.3" y="145.8" font-size="14" fill="#2c2c86" stroke="#2c2c86" stroke-width="0.35">0.80</text>
<text x="598.0" y="44.0" font-size="14" fill="#1e1e1e" stroke="#1e1e1e" stroke-width="0.35">0.93</text>
<text x="675.4" y="79.4" font-size="14" fill="#2c2c86" stroke="#2c2c86" stroke-width="0.35">0.83</text>
<text x="675.4" y="114.5" font-size="14" fill="#1e1e1e" stroke="#1e1e1e" stroke-width="0.35">0.89</text>
<text x="634.3" y="161.0" font-size="14" fill="#2c2c86" stroke="#2c2c86" stroke-width="0.35">0.60</text>
<text x="547.9" y="162.5" font-size="14" fill="#2c2c86" stroke="#2c2c86" stroke-width="0.35">0.58</text>
<text x="430.9" y="163.8" text-anchor="end" font-size="14" fill="#303030" stroke="#303030" stroke-width="0.25">0.2</text>
<text x="430.9" y="139.6" text-anchor="end" font-size="14" fill="#303030" stroke="#303030" stroke-width="0.25">0.4</text>
<text x="430.9" y="115.4" text-anchor="end" font-size="14" fill="#303030" stroke="#303030" stroke-width="0.25">0.6</text>
<text x="430.9" y="91.3" text-anchor="end" font-size="14" fill="#303030" stroke="#303030" stroke-width="0.25">0.8</text>
<text x="430.9" y="67.1" text-anchor="end" font-size="14" fill="#303030" stroke="#303030" stroke-width="0.25">1.0</text>
<text transform="translate(406.4 114.2) rotate(-90)" text-anchor="middle" font-size="15.5" fill="#202020" stroke="#202020" stroke-width="0.25">Power Spectrum (arb. units)</text>
<text x="421" y="200.8" font-size="14" fill="#303030" stroke="#303030" stroke-width="0.25">4.4</text>
<text x="530.1" y="253.6" font-size="14" fill="#303030" stroke="#303030" stroke-width="0.25">3.6</text>
<text x="571.6" y="255.5" font-size="14" fill="#303030" stroke="#303030" stroke-width="0.25">0</text>
<text x="717.7" y="214.2" font-size="14" fill="#303030" stroke="#303030" stroke-width="0.25">2.5</text>
<text transform="translate(452.3 228) rotate(24.7)" font-size="15" fill="#202020" stroke="#202020" stroke-width="0.25"><tspan font-style="italic" font-size="16">L</tspan><tspan font-style="italic" font-size="11" dy="3.5">C</tspan><tspan dy="-3.5" dx="1.5">(mm)</tspan></text>
<g transform="translate(620.2 255.3) rotate(-15.4)"><path d="M0.5 0L6 -10.5L11.5 0Z" fill="none" stroke="#303030" stroke-width="0.9"/><text x="13" y="0" font-size="16" fill="#202020" stroke="#202020" stroke-width="0.25"><tspan font-style="italic">P</tspan> (mW)</text></g>
<text x="442.7" y="20" font-size="17.5" font-style="italic" fill="#2d8ff8" stroke="#2d8ff8" stroke-width="0.3" xml:space="preserve">k<tspan font-size="10" dy="3">z</tspan><tspan dy="-3"> &lt; 0  &#8467;=&#8722;1</tspan></text>
<text x="376.5" y="18" font-size="20.5" font-weight="bold" fill="#111">b</text>
<path d="M62.4 333L219.2 289.8L341 345.8M219.2 410.8L219.2 289.8M341 466.8L341 345.8M62.4 454L219.2 410.8L341 466.8" fill="none" stroke="#8a8a8a" stroke-width="1"/>
<path d="M62.4 454V319" stroke="#6e6e6e" stroke-width="1.8"/>
<path d="M62.4 312l3.8 8.5h-7.6z"/>
<path d="M58.4 428.6h4M58.4 404.4h4M58.4 380.2h4M58.4 356.1h4M58.4 331.9h4" stroke="#6e6e6e" stroke-width="1"/>
<path d="M92.8 468l-2.8 0.8M123.3 482l-2.8 0.8M153.8 496l-2.8 0.8M223.4 499.2l2.6 1.2M262.6 488.4l2.6 1.2M301.8 477.6l2.6 1.2" stroke="#9a9a9a" stroke-width="1"/>
<path d="M44.9 446.4L184.2 510L369 459.1" fill="none" stroke="#151515" stroke-width="1.6"/>
<path d="M38.9 443.7L48.7 444L45.3 446.6L45.5 450.9Z"/>
<path d="M375 457.5L367.3 463.6L368.3 459.4L365.3 456.2Z"/>
<g transform="scale(.5)" stroke="#000" stroke-opacity="0.62" stroke-width="1.0" stroke-linejoin="round">
<path fill="#27a" d="M430 814l8-2 7 1-9 2zm-9 3l9-3 6 1-8 3zm-9 3l9-3 7 1-9 3zm-8 2l8-2 7 1-9 2zm-9 3l9-3 6 1-8 3zm-9 2l9-2 7 1-9 2zm-9 2l9-2 7 1-9 3z"/>
<path fill="#28a" d="M369 832l8-3 7 2-9 2zm-9 2l9-2 6 1-8 3zm-9 3l9-3 7 2-9 2zm-8 2l8-2 7 1-9 2zm-9 2l9-2 6 1-8 3zm-9 2l9-2 7 2-9 2z"/>
<path fill="#28b" d="M316 845l9-2 7 2-9 2zm-8 2l8-2 7 2-9 3z"/>
<path fill="#29b" d="M299 850l9-3 6 3-8 3z"/>
<path fill="#29c" d="M290 852l9-2 7 3-9 3z"/>
<path fill="#29d" d="M282 855l8-3 7 4-9 3zm-9 3l9-3 6 4-8 3z"/>
<path fill="#29c" d="M264 861l9-3 7 4-9 3zm-9 3l9-3 7 4-9 2zm-8 3l8-3 7 3-8 3z"/>
<path fill="#29b" d="M238 869l9-2 7 3-9 2z"/>
<path fill="#28b" d="M229 872l9-3 7 3-9 3zm-8 2l8-2 7 3-9 2zm-9 3l9-3 6 3-8 2z"/>
<path fill="#28a" d="M203 879l9-2 7 2-9 2zm-9 3l9-3 7 2-9 2z"/>
<path fill="#28b" d="M186 884l8-2 7 1-8 3zm-9 3l9-3 7 2-9 3zm-9 4l9-4 7 2-9 4zm-8 3l8-3 7 2-9 3zm-9 4l9-4 6 2-8 3zm-9 3l9-3 7 1-9 4zm-8 4l8-4 7 2-9 3z"/>
<path fill="#28a" d="M125 908l9-3 6 1-8 3z"/>
<path fill="#27a" d="M436 815l9-2 7 1-9 2zm-8 3l8-3 7 1-8 3zm-9 3l9-3 7 1-9 3zm-9 2l9-2 7 1-9 2zm-8 3l8-3 7 1-9 3z"/>
<path fill="#28a" d="M393 828l9-2 6 1-8 3zm-9 3l9-3 7 2-9 2zm-9 2l9-2 7 1-9 3zm-8 3l8-3 7 2-8 2zm-9 2l9-2 7 1-9 3zm-9 2l9-2 7 2-9 2zm-8 3l8-3 7 2-9 3z"/>
<path fill="#28b" d="M332 845l9-2 6 2-8 2zm-9 2l9-2 7 2-9 3z"/>
<path fill="#29b" d="M314 850l9-3 7 3-9 3z"/>
<path fill="#29c" d="M306 853l8-3 7 3-8 3z"/>
<path fill="#29d" d="M297 856l9-3 7 3-9 4z"/>
<path fill="#2ad" d="M288 859l9-3 7 4-9 3z"/>
<path fill="#29c" d="M280 862l8-3 7 4-9 3zm-9 3l9-3 6 4-8 2zm-9 2l9-2 7 3-9 3zm-8 3l8-3 7 4-9 2z"/>
<path fill="#29b" d="M245 872l9-2 6 3-8 2z"/>
<path fill="#28b" d="M236 875l9-3 7 3-9 2zm-9 2l9-2 7 2-9 2z"/>
<path fill="#28a" d="M219 879l8-2 7 2-9 2zm-9 2l9-2 6 2-8 2zm-9 2l9-2 7 2-9 2z"/>
<path fill="#28b" d="M193 886l8-3 7 2-9 3zm-9 3l9-3 6 2-8 3zm-9 4l9-4 7 2-9 3zm-9 3l9-3 7 1-9 4zm-8 3l8-3 7 2-9 3zm-9 4l9-4 6 2-8 3zm-9 3l9-3 7 1-9 3z"/>
<path fill="#28a" d="M132 909l8-3 7 1-9 3z"/>
<path fill="#27a" d="M443 816l9-2 7 1-9 2zm-8 3l8-3 7 1-9 3z"/>
<path fill="#28a" d="M426 822l9-3 6 1-8 3zm-9 2l9-2 7 1-9 3zm-9 3l9-3 7 2-9 3zm-8 3l8-3 7 2-9 2zm-9 2l9-2 6 1-8 3zm-9 3l9-3 7 2-9 3zm-8 2l8-2 7 2-9 2zm-9 3l9-3 6 2-8 3zm-9 2l9-2 7 2-9 2z"/>
<path fill="#28b" d="M347 845l9-3 7 2-9 3zm-8 2l8-2 7 2-9 3zm-9 3l9-3 6 3-8 3z"/>
<path fill="#29c" d="M321 853l9-3 7 3-9 3zm-8 3l8-3 7 3-9 4z"/>
<path fill="#2ad" d="M304 860l9-4 6 4-8 3zm-9 3l9-3 7 3-9 4z"/>
<path fill="#29c" d="M286 866l9-3 7 4-9 2zm-8 2l8-2 7 3-9 3zm-9 3l9-3 6 4-8 2zm-9 2l9-2 7 3-9 2z"/>
<path fill="#28b" d="M252 875l8-2 7 3-9 2zm-9 2l9-2 6 3-8 2z"/>
<path fill="#28a" d="M234 879l9-2 7 3-9 1z"/>
<path fill="#27a" d="M225 881l9-2 7 2-9 2z"/>
<path fill="#28a" d="M217 883l8-2 7 2-8 2zm-9 2l9-2 7 2-9 2z"/>
<path fill="#28b" d="M199 888l9-3 7 2-9 3zm-8 3l8-3 7 2-9 3zm-9 3l9-3 6 2-8 3zm-9 4l9-4 7 2-9 3zm-9 3l9-3 7 1-9 4zm-8 3l8-3 7 2-8 3zm-9 3l9-3 7 2-9 3z"/>
<path fill="#28a" d="M138 910l9-3 7 2-9 3zm312-93l9-2 6 1-8 3zm-9 3l9-3 7 2-9 3zm-8 3l8-3 7 2-9 2zm-9 3l9-3 6 1-8 3z"/>
<path fill="#28b" d="M415 829l9-3 7 1-9 3zm-9 2l9-2 7 1-9 3z"/>
<path fill="#28a" d="M398 834l8-3 7 2-9 3zm-9 3l9-3 6 2-8 2zm-9 2l9-2 7 1-9 3z"/>
<path fill="#28b" d="M372 842l8-3 7 2-9 3zm-9 2l9-2 6 2-8 2zm-9 3l9-3 7 2-9 3z"/>
<path fill="#29b" d="M345 850l9-3 7 2-9 3z"/>
<path fill="#29c" d="M337 853l8-3 7 2-8 4zm-9 3l9-3 7 3-9 3z"/>
<path fill="#2ad" d="M319 860l9-4 7 3-9 4zm-8 3l8-3 7 3-9 4zm-9 4l9-4 6 4-8 3z"/>
<path fill="#29c" d="M293 869l9-2 7 3-9 3zm-9 3l9-3 7 4-9 2z"/>
<path fill="#29b" d="M276 874l8-2 7 3-8 2z"/>
<path fill="#28b" d="M267 876l9-2 7 3-9 2zm-9 2l9-2 7 3-9 2z"/>
<path fill="#28a" d="M250 880l8-2 7 3-9 1z"/>
<path fill="#27a" d="M241 881l9-1 6 2-8 1zm-9 2l9-2 7 2-9 2z"/>
<path fill="#28a" d="M224 885l8-2 7 2-9 2z"/>
<path fill="#28b" d="M215 887l9-2 6 2-8 2zm-9 3l9-3 7 2-9 3zm-9 3l9-3 7 2-9 3zm-8 3l8-3 7 2-9 3zm-9 3l9-3 6 2-8 3zm-9 4l9-4 7 2-9 4zm-8 3l8-3 7 2-9 3zm-9 3l9-3 6 2-8 2z"/>
<path fill="#28a" d="M145 912l9-3 7 1-9 3zm312-93l8-3 7 1-8 3zm-9 3l9-3 7 1-9 3z"/>
<path fill="#28b" d="M439 824l9-2 7 1-9 3zm-8 3l8-3 7 2-9 3zm-9 3l9-3 6 2-8 3zm-9 3l9-3 7 2-9 3zm-9 3l9-3 7 2-9 3zm-8 2l8-2 7 2-8 2zm-9 3l9-3 7 2-9 3zm-9 3l9-3 7 2-9 3zm-8 2l8-2 7 2-9 3z"/>
<path fill="#29b" d="M361 849l9-3 6 3-8 3z"/>
<path fill="#29c" d="M352 852l9-3 7 3-9 3zm-8 4l8-4 7 3-9 4z"/>
<path fill="#2ad" d="M335 859l9-3 6 3-8 4zm-9 4l9-4 7 4-9 4zm-9 4l9-4 7 4-9 4z"/>
<path fill="#29c" d="M309 870l8-3 7 4-9 3zm-9 3l9-3 6 4-8 2z"/>
<path fill="#29b" d="M291 875l9-2 7 3-9 2z"/>
<path fill="#28b" d="M283 877l8-2 7 3-9 2zm-9 2l9-2 6 3-8 2z"/>
<path fill="#28a" d="M265 881l9-2 7 3-9 1z"/>
<path fill="#27a" d="M256 882l9-1 7 2-9 1zm-8 1l8-1 7 2-9 1zm-9 2l9-2 6 2-8 2z"/>
<path fill="#28a" d="M230 887l9-2 7 2-9 2z"/>
<path fill="#28b" d="M222 889l8-2 7 2-9 2zm-9 3l9-3 6 2-8 3zm-9 3l9-3 7 2-9 3zm-9 3l9-3 7 2-9 3zm-8 3l8-3 7 2-9 4zm-9 4l9-4 6 3-8 3zm-9 3l9-3 7 2-9 2zm-8 2l8-2 7 1-9 3z"/>
<path fill="#28a" d="M152 913l9-3 6 2-8 3z"/>
<path fill="#28b" d="M464 820l8-3 7 2-9 3zm-9 3l9-3 6 2-8 3zm-9 3l9-3 7 2-9 3zm-9 3l9-3 7 2-9 4zm-8 3l8-3 7 3-9 2zm-9 3l9-3 6 2-8 3zm-9 3l9-3 7 2-9 3zm-8 2l8-2 7 2-9 2zm-9 3l9-3 6 2-8 3zm-9 3l9-3 7 2-9 3z"/>
<path fill="#29b" d="M376 849l9-3 7 2-9 3z"/>
<path fill="#29c" d="M368 852l8-3 7 2-9 4zm-9 3l9-3 6 3-8 4z"/>
<path fill="#2ad" d="M350 859l9-4 7 4-9 4zm-8 4l8-4 7 4-9 4zm-9 4l9-4 6 4-8 4zm-9 4l9-4 7 4-9 3z"/>
<path fill="#29c" d="M315 874l9-3 7 3-9 3zm-8 2l8-2 7 3-9 2z"/>
<path fill="#28b" d="M298 878l9-2 6 3-8 2zm-9 2l9-2 7 3-9 2z"/>
<path fill="#28a" d="M281 882l8-2 7 3-9 1zm-9 1l9-1 6 2-8 1z"/>
<path fill="#27a" d="M263 884l9-1 7 2-9 1zm-9 1l9-1 7 2-9 2z"/>
<path fill="#28a" d="M246 887l8-2 7 3-8 1z"/>
<path fill="#28b" d="M237 889l9-2 7 2-9 2zm-9 2l9-2 7 2-9 3z"/>
<path fill="#29b" d="M220 894l8-3 7 3-9 3zm-9 3l9-3 6 3-8 3zm-9 3l9-3 7 3-9 3z"/>
<path fill="#28b" d="M193 904l9-4 7 3-9 3zm-8 3l8-3 7 2-8 3zm-9 2l9-2 7 2-9 3zm-9 3l9-3 7 3-9 2z"/>
<path fill="#28a" d="M159 915l8-3 7 2-9 3z"/>
<path fill="#28b" d="M470 822l9-3 7 2-9 3z"/>
<path fill="#29b" d="M462 825l8-3 7 2-9 4zm-9 3l9-3 6 3-8 3z"/>
<path fill="#28b" d="M444 832l9-4 7 3-9 3zm-9 2l9-2 7 2-9 3zm-8 3l8-3 7 3-8 2zm-9 3l9-3 7 2-9 3zm-9 2l9-2 7 2-9 3z"/>
<path fill="#29b" d="M401 845l8-3 7 3-9 3z"/>
<path fill="#29c" d="M392 848l9-3 6 3-8 3zm-9 3l9-3 7 3-9 3z"/>
<path fill="#29d" d="M374 855l9-4 7 3-9 4z"/>
<path fill="#2ad" d="M366 859l8-4 7 3-8 4zm-9 4l9-4 7 3-9 5zm-9 4l9-4 7 4-9 4zm-8 4l8-4 7 4-9 3z"/>
<path fill="#29c" d="M331 874l9-3 6 3-8 4zm-9 3l9-3 7 4-9 2z"/>
<path fill="#28b" d="M313 879l9-2 7 3-9 2zm-8 2l8-2 7 3-8 2z"/>
<path fill="#28a" d="M296 883l9-2 7 3-9 1zm-9 1l9-1 7 2-9 1z"/>
<path fill="#27a" d="M279 885l8-1 7 2-9 2zm-9 1l9-1 6 3-8 1z"/>
<path fill="#28a" d="M261 888l9-2 7 3-9 1zm-8 1l8-1 7 2-9 2z"/>
<path fill="#28b" d="M244 891l9-2 6 3-8 2z"/>
<path fill="#29b" d="M235 894l9-3 7 3-9 2z"/>
<path fill="#29c" d="M226 897l9-3 7 2-9 3zm-8 3l8-3 7 2-9 3z"/>
<path fill="#29b" d="M209 903l9-3 6 2-8 3zm-9 3l9-3 7 2-9 3z"/>
<path fill="#28b" d="M192 909l8-3 7 2-9 3zm-9 3l9-3 6 2-8 3zm-9 2l9-2 7 2-9 2zm-9 3l9-3 7 2-9 3z"/>
<path fill="#29c" d="M477 824l9-3 7 3-9 3zm-9 4l9-4 7 3-9 3z"/>
<path fill="#29b" d="M460 831l8-3 7 2-9 3zm-9 3l9-3 6 2-8 3z"/>
<path fill="#28b" d="M442 837l9-3 7 2-9 3zm-8 2l8-2 7 2-9 3z"/>
<path fill="#29b" d="M425 842l9-3 6 3-8 3z"/>
<path fill="#29c" d="M416 845l9-3 7 3-9 3zm-9 3l9-3 7 3-9 3zm-8 3l8-3 7 3-9 3z"/>
<path fill="#29d" d="M390 854l9-3 6 3-8 4z"/>
<path fill="#2ad" d="M381 858l9-4 7 4-9 4zm-8 4l8-4 7 4-9 4zm-9 5l9-5 6 4-8 4zm-9 4l9-4 7 3-9 4z"/>
<path fill="#29d" d="M346 874l9-3 7 3-9 4z"/>
<path fill="#29c" d="M338 878l8-4 7 4-9 3z"/>
<path fill="#29b" d="M329 880l9-2 6 3-8 2z"/>
<path fill="#28b" d="M320 882l9-2 7 3-9 2z"/>
<path fill="#28a" d="M312 884l8-2 7 3-9 1zm-9 1l9-1 6 2-8 2z"/>
<path fill="#27a" d="M294 886l9-1 7 3-9 1zm-9 2l9-2 7 3-9 1z"/>
<path fill="#28a" d="M277 889l8-1 7 2-9 1zm-9 1l9-1 6 2-8 2z"/>
<path fill="#28b" d="M259 892l9-2 7 3-9 1zm-8 2l8-2 7 2-9 3z"/>
<path fill="#29c" d="M242 896l9-2 6 3-8 2zm-9 3l9-3 7 3-9 3zm-9 3l9-3 7 3-9 3zm-8 3l8-3 7 3-9 3zm-9 3l9-3 6 3-8 3z"/>
<path fill="#29b" d="M198 911l9-3 7 3-9 3zm-8 3l8-3 7 3-9 2z"/>
<path fill="#28b" d="M181 916l9-2 6 2-8 3zm-9 3l9-3 7 3-9 2z"/>
<path fill="#29c" d="M484 827l9-3 6 3-8 3zm-9 3l9-3 7 3-9 3zm-9 3l9-3 7 3-9 3zm-8 3l8-3 7 3-9 3zm-9 3l9-3 6 3-8 3zm-9 3l9-3 7 3-9 3zm-8 3l8-3 7 3-9 3zm-9 3l9-3 6 3-8 3zm-9 3l9-3 7 3-9 3z"/>
<path fill="#2ad" d="M405 854l9-3 7 3-9 4zm-8 4l8-4 7 4-9 4zm-9 4l9-4 6 4-8 4zm-9 4l9-4 7 4-9 4zm-8 4l8-4 7 4-9 4zm-9 4l9-4 6 4-8 3z"/>
<path fill="#29c" d="M353 878l9-4 7 3-9 4zm-9 3l9-3 7 3-9 2z"/>
<path fill="#28b" d="M336 883l8-2 7 2-9 3z"/>
<path fill="#28a" d="M327 885l9-2 6 3-8 1zm-9 1l9-1 7 2-9 2z"/>
<path fill="#27a" d="M310 888l8-2 7 3-9 1zm-9 1l9-1 6 2-8 1zm-9 1l9-1 7 2-9 1z"/>
<path fill="#28a" d="M283 891l9-1 7 2-9 2zm-8 2l8-2 7 3-8 1z"/>
<path fill="#28b" d="M266 894l9-1 7 2-9 2z"/>
<path fill="#29c" d="M257 897l9-3 7 3-9 3zm-8 2l8-2 7 3-9 3zm-9 3l9-3 6 4-8 3zm-9 3l9-3 7 4-9 3zm-9 3l9-3 7 4-9 2zm-8 3l8-3 7 3-8 3zm-9 3l9-3 7 3-9 3zm-9 2l9-2 7 3-9 2z"/>
<path fill="#29b" d="M188 919l8-3 7 3-9 3z"/>
<path fill="#28b" d="M179 921l9-2 6 3-8 2z"/>
<path fill="#29c" d="M491 830l8-3 7 3-9 4zm-9 3l9-3 6 4-8 3zm-9 3l9-3 7 4-9 3zm-9 3l9-3 7 4-9 3zm-8 3l8-3 7 4-8 2zm-9 3l9-3 7 3-9 3zm-9 3l9-3 7 3-9 3z"/>
<path fill="#29d" d="M430 851l8-3 7 3-9 4z"/>
<path fill="#2ad" d="M421 854l9-3 6 4-8 3zm-9 4l9-4 7 4-9 4zm-9 4l9-4 7 4-9 4zm-8 4l8-4 7 4-8 4zm-9 4l9-4 7 4-9 4zm-9 4l9-4 7 4-9 3zm-8 3l8-3 7 3-9 4z"/>
<path fill="#29c" d="M360 881l9-4 6 4-8 3z"/>
<path fill="#29b" d="M351 883l9-2 7 3-9 2z"/>
<path fill="#28a" d="M342 886l9-3 7 3-9 2zm-8 1l8-1 7 2-8 1z"/>
<path fill="#27a" d="M325 889l9-2 7 2-9 2zm-9 1l9-1 7 2-9 1zm-8 1l8-1 7 2-9 1zm-9 1l9-1 6 2-8 1z"/>
<path fill="#28a" d="M290 894l9-2 7 2-9 2z"/>
<path fill="#28b" d="M282 895l8-1 7 2-9 2zm-9 2l9-2 6 3-8 2z"/>
<path fill="#29c" d="M264 900l9-3 7 3-9 3zm-9 3l9-3 7 3-9 3zm-8 3l8-3 7 3-9 3zm-9 3l9-3 6 3-8 3zm-9 2l9-2 7 3-9 3zm-8 3l8-3 7 4-9 3zm-9 3l9-3 6 4-8 2zm-9 2l9-2 7 3-9 3zm-9 3l9-3 7 4-9 2z"/>
<path fill="#29b" d="M186 924l8-2 7 3-9 2z"/>
<path fill="#2ad" d="M497 834l9-4 7 4-9 4zm-8 3l8-3 7 4-9 3zm-9 3l9-3 6 4-8 3zm-9 3l9-3 7 4-9 3zm-8 2l8-2 7 4-9 2zm-9 3l9-3 6 4-8 3zm-9 3l9-3 7 4-9 3zm-9 4l9-4 7 4-9 4zm-8 3l8-3 7 4-9 3zm-9 4l9-4 6 4-8 4zm-9 4l9-4 7 4-9 4zm-8 4l8-4 7 4-9 4zm-9 4l9-4 6 4-8 4zm-9 3l9-3 7 4-9 3zm-9 4l9-4 7 4-9 3z"/>
<path fill="#29c" d="M367 884l8-3 7 3-9 3z"/>
<path fill="#28b" d="M358 886l9-2 6 3-8 1z"/>
<path fill="#27a" d="M349 888l9-2 7 2-9 1zm-8 1l8-1 7 1-9 2z"/>
<path fill="#279" d="M332 891l9-2 6 2-8 1zm-9 1l9-1 7 1-9 2z"/>
<path fill="#27a" d="M314 893l9-1 7 2-9 1zm-8 1l8-1 7 2-9 1z"/>
<path fill="#28a" d="M297 896l9-2 6 2-8 2z"/>
<path fill="#28b" d="M288 898l9-2 7 2-9 3z"/>
<path fill="#29c" d="M280 900l8-2 7 3-9 3z"/>
<path fill="#2ad" d="M271 903l9-3 6 4-8 3zm-9 3l9-3 7 4-9 3zm-9 3l9-3 7 4-9 3zm-8 3l8-3 7 4-8 3zm-9 3l9-3 7 4-9 3z"/>
<path fill="#29c" d="M227 918l9-3 7 4-9 3zm-8 2l8-2 7 4-9 2zm-9 3l9-3 6 4-8 2z"/>
<path fill="#29b" d="M201 925l9-2 7 3-9 2z"/>
<path fill="#29c" d="M192 927l9-2 7 3-9 3z"/>
<path fill="#2ad" d="M504 838l9-4 7 5-9 3zm-9 3l9-3 7 4-9 3zm-8 3l8-3 7 4-9 3zm-9 3l9-3 6 4-8 3zm-9 2l9-2 7 4-9 3zm-8 3l8-3 7 5-9 3zm-9 3l9-3 6 5-8 3zm-9 4l9-4 7 5-9 3zm-9 3l9-3 7 4-9 4zm-8 4l8-4 7 5-9 3z"/>
<path fill="#2ae" d="M417 870l9-4 6 4-8 4z"/>
<path fill="#2ad" d="M408 874l9-4 7 4-9 4zm-8 4l8-4 7 4-9 4zm-9 3l9-3 6 4-8 3z"/>
<path fill="#29c" d="M382 884l9-3 7 4-9 2z"/>
<path fill="#28b" d="M373 887l9-3 7 3-9 2z"/>
<path fill="#27a" d="M365 888l8-1 7 2-8 1z"/>
<path fill="#279" d="M356 889l9-1 7 2-9 1zm-9 2l9-2 7 2-9 2zm-8 1l8-1 7 2-9 1zm-9 2l9-2 6 2-8 1z"/>
<path fill="#27a" d="M321 895l9-1 7 1-9 2z"/>
<path fill="#28a" d="M312 896l9-1 7 2-9 2z"/>
<path fill="#28b" d="M304 898l8-2 7 3-8 2z"/>
<path fill="#29c" d="M295 901l9-3 7 3-9 3z"/>
<path fill="#2ad" d="M286 904l9-3 7 3-9 4zm-8 3l8-3 7 4-9 4zm-9 3l9-3 6 5-8 3zm-9 3l9-3 7 5-9 3zm-8 3l8-3 7 5-9 2zm-9 3l9-3 6 4-8 3z"/>
<path fill="#29c" d="M234 922l9-3 7 4-9 3zm-9 2l9-2 7 4-9 2zm-8 2l8-2 7 4-9 2zm-9 2l9-2 6 4-8 2zm-9 3l9-3 7 4-9 2z"/>
<path fill="#2ad" d="M511 842l9-3 6 4-8 3zm-9 3l9-3 7 4-9 3zm-9 3l9-3 7 4-9 3zm-8 3l8-3 7 4-8 3zm-9 3l9-3 7 4-9 3zm-9 3l9-3 7 4-9 3zm-8 3l8-3 7 4-9 3zm-9 3l9-3 6 4-8 4zm-9 4l9-4 7 5-9 3z"/>
<path fill="#2ae" d="M432 870l9-3 7 4-9 4zm-8 4l8-4 7 5-8 4z"/>
<path fill="#2ad" d="M415 878l9-4 7 5-9 3zm-9 4l9-4 7 4-9 3z"/>
<path fill="#29c" d="M398 885l8-3 7 3-9 3z"/>
<path fill="#28b" d="M389 887l9-2 6 3-8 2z"/>
<path fill="#27a" d="M380 889l9-2 7 3-9 1z"/>
<path fill="#279" d="M372 890l8-1 7 2-9 0zm-9 1l9-1 6 1-8 2zm-9 2l9-2 7 2-9 1zm-9 1l9-1 7 1-9 2z"/>
<path fill="#27a" d="M337 895l8-1 7 2-9 1z"/>
<path fill="#28a" d="M328 897l9-2 6 2-8 2z"/>
<path fill="#28b" d="M319 899l9-2 7 2-9 2z"/>
<path fill="#29c" d="M311 901l8-2 7 2-9 4z"/>
<path fill="#2ad" d="M302 904l9-3 6 4-8 3zm-9 4l9-4 7 4-9 4zm-9 4l9-4 7 4-9 4zm-8 3l8-3 7 4-9 3zm-9 3l9-3 6 4-8 3zm-9 2l9-2 7 4-9 3z"/>
<path fill="#29c" d="M250 923l8-3 7 5-9 2zm-9 3l9-3 6 4-8 2zm-9 2l9-2 7 3-9 2zm-9 2l9-2 7 3-9 2zm-8 2l8-2 7 3-9 3zm-9 2l9-2 6 4-8 2z"/>
<path fill="#2ad" d="M518 846l8-3 7 5-9 3zm-9 3l9-3 6 5-8 3zm-9 3l9-3 7 5-9 3zm-8 3l8-3 7 5-9 2zm-9 3l9-3 6 4-8 3zm-9 3l9-3 7 4-9 4zm-9 3l9-3 7 5-9 3z"/>
<path fill="#2ae" d="M457 868l8-4 7 5-9 3z"/>
<path fill="#2ad" d="M448 871l9-3 6 4-8 4zm-9 4l9-4 7 5-9 3zm-8 4l8-4 7 4-9 4zm-9 3l9-3 6 4-8 3z"/>
<path fill="#29c" d="M413 885l9-3 7 4-9 3z"/>
<path fill="#28b" d="M404 888l9-3 7 4-9 1z"/>
<path fill="#27a" d="M396 890l8-2 7 2-9 1z"/>
<path fill="#279" d="M387 891l9-1 6 1-8 1zm-9 0l9 0 7 1-9 1zm-8 2l8-2 7 2-9 1z"/>
<path fill="#27a" d="M361 894l9-1 6 1-8 2zm-9 2l9-2 7 2-9 1z"/>
<path fill="#28a" d="M343 897l9-1 7 1-9 2z"/>
<path fill="#28b" d="M335 899l8-2 7 2-9 3z"/>
<path fill="#29c" d="M326 901l9-2 6 3-8 3z"/>
<path fill="#2ad" d="M317 905l9-4 7 4-9 4zm-8 3l8-3 7 4-9 4zm-9 4l9-4 6 5-8 4zm-9 4l9-4 7 5-9 3zm-9 3l9-3 7 4-9 3zm-8 3l8-3 7 4-8 3z"/>
<path fill="#29d" d="M265 925l9-3 7 4-9 2z"/>
<path fill="#29c" d="M256 927l9-2 7 3-9 3zm-8 2l8-2 7 4-9 2zm-9 2l9-2 6 4-8 2zm-9 2l9-2 7 4-9 2zm-9 3l9-3 7 4-9 2z"/>
<path fill="#2ad" d="M213 938l8-2 7 3-8 3zm311-87l9-3 7 4-9 4zm-8 3l8-3 7 5-9 2zm-9 3l9-3 6 4-8 3zm-9 2l9-2 7 4-9 3zm-8 3l8-3 7 5-9 3zm-9 4l9-4 6 5-8 3z"/>
<path fill="#2ae" d="M472 869l9-3 7 4-9 4z"/>
<path fill="#2ad" d="M463 872l9-3 7 5-9 3zm-8 4l8-4 7 5-8 3zm-9 3l9-3 7 4-9 3zm-9 4l9-4 7 4-9 4z"/>
<path fill="#29c" d="M429 886l8-3 7 4-9 2z"/>
<path fill="#28b" d="M420 889l9-3 6 3-8 2z"/>
<path fill="#28a" d="M411 890l9-1 7 2-9 1z"/>
<path fill="#279" d="M402 891l9-1 7 2-9 1z"/>
<path fill="#179" d="M394 892l8-1 7 2-8 1z"/>
<path fill="#279" d="M385 893l9-1 7 2-9 1z"/>
<path fill="#27a" d="M376 894l9-1 7 2-9 1zm-8 2l8-2 7 2-9 2z"/>
<path fill="#28a" d="M359 897l9-1 6 2-8 2z"/>
<path fill="#28b" d="M350 899l9-2 7 3-9 2z"/>
<path fill="#29c" d="M341 902l9-3 7 3-9 3z"/>
<path fill="#2ad" d="M333 905l8-3 7 3-8 4zm-9 4l9-4 7 4-9 4z"/>
<path fill="#2ae" d="M315 913l9-4 7 4-9 4z"/>
<path fill="#2ad" d="M307 917l8-4 7 4-9 4zm-9 3l9-3 6 4-8 3zm-9 3l9-3 7 4-9 3z"/>
<path fill="#29d" d="M281 926l8-3 7 4-9 3z"/>
<path fill="#29c" d="M272 928l9-2 6 4-8 2zm-9 3l9-3 7 4-9 2zm-9 2l9-2 7 3-9 2zm-8 2l8-2 7 3-9 3zm-9 2l9-2 6 4-8 2zm-9 2l9-2 7 4-9 3z"/>
<path fill="#2ad" d="M220 942l8-3 7 5-9 3zm311-86l9-4 7 5-9 3zm-9 2l9-2 7 4-9 3zm-8 3l8-3 7 5-8 2zm-9 3l9-3 7 4-9 4zm-9 3l9-3 7 5-9 3z"/>
<path fill="#2ae" d="M488 870l8-3 7 5-9 3z"/>
<path fill="#2ad" d="M479 874l9-4 6 5-8 3zm-9 3l9-3 7 4-9 3zm-8 3l8-3 7 4-9 3zm-9 3l9-3 6 4-8 3z"/>
<path fill="#29c" d="M444 887l9-4 7 4-9 3z"/>
<path fill="#29b" d="M435 889l9-2 7 3-9 2z"/>
<path fill="#28a" d="M427 891l8-2 7 3-9 1z"/>
<path fill="#279" d="M418 892l9-1 6 2-8 1zm-9 1l9-1 7 2-9 1zm-8 1l8-1 7 2-9 1zm-9 1l9-1 6 2-8 1z"/>
<path fill="#27a" d="M383 896l9-1 7 2-9 1z"/>
<path fill="#28a" d="M374 898l9-2 7 2-9 2z"/>
<path fill="#28b" d="M366 900l8-2 7 2-9 2z"/>
<path fill="#29c" d="M357 902l9-2 6 2-8 3z"/>
<path fill="#2ad" d="M348 905l9-3 7 3-9 4zm-8 4l8-4 7 4-9 4z"/>
<path fill="#2ae" d="M331 913l9-4 6 4-8 4zm-9 4l9-4 7 4-9 4z"/>
<path fill="#2ad" d="M313 921l9-4 7 4-9 4zm-8 3l8-3 7 4-9 3z"/>
<path fill="#29d" d="M296 927l9-3 6 4-8 3z"/>
<path fill="#29c" d="M287 930l9-3 7 4-9 2zm-8 2l8-2 7 3-9 3zm-9 2l9-2 6 4-8 2zm-9 2l9-2 7 4-9 2zm-9 3l9-3 7 4-9 2zm-8 2l8-2 7 3-9 3z"/>
<path fill="#29d" d="M235 944l9-3 6 4-8 3z"/>
<path fill="#2ad" d="M226 947l9-3 7 4-9 3zm312-87l9-3 6 4-8 3zm-9 3l9-3 7 4-9 3zm-8 2l8-2 7 4-9 3zm-9 4l9-4 6 5-8 3zm-9 3l9-3 7 4-9 4zm-9 3l9-3 7 5-9 3zm-8 3l8-3 7 5-9 3zm-9 3l9-3 6 5-8 3zm-9 3l9-3 7 5-9 2z"/>
<path fill="#29c" d="M460 887l8-3 7 4-9 3z"/>
<path fill="#29b" d="M451 890l9-3 6 4-8 2z"/>
<path fill="#28a" d="M442 892l9-2 7 3-9 1z"/>
<path fill="#27a" d="M433 893l9-1 7 2-9 1z"/>
<path fill="#279" d="M425 894l8-1 7 2-9 1zm-9 1l9-1 6 2-8 1zm-9 1l9-1 7 2-9 1z"/>
<path fill="#27a" d="M399 897l8-1 7 2-9 1z"/>
<path fill="#28a" d="M390 898l9-1 6 2-8 2z"/>
<path fill="#28b" d="M381 900l9-2 7 3-9 2z"/>
<path fill="#29c" d="M372 902l9-2 7 3-9 3z"/>
<path fill="#2ad" d="M364 905l8-3 7 4-9 3zm-9 4l9-4 6 4-8 4zm-9 4l9-4 7 4-9 4zm-8 4l8-4 7 4-9 4zm-9 4l9-4 6 4-8 4zm-9 4l9-4 7 4-9 4zm-9 3l9-3 7 4-9 3z"/>
<path fill="#29c" d="M303 931l8-3 7 4-8 2zm-9 2l9-2 7 3-9 3zm-9 3l9-3 7 4-9 2zm-8 2l8-2 7 3-9 2zm-9 2l9-2 6 3-8 3zm-9 2l9-2 7 4-9 2zm-9 3l9-3 7 4-9 3z"/>
<path fill="#2ad" d="M242 948l8-3 7 4-8 3zm-9 3l9-3 7 4-9 3zm312-87l8-3 7 5-9 2zm-9 3l9-3 6 4-8 3zm-9 3l9-3 7 4-9 3zm-8 3l8-3 7 4-9 4zm-9 4l9-4 6 5-8 3zm-9 3l9-3 7 4-9 3zm-9 3l9-3 7 4-9 3z"/>
<path fill="#29c" d="M484 886l8-3 7 4-8 2zm-9 2l9-2 7 3-9 3zm-9 3l9-3 7 4-9 2z"/>
<path fill="#28b" d="M458 893l8-2 7 3-9 1z"/>
<path fill="#28a" d="M449 894l9-1 6 2-8 2z"/>
<path fill="#27a" d="M440 895l9-1 7 3-9 0zm-9 1l9-1 7 2-9 1zm-8 1l8-1 7 2-8 1z"/>
<path fill="#28a" d="M414 898l9-1 7 2-9 1zm-9 1l9-1 7 2-9 2z"/>
<path fill="#28b" d="M397 901l8-2 7 3-9 2z"/>
<path fill="#29c" d="M388 903l9-2 6 3-8 3zm-9 3l9-3 7 4-9 3z"/>
<path fill="#2ad" d="M370 909l9-3 7 4-9 3zm-8 4l8-4 7 4-8 4zm-9 4l9-4 7 4-9 4zm-9 4l9-4 7 4-9 4zm-8 4l8-4 7 4-9 4zm-9 4l9-4 6 4-8 3z"/>
<path fill="#29c" d="M318 932l9-3 7 3-9 3zm-8 2l8-2 7 3-9 3zm-9 3l9-3 6 4-8 2zm-9 2l9-2 7 3-9 2zm-9 2l9-2 7 3-9 3zm-8 3l8-3 7 4-9 2zm-9 2l9-2 6 3-8 3zm-9 3l9-3 7 4-9 2z"/>
<path fill="#2ad" d="M249 952l8-3 7 3-9 4zm-9 3l9-3 6 4-8 3z"/>
<path fill="#29c" d="M551 868l9-2 7 3-9 3zm-8 3l8-3 7 4-8 3z"/>
<path fill="#29d" d="M534 874l9-3 7 4-9 3zm-9 4l9-4 7 4-9 3z"/>
<path fill="#29c" d="M517 881l8-3 7 3-9 3zm-9 3l9-3 6 3-8 3zm-9 3l9-3 7 3-9 3zm-8 2l8-2 7 3-9 3zm-9 3l9-3 6 4-8 2z"/>
<path fill="#28b" d="M473 894l9-2 7 3-9 2z"/>
<path fill="#28a" d="M464 895l9-1 7 3-9 1zm-8 2l8-2 7 3-9 1z"/>
<path fill="#27a" d="M447 897l9 0 6 2-8 1zm-9 1l9-1 7 3-9 1zm-8 1l8-1 7 3-9 1z"/>
<path fill="#28a" d="M421 900l9-1 6 3-8 1z"/>
<path fill="#28b" d="M412 902l9-2 7 3-9 2z"/>
<path fill="#29c" d="M403 904l9-2 7 3-9 2zm-8 3l8-3 7 3-9 3z"/>
<path fill="#2ad" d="M386 910l9-3 6 3-8 4zm-9 3l9-3 7 4-9 4zm-8 4l8-4 7 5-9 4zm-9 4l9-4 6 5-8 3zm-9 4l9-4 7 4-9 4zm-9 4l9-4 7 4-9 4z"/>
<path fill="#29d" d="M334 932l8-3 7 4-9 3z"/>
<path fill="#29c" d="M325 935l9-3 6 4-8 2z"/>
<path fill="#29b" d="M316 938l9-3 7 3-9 2z"/>
<path fill="#28b" d="M308 940l8-2 7 2-9 3zm-9 2l9-2 6 3-8 2zm-9 3l9-3 7 3-9 2z"/>
<path fill="#29b" d="M281 947l9-2 7 2-9 3z"/>
<path fill="#29c" d="M273 950l8-3 7 3-8 3zm-9 2l9-2 7 3-9 3zm-9 4l9-4 7 4-9 3z"/>
<path fill="#2ad" d="M247 959l8-3 7 3-9 4z"/>
<path fill="#29c" d="M558 872l9-3 7 4-9 3zm-8 3l8-3 7 4-9 2zm-9 3l9-3 6 3-8 4zm-9 3l9-3 7 4-9 3zm-9 3l9-3 7 4-9 3zm-8 3l8-3 7 4-9 2zm-9 3l9-3 6 3-8 3z"/>
<path fill="#29b" d="M497 893l9-3 7 3-9 2z"/>
<path fill="#28b" d="M489 895l8-2 7 2-9 3zm-9 2l9-2 6 3-8 1z"/>
<path fill="#28a" d="M471 898l9-1 7 2-9 2z"/>
<path fill="#27a" d="M462 899l9-1 7 3-9 0zm-8 1l8-1 7 2-9 1zm-9 1l9-1 6 2-8 1z"/>
<path fill="#28a" d="M436 902l9-1 7 2-9 1z"/>
<path fill="#28b" d="M428 903l8-1 7 2-9 2z"/>
<path fill="#29c" d="M419 905l9-2 6 3-8 3zm-9 2l9-2 7 4-9 3z"/>
<path fill="#2ad" d="M401 910l9-3 7 5-9 3zm-8 4l8-4 7 5-8 3z"/>
<path fill="#2ae" d="M384 918l9-4 7 4-9 4zm-9 4l9-4 7 4-9 4zm-8 3l8-3 7 4-9 4z"/>
<path fill="#2ad" d="M358 929l9-4 6 5-8 4zm-9 4l9-4 7 5-9 3z"/>
<path fill="#29c" d="M340 936l9-3 7 4-9 2z"/>
<path fill="#28b" d="M332 938l8-2 7 3-8 2zm-9 2l9-2 7 3-9 2zm-9 3l9-3 7 3-9 2zm-8 2l8-2 7 2-9 2zm-9 2l9-2 6 2-8 3zm-9 3l9-3 7 3-9 2z"/>
<path fill="#29b" d="M280 953l8-3 7 2-9 3z"/>
<path fill="#29c" d="M271 956l9-3 6 2-8 4z"/>
<path fill="#2ad" d="M262 959l9-3 7 3-9 4zm-9 4l9-4 7 4-9 4z"/>
<path fill="#29c" d="M565 876l9-3 6 3-8 3zm-9 2l9-2 7 3-9 3zm-8 4l8-4 7 4-9 3zm-9 3l9-3 6 3-8 3zm-9 3l9-3 7 3-9 2zm-9 2l9-2 7 2-9 3z"/>
<path fill="#29b" d="M513 893l8-3 7 3-8 3z"/>
<path fill="#28b" d="M504 895l9-2 7 3-9 2zm-9 3l9-3 7 3-9 2z"/>
<path fill="#28a" d="M487 899l8-1 7 2-9 2z"/>
<path fill="#27a" d="M478 901l9-2 6 3-8 1zm-9 0l9 0 7 2-9 1zm-9 1l9-1 7 3-9 0zm-8 1l8-1 7 2-8 2z"/>
<path fill="#28b" d="M443 904l9-1 7 3-9 1z"/>
<path fill="#29c" d="M434 906l9-2 7 3-9 3z"/>
<path fill="#2ad" d="M426 909l8-3 7 4-9 3zm-9 3l9-3 6 4-8 3zm-9 3l9-3 7 4-9 3z"/>
<path fill="#2ae" d="M400 918l8-3 7 4-9 4zm-9 4l9-4 6 5-8 4z"/>
<path fill="#2be" d="M382 926l9-4 7 5-9 4z"/>
<path fill="#2ae" d="M373 930l9-4 7 5-9 3z"/>
<path fill="#2ad" d="M365 934l8-4 7 4-9 3z"/>
<path fill="#29c" d="M356 937l9-3 6 3-8 3z"/>
<path fill="#28b" d="M347 939l9-2 7 3-9 1z"/>
<path fill="#28a" d="M339 941l8-2 7 2-9 2zm-9 2l9-2 6 2-8 2zm-9 2l9-2 7 2-9 2zm-9 2l9-2 7 2-9 2z"/>
<path fill="#28b" d="M304 950l8-3 7 2-9 3zm-9 2l9-2 6 2-8 3z"/>
<path fill="#29c" d="M286 955l9-3 7 3-9 3zm-8 4l8-4 7 3-9 4z"/>
<path fill="#2ad" d="M269 963l9-4 6 3-8 4zm-9 4l9-4 7 3-9 4z"/>
<path fill="#29b" d="M572 879l8-3 7 3-8 3z"/>
<path fill="#29c" d="M563 882l9-3 7 3-9 2zm-9 3l9-3 7 2-9 3zm-8 3l8-3 7 2-9 3z"/>
<path fill="#29b" d="M537 890l9-2 6 2-8 3z"/>
<path fill="#28b" d="M528 893l9-3 7 3-9 3zm-8 3l8-3 7 3-9 2z"/>
<path fill="#28a" d="M511 898l9-2 6 2-8 2zm-9 2l9-2 7 2-9 2zm-9 2l9-2 7 2-9 2z"/>
<path fill="#27a" d="M485 903l8-1 7 2-9 1zm-9 1l9-1 6 2-8 1zm-9 0l9 0 7 2-9 1z"/>
<path fill="#28a" d="M459 906l8-2 7 3-9 2z"/>
<path fill="#29c" d="M450 907l9-1 6 3-8 2z"/>
<path fill="#2ad" d="M441 910l9-3 7 4-9 3zm-9 3l9-3 7 4-9 3zm-8 3l8-3 7 4-9 4z"/>
<path fill="#2ae" d="M415 919l9-3 6 5-8 3zm-9 4l9-4 7 5-9 4z"/>
<path fill="#2be" d="M398 927l8-4 7 5-9 4z"/>
<path fill="#2ae" d="M389 931l9-4 6 5-8 3z"/>
<path fill="#2ad" d="M380 934l9-3 7 4-9 3z"/>
<path fill="#29c" d="M371 937l9-3 7 4-9 3z"/>
<path fill="#28b" d="M363 940l8-3 7 4-9 1z"/>
<path fill="#28a" d="M354 941l9-1 6 2-8 1zm-9 2l9-2 7 2-9 2zm-8 2l8-2 7 2-9 2zm-9 2l9-2 6 2-8 2zm-9 2l9-2 7 2-9 2z"/>
<path fill="#28b" d="M310 952l9-3 7 2-9 3z"/>
<path fill="#29b" d="M302 955l8-3 7 2-8 3z"/>
<path fill="#29c" d="M293 958l9-3 7 2-9 4z"/>
<path fill="#2ad" d="M284 962l9-4 7 3-9 5zm-8 4l8-4 7 4-9 4zm-9 4l9-4 6 4-8 4z"/>
<path fill="#29b" d="M579 882l8-3 7 3-9 2zm-9 2l9-2 6 2-8 3zm-9 3l9-3 7 3-9 3zm-9 3l9-3 7 3-9 3z"/>
<path fill="#28b" d="M544 893l8-3 7 3-9 2zm-9 3l9-3 6 2-8 3z"/>
<path fill="#28a" d="M526 898l9-2 7 2-9 2zm-8 2l8-2 7 2-9 2zm-9 2l9-2 6 2-8 2zm-9 2l9-2 7 2-9 2z"/>
<path fill="#27a" d="M491 905l9-1 7 2-9 1zm-8 1l8-1 7 2-8 1z"/>
<path fill="#28a" d="M474 907l9-1 7 2-9 2z"/>
<path fill="#29b" d="M465 909l9-2 7 3-9 2z"/>
<path fill="#2ad" d="M457 911l8-2 7 3-9 3zm-9 3l9-3 6 4-8 4zm-9 3l9-3 7 5-9 3z"/>
<path fill="#2ae" d="M430 921l9-4 7 5-9 4zm-8 3l8-3 7 5-8 3z"/>
<path fill="#2be" d="M413 928l9-4 7 5-9 4z"/>
<path fill="#2ae" d="M404 932l9-4 7 5-9 3z"/>
<path fill="#2ad" d="M396 935l8-3 7 4-9 3z"/>
<path fill="#29c" d="M387 938l9-3 6 4-8 3z"/>
<path fill="#28b" d="M378 941l9-3 7 4-9 1z"/>
<path fill="#28a" d="M369 942l9-1 7 2-9 1z"/>
<path fill="#27a" d="M361 943l8-1 7 2-8 1zm-9 2l9-2 7 2-9 2z"/>
<path fill="#28a" d="M343 947l9-2 7 2-9 2zm-8 2l8-2 7 2-9 2z"/>
<path fill="#28b" d="M326 951l9-2 6 2-8 3zm-9 3l9-3 7 3-9 3z"/>
<path fill="#29c" d="M309 957l8-3 7 3-9 3z"/>
<path fill="#29d" d="M300 961l9-4 6 3-8 4z"/>
<path fill="#2ad" d="M291 966l9-5 7 3-9 5zm-9 4l9-4 7 3-9 4zm-8 4l8-4 7 3-9 4z"/>
<path fill="#28b" d="M585 884l9-2 7 2-9 3z"/>
<path fill="#29b" d="M577 887l8-3 7 3-9 3z"/>
<path fill="#28b" d="M568 890l9-3 6 3-8 2zm-9 3l9-3 7 2-9 3zm-9 2l9-2 7 2-9 2z"/>
<path fill="#28a" d="M542 898l8-3 7 2-8 3zm-9 2l9-2 7 2-9 2zm-9 2l9-2 7 2-9 2zm-8 2l8-2 7 2-9 2zm-9 2l9-2 6 2-8 2z"/>
<path fill="#27a" d="M498 907l9-1 7 2-9 1z"/>
<path fill="#28a" d="M490 908l8-1 7 2-9 2z"/>
<path fill="#29b" d="M481 910l9-2 6 3-8 2z"/>
<path fill="#29d" d="M472 912l9-2 7 3-9 4z"/>
<path fill="#2ad" d="M463 915l9-3 7 5-9 3z"/>
<path fill="#2ae" d="M455 919l8-4 7 5-9 4zm-9 3l9-3 6 5-8 3zm-9 4l9-4 7 5-9 3zm-8 3l8-3 7 4-9 4zm-9 4l9-4 6 5-8 3z"/>
<path fill="#2ad" d="M411 936l9-3 7 4-9 4z"/>
<path fill="#29c" d="M402 939l9-3 7 5-9 2z"/>
<path fill="#28b" d="M394 942l8-3 7 4-9 1z"/>
<path fill="#28a" d="M385 943l9-1 6 2-8 1z"/>
<path fill="#27a" d="M376 944l9-1 7 2-9 1zm-8 1l8-1 7 2-9 1zm-9 2l9-2 6 2-8 2z"/>
<path fill="#28a" d="M350 949l9-2 7 2-9 2zm-9 2l9-2 7 2-9 2z"/>
<path fill="#28b" d="M333 954l8-3 7 2-9 3z"/>
<path fill="#29c" d="M324 957l9-3 6 2-8 3zm-9 3l9-3 7 2-9 4z"/>
<path fill="#2ad" d="M307 964l8-4 7 3-9 5zm-9 5l9-5 6 4-8 4zm-9 4l9-4 7 3-9 4zm-9 4l9-4 7 3-9 4z"/>
<path fill="#28b" d="M592 887l9-3 7 3-9 2zm-9 3l9-3 7 2-9 3zm-8 2l8-2 7 2-9 2zm-9 3l9-3 6 2-8 3z"/>
<path fill="#28a" d="M557 897l9-2 7 2-9 2zm-8 3l8-3 7 2-9 2zm-9 2l9-2 6 1-8 3zm-9 2l9-2 7 2-9 2zm-9 2l9-2 7 2-9 2zm-8 2l8-2 7 2-9 2zm-9 1l9-1 6 2-8 2z"/>
<path fill="#29b" d="M496 911l9-2 7 3-9 2z"/>
<path fill="#29d" d="M488 913l8-2 7 3-9 4z"/>
<path fill="#2ad" d="M479 917l9-4 6 5-8 3z"/>
<path fill="#2ae" d="M470 920l9-3 7 4-9 4zm-9 4l9-4 7 5-9 3zm-8 3l8-3 7 4-9 4zm-9 3l9-3 6 5-8 3zm-9 4l9-4 7 5-9 4z"/>
<path fill="#2ad" d="M427 937l8-3 7 5-9 3z"/>
<path fill="#29c" d="M418 941l9-4 6 5-8 2z"/>
<path fill="#28b" d="M409 943l9-2 7 3-9 1z"/>
<path fill="#28a" d="M400 944l9-1 7 2-9 1z"/>
<path fill="#27a" d="M392 945l8-1 7 2-9 1zm-9 1l9-1 6 2-8 1zm-9 1l9-1 7 2-9 1z"/>
<path fill="#28a" d="M366 949l8-2 7 2-9 2zm-9 2l9-2 6 2-8 2z"/>
<path fill="#28b" d="M348 953l9-2 7 2-9 3z"/>
<path fill="#29b" d="M339 956l9-3 7 3-9 3z"/>
<path fill="#29c" d="M331 959l8-3 7 3-8 3zm-9 4l9-4 7 3-9 4z"/>
<path fill="#2ad" d="M313 968l9-5 7 3-9 5zm-8 4l8-4 7 3-9 4zm-9 4l9-4 6 3-8 5zm-9 4l9-4 7 4-9 4z"/>
<path fill="#28b" d="M599 889l9-2 6 2-8 2zm-9 3l9-3 7 2-9 3z"/>
<path fill="#28a" d="M581 894l9-2 7 2-9 2zm-8 3l8-3 7 2-9 3zm-9 2l9-2 6 2-8 2zm-9 2l9-2 7 2-9 2zm-8 3l8-3 7 2-9 3zm-9 2l9-2 6 2-8 2z"/>
<path fill="#28b" d="M529 908l9-2 7 2-9 2zm-9 2l9-2 7 2-9 2z"/>
<path fill="#29b" d="M512 912l8-2 7 2-8 3z"/>
<path fill="#29c" d="M503 914l9-2 7 3-9 3z"/>
<path fill="#2ad" d="M494 918l9-4 7 4-9 4zm-8 3l8-3 7 4-9 4z"/>
<path fill="#2ae" d="M477 925l9-4 6 5-8 3zm-9 3l9-3 7 4-9 4zm-9 4l9-4 7 5-9 4z"/>
<path fill="#2ad" d="M451 935l8-3 7 5-8 3zm-9 4l9-4 7 5-9 3z"/>
<path fill="#29c" d="M433 942l9-3 7 4-9 2z"/>
<path fill="#28b" d="M425 944l8-2 7 3-9 2z"/>
<path fill="#28a" d="M416 945l9-1 6 3-8 1z"/>
<path fill="#27a" d="M407 946l9-1 7 3-9 1zm-9 1l9-1 7 3-9 0zm-8 1l8-1 7 2-8 1zm-9 1l9-1 7 2-9 2z"/>
<path fill="#28a" d="M372 951l9-2 7 3-9 1z"/>
<path fill="#28b" d="M364 953l8-2 7 2-9 2z"/>
<path fill="#29b" d="M355 956l9-3 6 2-8 3z"/>
<path fill="#29c" d="M346 959l9-3 7 2-9 4zm-8 3l8-3 7 3-9 4z"/>
<path fill="#29d" d="M329 966l9-4 6 4-8 4z"/>
<path fill="#2ad" d="M320 971l9-5 7 4-9 4zm-9 4l9-4 7 3-9 4zm-8 5l8-5 7 3-9 5z"/>
<path fill="#29d" d="M294 984l9-4 6 3-8 4z"/>
<path fill="#28b" d="M606 891l8-2 7 2-9 3zm-9 3l9-3 6 3-8 2zm-9 2l9-2 7 2-9 2zm-9 3l9-3 7 2-9 3zm-8 2l8-2 7 2-8 2zm-9 2l9-2 7 2-9 2zm-9 3l9-3 7 2-9 3zm-8 2l8-2 7 2-9 2zm-9 2l9-2 6 2-8 3z"/>
<path fill="#29b" d="M527 912l9-2 7 3-9 2z"/>
<path fill="#29c" d="M519 915l8-3 7 3-9 4z"/>
<path fill="#2ad" d="M510 918l9-3 6 4-8 3zm-9 4l9-4 7 4-9 4zm-9 4l9-4 7 4-9 4zm-8 3l8-3 7 4-9 4zm-9 4l9-4 6 5-8 3zm-9 4l9-4 7 4-9 4zm-8 3l8-3 7 4-9 3z"/>
<path fill="#29c" d="M449 943l9-3 6 4-8 2z"/>
<path fill="#29b" d="M440 945l9-2 7 3-9 2z"/>
<path fill="#28b" d="M431 947l9-2 7 3-9 1z"/>
<path fill="#28a" d="M423 948l8-1 7 2-9 1z"/>
<path fill="#27a" d="M414 949l9-1 6 2-8 1zm-9 0l9 0 7 2-9 1zm-8 1l8-1 7 3-9 1z"/>
<path fill="#28a" d="M388 952l9-2 6 3-8 1z"/>
<path fill="#28b" d="M379 953l9-1 7 2-9 2zm-9 2l9-2 7 3-9 2z"/>
<path fill="#29c" d="M362 958l8-3 7 3-9 3zm-9 4l9-4 6 3-8 4z"/>
<path fill="#29d" d="M344 966l9-4 7 3-9 4z"/>
<path fill="#2ad" d="M336 970l8-4 7 3-9 4zm-9 4l9-4 6 3-8 4zm-9 4l9-4 7 3-9 4zm-9 5l9-5 7 3-9 5z"/>
<path fill="#29c" d="M301 987l8-4 7 3-8 4z"/>
<path fill="#28b" d="M612 894l9-3 7 2-9 3zm-8 2l8-2 7 2-9 2zm-9 2l9-2 6 2-8 3zm-9 3l9-3 7 3-9 2zm-8 2l8-2 7 2-9 2zm-9 2l9-2 6 2-8 3zm-9 3l9-3 7 3-9 2zm-9 2l9-2 7 2-9 3z"/>
<path fill="#29b" d="M543 913l8-3 7 3-9 2z"/>
<path fill="#29c" d="M534 915l9-2 6 2-8 4zm-9 4l9-4 7 4-9 3z"/>
<path fill="#2ad" d="M517 922l8-3 7 3-9 4zm-9 4l9-4 6 4-8 4zm-9 4l9-4 7 4-9 4zm-9 4l9-4 7 4-9 4zm-8 3l8-3 7 4-9 4zm-9 4l9-4 6 5-8 3zm-9 3l9-3 7 4-9 3z"/>
<path fill="#29c" d="M456 946l8-2 7 4-9 2z"/>
<path fill="#28b" d="M447 948l9-2 6 4-8 1z"/>
<path fill="#28a" d="M438 949l9-1 7 3-9 1zm-9 1l9-1 7 3-9 1z"/>
<path fill="#27a" d="M421 951l8-1 7 3-8 1zm-9 1l9-1 7 3-9 0z"/>
<path fill="#28a" d="M403 953l9-1 7 2-9 1zm-8 1l8-1 7 2-9 2z"/>
<path fill="#28b" d="M386 956l9-2 6 3-8 2z"/>
<path fill="#29c" d="M377 958l9-2 7 3-9 3zm-9 3l9-3 7 4-9 3z"/>
<path fill="#2ad" d="M360 965l8-4 7 4-8 3zm-9 4l9-4 7 3-9 4zm-9 4l9-4 7 3-9 4zm-8 4l8-4 7 3-9 5zm-9 4l9-4 6 4-8 4zm-9 5l9-5 7 4-9 4z"/>
<path fill="#29c" d="M308 990l8-4 7 3-9 3z"/>
<path fill="#28b" d="M619 896l9-3 7 3-9 2zm-9 2l9-2 7 2-9 3zm-8 3l8-3 7 3-9 2zm-9 2l9-2 6 2-8 2zm-9 2l9-2 7 2-9 3zm-8 3l8-3 7 3-9 2zm-9 2l9-2 6 2-8 3z"/>
<path fill="#29b" d="M558 913l9-3 7 3-9 3z"/>
<path fill="#29c" d="M549 915l9-2 7 3-9 3zm-8 4l8-4 7 4-8 3z"/>
<path fill="#2ad" d="M532 922l9-3 7 3-9 4zm-9 4l9-4 7 4-9 4zm-8 4l8-4 7 4-9 4zm-9 4l9-4 6 4-8 4zm-9 4l9-4 7 4-9 4zm-9 4l9-4 7 4-9 3zm-8 3l8-3 7 3-8 4z"/>
<path fill="#29c" d="M471 948l9-3 7 4-9 2z"/>
<path fill="#29b" d="M462 950l9-2 7 3-9 2z"/>
<path fill="#28b" d="M454 951l8-1 7 3-9 1z"/>
<path fill="#28a" d="M445 952l9-1 6 3-8 1z"/>
<path fill="#27a" d="M436 953l9-1 7 3-9 1zm-8 1l8-1 7 3-9 0zm-9 0l9 0 6 2-8 1z"/>
<path fill="#28a" d="M410 955l9-1 7 3-9 1z"/>
<path fill="#28b" d="M401 957l9-2 7 3-9 2z"/>
<path fill="#29c" d="M393 959l8-2 7 3-9 2zm-9 3l9-3 6 3-8 3z"/>
<path fill="#2ad" d="M375 965l9-3 7 3-9 4zm-8 3l8-3 7 4-9 3zm-9 4l9-4 6 4-8 4zm-9 4l9-4 7 4-9 4zm-9 5l9-5 7 4-9 4zm-8 4l8-4 7 3-9 4z"/>
<path fill="#29d" d="M323 989l9-4 6 3-8 4z"/>
<path fill="#29c" d="M314 992l9-3 7 3-9 3z"/>
<path fill="#28b" d="M626 898l9-2 6 2-8 2zm-9 3l9-3 7 2-9 3zm-9 2l9-2 7 2-9 2zm-8 2l8-2 7 2-8 3zm-9 3l9-3 7 3-9 2zm-9 2l9-2 7 2-9 3z"/>
<path fill="#29b" d="M574 913l8-3 7 3-9 3z"/>
<path fill="#29c" d="M565 916l9-3 6 3-8 3zm-9 3l9-3 7 3-9 3zm-8 3l8-3 7 3-9 3z"/>
<path fill="#2ad" d="M539 926l9-4 6 3-8 4zm-9 4l9-4 7 3-9 5zm-9 4l9-4 7 4-9 4zm-8 4l8-4 7 4-9 4zm-9 4l9-4 6 4-8 4zm-9 3l9-3 7 4-9 3z"/>
<path fill="#29c" d="M487 949l8-4 7 4-9 3zm-9 2l9-2 6 3-8 2z"/>
<path fill="#28b" d="M469 953l9-2 7 3-9 2z"/>
<path fill="#28a" d="M460 954l9-1 7 3-9 1z"/>
<path fill="#27a" d="M452 955l8-1 7 3-9 1zm-9 1l9-1 6 3-8 0zm-9 0l9 0 7 2-9 1z"/>
<path fill="#28a" d="M426 957l8-1 7 3-9 1z"/>
<path fill="#28b" d="M417 958l9-1 6 3-8 1z"/>
<path fill="#29c" d="M408 960l9-2 7 3-9 3zm-9 2l9-2 7 4-9 2zm-8 3l8-3 7 4-9 3z"/>
<path fill="#2ad" d="M382 969l9-4 6 4-8 3zm-9 3l9-3 7 3-9 4zm-8 4l8-4 7 4-9 4zm-9 4l9-4 6 4-8 4zm-9 4l9-4 7 4-9 4zm-9 4l9-4 7 4-9 4z"/>
<path fill="#29c" d="M330 992l8-4 7 4-8 3zm-9 3l9-3 7 3-9 3z"/>
<path fill="#28b" d="M633 900l8-2 7 2-9 3zm-9 3l9-3 6 3-8 2zm-9 2l9-2 7 2-9 3zm-8 3l8-3 7 3-9 2zm-9 2l9-2 6 2-8 3z"/>
<path fill="#29b" d="M589 913l9-3 7 3-9 3z"/>
<path fill="#29c" d="M580 916l9-3 7 3-9 3zm-8 3l8-3 7 3-9 3zm-9 3l9-3 6 3-8 4z"/>
<path fill="#2ad" d="M554 925l9-3 7 4-9 3zm-8 4l8-4 7 4-9 4zm-9 5l9-5 6 4-8 5zm-9 4l9-4 7 4-9 4zm-9 4l9-4 7 4-9 4zm-8 4l8-4 7 4-8 3z"/>
<path fill="#29c" d="M502 949l9-3 7 3-9 3zm-9 3l9-3 7 3-9 3z"/>
<path fill="#29b" d="M485 954l8-2 7 3-9 2z"/>
<path fill="#28b" d="M476 956l9-2 6 3-8 2z"/>
<path fill="#28a" d="M467 957l9-1 7 3-9 1z"/>
<path fill="#27a" d="M458 958l9-1 7 3-9 0zm-8 0l8 0 7 2-8 1z"/>
<path fill="#28a" d="M441 959l9-1 7 3-9 1z"/>
<path fill="#28b" d="M432 960l9-1 7 3-9 1z"/>
<path fill="#29b" d="M424 961l8-1 7 3-9 2z"/>
<path fill="#29c" d="M415 964l9-3 6 4-8 2zm-9 2l9-2 7 3-9 3z"/>
<path fill="#2ad" d="M397 969l9-3 7 4-9 3zm-8 3l8-3 7 4-8 4zm-9 4l9-4 7 5-9 4zm-9 4l9-4 7 5-9 3zm-8 4l8-4 7 4-9 4zm-9 4l9-4 6 4-8 3z"/>
<path fill="#29c" d="M345 992l9-4 7 3-9 4zm-8 3l8-3 7 3-9 3zm-9 3l9-3 6 3-8 3z"/>
<path fill="#28b" d="M639 903l9-3 7 2-9 3zm-8 2l8-2 7 2-8 3zm-9 3l9-3 7 3-9 2zm-9 2l9-2 7 2-9 3z"/>
<path fill="#29b" d="M605 913l8-3 7 3-9 3z"/>
<path fill="#29c" d="M596 916l9-3 6 3-8 3zm-9 3l9-3 7 3-9 3z"/>
<path fill="#29d" d="M578 922l9-3 7 3-9 4z"/>
<path fill="#2ad" d="M570 926l8-4 7 4-8 3zm-9 3l9-3 7 3-9 4zm-9 4l9-4 7 4-9 4z"/>
<path fill="#2ae" d="M544 938l8-5 7 4-9 5z"/>
<path fill="#2ad" d="M535 942l9-4 6 4-8 4zm-9 4l9-4 7 4-9 3z"/>
<path fill="#29c" d="M518 949l8-3 7 3-9 3zm-9 3l9-3 6 3-8 3z"/>
<path fill="#29b" d="M500 955l9-3 7 3-9 3z"/>
<path fill="#28b" d="M491 957l9-2 7 3-9 2z"/>
<path fill="#28a" d="M483 959l8-2 7 3-9 1z"/>
<path fill="#27a" d="M474 960l9-1 6 2-8 1z"/>
<path fill="#279" d="M465 960l9 0 7 2-9 0z"/>
<path fill="#27a" d="M457 961l8-1 7 2-9 1z"/>
<path fill="#28b" d="M448 962l9-1 6 2-8 2z"/>
<path fill="#29b" d="M439 963l9-1 7 3-9 2z"/>
<path fill="#29c" d="M430 965l9-2 7 4-9 2zm-8 2l8-2 7 4-9 3z"/>
<path fill="#2ad" d="M413 970l9-3 6 5-8 2zm-9 3l9-3 7 4-9 3zm-8 4l8-4 7 4-9 4zm-9 4l9-4 6 4-8 4zm-9 3l9-3 7 4-9 3zm-9 4l9-4 7 4-9 4z"/>
<path fill="#29c" d="M361 991l8-3 7 4-9 3zm-9 4l9-4 6 4-8 3zm-9 3l9-3 7 3-9 3zm-8 3l8-3 7 3-9 2z"/>
<path fill="#28b" d="M646 905l9-3 7 2-9 3zm-8 3l8-3 7 2-9 3zm-9 2l9-2 6 2-8 3z"/>
<path fill="#29b" d="M620 913l9-3 7 3-9 3z"/>
<path fill="#29c" d="M611 916l9-3 7 3-9 3zm-8 3l8-3 7 3-9 4z"/>
<path fill="#2ad" d="M594 922l9-3 6 4-8 3zm-9 4l9-4 7 4-9 4zm-8 3l8-3 7 4-9 3zm-9 4l9-4 6 4-8 4z"/>
<path fill="#2ae" d="M559 937l9-4 7 4-9 4z"/>
<path fill="#2ad" d="M550 942l9-5 7 4-9 5zm-8 4l8-4 7 4-9 3z"/>
<path fill="#29c" d="M533 949l9-3 6 3-8 3zm-9 3l9-3 7 3-9 3z"/>
<path fill="#29b" d="M516 955l8-3 7 3-9 3z"/>
<path fill="#28b" d="M507 958l9-3 6 3-8 2zm-9 2l9-2 7 2-9 2z"/>
<path fill="#28a" d="M489 961l9-1 7 2-9 1z"/>
<path fill="#27a" d="M481 962l8-1 7 2-9 1zm-9 0l9 0 6 2-8 1z"/>
<path fill="#28b" d="M463 963l9-1 7 3-9 2z"/>
<path fill="#29b" d="M455 965l8-2 7 4-9 2z"/>
<path fill="#29c" d="M446 967l9-2 6 4-8 2zm-9 2l9-2 7 4-9 2z"/>
<path fill="#2ad" d="M428 972l9-3 7 4-9 3zm-8 2l8-2 7 4-9 3zm-9 3l9-3 6 5-8 3zm-9 4l9-4 7 5-9 4zm-8 4l8-4 7 5-9 3zm-9 3l9-3 6 4-8 3z"/>
<path fill="#29d" d="M376 992l9-4 7 4-9 3z"/>
<path fill="#29c" d="M367 995l9-3 7 3-9 3zm-8 3l8-3 7 3-8 3zm-9 3l9-3 7 3-9 2z"/>
<path fill="#29b" d="M341 1003l9-2 7 2-9 3z"/>
<path fill="#28b" d="M653 907l9-3 6 3-8 3zm-9 3l9-3 7 3-9 2z"/>
<path fill="#29b" d="M636 913l8-3 7 2-9 4z"/>
<path fill="#29c" d="M627 916l9-3 6 3-8 3zm-9 3l9-3 7 3-9 3z"/>
<path fill="#2ad" d="M609 923l9-4 7 3-9 4zm-8 3l8-3 7 3-9 4zm-9 4l9-4 6 4-8 4zm-9 3l9-3 7 4-9 3zm-8 4l8-4 7 4-9 4zm-9 4l9-4 6 4-8 4zm-9 5l9-5 7 4-9 4z"/>
<path fill="#29c" d="M548 949l9-3 7 3-9 3zm-8 3l8-3 7 3-8 3z"/>
<path fill="#29b" d="M531 955l9-3 7 3-9 3z"/>
<path fill="#28b" d="M522 958l9-3 7 3-9 2zm-8 2l8-2 7 2-9 3z"/>
<path fill="#28a" d="M505 962l9-2 6 3-8 1z"/>
<path fill="#27a" d="M496 963l9-1 7 2-9 2zm-9 1l9-1 7 3-9 1z"/>
<path fill="#28a" d="M479 965l8-1 7 3-8 1z"/>
<path fill="#29b" d="M470 967l9-2 7 3-9 2z"/>
<path fill="#29c" d="M461 969l9-2 7 3-9 3zm-8 2l8-2 7 4-9 2z"/>
<path fill="#2ad" d="M444 973l9-2 6 4-8 3zm-9 3l9-3 7 5-9 2zm-9 3l9-3 7 4-9 3zm-8 3l8-3 7 4-8 4zm-9 4l9-4 7 5-9 3zm-9 3l9-3 7 4-9 3zm-8 3l8-3 7 4-9 3z"/>
<path fill="#29c" d="M383 995l9-3 6 4-8 3zm-9 3l9-3 7 4-9 2zm-8 3l8-3 7 3-9 3z"/>
<path fill="#29b" d="M357 1003l9-2 6 3-8 2z"/>
<path fill="#28b" d="M348 1006l9-3 7 3-9 3zm312-96l8-3 7 2-8 3z"/>
<path fill="#29b" d="M651 912l9-2 7 2-9 3z"/>
<path fill="#29c" d="M642 916l9-4 7 3-9 4zm-8 3l8-3 7 3-9 3z"/>
<path fill="#2ad" d="M625 922l9-3 6 3-8 4zm-9 4l9-4 7 4-9 4zm-9 4l9-4 7 4-9 4zm-8 4l8-4 7 4-8 4zm-9 3l9-3 7 4-9 3zm-9 4l9-4 7 4-9 4zm-8 4l8-4 7 4-9 4z"/>
<path fill="#29d" d="M564 949l9-4 6 4-8 3z"/>
<path fill="#29c" d="M555 952l9-3 7 3-9 3zm-8 3l8-3 7 3-9 3z"/>
<path fill="#29b" d="M538 958l9-3 6 3-8 3z"/>
<path fill="#28b" d="M529 960l9-2 7 3-9 2zm-9 3l9-3 7 3-9 2z"/>
<path fill="#28a" d="M512 964l8-1 7 2-9 2zm-9 2l9-2 6 3-8 1zm-9 1l9-1 7 2-9 2z"/>
<path fill="#28b" d="M486 968l8-1 7 3-9 2z"/>
<path fill="#29c" d="M477 970l9-2 6 4-8 2zm-9 3l9-3 7 4-9 3zm-9 2l9-2 7 4-9 2z"/>
<path fill="#2ad" d="M451 978l8-3 7 4-9 3zm-9 2l9-2 6 4-8 3zm-9 3l9-3 7 5-9 3zm-8 4l8-4 7 5-9 3zm-9 3l9-3 6 4-8 3zm-9 3l9-3 7 4-9 3z"/>
<path fill="#29c" d="M398 996l9-3 7 4-9 3zm-8 3l8-3 7 4-9 2zm-9 2l9-2 6 3-8 3z"/>
<path fill="#29b" d="M372 1004l9-3 7 4-9 2z"/>
<path fill="#28b" d="M364 1006l8-2 7 3-9 2zm-9 3l9-3 6 3-8 2z"/>
<path fill="#29b" d="M667 912l8-3 7 2-9 3z"/>
<path fill="#29c" d="M658 915l9-3 6 2-8 4zm-9 4l9-4 7 3-9 4zm-9 3l9-3 7 3-9 4z"/>
<path fill="#2ad" d="M632 926l8-4 7 4-9 4zm-9 4l9-4 6 4-8 4zm-9 4l9-4 7 4-9 4zm-8 4l8-4 7 4-9 4zm-9 3l9-3 6 4-8 4zm-9 4l9-4 7 5-9 3zm-9 4l9-4 7 4-9 4z"/>
<path fill="#29c" d="M571 952l8-3 7 4-9 3zm-9 3l9-3 6 4-8 2zm-9 3l9-3 7 3-9 3z"/>
<path fill="#28b" d="M545 961l8-3 7 3-9 2zm-9 2l9-2 6 2-8 2zm-9 2l9-2 7 2-9 2z"/>
<path fill="#28a" d="M518 967l9-2 7 2-9 2zm-8 1l8-1 7 2-9 2z"/>
<path fill="#28b" d="M501 970l9-2 6 3-8 2z"/>
<path fill="#29b" d="M492 972l9-2 7 3-9 2z"/>
<path fill="#29c" d="M484 974l8-2 7 3-9 3zm-9 3l9-3 6 4-8 2z"/>
<path fill="#2ad" d="M466 979l9-2 7 3-9 3zm-9 3l9-3 7 4-9 3zm-8 3l8-3 7 4-8 3zm-9 3l9-3 7 4-9 4zm-9 3l9-3 7 5-9 3zm-8 3l8-3 7 5-9 2z"/>
<path fill="#29c" d="M414 997l9-3 6 4-8 3zm-9 3l9-3 7 4-9 2zm-9 2l9-2 7 3-9 3zm-8 3l8-3 7 4-8 2z"/>
<path fill="#29b" d="M379 1007l9-2 7 3-9 2z"/>
<path fill="#28b" d="M370 1009l9-2 7 3-9 2zm-8 2l8-2 7 3-9 2z"/>
</g>
<g transform="scale(.5)" stroke="#000" stroke-opacity="0.65" stroke-width="0.9" stroke-linejoin="round">
<path fill="#ca1" d="M432 640l6 3 6 2-7-3z"/>
<path fill="#c91" d="M425 637l7 3 5 2-7-2z"/>
<path fill="#d91" d="M418 635l7 2 5 3-7-2zm-7-2l7 2 5 3-7-2z"/>
<path fill="#d81" d="M404 630l7 3 5 3-6-2z"/>
<path fill="#d82" d="M397 629l7 1 6 4-7-2zm-6-2l6 2 6 3-7-1zm-7-1l7 1 5 4-7 0zm-7-1l7 1 5 5-7-1z"/>
<path fill="#d72" d="M370 625l7 0 5 5-6 0zm-7 0l7 0 6 5-7 1zm-6 1l6-1 6 6-7 1zm-7 1l7-1 5 6-7 1zm-7 2l7-2 5 6-7 1z"/>
<path fill="#e72" d="M336 630l7-1 5 5-7 2zm-7 2l7-2 5 6-6 2zm-6 3l6-3 6 6-7 2zm-7 3l7-3 5 5-7 3z"/>
<path fill="#e82" d="M309 640l7-2 5 5-7 2zm-7 4l7-4 5 5-7 3zm-7 3l7-3 5 4-6 3zm-7 3l7-3 6 4-7 3zm-6 4l6-4 6 4-7 4zm-7 4l7-4 5 4-7 4zm-7 5l7-5 5 4-7 5z"/>
<path fill="#e92" d="M261 669l7-6 5 4-7 6zm-7 7l7-7 5 4-6 6z"/>
<path fill="#ea2" d="M248 682l6-6 6 3-7 7zm-7 7l7-7 5 4-7 6z"/>
<path fill="#eb1" d="M234 695l7-6 5 3-7 6zm-7 6l7-6 5 3-7 6zm-7 6l7-6 5 3-6 5zm-7 5l7-5 6 2-7 4z"/>
<path fill="#db1" d="M207 716l6-4 6 1-7 3zm-7 2l7-2 5 0-7 2zm-7 1l7-1 5 0-7 1z"/>
<path fill="#cb1" d="M186 719l7 0 5 0-7 0z"/>
<path fill="#da1" d="M179 718l7 1 5 0-6 0zm-6-1l6 1 6 1-7-2zm-7-2l7 2 5 0-7-2z"/>
<path fill="#d91" d="M159 712l7 3 5 0-7-1z"/>
<path fill="#c91" d="M152 710l7 2 5 2-7-2z"/>
<path fill="#d91" d="M145 708l7 2 5 2-6-2zm-7-2l7 2 6 2-7-1z"/>
<path fill="#d82" d="M132 704l6 2 6 3-7 0z"/>
<path fill="#d92" d="M125 704l7 0 5 5-7 1z"/>
<path fill="#da1" d="M437 642l7 3 5 2-7-2z"/>
<path fill="#d91" d="M430 640l7 2 5 3-7-2zm-7-2l7 2 5 3-6-2zm-7-2l7 2 6 3-7-2z"/>
<path fill="#d81" d="M410 634l6 2 6 3-7-2z"/>
<path fill="#d82" d="M403 632l7 2 5 3-7-1zm-7-1l7 1 5 4-7 0zm-7 0l7 0 5 5-7-1zm-7-1l7 1 5 4-6 0zm-6 0l6 0 6 5-7 1z"/>
<path fill="#e82" d="M369 631l7-1 5 6-7 1zm-7 1l7-1 5 6-7 1zm-7 1l7-1 5 6-7 1zm-7 1l7-1 5 6-6 1zm-7 2l7-2 6 6-7 2zm-6 2l6-2 6 6-7 2zm-7 2l7-2 5 6-7 2zm-7 3l7-3 5 6-7 2zm-7 2l7-2 5 5-7 3zm-7 3l7-3 5 6-6 2zm-6 3l6-3 6 5-7 3zm-7 3l7-3 5 5-7 2zm-7 4l7-4 5 4-7 3zm-7 4l7-4 5 3-7 4z"/>
<path fill="#e92" d="M273 667l7-5 5 3-6 6zm-7 6l7-6 6 4-7 5zm-6 6l6-6 6 3-7 7z"/>
<path fill="#ea2" d="M253 686l7-7 5 4-7 6zm-7 6l7-6 5 3-7 6z"/>
<path fill="#eb1" d="M239 698l7-6 5 3-7 5zm-7 6l7-6 5 2-6 6zm-6 5l6-5 6 2-7 4z"/>
<path fill="#db1" d="M219 713l7-4 5 1-7 3zm-7 3l7-3 5 0-7 3zm-7 2l7-2 5 0-7 2zm-7 1l7-1 5 0-6 1z"/>
<path fill="#ca1" d="M191 719l7 0 6 0-7 0z"/>
<path fill="#da1" d="M185 719l6 0 6 0-7 0zm-7-2l7 2 5 0-7-1zm-7-2l7 2 5 1-7-2z"/>
<path fill="#c91" d="M164 714l7 1 5 1-7-1zm-7-2l7 2 5 1-6-1z"/>
<path fill="#d91" d="M151 710l6 2 6 2-7-1zm-7-1l7 1 5 3-7 0z"/>
<path fill="#d92" d="M137 709l7 0 5 4-7 1z"/>
<path fill="#e92" d="M130 710l7-1 5 5-7 1z"/>
<path fill="#da1" d="M442 645l7 2 5 2-7-2z"/>
<path fill="#d91" d="M435 643l7 2 5 2-6-2zm-6-2l6 2 6 2-7-1zm-7-2l7 2 5 3-7-2zm-7-2l7 2 5 3-7-1z"/>
<path fill="#d82" d="M408 636l7 1 5 4-7-1zm-7 0l7 0 5 4-6 0zm-7-1l7 1 6 4-7 0zm-6 0l6 0 6 5-7 1z"/>
<path fill="#e82" d="M381 636l7-1 5 6-7 1zm-7 1l7-1 5 6-7 1zm-7 1l7-1 5 6-7 1zm-7 1l7-1 5 6-6 1zm-6 1l6-1 6 6-7 2zm-7 2l7-2 5 7-7 1zm-7 2l7-2 5 6-7 2zm-7 2l7-2 5 6-7 2zm-7 2l7-2 5 6-6 2zm-7 3l7-3 6 6-7 2zm-6 2l6-2 6 5-7 2zm-7 3l7-3 5 5-7 2zm-7 2l7-2 5 4-7 2zm-7 3l7-3 5 4-7 3zm-7 4l7-4 5 4-6 4z"/>
<path fill="#e92" d="M279 671l6-6 6 4-7 5zm-7 5l7-5 5 3-7 6zm-7 7l7-7 5 4-7 6z"/>
<path fill="#ea2" d="M258 689l7-6 5 3-7 6z"/>
<path fill="#ea1" d="M251 695l7-6 5 3-6 5z"/>
<path fill="#eb1" d="M244 700l7-5 6 2-7 6zm-6 6l6-6 6 3-7 4z"/>
<path fill="#db1" d="M231 710l7-4 5 1-7 3zm-7 3l7-3 5 0-7 3zm-7 3l7-3 5 0-7 3zm-7 2l7-2 5 0-6 2z"/>
<path fill="#da1" d="M204 719l6-1 6 0-7 1z"/>
<path fill="#ca1" d="M197 719l7 0 5 0-7 0zm-7 0l7 0 5 0-7 0z"/>
<path fill="#da1" d="M183 718l7 1 5 0-7-1z"/>
<path fill="#c91" d="M176 716l7 2 5 0-6-1zm-7-1l7 1 6 1-7-1z"/>
<path fill="#d91" d="M163 714l6 1 6 1-7 0zm-7-1l7 1 5 2-7 0z"/>
<path fill="#d92" d="M149 713l7 0 5 3-7 2z"/>
<path fill="#e92" d="M142 714l7-1 5 5-6 1zm-7 1l7-1 6 5-7 2z"/>
<path fill="#da1" d="M447 647l7 2 6 2-7-2z"/>
<path fill="#d91" d="M441 645l6 2 6 2-7-1zm-7-1l7 1 5 3-7-1zm-7-2l7 2 5 3-7-2zm-7-1l7 1 5 3-7 0z"/>
<path fill="#d92" d="M413 640l7 1 5 4-6-1zm-6 0l6 0 6 4-7 0z"/>
<path fill="#d82" d="M400 640l7 0 5 4-7 1z"/>
<path fill="#e82" d="M393 641l7-1 5 5-7 1zm-7 1l7-1 5 5-7 2zm-7 1l7-1 5 6-6 1zm-7 1l7-1 6 6-7 1zm-6 1l6-1 6 6-7 1zm-7 2l7-2 5 6-7 2zm-7 1l7-1 5 6-7 1zm-7 2l7-2 5 6-6 2zm-7 2l7-2 6 6-7 1zm-6 2l6-2 6 5-7 2zm-7 2l7-2 5 5-7 2zm-7 2l7-2 5 5-7 1zm-7 2l7-2 5 4-7 2z"/>
<path fill="#d82" d="M304 662l7-2 5 4-6 2z"/>
<path fill="#e82" d="M297 665l7-3 6 4-7 2zm-6 4l6-4 6 3-7 4z"/>
<path fill="#e92" d="M284 674l7-5 5 3-7 5zm-7 6l7-6 5 3-7 6z"/>
<path fill="#ea2" d="M270 686l7-6 5 3-6 6zm-7 6l7-6 6 3-7 6z"/>
<path fill="#ea1" d="M257 697l6-5 6 3-7 5zm-7 6l7-6 5 3-7 4zm-7 4l7-4 5 1-7 4z"/>
<path fill="#da1" d="M236 710l7-3 5 1-7 3zm-7 3l7-3 5 1-6 3zm-7 3l7-3 6 1-7 2zm-6 2l6-2 6 0-7 2zm-7 1l7-1 5 0-7 1z"/>
<path fill="#ca1" d="M202 719l7 0 5 0-7 0zm-7 0l7 0 5 0-6 0z"/>
<path fill="#c91" d="M188 718l7 1 6 0-7-1zm-6-1l6 1 6 0-7 0z"/>
<path fill="#d91" d="M175 716l7 1 5 1-7 0zm-7 0l7 0 5 2-7 1zm-7 0l7 0 5 3-7 1z"/>
<path fill="#ea2" d="M154 718l7-2 5 4-6 2zm-6 1l6-1 6 4-7 3zm-7 2l7-2 5 6-7 1z"/>
<path fill="#da1" d="M453 649l7 2 5 2-7-1zm-7-1l7 1 5 3-7-1z"/>
<path fill="#d91" d="M439 647l7 1 5 3-7-1zm-7-2l7 2 5 3-6-1zm-7 0l7 0 6 4-7-1z"/>
<path fill="#d92" d="M419 644l6 1 6 3-7 0zm-7 0l7 0 5 4-7 1z"/>
<path fill="#e92" d="M405 645l7-1 5 5-7 1zm-7 1l7-1 5 5-6 2zm-7 2l7-2 6 6-7 1zm-6 1l6-1 6 5-7 2zm-7 1l7-1 5 6-7 1zm-7 1l7-1 5 6-7 1zm-7 2l7-2 5 6-7 1zm-7 1l7-1 5 5-6 2zm-6 2l6-2 6 6-7 1z"/>
<path fill="#e82" d="M344 657l7-1 5 5-7 2zm-7 2l7-2 5 6-7 1zm-7 2l7-2 5 5-7 1zm-7 1l7-1 5 4-6 1z"/>
<path fill="#d82" d="M316 664l7-2 6 4-7 2zm-6 2l6-2 6 4-7 1z"/>
<path fill="#e82" d="M303 668l7-2 5 3-7 3zm-7 4l7-4 5 4-7 4z"/>
<path fill="#e92" d="M289 677l7-5 5 4-7 5zm-7 6l7-6 5 4-6 5z"/>
<path fill="#ea2" d="M276 689l6-6 6 3-7 6zm-7 6l7-6 5 3-7 5z"/>
<path fill="#ea1" d="M262 700l7-5 5 2-7 5zm-7 4l7-4 5 2-7 3z"/>
<path fill="#da1" d="M248 708l7-4 5 1-6 4zm-7 3l7-3 6 1-7 3zm-6 3l6-3 6 1-7 2zm-7 2l7-2 5 0-7 3zm-7 2l7-2 5 1-7 1zm-7 1l7-1 5 0-7 1z"/>
<path fill="#ca1" d="M207 719l7 0 5 0-6 0z"/>
<path fill="#c91" d="M201 719l6 0 6 0-7 0zm-7-1l7 1 5 0-7 0z"/>
<path fill="#d91" d="M187 718l7 0 5 1-7 0zm-7 0l7 0 5 1-7 1zm-7 1l7-1 5 2-6 2z"/>
<path fill="#ea2" d="M166 720l7-1 6 3-7 2zm-6 2l6-2 6 4-7 3zm-7 3l7-3 5 5-7 3zm-7 1l7-1 5 5-7 2z"/>
<path fill="#da1" d="M458 652l7 1 5 2-7-1zm-7-1l7 1 5 2-6-1z"/>
<path fill="#d91" d="M444 650l7 1 6 2-7-1zm-6-1l6 1 6 2-7 0zm-7-1l7 1 5 3-7 0z"/>
<path fill="#d92" d="M424 648l7 0 5 4-7 1z"/>
<path fill="#e92" d="M417 649l7-1 5 5-7 1zm-7 1l7-1 5 5-6 1zm-6 2l6-2 6 5-7 2zm-7 1l7-1 5 5-7 2zm-7 2l7-2 5 6-7 1zm-7 1l7-1 5 5-7 2zm-7 1l7-1 5 6-6 1zm-7 1l7-1 6 6-7 1zm-6 2l6-2 6 6-7 1zm-7 1l7-1 5 5-7 1zm-7 2l7-2 5 5-7 2zm-7 1l7-1 5 5-7 1z"/>
<path fill="#e82" d="M335 665l7-1 5 5-6 0z"/>
<path fill="#d82" d="M329 666l6-1 6 4-7 1zm-7 2l7-2 5 4-7 1z"/>
<path fill="#e82" d="M315 669l7-1 5 3-7 2zm-7 3l7-3 5 4-7 3z"/>
<path fill="#e92" d="M301 676l7-4 5 4-6 4zm-7 5l7-5 6 4-7 4zm-6 5l6-5 6 3-7 6z"/>
<path fill="#ea2" d="M281 692l7-6 5 4-7 5zm-7 5l7-5 5 3-7 5z"/>
<path fill="#ea1" d="M267 702l7-5 5 3-7 3z"/>
<path fill="#da1" d="M260 705l7-3 5 1-6 4zm-6 4l6-4 6 2-7 3zm-7 3l7-3 5 1-7 3zm-7 2l7-2 5 1-7 2zm-7 3l7-3 5 1-7 2zm-7 1l7-1 5 0-6 2zm-7 1l7-1 6 1-7 1z"/>
<path fill="#d91" d="M213 719l6 0 6 1-7 0z"/>
<path fill="#c91" d="M206 719l7 0 5 1-7 0z"/>
<path fill="#d91" d="M199 719l7 0 5 1-7 0zm-7 0l7 0 5 1-7 1z"/>
<path fill="#da1" d="M185 720l7-1 5 2-6 2z"/>
<path fill="#ea1" d="M179 722l6-2 6 3-7 3zm-7 2l7-2 5 4-7 3zm-7 3l7-3 5 5-7 3zm-7 3l7-3 5 5-7 2zm-7 2l7-2 5 4-6 3z"/>
<path fill="#da1" d="M463 654l7 1 5 2-6-1zm-6-1l6 1 6 2-7 0z"/>
<path fill="#d91" d="M450 652l7 1 5 3-7-1zm-7 0l7 0 5 3-7 1zm-7 0l7 0 5 4-7 0z"/>
<path fill="#e92" d="M429 653l7-1 5 4-6 1zm-7 1l7-1 6 4-7 2zm-6 1l6-1 6 5-7 1zm-7 2l7-2 5 5-7 2zm-7 2l7-2 5 5-7 2zm-7 1l7-1 5 5-7 2zm-7 2l7-2 5 6-6 1zm-6 1l6-1 6 5-7 1zm-7 1l7-1 5 5-7 1zm-7 1l7-1 5 5-7 1zm-7 1l7-1 5 5-7 1zm-7 2l7-2 5 5-6 1zm-7 1l7-1 6 4-7 1z"/>
<path fill="#d92" d="M341 669l6 0 6 4-7 1z"/>
<path fill="#d82" d="M334 670l7-1 5 5-7 0zm-7 1l7-1 5 4-7 1z"/>
<path fill="#e82" d="M320 673l7-2 5 4-7 2z"/>
<path fill="#e92" d="M313 676l7-3 5 4-6 3zm-6 4l6-4 6 4-7 3zm-7 4l7-4 5 3-7 5zm-7 6l7-6 5 4-7 5z"/>
<path fill="#ea2" d="M286 695l7-5 5 3-7 5zm-7 5l7-5 5 3-6 4z"/>
<path fill="#ea1" d="M272 703l7-3 6 2-7 3z"/>
<path fill="#da1" d="M266 707l6-4 6 2-7 3zm-7 3l7-3 5 1-7 3zm-7 3l7-3 5 1-7 2zm-7 2l7-2 5 0-7 3zm-7 2l7-2 5 1-6 2zm-6 2l6-2 6 1-7 1zm-7 1l7-1 5 0-7 1z"/>
<path fill="#d91" d="M218 720l7 0 5 0-7 0zm-7 0l7 0 5 0-7 1zm-7 0l7 0 5 1-6 1z"/>
<path fill="#da1" d="M197 721l7-1 6 2-7 2z"/>
<path fill="#ea1" d="M191 723l6-2 6 3-7 3zm-7 3l7-3 5 4-7 3zm-7 3l7-3 5 4-7 3zm-7 3l7-3 5 4-6 3z"/>
<path fill="#eb1" d="M163 734l7-2 6 4-7 3zm-6 3l6-3 6 5-7 3z"/>
<path fill="#da1" d="M469 656l6 1 6 2-7-1zm-7 0l7 0 5 2-7 0zm-7-1l7 1 5 2-7 0zm-7 1l7-1 5 3-7 1z"/>
<path fill="#ea1" d="M441 656l7 0 5 3-6 1z"/>
<path fill="#ea2" d="M435 657l6-1 6 4-7 2zm-7 2l7-2 5 5-7 1zm-7 1l7-1 5 4-7 2zm-7 2l7-2 5 5-7 2zm-7 2l7-2 5 5-6 2zm-7 2l7-2 6 5-7 2zm-6 1l6-1 6 5-7 1zm-7 1l7-1 5 5-7 1z"/>
<path fill="#e92" d="M380 669l7-1 5 5-7 1zm-7 1l7-1 5 5-6 1zm-7 1l7-1 6 5-7 1zm-6 1l6-1 6 5-7 1z"/>
<path fill="#d92" d="M353 673l7-1 5 5-7 0zm-7 1l7-1 5 4-7 1zm-7 0l7 0 5 4-7 0zm-7 1l7-1 5 4-6 1z"/>
<path fill="#e92" d="M325 677l7-2 6 4-7 2zm-6 3l6-3 6 4-7 3zm-7 3l7-3 5 4-7 3zm-7 5l7-5 5 4-7 5z"/>
<path fill="#ea2" d="M298 693l7-5 5 4-6 5zm-7 5l7-5 6 4-7 3z"/>
<path fill="#ea1" d="M285 702l6-4 6 2-7 4z"/>
<path fill="#da1" d="M278 705l7-3 5 2-7 3zm-7 3l7-3 5 2-7 3zm-7 3l7-3 5 2-7 2zm-7 2l7-2 5 1-6 3zm-7 3l7-3 6 2-7 2zm-6 2l6-2 6 1-7 2zm-7 1l7-1 5 1-7 1z"/>
<path fill="#d91" d="M230 720l7-1 5 1-7 1zm-7 0l7 0 5 1-6 0zm-7 1l7-1 6 1-7 2zm-6 1l6-1 6 2-7 2z"/>
<path fill="#ea1" d="M203 724l7-2 5 3-7 2zm-7 3l7-3 5 3-7 3zm-7 3l7-3 5 3-7 3zm-7 3l7-3 5 3-6 4z"/>
<path fill="#eb1" d="M176 736l6-3 6 4-7 3zm-7 3l7-3 5 4-7 3zm-7 3l7-3 5 4-7 3z"/>
<path fill="#da1" d="M474 658l7 1 5 2-7 0zm-7 0l7 0 5 3-7 0zm-7 0l7 0 5 3-6 1zm-7 1l7-1 6 4-7 1z"/>
<path fill="#ea1" d="M447 660l6-1 6 4-7 1zm-7 2l7-2 5 4-7 2zm-7 1l7-1 5 4-7 2z"/>
<path fill="#ea2" d="M426 665l7-2 5 5-6 2zm-7 2l7-2 6 5-7 2zm-6 2l6-2 6 5-7 2zm-7 2l7-2 5 5-7 1zm-7 1l7-1 5 4-7 2zm-7 1l7-1 5 5-7 1zm-7 1l7-1 5 5-6 1z"/>
<path fill="#e92" d="M379 675l6-1 6 5-7 1zm-7 1l7-1 5 5-7 0z"/>
<path fill="#d92" d="M365 677l7-1 5 4-7 1zm-7 0l7 0 5 4-7 0zm-7 1l7-1 5 4-6 1zm-7 0l7 0 6 4-7 0z"/>
<path fill="#e92" d="M338 679l6-1 6 4-7 1zm-7 2l7-2 5 4-7 2zm-7 3l7-3 5 4-7 3zm-7 3l7-3 5 4-7 4zm-7 5l7-5 5 5-6 4z"/>
<path fill="#ea2" d="M304 697l6-5 6 4-7 4zm-7 3l7-3 5 3-7 3z"/>
<path fill="#ea1" d="M290 704l7-4 5 3-7 3z"/>
<path fill="#da1" d="M283 707l7-3 5 2-7 3zm-7 3l7-3 5 2-6 2zm-7 2l7-2 6 1-7 3zm-6 3l6-3 6 2-7 2zm-7 2l7-2 5 1-7 2zm-7 2l7-2 5 1-7 2z"/>
<path fill="#d91" d="M242 720l7-1 5 1-7 1zm-7 1l7-1 5 1-6 1zm-6 0l6 0 6 1-7 1zm-7 2l7-2 5 2-7 2z"/>
<path fill="#da1" d="M215 725l7-2 5 2-7 2z"/>
<path fill="#ea1" d="M208 727l7-2 5 2-7 3zm-7 3l7-3 5 3-6 3zm-7 3l7-3 6 3-7 4zm-6 4l6-4 6 4-7 3z"/>
<path fill="#eb1" d="M181 740l7-3 5 3-7 4zm-7 3l7-3 5 4-7 3zm-7 3l7-3 5 4-7 4z"/>
<path fill="#da1" d="M479 661l7 0 5 2-6 0zm-7 0l7 0 6 2-7 1zm-6 1l6-1 6 3-7 1z"/>
<path fill="#ea1" d="M459 663l7-1 5 3-7 1zm-7 1l7-1 5 3-7 2zm-7 2l7-2 5 4-7 2zm-7 2l7-2 5 4-6 2zm-6 2l6-2 6 4-7 2zm-7 2l7-2 5 4-7 2zm-7 2l7-2 5 4-7 2zm-7 1l7-1 5 4-7 2zm-7 2l7-2 5 5-6 1zm-7 1l7-1 6 4-7 1zm-6 1l6-1 6 4-7 1zm-7 1l7-1 5 4-7 1z"/>
<path fill="#d91" d="M377 680l7 0 5 4-7 0z"/>
<path fill="#d92" d="M370 681l7-1 5 4-7 0zm-7 0l7 0 5 3-6 1zm-6 1l6-1 6 4-7 1zm-7 0l7 0 5 4-7 0z"/>
<path fill="#e92" d="M343 683l7-1 5 4-7 2zm-7 2l7-2 5 5-7 2zm-7 3l7-3 5 5-6 2zm-7 4l7-4 6 4-7 4z"/>
<path fill="#ea2" d="M316 696l6-4 6 4-7 3zm-7 4l7-4 5 3-7 4zm-7 3l7-3 5 3-7 3z"/>
<path fill="#ea1" d="M295 706l7-3 5 3-7 2zm-7 3l7-3 5 2-6 3z"/>
<path fill="#da1" d="M282 711l6-2 6 2-7 2zm-7 3l7-3 5 2-7 2zm-7 2l7-2 5 1-7 2zm-7 2l7-2 5 1-7 2z"/>
<path fill="#d91" d="M254 720l7-2 5 1-6 2zm-7 1l7-1 6 1-7 1zm-6 1l6-1 6 1-7 1zm-7 1l7-1 5 1-7 2z"/>
<path fill="#da1" d="M227 725l7-2 5 2-7 3z"/>
<path fill="#ea1" d="M220 727l7-2 5 3-7 2zm-7 3l7-3 5 3-6 3zm-6 3l6-3 6 3-7 3zm-7 4l7-4 5 3-7 4z"/>
<path fill="#eb1" d="M193 740l7-3 5 3-7 3zm-7 4l7-4 5 3-7 4zm-7 3l7-3 5 3-6 4zm-7 4l7-4 6 4-7 3z"/>
<path fill="#da1" d="M485 663l6 0 6 2-7 0zm-7 1l7-1 5 2-7 1zm-7 1l7-1 5 2-7 2z"/>
<path fill="#ea1" d="M464 666l7-1 5 3-7 2zm-7 2l7-2 5 4-6 2zm-7 2l7-2 6 4-7 2zm-6 2l6-2 6 4-7 2zm-7 2l7-2 5 4-7 2zm-7 2l7-2 5 4-7 2zm-7 2l7-2 5 4-7 2zm-7 2l7-2 5 4-6 2zm-6 1l6-1 6 4-7 1zm-7 1l7-1 5 4-7 1zm-7 1l7-1 5 4-7 1z"/>
<path fill="#da1" d="M389 684l7-1 5 4-7 0z"/>
<path fill="#d91" d="M382 684l7 0 5 3-6 1zm-7 0l7 0 6 4-7 0z"/>
<path fill="#d92" d="M369 685l6-1 6 4-7 1zm-7 1l7-1 5 4-7 0z"/>
<path fill="#e92" d="M355 686l7 0 5 3-7 2zm-7 2l7-2 5 5-7 1zm-7 2l7-2 5 4-6 2zm-6 2l6-2 6 4-7 3z"/>
<path fill="#ea2" d="M328 696l7-4 5 5-7 3zm-7 3l7-3 5 4-7 3zm-7 4l7-4 5 4-7 3zm-7 3l7-3 5 3-6 3z"/>
<path fill="#ea1" d="M300 708l7-2 6 3-7 2zm-6 3l6-3 6 3-7 3z"/>
<path fill="#da1" d="M287 713l7-2 5 3-7 2zm-7 2l7-2 5 3-7 2zm-7 2l7-2 5 3-7 1zm-7 2l7-2 5 2-6 2z"/>
<path fill="#d91" d="M260 721l6-2 6 2-7 2zm-7 1l7-1 5 2-7 1zm-7 1l7-1 5 2-7 2zm-7 2l7-2 5 3-7 2z"/>
<path fill="#da1" d="M232 728l7-3 5 3-6 2z"/>
<path fill="#ea1" d="M225 730l7-2 6 2-7 3zm-6 3l6-3 6 3-7 3zm-7 3l7-3 5 3-7 3zm-7 4l7-4 5 3-7 4z"/>
<path fill="#eb1" d="M198 743l7-3 5 3-6 4zm-7 4l7-4 6 4-7 3zm-6 4l6-4 6 3-7 4zm-7 3l7-3 5 3-7 4z"/>
<path fill="#da1" d="M490 665l7 0 5 1-7 1zm-7 1l7-1 5 2-7 2zm-7 2l7-2 5 3-7 2z"/>
<path fill="#ea1" d="M469 670l7-2 5 3-6 2zm-6 2l6-2 6 3-7 2zm-7 2l7-2 5 3-7 2zm-7 2l7-2 5 3-7 3zm-7 2l7-2 5 4-7 2zm-7 2l7-2 5 4-6 2zm-7 2l7-2 6 4-7 2zm-6 2l6-2 6 4-7 1zm-7 1l7-1 5 3-7 2z"/>
<path fill="#da1" d="M408 686l7-1 5 4-7 0zm-7 1l7-1 5 3-6 1zm-7 0l7 0 6 3-7 1zm-6 1l6-1 6 4-7 0z"/>
<path fill="#d91" d="M381 688l7 0 5 3-7 0zm-7 1l7-1 5 3-7 1z"/>
<path fill="#d92" d="M367 689l7 0 5 3-7 1z"/>
<path fill="#e92" d="M360 691l7-2 5 4-6 1zm-7 1l7-1 6 3-7 2zm-6 2l6-2 6 4-7 3z"/>
<path fill="#ea2" d="M340 697l7-3 5 5-7 3zm-7 3l7-3 5 5-7 3zm-7 3l7-3 5 5-6 2zm-7 3l7-3 6 4-7 3zm-6 3l6-3 6 4-7 3z"/>
<path fill="#ea1" d="M306 711l7-2 5 4-7 2zm-7 3l7-3 5 4-7 2zm-7 2l7-2 5 3-7 2zm-7 2l7-2 5 3-6 1z"/>
<path fill="#da1" d="M278 719l7-1 6 2-7 2zm-6 2l6-2 6 3-7 1z"/>
<path fill="#d91" d="M265 723l7-2 5 2-7 2zm-7 1l7-1 5 2-7 1zm-7 2l7-2 5 2-6 2z"/>
<path fill="#da1" d="M244 728l7-2 6 2-7 2z"/>
<path fill="#ea1" d="M238 730l6-2 6 2-7 3zm-7 3l7-3 5 3-7 3zm-7 3l7-3 5 3-7 3zm-7 3l7-3 5 3-7 3zm-7 4l7-4 5 3-6 4z"/>
<path fill="#eb1" d="M204 747l6-4 6 3-7 4zm-7 3l7-3 5 3-7 3zm-7 4l7-4 5 3-7 4zm-7 4l7-4 5 3-7 3z"/>
<path fill="#da1" d="M495 667l7-1 5 2-7 1zm-7 2l7-2 5 2-6 2zm-7 2l7-2 6 2-7 2zm-6 2l6-2 6 2-7 2z"/>
<path fill="#ea1" d="M468 675l7-2 5 2-7 3zm-7 2l7-2 5 3-7 2zm-7 3l7-3 5 3-6 3zm-7 2l7-2 6 3-7 2zm-6 2l6-2 6 3-7 2zm-7 2l7-2 5 3-7 2zm-7 1l7-1 5 3-7 2z"/>
<path fill="#da1" d="M420 689l7-2 5 4-7 1zm-7 0l7 0 5 3-6 0zm-6 1l6-1 6 3-7 1zm-7 1l7-1 5 3-7 0zm-7 0l7 0 5 2-7 1z"/>
<path fill="#d91" d="M386 691l7 0 5 3-7 1zm-7 1l7-1 5 4-6 0zm-7 1l7-1 6 3-7 1z"/>
<path fill="#e92" d="M366 694l6-1 6 3-7 2zm-7 2l7-2 5 4-7 2z"/>
<path fill="#ea2" d="M352 699l7-3 5 4-7 3zm-7 3l7-3 5 4-7 4zm-7 3l7-3 5 5-6 3zm-6 2l6-2 6 5-7 2z"/>
<path fill="#ea1" d="M325 710l7-3 5 5-7 3zm-7 3l7-3 5 5-7 2zm-7 2l7-2 5 4-7 2zm-7 2l7-2 5 4-6 2zm-7 2l7-2 6 4-7 2zm-6 1l6-1 6 4-7 1zm-7 2l7-2 5 4-7 1z"/>
<path fill="#da1" d="M277 723l7-1 5 3-7 1z"/>
<path fill="#d91" d="M270 725l7-2 5 3-7 1zm-7 1l7-1 5 2-6 1zm-6 2l6-2 6 2-7 2z"/>
<path fill="#ea1" d="M250 730l7-2 5 2-7 3zm-7 3l7-3 5 3-7 2zm-7 3l7-3 5 2-7 4zm-7 3l7-3 5 3-6 3zm-7 3l7-3 6 3-7 3z"/>
<path fill="#eb1" d="M216 746l6-4 6 3-7 4zm-7 4l7-4 5 3-7 4zm-7 3l7-3 5 3-7 3zm-7 4l7-4 5 3-7 4zm-7 3l7-3 5 3-6 3z"/>
<path fill="#da1" d="M500 669l7-1 6 2-7 1zm-6 2l6-2 6 2-7 2zm-7 2l7-2 5 2-7 2zm-7 2l7-2 5 2-7 3z"/>
<path fill="#ea1" d="M473 678l7-3 5 3-7 2zm-7 2l7-2 5 2-6 3zm-6 3l6-3 6 3-7 2zm-7 2l7-2 5 2-7 3zm-7 2l7-2 5 3-7 2zm-7 2l7-2 5 3-7 2z"/>
<path fill="#da1" d="M432 691l7-2 5 3-6 1zm-7 1l7-1 6 2-7 1zm-6 0l6 0 6 2-7 1zm-7 1l7-1 5 3-7 1zm-7 0l7 0 5 3-7 0zm-7 1l7-1 5 3-7 1z"/>
<path fill="#d91" d="M391 695l7-1 5 3-6 0zm-6 0l6 0 6 2-7 1zm-7 1l7-1 5 3-7 2z"/>
<path fill="#e92" d="M371 698l7-2 5 4-7 2z"/>
<path fill="#ea2" d="M364 700l7-2 5 4-7 2zm-7 3l7-3 5 4-6 4zm-7 4l7-4 6 5-7 4z"/>
<path fill="#ea1" d="M344 710l6-3 6 5-7 3zm-7 2l7-2 5 5-7 3zm-7 3l7-3 5 6-7 2zm-7 2l7-2 5 5-7 2zm-7 2l7-2 5 5-6 2zm-6 2l6-2 6 5-7 1zm-7 2l7-2 5 4-7 2zm-7 1l7-1 5 4-7 1z"/>
<path fill="#da1" d="M289 725l7-1 5 4-7 1zm-7 1l7-1 5 4-6 0z"/>
<path fill="#d91" d="M275 727l7-1 6 3-7 0zm-6 1l6-1 6 2-7 2z"/>
<path fill="#da1" d="M262 730l7-2 5 3-7 2z"/>
<path fill="#ea1" d="M255 733l7-3 5 3-7 3zm-7 2l7-2 5 3-7 2zm-7 4l7-4 5 3-6 4zm-6 3l6-3 6 3-7 3zm-7 3l7-3 5 3-7 4z"/>
<path fill="#eb1" d="M221 749l7-4 5 4-7 3zm-7 4l7-4 5 3-7 4zm-7 3l7-3 5 3-6 3zm-7 4l7-4 6 3-7 3zm-6 3l6-3 6 2-7 3z"/>
<path fill="#da1" d="M506 671l7-1 5 2-7 1zm-7 2l7-2 5 2-7 2zm-7 2l7-2 5 2-7 3zm-7 3l7-3 5 3-6 2z"/>
<path fill="#ea1" d="M478 680l7-2 6 2-7 3zm-6 3l6-3 6 3-7 3zm-7 2l7-2 5 3-7 2zm-7 3l7-3 5 3-7 3zm-7 2l7-2 5 3-7 2z"/>
<path fill="#da1" d="M444 692l7-2 5 3-6 1zm-6 1l6-1 6 2-7 2zm-7 1l7-1 5 3-7 1zm-7 1l7-1 5 3-7 0zm-7 1l7-1 5 2-7 1zm-7 0l7 0 5 2-6 0z"/>
<path fill="#d91" d="M403 697l7-1 6 2-7 1zm-6 0l6 0 6 2-7 1zm-7 1l7-1 5 3-7 1zm-7 2l7-2 5 3-7 2z"/>
<path fill="#ea2" d="M376 702l7-2 5 3-7 2zm-7 2l7-2 5 3-6 4zm-6 4l6-4 6 5-7 4z"/>
<path fill="#eb1" d="M356 712l7-4 5 5-7 4zm-7 3l7-3 5 5-7 3zm-7 3l7-3 5 5-7 3zm-7 2l7-2 5 5-6 2zm-7 2l7-2 6 5-7 2zm-6 2l6-2 6 5-7 2zm-7 1l7-1 5 5-7 1z"/>
<path fill="#ea1" d="M308 727l7-2 5 5-7 1zm-7 1l7-1 5 4-7 0z"/>
<path fill="#da1" d="M294 729l7-1 5 3-6 0z"/>
<path fill="#d91" d="M288 729l6 0 6 2-7 0zm-7 0l7 0 5 2-7 1z"/>
<path fill="#da1" d="M274 731l7-2 5 3-7 1z"/>
<path fill="#ea1" d="M267 733l7-2 5 2-7 3zm-7 3l7-3 5 3-6 3zm-7 2l7-2 6 3-7 3zm-6 4l6-4 6 4-7 3zm-7 3l7-3 5 3-7 4z"/>
<path fill="#eb1" d="M233 749l7-4 5 4-7 3zm-7 3l7-3 5 3-6 4zm-7 4l7-4 6 4-7 3zm-6 3l6-3 6 3-7 3zm-7 3l7-3 5 3-7 2z"/>
<path fill="#db1" d="M199 765l7-3 5 2-7 2z"/>
<path fill="#da1" d="M511 673l7-1 5 2-7 1zm-7 2l7-2 5 2-7 2zm-7 3l7-3 5 2-6 3z"/>
<path fill="#ea1" d="M491 680l6-2 6 2-7 3zm-7 3l7-3 5 3-7 2zm-7 3l7-3 5 2-7 3zm-7 2l7-2 5 2-7 3zm-7 3l7-3 5 3-6 2z"/>
<path fill="#da1" d="M456 693l7-2 6 2-7 2zm-6 1l6-1 6 2-7 1zm-7 2l7-2 5 2-7 2zm-7 1l7-1 5 2-7 1zm-7 0l7 0 5 2-6 0zm-7 1l7-1 6 2-7 1zm-6 0l6 0 6 2-7 0z"/>
<path fill="#d91" d="M409 699l7-1 5 2-7 1zm-7 1l7-1 5 2-7 1zm-7 1l7-1 5 2-7 2z"/>
<path fill="#ea1" d="M388 703l7-2 5 3-6 2z"/>
<path fill="#ea2" d="M381 705l7-2 6 3-7 4zm-6 4l6-4 6 5-7 4z"/>
<path fill="#eb1" d="M368 713l7-4 5 5-7 4zm-7 4l7-4 5 5-7 4zm-7 3l7-3 5 5-6 3zm-7 3l7-3 6 5-7 3zm-6 2l6-2 6 5-7 2zm-7 2l7-2 5 5-7 2zm-7 2l7-2 5 5-7 1zm-7 1l7-1 5 4-7 1z"/>
<path fill="#ea1" d="M313 731l7-1 5 4-6 0z"/>
<path fill="#da1" d="M306 731l7 0 6 3-7 0zm-6 0l6 0 6 3-7 0z"/>
<path fill="#d91" d="M293 731l7 0 5 3-7 0zm-7 1l7-1 5 3-7 1z"/>
<path fill="#da1" d="M279 733l7-1 5 3-6 1z"/>
<path fill="#ea1" d="M272 736l7-3 6 3-7 3zm-6 3l6-3 6 3-7 3zm-7 3l7-3 5 3-7 3zm-7 3l7-3 5 3-7 4zm-7 4l7-4 5 4-7 3z"/>
<path fill="#eb1" d="M238 752l7-3 5 3-6 3zm-6 4l6-4 6 3-7 4zm-7 3l7-3 5 3-7 3zm-7 3l7-3 5 3-7 2z"/>
<path fill="#db1" d="M211 764l7-2 5 2-7 2z"/>
<path fill="#da1" d="M204 766l7-2 5 2-6 1zm312-91l7-1 5 1-6 2zm-7 2l7-2 6 2-7 2zm-6 3l6-3 6 2-7 3z"/>
<path fill="#ea1" d="M496 683l7-3 5 2-7 3zm-7 2l7-2 5 2-7 3zm-7 3l7-3 5 3-6 2zm-7 3l7-3 6 2-7 3z"/>
<path fill="#da1" d="M469 693l6-2 6 2-7 2zm-7 2l7-2 5 2-7 2zm-7 1l7-1 5 2-7 1zm-7 2l7-2 5 2-7 1zm-7 1l7-1 5 1-6 1zm-6 0l6 0 6 1-7 1zm-7 1l7-1 5 2-7 1z"/>
<path fill="#d91" d="M421 700l7 0 5 2-7 0zm-7 1l7-1 5 2-7 1zm-7 1l7-1 5 2-6 2z"/>
<path fill="#da1" d="M400 704l7-2 6 3-7 2z"/>
<path fill="#ea1" d="M394 706l6-2 6 3-7 3z"/>
<path fill="#ea2" d="M387 710l7-4 5 4-7 4z"/>
<path fill="#eb1" d="M380 714l7-4 5 4-7 5zm-7 4l7-4 5 5-7 4zm-7 4l7-4 5 5-6 4zm-6 3l6-3 6 5-7 3zm-7 3l7-3 5 5-7 3zm-7 2l7-2 5 5-7 2zm-7 2l7-2 5 5-7 1zm-7 1l7-1 5 4-6 1zm-7 1l7-1 6 4-7 1z"/>
<path fill="#da1" d="M319 734l6 0 6 4-7 0zm-7 0l7 0 5 4-7-1zm-7 0l7 0 5 3-7 0zm-7 0l7 0 5 3-7 0zm-7 1l7-1 5 3-6 1z"/>
<path fill="#ea1" d="M285 736l6-1 6 3-7 2zm-7 3l7-3 5 4-7 2zm-7 3l7-3 5 3-7 3zm-7 3l7-3 5 3-7 4zm-7 4l7-4 5 4-6 3z"/>
<path fill="#eb1" d="M250 752l7-3 6 3-7 3zm-6 3l6-3 6 3-7 4zm-7 4l7-4 5 4-7 2zm-7 3l7-3 5 2-7 3z"/>
<path fill="#db1" d="M223 764l7-2 5 2-7 2z"/>
<path fill="#da1" d="M216 766l7-2 5 2-6 1zm-6 1l6-1 6 1-7 1zm312-90l6-2 6 2-7 2zm-7 2l7-2 5 2-7 3z"/>
<path fill="#ea1" d="M508 682l7-3 5 3-7 2zm-7 3l7-3 5 2-7 3zm-7 3l7-3 5 2-6 3z"/>
<path fill="#da1" d="M488 690l6-2 6 2-7 3zm-7 3l7-3 5 3-7 2zm-7 2l7-2 5 2-7 1zm-7 2l7-2 5 1-7 2zm-7 1l7-1 5 1-6 1zm-7 1l7-1 6 1-7 2zm-6 1l6-1 6 2-7 1zm-7 1l7-1 5 2-7 0z"/>
<path fill="#d91" d="M433 702l7-1 5 1-7 1zm-7 0l7 0 5 1-7 1zm-7 1l7-1 5 2-6 1zm-6 2l6-2 6 2-7 2z"/>
<path fill="#ea1" d="M406 707l7-2 5 2-7 3zm-7 3l7-3 5 3-7 4z"/>
<path fill="#eb1" d="M392 714l7-4 5 4-7 5zm-7 5l7-5 5 5-6 4zm-7 4l7-4 6 4-7 5zm-6 4l6-4 6 5-7 4zm-7 3l7-3 5 5-7 3zm-7 3l7-3 5 5-7 2zm-7 2l7-2 5 4-7 2zm-7 1l7-1 5 4-6 1zm-6 1l6-1 6 4-7 1z"/>
<path fill="#db1" d="M331 738l7-1 5 4-7 0z"/>
<path fill="#da1" d="M324 738l7 0 5 3-7-1zm-7-1l7 1 5 2-7 0zm-7 0l7 0 5 3-6 0zm-7 0l7 0 6 3-7 0zm-6 1l6-1 6 3-7 1z"/>
<path fill="#ea1" d="M290 740l7-2 5 3-7 2zm-7 2l7-2 5 3-7 3zm-7 3l7-3 5 4-7 3zm-7 4l7-4 5 4-6 3z"/>
<path fill="#eb1" d="M263 752l6-3 6 3-7 4zm-7 3l7-3 5 4-7 3zm-7 4l7-4 5 4-7 2zm-7 2l7-2 5 2-7 3z"/>
<path fill="#db1" d="M235 764l7-3 5 3-6 2z"/>
<path fill="#da1" d="M228 766l7-2 6 2-7 1zm-6 1l6-1 6 1-7 1zm-7 1l7-1 5 1-7 1zm312-89l7-2 5 2-7 2zm-7 3l7-3 5 2-7 3z"/>
<path fill="#ea1" d="M513 684l7-2 5 2-6 3zm-7 3l7-3 6 3-7 3z"/>
<path fill="#da1" d="M500 690l6-3 6 3-7 2zm-7 3l7-3 5 2-7 2zm-7 2l7-2 5 1-7 2zm-7 1l7-1 5 1-7 2zm-7 2l7-2 5 2-6 1zm-6 1l6-1 6 1-7 1zm-7 2l7-2 5 1-7 2z"/>
<path fill="#d91" d="M452 702l7-1 5 1-7 1zm-7 0l7 0 5 1-7 1zm-7 1l7-1 5 2-6 0zm-7 1l7-1 6 1-7 1zm-6 1l6-1 6 1-7 2z"/>
<path fill="#ea1" d="M418 707l7-2 5 2-7 3zm-7 3l7-3 5 3-7 4zm-7 4l7-4 5 4-7 4z"/>
<path fill="#eb1" d="M397 719l7-5 5 4-6 5zm-6 4l6-4 6 4-7 5zm-7 5l7-5 5 5-7 4z"/>
<path fill="#ec1" d="M377 732l7-4 5 4-7 4zm-7 3l7-3 5 4-7 3zm-7 2l7-2 5 4-6 2z"/>
<path fill="#eb1" d="M356 739l7-2 6 4-7 1zm-6 1l6-1 6 3-7 1z"/>
<path fill="#db1" d="M343 741l7-1 5 3-7 1zm-7 0l7 0 5 3-7-1z"/>
<path fill="#da1" d="M329 740l7 1 5 2-7 0zm-7 0l7 0 5 3-6 0zm-6 0l6 0 6 3-7 0zm-7 0l7 0 5 3-7 0zm-7 1l7-1 5 3-7 1z"/>
<path fill="#ea1" d="M295 743l7-2 5 3-7 3zm-7 3l7-3 5 4-6 2zm-7 3l7-3 6 3-7 4z"/>
<path fill="#eb1" d="M275 752l6-3 6 4-7 3zm-7 4l7-4 5 4-7 3zm-7 3l7-3 5 3-7 3zm-7 2l7-2 5 3-6 2z"/>
<path fill="#db1" d="M247 764l7-3 6 3-7 2z"/>
<path fill="#da1" d="M241 766l6-2 6 2-7 1zm-7 1l7-1 5 1-7 1zm-7 1l7-1 5 1-7 1zm-7 1l7-1 5 1-7 0zm312-88l7-2 5 2-7 3z"/>
<path fill="#ea1" d="M525 684l7-3 5 3-6 2zm-6 3l6-3 6 2-7 3z"/>
<path fill="#da1" d="M512 690l7-3 5 2-7 3zm-7 2l7-2 5 2-7 2zm-7 2l7-2 5 2-7 1zm-7 2l7-2 5 1-6 2zm-7 2l7-2 6 1-7 1zm-6 1l6-1 6 0-7 2z"/>
<path fill="#d91" d="M471 700l7-1 5 1-7 1zm-7 2l7-2 5 1-7 1zm-7 1l7-1 5 0-6 2zm-7 1l7-1 6 1-7 0zm-6 0l6 0 6 0-7 1zm-7 1l7-1 5 1-7 2zm-7 2l7-2 5 2-7 3z"/>
<path fill="#ea1" d="M423 710l7-3 5 3-7 4zm-7 4l7-4 5 4-6 4z"/>
<path fill="#eb1" d="M409 718l7-4 6 4-7 4zm-6 5l6-5 6 4-7 5zm-7 5l7-5 5 4-7 4zm-7 4l7-4 5 3-7 5z"/>
<path fill="#ec1" d="M382 736l7-4 5 4-6 3zm-7 3l7-3 6 3-7 3zm-6 2l6-2 6 3-7 2z"/>
<path fill="#eb1" d="M362 742l7-1 5 3-7 1z"/>
<path fill="#db1" d="M355 743l7-1 5 3-7 1zm-7 1l7-1 5 3-7 0zm-7-1l7 1 5 2-6 0z"/>
<path fill="#da1" d="M334 743l7 0 6 3-7 0zm-6 0l6 0 6 3-7 0zm-7 0l7 0 5 3-7 0zm-7 0l7 0 5 3-7 0z"/>
<path fill="#ea1" d="M307 744l7-1 5 3-6 2zm-7 3l7-3 6 4-7 2zm-6 2l6-2 6 3-7 3z"/>
<path fill="#eb1" d="M287 753l7-4 5 4-7 3zm-7 3l7-3 5 3-7 3zm-7 3l7-3 5 3-7 3zm-7 3l7-3 5 3-6 2z"/>
<path fill="#db1" d="M260 764l6-2 6 2-7 2z"/>
<path fill="#da1" d="M253 766l7-2 5 2-7 2zm-7 1l7-1 5 2-7 1zm-7 1l7-1 5 2-7 1zm-7 1l7-1 5 2-6 0z"/>
<path fill="#c91" d="M225 769l7 0 6 1-7-1z"/>
<path fill="#da1" d="M537 684l7-3 6 3-7 2z"/>
<path fill="#ea1" d="M531 686l6-2 6 2-7 3z"/>
<path fill="#da1" d="M524 689l7-3 5 3-7 2zm-7 3l7-3 5 2-7 2zm-7 2l7-2 5 1-6 2zm-7 1l7-1 6 1-7 1z"/>
<path fill="#d91" d="M497 697l6-2 6 1-7 2zm-7 1l7-1 5 1-7 1zm-7 2l7-2 5 1-7 1zm-7 1l7-1 5 0-7 2zm-7 1l7-1 5 1-6 1zm-6 2l6-2 6 1-7 1zm-7 0l7 0 5 0-7 1zm-7 1l7-1 5 1-7 2zm-7 2l7-2 5 2-7 2z"/>
<path fill="#ea1" d="M435 710l7-3 5 2-6 4zm-7 4l7-4 6 3-7 4zm-6 4l6-4 6 3-7 4z"/>
<path fill="#eb1" d="M415 722l7-4 5 3-7 5zm-7 5l7-5 5 4-7 4zm-7 4l7-4 5 3-7 5zm-7 5l7-5 5 4-6 4z"/>
<path fill="#ec1" d="M388 739l6-3 6 3-7 3zm-7 3l7-3 5 3-7 3z"/>
<path fill="#eb1" d="M374 744l7-2 5 3-7 2z"/>
<path fill="#db1" d="M367 745l7-1 5 3-7 1zm-7 1l7-1 5 3-6 0zm-7 0l7 0 6 2-7 1zm-6 0l6 0 6 3-7 0z"/>
<path fill="#da1" d="M340 746l7 0 5 3-7 0zm-7 0l7 0 5 3-7 0zm-7 0l7 0 5 3-7 0zm-7 0l7 0 5 3-6 1z"/>
<path fill="#ea1" d="M313 748l6-2 6 4-7 1zm-7 2l7-2 5 3-7 3z"/>
<path fill="#eb1" d="M299 753l7-3 5 4-7 3zm-7 3l7-3 5 4-7 3zm-7 3l7-3 5 4-6 3zm-7 3l7-3 6 4-7 2zm-6 2l6-2 6 3-7 2z"/>
<path fill="#da1" d="M265 766l7-2 5 3-7 1zm-7 2l7-2 5 2-7 2zm-7 1l7-1 5 2-7 0zm-7 1l7-1 5 1-6 1z"/>
<path fill="#d91" d="M238 770l6 0 6 1-7-1z"/>
<path fill="#c91" d="M231 769l7 1 5 0-7 0z"/>
<path fill="#da1" d="M543 686l7-2 5 2-7 3zm-7 3l7-3 5 3-7 2zm-7 2l7-2 5 2-7 2zm-7 2l7-2 5 2-6 1z"/>
<path fill="#d91" d="M516 695l6-2 6 1-7 2zm-7 1l7-1 5 1-7 1zm-7 2l7-2 5 1-7 1zm-7 1l7-1 5 0-7 2zm-7 1l7-1 5 1-6 1zm-7 2l7-2 6 1-7 1zm-6 1l6-1 6 0-7 1zm-7 1l7-1 5 0-7 1zm-7 1l7-1 5 0-7 2zm-7 2l7-2 5 1-7 2zm-7 2l7-2 5 1-6 4z"/>
<path fill="#ea2" d="M441 713l6-4 6 3-7 4z"/>
<path fill="#ea1" d="M434 717l7-4 5 3-7 4zm-7 4l7-4 5 3-7 4z"/>
<path fill="#eb1" d="M420 726l7-5 5 3-7 5zm-7 4l7-4 5 3-6 4zm-7 5l7-5 6 3-7 5zm-6 4l6-4 6 3-7 3zm-7 3l7-3 5 2-7 4zm-7 3l7-3 5 3-7 2z"/>
<path fill="#db1" d="M379 747l7-2 5 2-7 2zm-7 1l7-1 5 2-6 1zm-6 0l6 0 6 2-7 0zm-7 1l7-1 5 2-7 1z"/>
<path fill="#da1" d="M352 749l7 0 5 2-7 0zm-7 0l7 0 5 2-7 0zm-7 0l7 0 5 2-6 1zm-7 0l7 0 6 3-7 0zm-6 1l6-1 6 3-7 1z"/>
<path fill="#ea1" d="M318 751l7-1 5 3-7 2z"/>
<path fill="#eb1" d="M311 754l7-3 5 4-7 3zm-7 3l7-3 5 4-7 3zm-7 3l7-3 5 4-6 2zm-6 3l6-3 6 3-7 3zm-7 2l7-2 5 3-7 2z"/>
<path fill="#da1" d="M277 767l7-2 5 3-7 1zm-7 1l7-1 5 2-7 1zm-7 2l7-2 5 2-6 1zm-7 0l7 0 6 1-7 1zm-6 1l6-1 6 2-7 0z"/>
<path fill="#c91" d="M243 770l7 1 5 1-7-1zm-7 0l7 0 5 1-7-1z"/>
<path fill="#da1" d="M548 689l7-3 5 3-7 2zm-7 2l7-2 5 2-6 2zm-7 2l7-2 6 2-7 1z"/>
<path fill="#d91" d="M528 694l6-1 6 1-7 2zm-7 2l7-2 5 2-7 1zm-7 1l7-1 5 1-7 1zm-7 1l7-1 5 1-7 1zm-7 2l7-2 5 1-6 1zm-6 1l6-1 6 0-7 1zm-7 1l7-1 5 0-7 1zm-7 1l7-1 5 0-7 1zm-7 1l7-1 5 0-7 2zm-7 2l7-2 5 1-6 2zm-7 2l7-2 6 1-7 3z"/>
<path fill="#d92" d="M453 712l6-4 6 2-7 3z"/>
<path fill="#ea1" d="M446 716l7-4 5 1-7 5zm-7 4l7-4 5 2-7 4zm-7 4l7-4 5 2-7 5z"/>
<path fill="#eb1" d="M425 729l7-5 5 3-6 4zm-6 4l6-4 6 2-7 5zm-7 5l7-5 5 3-7 4zm-7 3l7-3 5 2-7 3z"/>
<path fill="#db1" d="M398 745l7-4 5 2-7 3zm-7 2l7-2 5 1-6 2zm-7 2l7-2 6 1-7 2zm-6 1l6-1 6 1-7 1zm-7 0l7 0 5 1-7 1z"/>
<path fill="#da1" d="M364 751l7-1 5 2-7 0zm-7 0l7 0 5 1-7 1zm-7 0l7 0 5 2-6 0zm-6 1l6-1 6 2-7 1zm-7 0l7 0 5 2-7 1zm-7 1l7-1 5 3-7 2z"/>
<path fill="#ea1" d="M323 755l7-2 5 4-7 2z"/>
<path fill="#eb1" d="M316 758l7-3 5 4-6 3zm-7 3l7-3 6 4-7 2zm-6 2l6-2 6 3-7 2zm-7 3l7-3 5 3-7 3zm-7 2l7-2 5 3-7 1z"/>
<path fill="#da1" d="M282 769l7-1 5 2-6 2zm-7 1l7-1 6 3-7 0zm-6 1l6-1 6 2-7 1zm-7 1l7-1 5 2-7 0z"/>
<path fill="#d91" d="M255 772l7 0 5 1-7 0z"/>
<path fill="#c91" d="M248 771l7 1 5 1-7-1zm-7-1l7 1 5 1-6-2z"/>
<path fill="#da1" d="M553 691l7-2 5 2-6 2zm-6 2l6-2 6 2-7 2z"/>
<path fill="#d91" d="M540 694l7-1 5 2-7 1zm-7 2l7-2 5 2-7 1zm-7 1l7-1 5 1-7 1zm-7 1l7-1 5 1-6 1zm-7 1l7-1 6 1-7 1zm-6 1l6-1 6 1-7 1zm-7 1l7-1 5 1-7 1zm-7 1l7-1 5 1-7 0z"/>
<path fill="#d81" d="M485 703l7-1 5 0-6 1zm-7 2l7-2 6 0-7 2z"/>
<path fill="#d91" d="M472 707l6-2 6 0-7 2zm-7 3l7-3 5 0-7 3zm-7 3l7-3 5 0-7 4zm-7 5l7-5 5 1-7 5z"/>
<path fill="#ea1" d="M444 722l7-4 5 1-6 4zm-7 5l7-5 6 1-7 5zm-6 4l6-4 6 1-7 4z"/>
<path fill="#eb1" d="M424 736l7-5 5 1-7 5z"/>
<path fill="#db1" d="M417 740l7-4 5 1-7 3zm-7 3l7-3 5 0-6 4zm-7 3l7-3 6 1-7 3zm-6 2l6-2 6 1-7 2zm-7 2l7-2 5 1-7 1z"/>
<path fill="#da1" d="M383 751l7-1 5 0-7 1zm-7 1l7-1 5 0-7 1zm-7 0l7 0 5 0-6 1zm-7 1l7-1 6 1-7 1zm-6 0l6 0 6 1-7 1zm-7 1l7-1 5 2-7 1zm-7 1l7-1 5 2-7 1zm-7 2l7-2 5 2-6 2z"/>
<path fill="#eb1" d="M328 759l7-2 6 2-7 3zm-6 3l6-3 6 3-7 3zm-7 2l7-2 5 3-7 3zm-7 2l7-2 5 4-7 2zm-7 3l7-3 5 4-7 2zm-7 1l7-1 5 3-6 1z"/>
<path fill="#da1" d="M288 772l6-2 6 3-7 1zm-7 0l7 0 5 2-7 1zm-7 1l7-1 5 3-7 0zm-7 0l7 0 5 2-7 0z"/>
<path fill="#d91" d="M260 773l7 0 5 2-6-1z"/>
<path fill="#c91" d="M253 772l7 1 6 1-7-1zm-6-2l6 2 6 1-7-2z"/>
<path fill="#da1" d="M559 693l6-2 6 3-7 2zm-7 2l7-2 5 3-7 1z"/>
<path fill="#d91" d="M545 696l7-1 5 2-7 1zm-7 1l7-1 5 2-6 1zm-7 1l7-1 6 2-7 1zm-6 1l6-1 6 2-7 0zm-7 1l7-1 5 1-7 1zm-7 1l7-1 5 1-7 1z"/>
<path fill="#d81" d="M504 702l7-1 5 1-7 0zm-7 0l7 0 5 0-6 1z"/>
<path fill="#c81" d="M491 703l6-1 6 1-7 0zm-7 2l7-2 5 0-7 1z"/>
<path fill="#d82" d="M477 707l7-2 5-1-7 3zm-7 3l7-3 5 0-7 3z"/>
<path fill="#d92" d="M463 714l7-4 5 0-6 5z"/>
<path fill="#d91" d="M456 719l7-5 6 1-7 4zm-6 4l6-4 6 0-7 5z"/>
<path fill="#da1" d="M443 728l7-5 5 1-7 4zm-7 4l7-4 5 0-7 5zm-7 5l7-5 5 1-7 4zm-7 3l7-3 5 0-6 4zm-6 4l6-4 6 1-7 3zm-7 3l7-3 5 0-7 2zm-7 2l7-2 5-1-7 2zm-7 1l7-1 5-1-7 2z"/>
<path fill="#ca1" d="M388 751l7-1 5 0-6 1zm-7 1l7-1 6 0-7 1zm-6 1l6-1 6 0-7 1z"/>
<path fill="#da1" d="M368 754l7-1 5 0-7 1zm-7 1l7-1 5 0-7 1zm-7 1l7-1 5 0-7 1zm-7 1l7-1 5 0-6 3z"/>
<path fill="#ea1" d="M341 759l6-2 6 2-7 3z"/>
<path fill="#eb1" d="M334 762l7-3 5 3-7 4zm-7 3l7-3 5 4-7 3zm-7 3l7-3 5 4-7 3zm-7 2l7-2 5 4-6 2zm-7 2l7-2 6 4-7 1zm-6 1l6-1 6 3-7 1z"/>
<path fill="#db1" d="M293 774l7-1 5 3-7 1z"/>
<path fill="#da1" d="M286 775l7-1 5 3-7 1zm-7 0l7 0 5 3-7 0zm-7 0l7 0 5 3-6-1z"/>
<path fill="#d91" d="M266 774l6 1 6 2-7-1z"/>
<path fill="#c91" d="M259 773l7 1 5 2-7-2z"/>
<path fill="#c81" d="M252 771l7 2 5 1-7-2z"/>
<path fill="#da1" d="M564 696l7-2 5 3-7 2zm-7 1l7-1 5 3-7 1z"/>
<path fill="#d91" d="M550 698l7-1 5 3-6 0zm-6 1l6-1 6 2-7 1zm-7 1l7-1 5 2-7 0zm-7 0l7 0 5 1-7 1zm-7 1l7-1 5 2-7 0z"/>
<path fill="#d81" d="M516 702l7-1 5 1-6 1zm-7 0l7 0 6 1-7 0z"/>
<path fill="#c81" d="M503 703l6-1 6 1-7 0zm-7 0l7 0 5 0-7 0zm-7 1l7-1 5 0-7 1z"/>
<path fill="#d82" d="M482 707l7-3 5 0-7 2zm-7 3l7-3 5-1-6 4zm-6 5l6-5 6 0-7 4z"/>
<path fill="#d92" d="M462 719l7-4 5-1-7 5z"/>
<path fill="#d91" d="M455 724l7-5 5 0-7 4zm-7 4l7-4 5-1-7 5z"/>
<path fill="#da1" d="M441 733l7-5 5 0-6 4zm-7 4l7-4 6-1-7 4zm-6 4l6-4 6-1-7 4zm-7 3l7-3 5-1-7 3zm-7 2l7-2 5-1-7 2z"/>
<path fill="#ca1" d="M407 748l7-2 5-1-7 2zm-7 2l7-2 5-1-6 1zm-6 1l6-1 6-2-7 2zm-7 1l7-1 5-1-7 1z"/>
<path fill="#c91" d="M380 753l7-1 5-1-7 1zm-7 1l7-1 5-1-7 1z"/>
<path fill="#d91" d="M366 755l7-1 5-1-6 2z"/>
<path fill="#da1" d="M359 756l7-1 6 0-7 3z"/>
<path fill="#ea1" d="M353 759l6-3 6 2-7 3z"/>
<path fill="#eb1" d="M346 762l7-3 5 2-7 5zm-7 4l7-4 5 4-7 4zm-7 3l7-3 5 4-7 3zm-7 3l7-3 5 4-6 3zm-6 2l6-2 6 4-7 2zm-7 1l7-1 5 4-7 1zm-7 1l7-1 5 4-7 1z"/>
<path fill="#db1" d="M298 777l7-1 5 4-7 0z"/>
<path fill="#da1" d="M291 778l7-1 5 3-6 1zm-7 0l7 0 6 3-7-1zm-6-1l6 1 6 2-7-1z"/>
<path fill="#c91" d="M271 776l7 1 5 2-7-2zm-7-2l7 2 5 1-7-3z"/>
<path fill="#c81" d="M257 772l7 2 5 0-7-2z"/>
<path fill="#da1" d="M569 699l7-2 5 3-6 2zm-7 1l7-1 6 3-7 0z"/>
<path fill="#d91" d="M556 700l6 0 6 2-7 1zm-7 1l7-1 5 3-7 0zm-7 0l7 0 5 2-7 0zm-7 1l7-1 5 2-7 0zm-7 0l7 0 5 1-6 0z"/>
<path fill="#d81" d="M522 703l6-1 6 1-7 1z"/>
<path fill="#c81" d="M515 703l7 0 5 1-7-1zm-7 0l7 0 5 0-7 0zm-7 0l7 0 5 0-7 0z"/>
<path fill="#c82" d="M494 704l7-1 5 0-6 1z"/>
<path fill="#d82" d="M487 706l7-2 6 0-7 2zm-6 4l6-4 6 0-7 4zm-7 4l7-4 5 0-7 4zm-7 5l7-5 5 0-7 4z"/>
<path fill="#d92" d="M460 723l7-4 5-1-7 5z"/>
<path fill="#d91" d="M453 728l7-5 5 0-6 5zm-6 4l6-4 6 0-7 4zm-7 4l7-4 5 0-7 4zm-7 4l7-4 5 0-7 3zm-7 3l7-3 5-1-7 3z"/>
<path fill="#c91" d="M419 745l7-2 5-1-6 2zm-7 2l7-2 6-1-7 2zm-6 1l6-1 6-1-7 1zm-7 2l7-2 5-1-7 1zm-7 1l7-1 5-2-7 2zm-7 1l7-1 5-1-7 1z"/>
<path fill="#d91" d="M378 753l7-1 5-1-6 2zm-6 2l6-2 6 0-7 3z"/>
<path fill="#da1" d="M365 758l7-3 5 1-7 4z"/>
<path fill="#eb1" d="M358 761l7-3 5 2-7 5zm-7 5l7-5 5 4-7 5zm-7 4l7-4 5 4-6 4zm-7 3l7-3 6 4-7 3zm-6 3l6-3 6 4-7 3zm-7 2l7-2 5 4-7 1zm-7 1l7-1 5 3-7 2zm-7 1l7-1 5 4-6 0z"/>
<path fill="#db1" d="M303 780l7 0 6 3-7 1z"/>
<path fill="#da1" d="M297 781l6-1 6 4-7-1zm-7-1l7 1 5 2-7-1z"/>
<path fill="#d91" d="M283 779l7 1 5 2-7-1z"/>
<path fill="#c91" d="M276 777l7 2 5 2-7-3z"/>
<path fill="#d91" d="M269 774l7 3 5 1-6-3z"/>
<path fill="#c81" d="M262 772l7 2 6 1-7-2z"/>
<path fill="#da1" d="M575 702l6-2 6 4-7 0zm-7 0l7 0 5 2-7 1z"/>
<path fill="#d91" d="M561 703l7-1 5 3-7 0zm-7 0l7 0 5 2-7 0zm-7 0l7 0 5 2-6 0zm-7 0l7 0 6 2-7 0z"/>
<path fill="#d81" d="M534 703l6 0 6 2-7 0z"/>
<path fill="#c81" d="M527 704l7-1 5 2-7-1zm-7-1l7 1 5 0-7 0z"/>
<path fill="#c82" d="M513 703l7 0 5 1-6-1z"/>
<path fill="#c72" d="M506 703l7 0 6 0-7 0zm-6 1l6-1 6 0-7 1z"/>
<path fill="#d72" d="M493 706l7-2 5 0-7 2z"/>
<path fill="#d82" d="M486 710l7-4 5 0-7 3zm-7 4l7-4 5-1-7 5zm-7 4l7-4 5 0-6 4zm-7 5l7-5 6 0-7 5z"/>
<path fill="#d92" d="M459 728l6-5 6 0-7 4z"/>
<path fill="#d91" d="M452 732l7-4 5-1-7 4zm-7 4l7-4 5-1-7 3zm-7 3l7-3 5-2-6 4zm-7 3l7-3 6-1-7 2z"/>
<path fill="#c91" d="M425 744l6-2 6-2-7 3zm-7 2l7-2 5-1-7 1zm-7 1l7-1 5-2-7 2zm-7 1l7-1 5-1-7 1zm-7 2l7-2 5-1-6 2z"/>
<path fill="#d91" d="M390 751l7-1 6-1-7 2zm-6 2l6-2 6 0-7 3z"/>
<path fill="#da1" d="M377 756l7-3 5 1-7 4z"/>
<path fill="#ea1" d="M370 760l7-4 5 2-7 5z"/>
<path fill="#eb1" d="M363 765l7-5 5 3-6 6zm-7 5l7-5 6 4-7 5zm-6 4l6-4 6 4-7 4z"/>
<path fill="#ec1" d="M343 777l7-3 5 4-7 3z"/>
<path fill="#eb1" d="M336 780l7-3 5 4-7 2zm-7 1l7-1 5 3-7 2zm-7 2l7-2 5 4-6 1z"/>
<path fill="#db1" d="M316 783l6 0 6 3-7 1zm-7 1l7-1 5 4-7 0z"/>
<path fill="#da1" d="M302 783l7 1 5 3-7-1zm-7-1l7 1 5 3-7-2z"/>
<path fill="#c91" d="M288 781l7 1 5 2-6-2z"/>
<path fill="#d91" d="M281 778l7 3 6 1-7-3z"/>
<path fill="#c81" d="M275 775l6 3 6 1-7-2zm-7-2l7 2 5 2-7-3z"/>
<path fill="#da1" d="M580 704l7 0 5 3-7 1zm-7 1l7-1 5 4-7 0z"/>
<path fill="#d91" d="M566 705l7 0 5 3-6-1zm-7 0l7 0 6 2-7 0zm-6 0l6 0 6 2-7 0zm-7 0l7 0 5 2-7 0z"/>
<path fill="#c81" d="M539 705l7 0 5 2-7-1zm-7-1l7 1 5 1-7-1z"/>
<path fill="#c82" d="M525 704l7 0 5 1-6-1z"/>
<path fill="#c72" d="M519 703l6 1 6 0-7-1zm-7 0l7 0 5 0-7 0zm-7 1l7-1 5 0-7 1z"/>
<path fill="#d72" d="M498 706l7-2 5 0-7 2zm-7 3l7-3 5 0-6 3z"/>
<path fill="#d82" d="M484 714l7-5 6 0-7 5zm-6 4l6-4 6 0-7 4zm-7 5l7-5 5 0-7 4zm-7 4l7-4 5-1-7 4z"/>
<path fill="#d81" d="M457 731l7-4 5-1-7 4zm-7 3l7-3 5-1-6 3z"/>
<path fill="#c91" d="M444 738l6-4 6-1-7 3zm-7 2l7-2 5-2-7 3zm-7 3l7-3 5-1-7 2zm-7 1l7-1 5-2-7 2zm-7 2l7-2 5-1-6 1z"/>
<path fill="#c81" d="M409 747l7-1 6-2-7 2z"/>
<path fill="#c91" d="M403 749l6-2 6-1-7 2z"/>
<path fill="#d91" d="M396 751l7-2 5-1-7 3zm-7 3l7-3 5 0-7 5z"/>
<path fill="#ea1" d="M382 758l7-4 5 2-7 5zm-7 5l7-5 5 3-6 5z"/>
<path fill="#eb1" d="M369 769l6-6 6 3-7 6zm-7 5l7-5 5 3-7 6z"/>
<path fill="#ec1" d="M355 778l7-4 5 4-7 4zm-7 3l7-3 5 4-7 3zm-7 2l7-2 5 4-6 2z"/>
<path fill="#eb1" d="M334 785l7-2 6 4-7 1zm-6 1l6-1 6 3-7 1z"/>
<path fill="#db1" d="M321 787l7-1 5 3-7 1zm-7 0l7 0 5 3-7-1z"/>
<path fill="#da1" d="M307 786l7 1 5 2-7-1zm-7-2l7 2 5 2-6-2z"/>
<path fill="#c91" d="M294 782l6 2 6 2-7-2z"/>
<path fill="#d91" d="M287 779l7 3 5 2-7-3z"/>
<path fill="#c81" d="M280 777l7 2 5 2-7-3zm-7-3l7 3 5 1-7-2z"/>
<path fill="#da1" d="M585 708l7-1 5 4-7 0zm-7 0l7 0 5 3-6-1z"/>
<path fill="#d91" d="M572 707l6 1 6 2-7 0zm-7 0l7 0 5 3-7-1zm-7 0l7 0 5 2-7 0z"/>
<path fill="#d81" d="M551 707l7 0 5 2-7-1z"/>
<path fill="#c81" d="M544 706l7 1 5 1-6-1zm-7-1l7 1 6 1-7-2z"/>
<path fill="#c72" d="M531 704l6 1 6 0-7-1zm-7-1l7 1 5 0-7-1zm-7 0l7 0 5 0-7 0zm-7 1l7-1 5 0-7 1z"/>
<path fill="#d72" d="M503 706l7-2 5 0-6 2zm-6 3l6-3 6 0-7 4z"/>
<path fill="#d82" d="M490 714l7-5 5 1-7 4zm-7 4l7-4 5 0-7 4zm-7 4l7-4 5 0-7 3zm-7 4l7-4 5-1-6 4z"/>
<path fill="#c82" d="M462 730l7-4 6-1-7 3z"/>
<path fill="#c81" d="M456 733l6-3 6-2-7 3zm-7 3l7-3 5-2-7 3zm-7 3l7-3 5-2-7 3zm-7 2l7-2 5-2-7 2zm-7 2l7-2 5-2-6 2zm-6 1l6-1 6-2-7 2zm-7 2l7-2 5-1-7 2z"/>
<path fill="#d91" d="M408 748l7-2 5-1-7 4z"/>
<path fill="#d92" d="M401 751l7-3 5 1-7 4z"/>
<path fill="#ea2" d="M394 756l7-5 5 2-6 5zm-7 5l7-5 6 2-7 6z"/>
<path fill="#eb1" d="M381 766l6-5 6 3-7 6zm-7 6l7-6 5 4-7 6z"/>
<path fill="#ec1" d="M367 778l7-6 5 4-7 5zm-7 4l7-4 5 3-7 5zm-7 3l7-3 5 4-6 2zm-6 2l6-2 6 3-7 2zm-7 1l7-1 5 3-7 2z"/>
<path fill="#db1" d="M333 789l7-1 5 4-7 1zm-7 1l7-1 5 4-7 0zm-7-1l7 1 5 3-6-1z"/>
<path fill="#da1" d="M312 788l7 1 6 3-7-2z"/>
<path fill="#c91" d="M306 786l6 2 6 2-7-2zm-7-2l7 2 5 2-7-3zm-7-3l7 3 5 1-7-3z"/>
<path fill="#c81" d="M285 778l7 3 5 1-7-2zm-7-2l7 2 5 2-6-3z"/>
<path fill="#da1" d="M590 711l7 0 6 3-7 0zm-6-1l6 1 6 3-7-1z"/>
<path fill="#d91" d="M577 710l7 0 5 3-7 0zm-7-1l7 1 5 3-7-1zm-7 0l7 0 5 3-7-2z"/>
<path fill="#c81" d="M556 708l7 1 5 1-6-1zm-6-1l6 1 6 1-7-2z"/>
<path fill="#c82" d="M543 705l7 2 5 0-7-1z"/>
<path fill="#c72" d="M536 704l7 1 5 1-7-1zm-7-1l7 1 5 1-7-1zm-7 0l7 0 5 1-6 0zm-7 1l7-1 6 1-7 0z"/>
<path fill="#d72" d="M509 706l6-2 6 0-7 3zm-7 4l7-4 5 1-7 3zm-7 4l7-4 5 0-7 4zm-7 4l7-4 5 0-7 3zm-7 3l7-3 5-1-6 3z"/>
<path fill="#c72" d="M475 725l6-4 6-1-7 3zm-7 3l7-3 5-2-7 3z"/>
<path fill="#c82" d="M461 731l7-3 5-2-7 3zm-7 3l7-3 5-2-7 3z"/>
<path fill="#c81" d="M447 737l7-3 5-2-6 3zm-7 2l7-2 6-2-7 3zm-6 2l6-2 6-1-7 2zm-7 2l7-2 5-1-7 3z"/>
<path fill="#d82" d="M420 745l7-2 5 0-7 3z"/>
<path fill="#d92" d="M413 749l7-4 5 1-7 4z"/>
<path fill="#e92" d="M406 753l7-4 5 1-6 5z"/>
<path fill="#ea2" d="M400 758l6-5 6 2-7 6zm-7 6l7-6 5 3-7 6z"/>
<path fill="#eb1" d="M386 770l7-6 5 3-7 7zm-7 6l7-6 5 4-7 6z"/>
<path fill="#ec1" d="M372 781l7-5 5 4-6 5zm-7 5l7-5 6 4-7 4zm-6 2l6-2 6 3-7 3zm-7 2l7-2 5 4-7 2zm-7 2l7-2 5 4-7 1z"/>
<path fill="#db1" d="M338 793l7-1 5 3-6 1zm-7 0l7 0 6 3-7-1z"/>
<path fill="#da1" d="M325 792l6 1 6 2-7-1zm-7-2l7 2 5 2-7-2z"/>
<path fill="#c91" d="M311 788l7 2 5 2-7-2zm-7-3l7 3 5 2-7-3zm-7-3l7 3 5 2-6-3z"/>
<path fill="#c81" d="M290 780l7 2 6 2-7-3zm-6-3l6 3 6 1-7-2z"/>
<path fill="#da1" d="M596 714l7 0 5 4-7-1zm-7-1l7 1 5 3-7-1z"/>
<path fill="#d91" d="M582 713l7 0 5 3-7-1zm-7-1l7 1 5 2-6-1z"/>
<path fill="#c81" d="M568 710l7 2 6 2-7-2zm-6-1l6 1 6 2-7-2zm-7-2l7 2 5 1-7-2z"/>
<path fill="#c72" d="M548 706l7 1 5 1-7-1zm-7-1l7 1 5 1-6-2zm-7-1l7 1 6 0-7 0zm-6 0l6 0 6 1-7 0zm-7 0l7 0 5 1-7 0z"/>
<path fill="#d72" d="M514 707l7-3 5 1-7 3zm-7 3l7-3 5 1-7 3zm-7 4l7-4 5 1-6 3z"/>
<path fill="#c72" d="M493 717l7-3 6 0-7 2zm-6 3l6-3 6-1-7 3zm-7 3l7-3 5-1-7 3zm-7 3l7-3 5-1-7 2zm-7 3l7-3 5-2-6 4zm-7 3l7-3 6-1-7 3z"/>
<path fill="#c82" d="M453 735l6-3 6-1-7 3zm-7 3l7-3 5-1-7 3zm-7 2l7-2 5-1-7 3z"/>
<path fill="#d82" d="M432 743l7-3 5 0-7 3zm-7 3l7-3 5 0-6 4z"/>
<path fill="#e92" d="M418 750l7-4 6 1-7 5zm-6 5l6-5 6 2-7 6z"/>
<path fill="#ea2" d="M405 761l7-6 5 3-7 6z"/>
<path fill="#ea1" d="M398 767l7-6 5 3-7 7z"/>
<path fill="#eb1" d="M391 774l7-7 5 4-6 6zm-7 6l7-6 6 3-7 6z"/>
<path fill="#ec1" d="M378 785l6-5 6 3-7 5zm-7 4l7-4 5 3-7 4zm-7 3l7-3 5 3-7 3zm-7 2l7-2 5 3-7 2z"/>
<path fill="#dc1" d="M350 795l7-1 5 3-6 1z"/>
<path fill="#db1" d="M344 796l6-1 6 3-7 0zm-7-1l7 1 5 2-7-1z"/>
<path fill="#da1" d="M330 794l7 1 5 2-7-1zm-7-2l7 2 5 2-7-2z"/>
<path fill="#c91" d="M316 790l7 2 5 2-6-2zm-7-3l7 3 6 2-7-3z"/>
<path fill="#c81" d="M303 784l6 3 6 2-7-3zm-7-3l7 3 5 2-7-3z"/>
<path fill="#c82" d="M289 779l7 2 5 2-7-2z"/>
<path fill="#da1" d="M601 717l7 1 5 3-7-1zm-7-1l7 1 5 3-6-1z"/>
<path fill="#d91" d="M587 715l7 1 6 3-7-2z"/>
<path fill="#c91" d="M581 714l6 1 6 2-7-2z"/>
<path fill="#c81" d="M574 712l7 2 5 1-7-2zm-7-2l7 2 5 1-7-2z"/>
<path fill="#c82" d="M560 708l7 2 5 1-7-2z"/>
<path fill="#c72" d="M553 707l7 1 5 1-6-1zm-6-2l6 2 6 1-7-1zm-7 0l7 0 5 2-7-1zm-7 0l7 0 5 1-7 0zm-7 0l7 0 5 1-7 1z"/>
<path fill="#d72" d="M519 708l7-3 5 2-6 2zm-7 3l7-3 6 1-7 2z"/>
<path fill="#c72" d="M506 714l6-3 6 0-7 2zm-7 2l7-2 5-1-7 3zm-7 3l7-3 5 0-7 2zm-7 3l7-3 5-1-7 3zm-7 2l7-2 5-1-6 3zm-6 4l6-4 6 0-7 3zm-7 3l7-3 5-1-7 3z"/>
<path fill="#d72" d="M458 734l7-3 5-1-7 4zm-7 3l7-3 5 0-7 3z"/>
<path fill="#d82" d="M444 740l7-3 5 0-6 3zm-7 3l7-3 6 0-7 4z"/>
<path fill="#e82" d="M431 747l6-4 6 1-7 5z"/>
<path fill="#e92" d="M424 752l7-5 5 2-7 6z"/>
<path fill="#ea2" d="M417 758l7-6 5 3-7 6zm-7 6l7-6 5 3-7 7z"/>
<path fill="#eb1" d="M403 771l7-7 5 4-6 6zm-6 6l6-6 6 3-7 7zm-7 6l7-6 5 4-7 5z"/>
<path fill="#ec1" d="M383 788l7-5 5 3-7 5zm-7 4l7-4 5 3-7 4zm-7 3l7-3 5 3-6 3zm-7 2l7-2 6 3-7 2z"/>
<path fill="#dc1" d="M356 798l6-1 6 3-7 1z"/>
<path fill="#db1" d="M349 798l7 0 5 3-7-1zm-7-1l7 1 5 2-7-1z"/>
<path fill="#da1" d="M335 796l7 1 5 2-7-1z"/>
<path fill="#ca1" d="M328 794l7 2 5 2-6-2z"/>
<path fill="#c91" d="M322 792l6 2 6 2-7-2zm-7-3l7 3 5 2-7-3z"/>
<path fill="#c81" d="M308 786l7 3 5 2-7-3zm-7-3l7 3 5 2-7-2z"/>
<path fill="#c82" d="M294 781l7 2 5 3-6-2z"/>
<path fill="#da1" d="M606 720l7 1 5 4-6-2zm-6-1l6 1 6 3-7-2z"/>
<path fill="#d91" d="M593 717l7 2 5 2-7-2z"/>
<path fill="#c91" d="M586 715l7 2 5 2-7-2z"/>
<path fill="#c81" d="M579 713l7 2 5 2-7-2zm-7-2l7 2 5 2-6-2z"/>
<path fill="#c72" d="M565 709l7 2 6 2-7-2zm-6-1l6 1 6 2-7-2zm-7-1l7 1 5 1-7-1zm-7-1l7 1 5 1-7 0zm-7 0l7 0 5 2-7 0z"/>
<path fill="#d72" d="M531 707l7-1 5 2-6 1zm-6 2l6-2 6 2-7 1z"/>
<path fill="#c72" d="M518 711l7-2 5 1-7 2zm-7 2l7-2 5 1-7 2zm-7 3l7-3 5 1-7 2zm-7 2l7-2 5 0-6 2zm-7 3l7-3 6 0-7 3zm-6 3l6-3 6 0-7 3z"/>
<path fill="#d72" d="M477 727l7-3 5 0-7 3zm-7 3l7-3 5 0-7 3zm-7 4l7-4 5 0-7 4zm-7 3l7-3 5 0-6 3z"/>
<path fill="#d82" d="M450 740l6-3 6 0-7 4zm-7 4l7-4 5 1-7 5z"/>
<path fill="#e92" d="M436 749l7-5 5 2-7 6zm-7 6l7-6 5 3-7 6z"/>
<path fill="#ea2" d="M422 761l7-6 5 3-6 7zm-7 7l7-7 6 4-7 6z"/>
<path fill="#eb1" d="M409 774l6-6 6 3-7 7zm-7 7l7-7 5 4-7 6z"/>
<path fill="#ec1" d="M395 786l7-5 5 3-7 6zm-7 5l7-5 5 4-7 5zm-7 4l7-4 5 4-6 3zm-6 3l6-3 6 3-7 3z"/>
<path fill="#dc1" d="M368 800l7-2 5 3-7 1z"/>
<path fill="#db1" d="M361 801l7-1 5 2-7 1zm-7-1l7 1 5 2-7-1zm-7-1l7 1 5 2-6-1z"/>
<path fill="#da1" d="M340 798l7 1 6 2-7-1z"/>
<path fill="#ca1" d="M334 796l6 2 6 2-7-2z"/>
<path fill="#c91" d="M327 794l7 2 5 2-7-2zm-7-3l7 3 5 2-7-3z"/>
<path fill="#c81" d="M313 788l7 3 5 2-7-2zm-7-2l7 2 5 3-6-2z"/>
<path fill="#c82" d="M300 784l6 2 6 3-7-2z"/>
<path fill="#da1" d="M612 723l6 2 6 3-7-2zm-7-2l7 2 5 3-7-2z"/>
<path fill="#d91" d="M598 719l7 2 5 3-7-2z"/>
<path fill="#c91" d="M591 717l7 2 5 3-7-3z"/>
<path fill="#c81" d="M584 715l7 2 5 2-6-2zm-6-2l6 2 6 2-7-2z"/>
<path fill="#c72" d="M571 711l7 2 5 2-7-2zm-7-2l7 2 5 2-7-2zm-7-1l7 1 5 2-7-1zm-7 0l7 0 5 2-6 0z"/>
<path fill="#d72" d="M543 708l7 0 6 2-7 0zm-6 1l6-1 6 2-7 1zm-7 1l7-1 5 2-7 2zm-7 2l7-2 5 3-7 1zm-7 2l7-2 5 2-7 2zm-7 2l7-2 5 2-6 2zm-6 2l6-2 6 2-7 2zm-7 3l7-3 5 2-7 3zm-7 3l7-3 5 2-7 3zm-7 3l7-3 5 2-7 3zm-7 3l7-3 5 2-6 3zm-7 4l7-4 6 2-7 3z"/>
<path fill="#d82" d="M462 737l6-3 6 1-7 4zm-7 4l7-4 5 2-7 5z"/>
<path fill="#e82" d="M448 746l7-5 5 3-7 5z"/>
<path fill="#e92" d="M441 752l7-6 5 3-7 6zm-7 6l7-6 5 3-6 7z"/>
<path fill="#ea2" d="M428 765l6-7 6 4-7 7zm-7 6l7-6 5 4-7 6z"/>
<path fill="#eb1" d="M414 778l7-7 5 4-7 7zm-7 6l7-6 5 4-7 6z"/>
<path fill="#ec1" d="M400 790l7-6 5 4-6 5zm-7 5l7-5 6 3-7 5zm-6 3l6-3 6 3-7 3zm-7 3l7-3 5 3-7 2z"/>
<path fill="#dc1" d="M373 802l7-1 5 2-7 1z"/>
<path fill="#db1" d="M366 803l7-1 5 2-6 1zm-7-1l7 1 6 2-7-1z"/>
<path fill="#da1" d="M353 801l6 1 6 2-7-1zm-7-1l7 1 5 2-7-1z"/>
<path fill="#ca1" d="M339 798l7 2 5 2-7-2z"/>
<path fill="#c91" d="M332 796l7 2 5 2-7-2zm-7-3l7 3 5 2-6-3z"/>
<path fill="#c81" d="M318 791l7 2 6 2-7-2zm-6-2l6 2 6 2-7-2z"/>
<path fill="#d82" d="M305 787l7 2 5 2-7-1z"/>
<path fill="#da1" d="M617 726l7 2 5 4-7-2zm-7-2l7 2 5 4-7-3z"/>
<path fill="#d91" d="M603 722l7 2 5 3-6-2z"/>
<path fill="#c91" d="M596 719l7 3 6 3-7-3z"/>
<path fill="#c81" d="M590 717l6 2 6 3-7-2z"/>
<path fill="#c82" d="M583 715l7 2 5 3-7-3zm-7-2l7 2 5 2-7-2z"/>
<path fill="#c72" d="M569 711l7 2 5 2-6-1zm-7-1l7 1 6 3-7-1z"/>
<path fill="#d72" d="M556 710l6 0 6 3-7 0zm-7 0l7 0 5 3-7 0zm-7 1l7-1 5 3-7 2zm-7 2l7-2 5 4-7 1zm-7 1l7-1 5 3-6 1zm-7 2l7-2 6 3-7 2zm-6 2l6-2 6 3-7 2zm-7 2l7-2 5 3-7 2zm-7 3l7-3 5 3-7 3zm-7 3l7-3 5 3-6 2zm-7 3l7-3 6 2-7 3zm-6 3l6-3 6 2-7 3zm-7 3l7-3 5 2-7 4z"/>
<path fill="#d82" d="M467 739l7-4 5 3-7 3z"/>
<path fill="#e82" d="M460 744l7-5 5 2-7 5zm-7 5l7-5 5 2-6 6z"/>
<path fill="#e92" d="M446 755l7-6 6 3-7 7zm-6 7l6-7 6 4-7 7z"/>
<path fill="#ea2" d="M433 769l7-7 5 4-7 7z"/>
<path fill="#eb2" d="M426 775l7-6 5 4-7 6z"/>
<path fill="#eb1" d="M419 782l7-7 5 4-6 7z"/>
<path fill="#ec1" d="M412 788l7-6 6 4-7 6zm-6 5l6-5 6 4-7 5zm-7 5l7-5 5 4-7 4zm-7 3l7-3 5 3-7 2z"/>
<path fill="#dc1" d="M385 803l7-2 5 2-7 2z"/>
<path fill="#db1" d="M378 804l7-1 5 2-6 1zm-6 1l6-1 6 2-7 0zm-7-1l7 1 5 1-7 0z"/>
<path fill="#da1" d="M358 803l7 1 5 2-7-1z"/>
<path fill="#ca1" d="M351 802l7 1 5 2-7-2zm-7-2l7 2 5 1-6-2z"/>
<path fill="#c91" d="M337 798l7 2 6 1-7-2zm-6-3l6 3 6 1-7-2z"/>
<path fill="#c81" d="M324 793l7 2 5 2-7-2z"/>
<path fill="#d81" d="M317 791l7 2 5 2-7-1z"/>
<path fill="#d82" d="M310 790l7 1 5 3-7-1z"/>
<path fill="#da1" d="M622 730l7 2 5 3-6-2zm-7-3l7 3 6 3-7-2z"/>
<path fill="#d91" d="M609 725l6 2 6 4-7-3zm-7-3l7 3 5 3-7-3z"/>
<path fill="#c81" d="M595 720l7 2 5 3-7-3z"/>
<path fill="#c82" d="M588 717l7 3 5 2-7-2zm-7-2l7 2 5 3-6-2z"/>
<path fill="#d72" d="M575 714l6 1 6 3-7-1zm-7-1l7 1 5 3-7-1zm-7 0l7 0 5 3-7 0zm-7 0l7 0 5 3-7 1zm-7 2l7-2 5 4-6 1zm-7 1l7-1 6 3-7 2zm-6 1l6-1 6 4-7 1zm-7 2l7-2 5 4-7 2zm-7 2l7-2 5 4-7 2zm-7 2l7-2 5 4-7 2zm-7 3l7-3 5 4-6 3zm-6 2l6-2 6 4-7 2zm-7 3l7-3 5 4-7 3zm-7 3l7-3 5 4-7 2z"/>
<path fill="#d82" d="M479 738l7-4 5 3-7 4z"/>
<path fill="#e82" d="M472 741l7-3 5 3-6 4zm-7 5l7-5 6 4-7 5z"/>
<path fill="#e92" d="M459 752l6-6 6 4-7 6zm-7 7l7-7 5 4-7 7z"/>
<path fill="#ea2" d="M445 766l7-7 5 4-7 7zm-7 7l7-7 5 4-7 7z"/>
<path fill="#fb1" d="M431 779l7-6 5 4-6 7zm-6 7l6-7 6 5-7 6z"/>
<path fill="#ec1" d="M418 792l7-6 5 4-7 5zm-7 5l7-5 5 3-7 5zm-7 4l7-4 5 3-7 3zm-7 2l7-2 5 2-6 2z"/>
<path fill="#dc1" d="M390 805l7-2 6 2-7 2z"/>
<path fill="#db1" d="M384 806l6-1 6 2-7 1zm-7 0l7 0 5 2-7 0zm-7 0l7 0 5 2-7-1z"/>
<path fill="#da1" d="M363 805l7 1 5 1-7-1z"/>
<path fill="#ca1" d="M356 803l7 2 5 1-6-2z"/>
<path fill="#c91" d="M350 801l6 2 6 1-7-1zm-7-2l7 2 5 2-7-2zm-7-2l7 2 5 2-7-2z"/>
<path fill="#d91" d="M329 795l7 2 5 2-7-1z"/>
<path fill="#d81" d="M322 794l7 1 5 3-6-1z"/>
<path fill="#d82" d="M315 793l7 1 6 3-7 0z"/>
<path fill="#da1" d="M628 733l6 2 6 3-7-2zm-7-2l7 2 5 3-7-2z"/>
<path fill="#d91" d="M614 728l7 3 5 3-7-3zm-7-3l7 3 5 3-7-3z"/>
<path fill="#d81" d="M600 722l7 3 5 3-6-2z"/>
<path fill="#d82" d="M593 720l7 2 6 4-7-3zm-6-2l6 2 6 3-7-1zm-7-1l7 1 5 4-7-2z"/>
<path fill="#d72" d="M573 716l7 1 5 3-7 0zm-7 0l7 0 5 4-7 0zm-7 1l7-1 5 4-6 1zm-6 1l6-1 6 4-7 2zm-7 2l7-2 5 5-7 1zm-7 1l7-1 5 4-7 2zm-7 2l7-2 5 5-7 2zm-7 2l7-2 5 5-6 1zm-7 2l7-2 6 4-7 2zm-6 3l6-3 6 4-7 3zm-7 2l7-2 5 4-7 2z"/>
<path fill="#d82" d="M498 735l7-3 5 4-7 2zm-7 2l7-2 5 3-7 3z"/>
<path fill="#e82" d="M484 741l7-4 5 4-6 4zm-6 4l6-4 6 4-7 4zm-7 5l7-5 5 4-7 5z"/>
<path fill="#e92" d="M464 756l7-6 5 4-7 6zm-7 7l7-7 5 4-7 7z"/>
<path fill="#fa2" d="M450 770l7-7 5 4-6 8z"/>
<path fill="#fb2" d="M443 777l7-7 6 5-7 7z"/>
<path fill="#fb1" d="M437 784l6-7 6 5-7 6z"/>
<path fill="#fc1" d="M430 790l7-6 5 4-7 6z"/>
<path fill="#ec1" d="M423 795l7-5 5 4-7 5zm-7 5l7-5 5 4-7 3zm-7 3l7-3 5 2-6 3z"/>
<path fill="#dc1" d="M403 805l6-2 6 2-7 2z"/>
<path fill="#db1" d="M396 807l7-2 5 2-7 2zm-7 1l7-1 5 2-7 0zm-7 0l7 0 5 1-7 0z"/>
<path fill="#da1" d="M375 807l7 1 5 1-6-1z"/>
<path fill="#ca1" d="M368 806l7 1 6 1-7-1zm-6-2l6 2 6 1-7-2z"/>
<path fill="#c91" d="M355 803l7 1 5 1-7-1zm-7-2l7 2 5 1-7-1z"/>
<path fill="#d91" d="M341 799l7 2 5 2-7-1zm-7-1l7 1 5 3-6-1z"/>
<path fill="#d92" d="M328 797l6 1 6 3-7 0z"/>
<path fill="#d82" d="M321 797l7 0 5 4-7 0z"/>
<path fill="#da1" d="M633 736l7 2 5 4-7-2zm-7-2l7 2 5 4-7-3z"/>
<path fill="#d91" d="M619 731l7 3 5 3-7-3zm-7-3l7 3 5 3-6-3z"/>
<path fill="#d81" d="M606 726l6 2 6 3-7-2z"/>
<path fill="#d82" d="M599 723l7 3 5 3-7-2zm-7-1l7 1 5 4-7-2zm-7-2l7 2 5 3-7 0zm-7 0l7 0 5 5-6-1zm-7 0l7 0 6 4-7 1zm-6 1l6-1 6 5-7 1zm-7 2l7-2 5 5-7 2zm-7 1l7-1 5 5-7 1zm-7 2l7-2 5 5-7 2zm-7 2l7-2 5 5-6 1zm-6 1l6-1 6 4-7 2z"/>
<path fill="#e82" d="M524 731l7-2 5 5-7 2z"/>
<path fill="#d82" d="M517 734l7-3 5 5-7 2zm-7 2l7-2 5 4-7 2z"/>
<path fill="#e82" d="M503 738l7-2 5 4-6 3zm-7 3l7-3 6 5-7 3zm-6 4l6-4 6 5-7 3zm-7 4l7-4 5 4-7 5z"/>
<path fill="#e92" d="M476 754l7-5 5 5-7 5zm-7 6l7-6 5 5-7 6z"/>
<path fill="#fa2" d="M462 767l7-7 5 5-6 7zm-6 8l6-8 6 5-7 8z"/>
<path fill="#fb2" d="M449 782l7-7 5 5-7 6z"/>
<path fill="#fb1" d="M442 788l7-6 5 4-7 7z"/>
<path fill="#ec1" d="M435 794l7-6 5 5-7 4zm-7 5l7-5 5 3-6 4zm-7 3l7-3 6 2-7 3z"/>
<path fill="#db1" d="M415 805l6-3 6 2-7 3zm-7 2l7-2 5 2-7 2zm-7 2l7-2 5 2-7 1zm-7 0l7 0 5 1-6 0zm-7 0l7 0 6 1-7 0z"/>
<path fill="#da1" d="M381 808l6 1 6 1-7-1z"/>
<path fill="#ca1" d="M374 807l7 1 5 1-7-1z"/>
<path fill="#c91" d="M367 805l7 2 5 1-7-1zm-7-1l7 1 5 2-7-2z"/>
<path fill="#d91" d="M353 803l7 1 5 1-6 0zm-7-1l7 1 6 2-7-1zm-6-1l6 1 6 2-7 0z"/>
<path fill="#d92" d="M333 801l7 0 5 3-7 1zm-7 0l7 0 5 4-7 0z"/>
<path fill="#da1" d="M638 740l7 2 5 3-7-2zm-7-3l7 3 5 3-6-2z"/>
<path fill="#d91" d="M624 734l7 3 6 4-7-3zm-6-3l6 3 6 4-7-3zm-7-2l7 2 5 4-7-3z"/>
<path fill="#d82" d="M604 727l7 2 5 3-7-1zm-7-2l7 2 5 4-6-1zm-7 0l7 0 6 5-7-1zm-6-1l6 1 6 4-7 0zm-7 1l7-1 5 5-7 1z"/>
<path fill="#e82" d="M570 726l7-1 5 5-7 1zm-7 2l7-2 5 5-7 2zm-7 1l7-1 5 5-6 1zm-7 2l7-2 6 5-7 2zm-6 1l6-1 6 5-7 2zm-7 2l7-2 5 6-7 1zm-7 2l7-2 5 5-7 2zm-7 2l7-2 5 5-6 2zm-7 2l7-2 6 5-7 2zm-6 3l6-3 6 5-7 3zm-7 3l7-3 5 5-7 3zm-7 3l7-3 5 5-7 4z"/>
<path fill="#e92" d="M488 754l7-5 5 6-7 4zm-7 5l7-5 5 5-6 6z"/>
<path fill="#f92" d="M474 765l7-6 6 6-7 6z"/>
<path fill="#fa2" d="M468 772l6-7 6 6-7 7z"/>
<path fill="#fb2" d="M461 780l7-8 5 6-7 7z"/>
<path fill="#fb1" d="M454 786l7-6 5 5-7 6z"/>
<path fill="#eb1" d="M447 793l7-7 5 5-6 5z"/>
<path fill="#ec1" d="M440 797l7-4 6 3-7 4z"/>
<path fill="#eb1" d="M434 801l6-4 6 3-7 4zm-7 3l7-3 5 3-7 2z"/>
<path fill="#db1" d="M420 807l7-3 5 2-7 2zm-7 2l7-2 5 1-7 2zm-7 1l7-1 5 1-6 1zm-6 0l6 0 6 1-7 0z"/>
<path fill="#da1" d="M393 810l7 0 5 1-7 0z"/>
<path fill="#ca1" d="M386 809l7 1 5 1-7-1zm-7-1l7 1 5 1-7-1z"/>
<path fill="#c91" d="M372 807l7 1 5 1-6-1z"/>
<path fill="#d91" d="M365 805l7 2 6 1-7-1zm-6 0l6 0 6 2-7 0zm-7-1l7 1 5 2-7 1zm-7 0l7 0 5 4-7 0z"/>
<path fill="#d92" d="M338 805l7-1 5 4-7 1zm-7 0l7 0 5 4-6 0z"/>
<path fill="#db1" d="M643 743l7 2 6 4-7-3z"/>
<path fill="#da1" d="M637 741l6 2 6 3-7-2zm-7-3l7 3 5 3-7-3z"/>
<path fill="#d91" d="M623 735l7 3 5 3-7-3zm-7-3l7 3 5 3-7-2z"/>
<path fill="#d92" d="M609 731l7 1 5 4-6-1z"/>
<path fill="#d82" d="M603 730l6 1 6 4-7-1zm-7-1l7 1 5 4-7 0zm-7 0l7 0 5 5-7 1z"/>
<path fill="#e82" d="M582 730l7-1 5 6-7 0zm-7 1l7-1 5 5-6 2zm-7 2l7-2 6 6-7 1zm-6 1l6-1 6 5-7 2zm-7 2l7-2 5 6-7 1zm-7 2l7-2 5 5-7 2zm-7 1l7-1 5 5-7 2zm-7 2l7-2 5 6-6 1zm-6 2l6-2 6 5-7 2zm-7 2l7-2 5 5-7 3zm-7 3l7-3 5 6-7 3zm-7 3l7-3 5 6-7 3z"/>
<path fill="#e92" d="M500 755l7-4 5 6-6 4zm-7 4l7-4 6 6-7 4z"/>
<path fill="#f92" d="M487 765l6-6 6 6-7 5z"/>
<path fill="#fa2" d="M480 771l7-6 5 5-7 7zm-7 7l7-7 5 6-7 7z"/>
<path fill="#fb1" d="M466 785l7-7 5 6-7 6zm-7 6l7-6 5 5-6 5z"/>
<path fill="#eb1" d="M453 796l6-5 6 4-7 5zm-7 4l7-4 5 4-7 3zm-7 4l7-4 5 3-7 3z"/>
<path fill="#db1" d="M432 806l7-2 5 2-7 2zm-7 2l7-2 5 2-6 2zm-7 2l7-2 6 2-7 1zm-6 1l6-1 6 1-7 1z"/>
<path fill="#da1" d="M405 811l7 0 5 1-7 0zm-7 0l7 0 5 1-7 0z"/>
<path fill="#ca1" d="M391 810l7 1 5 1-7-1zm-7-1l7 1 5 1-6-1z"/>
<path fill="#d91" d="M378 808l6 1 6 1-7 0zm-7-1l7 1 5 2-7 0zm-7 0l7 0 5 3-7 0zm-7 1l7-1 5 3-7 1zm-7 0l7 0 5 3-6 1z"/>
<path fill="#e92" d="M343 809l7-1 6 4-7 1zm-6 0l6 0 6 4-7 1z"/>
<path fill="#db1" d="M649 746l7 3 5 3-7-2z"/>
<path fill="#da1" d="M642 744l7 2 5 4-7-3zm-7-3l7 3 5 3-7-3z"/>
<path fill="#d91" d="M628 738l7 3 5 3-6-2zm-7-2l7 2 6 4-7-1z"/>
<path fill="#d92" d="M615 735l6 1 6 5-7-1zm-7-1l7 1 5 5-7 0z"/>
<path fill="#e92" d="M601 734l7 0 5 6-7 0zm-7 1l7-1 5 6-7 0zm-7 0l7 0 5 5-6 1zm-6 2l6-2 6 6-7 1zm-7 1l7-1 5 5-7 2zm-7 2l7-2 5 6-7 2z"/>
<path fill="#e82" d="M560 741l7-1 5 6-7 1zm-7 2l7-2 5 6-6 2zm-7 2l7-2 6 6-7 1zm-6 1l6-1 6 5-7 2z"/>
<path fill="#e92" d="M533 748l7-2 5 6-7 2zm-7 3l7-3 5 6-7 3zm-7 3l7-3 5 6-7 3zm-7 3l7-3 5 6-6 3zm-6 4l6-4 6 6-7 4zm-7 4l7-4 5 6-7 4z"/>
<path fill="#fa2" d="M492 770l7-5 5 6-7 6zm-7 7l7-7 5 7-7 6z"/>
<path fill="#fb2" d="M478 784l7-7 5 6-6 7z"/>
<path fill="#fb1" d="M471 790l7-6 6 6-7 5z"/>
<path fill="#eb1" d="M465 795l6-5 6 5-7 4zm-7 5l7-5 5 4-7 3zm-7 3l7-3 5 2-7 3z"/>
<path fill="#db1" d="M444 806l7-3 5 2-7 2zm-7 2l7-2 5 1-6 2zm-6 2l6-2 6 1-7 2zm-7 1l7-1 5 1-7 1zm-7 1l7-1 5 1-7 1z"/>
<path fill="#da1" d="M410 812l7 0 5 1-7 0z"/>
<path fill="#ca1" d="M403 812l7 0 5 1-6-1zm-7-1l7 1 6 0-7 0z"/>
<path fill="#da1" d="M390 810l6 1 6 1-7 0zm-7 0l7 0 5 2-7 0zm-7 0l7 0 5 2-7 1zm-7 0l7 0 5 3-7 1zm-7 1l7-1 5 4-6 1z"/>
<path fill="#ea1" d="M356 812l6-1 6 4-7 1z"/>
<path fill="#ea2" d="M349 813l7-1 5 4-7 1zm-7 1l7-1 5 4-7 2z"/>
<path fill="#db1" d="M654 750l7 2 5 3-7-2z"/>
<path fill="#da1" d="M647 747l7 3 5 3-7-3zm-7-3l7 3 5 3-6-2zm-6-2l6 2 6 4-7-1z"/>
<path fill="#d91" d="M627 741l7 1 5 5-7-1z"/>
<path fill="#d92" d="M620 740l7 1 5 5-7-1z"/>
<path fill="#e92" d="M613 740l7 0 5 5-7 0zm-7 0l7 0 5 5-6 1zm-7 0l7 0 6 6-7 0zm-6 1l6-1 6 6-7 1zm-7 1l7-1 5 6-7 1zm-7 2l7-2 5 6-7 2zm-7 2l7-2 5 6-7 2zm-7 1l7-1 5 6-6 1zm-6 2l6-2 6 6-7 1zm-7 1l7-1 5 5-7 2zm-7 2l7-2 5 6-7 3zm-7 2l7-2 5 7-7 2zm-7 3l7-3 5 7-6 3zm-7 3l7-3 6 7-7 3zm-6 3l6-3 6 7-7 3z"/>
<path fill="#ea2" d="M511 767l7-4 5 7-7 4z"/>
<path fill="#fa2" d="M504 771l7-4 5 7-7 4zm-7 6l7-6 5 7-7 5z"/>
<path fill="#fb2" d="M490 783l7-6 5 6-6 7z"/>
<path fill="#fb1" d="M484 790l6-7 6 7-7 5z"/>
<path fill="#eb1" d="M477 795l7-5 5 5-7 4zm-7 4l7-4 5 4-7 3zm-7 3l7-3 5 3-7 3zm-7 3l7-3 5 3-6 2z"/>
<path fill="#db1" d="M449 807l7-2 6 2-7 2zm-6 2l6-2 6 2-7 2zm-7 2l7-2 5 2-7 1zm-7 1l7-1 5 1-7 1z"/>
<path fill="#da1" d="M422 813l7-1 5 1-6 1zm-7 0l7 0 6 1-7 0zm-6-1l6 1 6 1-7-1zm-7 0l7 0 5 1-7 0zm-7 0l7 0 5 1-7 1zm-7 0l7 0 5 2-7 1zm-7 1l7-1 5 3-6 1zm-7 1l7-1 6 3-7 1z"/>
<path fill="#ea1" d="M368 815l6-1 6 3-7 2zm-7 1l7-1 5 4-7 1zm-7 1l7-1 5 4-7 2z"/>
<path fill="#ea2" d="M347 819l7-2 5 5-6 2z"/>
<path fill="#db1" d="M659 753l7 2 5 3-6-2z"/>
<path fill="#da1" d="M652 750l7 3 6 3-7-2zm-6-2l6 2 6 4-7-1zm-7-1l7 1 5 5-7-1zm-7-1l7 1 5 5-7-1z"/>
<path fill="#ea1" d="M625 745l7 1 5 5-6 0z"/>
<path fill="#ea2" d="M618 745l7 0 6 6-7 0zm-6 1l6-1 6 6-7 1z"/>
<path fill="#e92" d="M605 746l7 0 5 6-7 0zm-7 1l7-1 5 6-7 1zm-7 1l7-1 5 6-7 2zm-7 2l7-2 5 7-6 1zm-7 2l7-2 6 6-7 2zm-6 1l6-1 6 6-7 1zm-7 1l7-1 5 6-7 2zm-7 2l7-2 5 7-7 2zm-7 3l7-3 5 7-6 2z"/>
<path fill="#ea2" d="M543 761l7-2 6 6-7 3zm-6 3l6-3 6 7-7 3zm-7 3l7-3 5 7-7 3z"/>
<path fill="#fa2" d="M523 770l7-3 5 7-7 3zm-7 4l7-4 5 7-7 4zm-7 4l7-4 5 7-6 4z"/>
<path fill="#fb2" d="M502 783l7-5 6 7-7 5z"/>
<path fill="#fb1" d="M496 790l6-7 6 7-7 5zm-7 5l7-5 5 5-7 5z"/>
<path fill="#eb1" d="M482 799l7-4 5 5-7 3zm-7 3l7-3 5 4-6 2zm-7 3l7-3 6 3-7 3z"/>
<path fill="#db1" d="M462 807l6-2 6 3-7 1zm-7 2l7-2 5 2-7 2zm-7 2l7-2 5 2-7 1zm-7 1l7-1 5 1-7 1z"/>
<path fill="#da1" d="M434 813l7-1 5 1-6 1zm-6 1l6-1 6 1-7 0zm-7 0l7 0 5 0-7 0zm-7-1l7 1 5 0-7 1zm-7 0l7 0 5 2-7 0zm-7 1l7-1 5 2-6 1zm-7 1l7-1 6 2-7 1zm-6 1l6-1 6 2-7 2z"/>
<path fill="#ea1" d="M380 817l7-1 5 3-7 2zm-7 2l7-2 5 4-7 2zm-7 1l7-1 5 4-7 2zm-7 2l7-2 5 5-6 2zm-6 2l6-2 6 5-7 2z"/>
<path fill="#db1" d="M665 756l6 2 6 4-7-2zm-7-2l7 2 5 4-7-2zm-7-1l7 1 5 4-7-1z"/>
<path fill="#da1" d="M644 752l7 1 5 4-7 0z"/>
<path fill="#ea1" d="M637 751l7 1 5 5-6 0zm-6 0l6 0 6 6-7 0zm-7 0l7 0 5 6-7 0zm-7 1l7-1 5 6-7 1z"/>
<path fill="#ea2" d="M610 752l7 0 5 6-7 1zm-7 1l7-1 5 7-6 1zm-7 2l7-2 6 7-7 1zm-6 1l6-1 6 6-7 2zm-7 2l7-2 5 7-7 1zm-7 1l7-1 5 6-7 2zm-7 2l7-2 5 7-7 2zm-7 2l7-2 5 7-6 2zm-6 2l6-2 6 7-7 3zm-7 3l7-3 5 8-7 2zm-7 3l7-3 5 7-7 3z"/>
<path fill="#fa2" d="M535 774l7-3 5 7-7 3zm-7 3l7-3 5 7-6 4z"/>
<path fill="#fb2" d="M521 781l7-4 6 8-7 3z"/>
<path fill="#fb1" d="M515 785l6-4 6 7-7 4zm-7 5l7-5 5 7-7 5z"/>
<path fill="#fc1" d="M501 795l7-5 5 7-7 4z"/>
<path fill="#ec1" d="M494 800l7-5 5 6-7 3z"/>
<path fill="#eb1" d="M487 803l7-3 5 4-6 3zm-6 2l6-2 6 4-7 2zm-7 3l7-3 5 4-7 1z"/>
<path fill="#db1" d="M467 809l7-1 5 2-7 1zm-7 2l7-2 5 2-7 1zm-7 1l7-1 5 1-6 1z"/>
<path fill="#da1" d="M446 813l7-1 6 1-7 1zm-6 1l6-1 6 1-7 1zm-7 0l7 0 5 1-7 0zm-7 0l7 0 5 1-7 0zm-7 1l7-1 5 1-7 1zm-7 0l7 0 5 1-6 1zm-6 1l6-1 6 2-7 2zm-7 1l7-1 5 3-7 1z"/>
<path fill="#ea1" d="M392 819l7-2 5 3-7 2zm-7 2l7-2 5 3-7 2zm-7 2l7-2 5 3-6 3zm-7 2l7-2 6 4-7 2zm-6 2l6-2 6 4-7 3z"/>
<path fill="#eb1" d="M358 829l7-2 5 5-7 2z"/>
<path fill="#db1" d="M670 760l7 2 5 3-7-1zm-7-2l7 2 5 4-7-1zm-7-1l7 1 5 5-6-1zm-7 0l7 0 6 5-7 0z"/>
<path fill="#eb1" d="M643 757l6 0 6 5-7 0z"/>
<path fill="#ea1" d="M636 757l7 0 5 5-7 0zm-7 0l7 0 5 5-7 1zm-7 1l7-1 5 6-7 1zm-7 1l7-1 5 6-6 1zm-6 1l6-1 6 6-7 1zm-7 1l7-1 5 6-7 1z"/>
<path fill="#ea2" d="M595 763l7-2 5 6-7 2zm-7 1l7-1 5 6-7 2zm-7 2l7-2 5 7-6 2zm-7 2l7-2 6 7-7 2zm-6 2l6-2 6 7-7 2zm-7 3l7-3 5 7-7 2z"/>
<path fill="#eb2" d="M554 775l7-2 5 6-7 3z"/>
<path fill="#fb2" d="M547 778l7-3 5 7-7 3z"/>
<path fill="#fb1" d="M540 781l7-3 5 7-6 3zm-6 4l6-4 6 7-7 4zm-7 3l7-3 5 7-7 3z"/>
<path fill="#fc1" d="M520 792l7-4 5 7-7 4zm-7 5l7-5 5 7-7 4zm-7 4l7-4 5 6-6 3z"/>
<path fill="#ec1" d="M499 804l7-3 6 5-7 3zm-6 3l6-3 6 5-7 2z"/>
<path fill="#eb1" d="M486 809l7-2 5 4-7 1zm-7 1l7-1 5 3-7 1z"/>
<path fill="#db1" d="M472 811l7-1 5 3-7 1zm-7 1l7-1 5 3-6 0z"/>
<path fill="#da1" d="M459 813l6-1 6 2-7 1zm-7 1l7-1 5 2-7 0zm-7 1l7-1 5 1-7 0zm-7 0l7 0 5 0-7 1zm-7 0l7 0 5 1-6 1zm-7 1l7-1 6 2-7 1zm-6 1l6-1 6 2-7 1zm-7 2l7-2 5 2-7 2z"/>
<path fill="#ea1" d="M404 820l7-1 5 2-7 2zm-7 2l7-2 5 3-7 3zm-7 2l7-2 5 4-6 2zm-6 3l6-3 6 4-7 3z"/>
<path fill="#eb1" d="M377 829l7-2 5 4-7 3zm-7 3l7-3 5 5-7 2zm-7 2l7-2 5 4-7 3z"/>
</g>
<g fill="#0a14f5"><circle cx="62.4" cy="352" r="2.3"/><circle cx="92.8" cy="379.5" r="2.3"/><circle cx="123.3" cy="385.2" r="2.3"/><circle cx="153.8" cy="394" r="2.3"/><circle cx="184.2" cy="419.6" r="2.3"/><circle cx="101.6" cy="358.5" r="2.3"/><path d="M129.3 362.7a2.7 2.7 0 0 1 5.4 0z"/><path d="M159.8 380.7a2.7 2.7 0 0 1 5.4 0z"/><path d="M190.2 401.1a2.7 2.7 0 0 1 5.4 0z"/><circle cx="223.4" cy="407.8" r="2.3"/><circle cx="140.8" cy="327" r="2.3"/><path d="M168.6 350.2a2.7 2.7 0 0 1 5.4 0z"/><path d="M199 373.6a2.7 2.7 0 0 1 5.4 0z"/><path d="M229.5 369.6a2.7 2.7 0 0 1 5.4 0z"/><circle cx="262.6" cy="399.7" r="2.3"/><circle cx="180" cy="312.7" r="2.3"/><path d="M207.8 343.8a2.7 2.7 0 0 1 5.4 0z"/><path d="M238.2 352.6a2.7 2.7 0 0 1 5.4 0z"/><path d="M268.7 355.3a2.7 2.7 0 0 1 5.4 0z"/><circle cx="301.8" cy="384.1" r="2.3"/><circle cx="219.2" cy="321.3" r="2.3"/><circle cx="249.7" cy="332.7" r="2.3"/><circle cx="280.1" cy="344.3" r="2.3"/><circle cx="310.6" cy="363.3" r="2.3"/><circle cx="341" cy="382.6" r="2.3"/></g>
<text x="84.9" y="350.0" font-size="14" fill="#2c2c86" stroke="#2c2c86" stroke-width="0.35">0.74</text>
<text x="116.6" y="329.3" font-size="14" fill="#2c2c86" stroke="#2c2c86" stroke-width="0.35">0.81</text>
<text x="186.1" y="313.4" font-size="14" fill="#1e1e1e" stroke="#1e1e1e" stroke-width="0.35">0.85</text>
<text x="70.3" y="391.5" font-size="14" fill="#2c2c86" stroke="#2c2c86" stroke-width="0.35">0.70</text>
<text x="103.2" y="401.0" font-size="14" fill="#2c2c86" stroke="#2c2c86" stroke-width="0.35">0.87</text>
<text x="133.7" y="408.5" font-size="14" fill="#2c2c86" stroke="#2c2c86" stroke-width="0.35">0.90</text>
<text x="225.7" y="320.7" font-size="14" fill="#2c2c86" stroke="#2c2c86" stroke-width="0.35">0.76</text>
<text x="255.0" y="333.0" font-size="14" fill="#1e1e1e" stroke="#1e1e1e" stroke-width="0.35">0.76</text>
<text x="277.0" y="344.0" font-size="14" fill="#2c2c86" stroke="#2c2c86" stroke-width="0.35">0.74</text>
<text x="309.9" y="361.0" font-size="14" fill="#2c2c86" stroke="#2c2c86" stroke-width="0.35">0.78</text>
<text x="290.4" y="401.0" font-size="14" fill="#1e1e1e" stroke="#1e1e1e" stroke-width="0.35">0.74</text>
<text x="252.6" y="414.6" font-size="14" fill="#2c2c86" stroke="#2c2c86" stroke-width="0.35">0.78</text>
<text x="55.9" y="433.4" text-anchor="end" font-size="14" fill="#303030" stroke="#303030" stroke-width="0.25">0.2</text>
<text x="55.9" y="409.2" text-anchor="end" font-size="14" fill="#303030" stroke="#303030" stroke-width="0.25">0.4</text>
<text x="55.9" y="385.1" text-anchor="end" font-size="14" fill="#303030" stroke="#303030" stroke-width="0.25">0.6</text>
<text x="55.9" y="360.9" text-anchor="end" font-size="14" fill="#303030" stroke="#303030" stroke-width="0.25">0.8</text>
<text x="55.9" y="336.8" text-anchor="end" font-size="14" fill="#303030" stroke="#303030" stroke-width="0.25">1.0</text>
<text transform="translate(31.4 383.8) rotate(-90)" text-anchor="middle" font-size="15.5" fill="#202020" stroke="#202020" stroke-width="0.25">Power Spectrum (arb. units)</text>
<text x="46" y="470.4" font-size="14" fill="#303030" stroke="#303030" stroke-width="0.25">4.4</text>
<text x="155.1" y="523.2" font-size="14" fill="#303030" stroke="#303030" stroke-width="0.25">3.6</text>
<text x="196.6" y="525.1" font-size="14" fill="#303030" stroke="#303030" stroke-width="0.25">0</text>
<text x="342.7" y="483.8" font-size="14" fill="#303030" stroke="#303030" stroke-width="0.25">2.5</text>
<text transform="translate(77.3 497.6) rotate(24.7)" font-size="15" fill="#202020" stroke="#202020" stroke-width="0.25"><tspan font-style="italic" font-size="16">L</tspan><tspan font-style="italic" font-size="11" dy="3.5">C</tspan><tspan dy="-3.5" dx="1.5">(mm)</tspan></text>
<g transform="translate(245.2 524.9) rotate(-15.4)"><path d="M0.5 0L6 -10.5L11.5 0Z" fill="none" stroke="#303030" stroke-width="0.9"/><text x="13" y="0" font-size="16" fill="#202020" stroke="#202020" stroke-width="0.25"><tspan font-style="italic">P</tspan> (mW)</text></g>
<text x="71.5" y="295" font-size="17.5" font-style="italic" fill="#f75a30" stroke="#f75a30" stroke-width="0.3" xml:space="preserve">k<tspan font-size="10" dy="3">z</tspan><tspan dy="-3"> &gt; 0  &#8467;=+2</tspan></text>
<text x="4.2" y="282.5" font-size="20.5" font-weight="bold" fill="#111">c</text>
<path d="M439.1 334L595.9 290.8L717.7 346.8M595.9 411.8L595.9 290.8M717.7 467.8L717.7 346.8M439.1 455L595.9 411.8L717.7 467.8" fill="none" stroke="#8a8a8a" stroke-width="1"/>
<path d="M439.1 455V320" stroke="#6e6e6e" stroke-width="1.8"/>
<path d="M439.1 313l3.8 8.5h-7.6z"/>
<path d="M435.1 429.6h4M435.1 405.4h4M435.1 381.2h4M435.1 357.1h4M435.1 332.9h4" stroke="#6e6e6e" stroke-width="1"/>
<path d="M469.6 469l-2.8 0.8M500 483l-2.8 0.8M530.5 497l-2.8 0.8M600.1 500.2l2.6 1.2M639.3 489.4l2.6 1.2M678.5 478.6l2.6 1.2" stroke="#9a9a9a" stroke-width="1"/>
<path d="M421.6 447.4L560.9 511L745.7 460.1" fill="none" stroke="#151515" stroke-width="1.6"/>
<path d="M415.6 444.7L425.4 445L422 447.6L422.2 451.9Z"/>
<path d="M751.7 458.5L744 464.6L745 460.4L742 457.2Z"/>
<g transform="scale(.5)" stroke="#000" stroke-opacity="0.62" stroke-width="1.0" stroke-linejoin="round">
<path fill="#29c" d="M1183 817l9-3 7 3-9 3zm-9 3l9-3 7 3-9 3zm-8 2l8-2 7 3-9 3zm-9 3l9-3 6 4-8 2zm-9 3l9-3 7 3-9 3z"/>
<path fill="#29b" d="M1140 830l8-2 7 3-9 2z"/>
<path fill="#28b" d="M1131 833l9-3 6 3-8 2zm-9 2l9-2 7 2-9 2zm-9 2l9-2 7 2-9 2z"/>
<path fill="#28a" d="M1105 838l8-1 7 2-9 2zm-9 2l9-2 6 3-8 1zm-9 1l9-1 7 2-9 2zm-8 1l8-1 7 3-9 1z"/>
<path fill="#27a" d="M1070 844l9-2 6 3-8 1zm-9 1l9-1 7 2-9 1zm-9 1l9-1 7 2-9 1z"/>
<path fill="#28a" d="M1044 846l8 0 7 2-9 1zm-9 1l9-1 6 3-8 1zm-9 1l9-1 7 3-9 1zm-8 1l8-1 7 3-9 1z"/>
<path fill="#28b" d="M1009 851l9-2 6 3-8 2zm-9 1l9-1 7 3-9 1zm-9 2l9-2 7 3-9 2z"/>
<path fill="#29c" d="M983 855l8-1 7 3-8 2zm-9 2l9-2 7 4-9 3z"/>
<path fill="#2ad" d="M965 860l9-3 7 5-9 2zm-8 3l8-3 7 4-9 4z"/>
<path fill="#2ae" d="M948 866l9-3 6 5-8 3zm-9 4l9-4 7 5-9 4zm-9 4l9-4 7 5-9 4z"/>
<path fill="#2be" d="M922 878l8-4 7 5-8 4z"/>
<path fill="#2ae" d="M913 883l9-5 7 5-9 4zm-9 4l9-4 7 4-9 4zm-8 4l8-4 7 4-9 4z"/>
<path fill="#2ad" d="M887 895l9-4 6 4-8 4zm-9 4l9-4 7 4-9 4z"/>
<path fill="#29c" d="M1190 820l9-3 6 4-8 3zm-9 3l9-3 7 4-9 2zm-9 3l9-3 7 3-9 3zm-8 2l8-2 7 3-9 2z"/>
<path fill="#29b" d="M1155 831l9-3 6 3-8 3zm-9 2l9-2 7 3-9 2z"/>
<path fill="#28b" d="M1138 835l8-2 7 3-9 2zm-9 2l9-2 6 3-8 2zm-9 2l9-2 7 3-9 2z"/>
<path fill="#28a" d="M1111 841l9-2 7 3-9 1zm-8 1l8-1 7 2-8 2zm-9 2l9-2 7 3-9 1zm-9 1l9-1 7 2-9 1zm-8 1l8-1 7 2-9 1z"/>
<path fill="#27a" d="M1068 847l9-1 6 2-8 1z"/>
<path fill="#28a" d="M1059 848l9-1 7 2-9 2zm-9 1l9-1 7 3-9 1zm-8 1l8-1 7 3-8 1zm-9 1l9-1 7 3-9 1zm-9 1l9-1 7 3-9 1z"/>
<path fill="#28b" d="M1016 854l8-2 7 3-9 2zm-9 1l9-1 6 3-8 2z"/>
<path fill="#29b" d="M998 857l9-2 7 4-9 2z"/>
<path fill="#29c" d="M990 859l8-2 7 4-9 2zm-9 3l9-3 6 4-8 3z"/>
<path fill="#2ad" d="M972 864l9-2 7 4-9 3zm-9 4l9-4 7 5-9 3z"/>
<path fill="#2ae" d="M955 871l8-3 7 4-9 4zm-9 4l9-4 6 5-8 4zm-9 4l9-4 7 5-9 3zm-8 4l8-4 7 4-9 4zm-9 4l9-4 6 4-8 4zm-9 4l9-4 7 4-9 4z"/>
<path fill="#2ad" d="M902 895l9-4 7 4-9 4zm-8 4l8-4 7 4-9 4zm-9 4l9-4 6 4-8 3z"/>
<path fill="#29c" d="M1197 824l8-3 7 3-9 3zm-9 2l9-2 6 3-8 2zm-9 3l9-3 7 3-9 3zm-9 2l9-2 7 3-9 2z"/>
<path fill="#29b" d="M1162 834l8-3 7 3-8 3z"/>
<path fill="#28b" d="M1153 836l9-2 7 3-9 2zm-9 2l9-2 7 3-9 2zm-8 2l8-2 7 3-9 1zm-9 2l9-2 6 2-8 2z"/>
<path fill="#28a" d="M1118 843l9-1 7 2-9 2zm-8 2l8-2 7 3-9 1zm-9 1l9-1 6 2-8 2zm-9 1l9-1 7 3-9 1zm-9 1l9-1 7 3-9 1zm-8 1l8-1 7 3-9 1zm-9 2l9-2 6 3-8 1zm-9 1l9-1 7 2-9 1zm-8 1l8-1 7 2-9 1zm-9 1l9-1 6 2-8 2z"/>
<path fill="#28b" d="M1031 855l9-1 7 3-9 1zm-9 2l9-2 7 3-9 2z"/>
<path fill="#29b" d="M1014 859l8-2 7 3-9 2z"/>
<path fill="#29c" d="M1005 861l9-2 6 3-8 2zm-9 2l9-2 7 3-9 3z"/>
<path fill="#2ad" d="M988 866l8-3 7 4-9 3zm-9 3l9-3 6 4-8 4zm-9 3l9-3 7 5-9 3z"/>
<path fill="#2ae" d="M961 876l9-4 7 5-9 3zm-8 4l8-4 7 4-9 4zm-9 3l9-3 6 4-8 4zm-9 4l9-4 7 5-9 4zm-8 4l8-4 7 5-9 4z"/>
<path fill="#2ad" d="M918 895l9-4 6 5-8 4zm-9 4l9-4 7 5-9 3zm-9 4l9-4 7 4-9 3z"/>
<path fill="#29c" d="M892 906l8-3 7 3-9 3zm311-79l9-3 7 3-9 3zm-8 2l8-2 7 3-9 3zm-9 3l9-3 6 4-8 2z"/>
<path fill="#29b" d="M1177 834l9-2 7 3-9 2z"/>
<path fill="#28b" d="M1169 837l8-3 7 3-9 2zm-9 2l9-2 6 2-8 2zm-9 2l9-2 7 2-9 2zm-9 1l9-1 7 2-9 2z"/>
<path fill="#28a" d="M1134 844l8-2 7 3-9 2zm-9 2l9-2 6 3-8 1zm-9 1l9-1 7 2-9 2zm-8 2l8-2 7 3-9 1zm-9 1l9-1 6 2-8 1zm-9 1l9-1 7 2-9 1zm-9 1l9-1 7 2-9 1zm-8 1l8-1 7 2-9 1zm-9 1l9-1 6 2-8 2zm-9 1l9-1 7 3-9 1z"/>
<path fill="#28b" d="M1047 857l8-2 7 3-9 2zm-9 1l9-1 6 3-8 1zm-9 2l9-2 7 3-9 2z"/>
<path fill="#29c" d="M1020 862l9-2 7 3-9 2zm-8 2l8-2 7 3-8 3z"/>
<path fill="#2ad" d="M1003 867l9-3 7 4-9 3zm-9 3l9-3 7 4-9 4zm-8 4l8-4 7 5-9 3zm-9 3l9-3 6 4-8 4z"/>
<path fill="#2ae" d="M968 880l9-3 7 5-9 3zm-9 4l9-4 7 5-9 4zm-8 4l8-4 7 5-8 4zm-9 4l9-4 7 5-9 4z"/>
<path fill="#2ad" d="M933 896l9-4 7 5-9 3zm-8 4l8-4 7 4-9 3zm-9 3l9-3 6 3-8 4z"/>
<path fill="#29c" d="M907 906l9-3 7 4-9 3zm-9 3l9-3 7 4-9 3zm312-79l9-3 7 4-9 2zm-9 3l9-3 7 3-9 3z"/>
<path fill="#29b" d="M1193 835l8-2 7 3-8 2z"/>
<path fill="#28b" d="M1184 837l9-2 7 3-9 2zm-9 2l9-2 7 3-9 2zm-8 2l8-2 7 3-9 2zm-9 2l9-2 6 3-8 2zm-9 2l9-2 7 3-9 1z"/>
<path fill="#28a" d="M1140 847l9-2 7 2-9 2zm-8 1l8-1 7 2-8 2zm-9 2l9-2 7 3-9 1zm-9 1l9-1 7 2-9 1zm-8 1l8-1 7 2-9 2zm-9 1l9-1 6 3-8 1zm-9 1l9-1 7 3-9 1zm-9 1l9-1 7 3-9 1zm-8 2l8-2 7 3-8 1zm-9 1l9-1 7 2-9 2z"/>
<path fill="#28b" d="M1053 860l9-2 7 3-9 2zm-8 1l8-1 7 3-9 1z"/>
<path fill="#29b" d="M1036 863l9-2 6 3-8 3z"/>
<path fill="#29c" d="M1027 865l9-2 7 4-9 2z"/>
<path fill="#29d" d="M1019 868l8-3 7 4-9 3z"/>
<path fill="#2ad" d="M1010 871l9-3 6 4-8 4zm-9 4l9-4 7 5-9 3zm-9 3l9-3 7 4-9 4zm-8 4l8-4 7 5-9 3z"/>
<path fill="#2ae" d="M975 885l9-3 6 4-8 4zm-9 4l9-4 7 5-9 4zm-8 4l8-4 7 5-9 3z"/>
<path fill="#2ad" d="M949 897l9-4 6 4-8 4zm-9 3l9-3 7 4-9 3zm-9 3l9-3 7 4-9 3z"/>
<path fill="#29d" d="M923 907l8-4 7 4-9 3z"/>
<path fill="#29c" d="M914 910l9-3 6 3-8 3zm-9 3l9-3 7 3-9 3z"/>
<path fill="#29b" d="M1217 833l9-2 6 3-8 2zm-9 3l9-3 7 3-9 2z"/>
<path fill="#28b" d="M1200 838l8-2 7 2-9 3zm-9 2l9-2 6 3-8 1zm-9 2l9-2 7 2-9 2zm-9 2l9-2 7 2-9 2zm-8 2l8-2 7 2-9 2z"/>
<path fill="#28a" d="M1156 847l9-1 6 2-8 2zm-9 2l9-2 7 3-9 2zm-8 2l8-2 7 3-9 1zm-9 1l9-1 6 2-8 1zm-9 1l9-1 7 2-9 2zm-9 2l9-2 7 3-9 1zm-8 1l8-1 7 2-9 1zm-9 1l9-1 6 2-8 1zm-9 1l9-1 7 2-9 1zm-8 1l8-1 7 2-9 2z"/>
<path fill="#28b" d="M1069 861l9-2 6 3-8 2zm-9 2l9-2 7 3-9 2z"/>
<path fill="#29b" d="M1051 864l9-1 7 3-9 2z"/>
<path fill="#29c" d="M1043 867l8-3 7 4-9 2zm-9 2l9-2 6 3-8 3z"/>
<path fill="#2ad" d="M1025 872l9-3 7 4-9 3zm-8 4l8-4 7 4-9 4zm-9 3l9-3 6 4-8 4zm-9 4l9-4 7 5-9 3z"/>
<path fill="#2ae" d="M990 886l9-3 7 4-9 4zm-8 4l8-4 7 5-9 3zm-9 4l9-4 6 4-8 4zm-9 3l9-3 7 4-9 4z"/>
<path fill="#2ad" d="M956 901l8-4 7 5-9 3zm-9 3l9-3 6 4-8 3zm-9 3l9-3 7 4-9 3z"/>
<path fill="#29c" d="M929 910l9-3 7 4-9 3zm-8 3l8-3 7 4-8 2zm-9 3l9-3 7 3-9 3z"/>
<path fill="#29b" d="M1224 836l8-2 7 3-9 2z"/>
<path fill="#28b" d="M1215 838l9-2 6 3-8 2zm-9 3l9-3 7 3-9 2zm-8 1l8-1 7 2-9 2zm-9 2l9-2 6 3-8 2zm-9 2l9-2 7 3-9 2zm-9 2l9-2 7 3-9 2z"/>
<path fill="#28a" d="M1163 850l8-2 7 3-9 1zm-9 2l9-2 6 2-8 2zm-9 1l9-1 7 2-9 1zm-8 1l8-1 7 2-9 2zm-9 2l9-2 6 3-8 1zm-9 1l9-1 7 2-9 1zm-9 1l9-1 7 2-9 1zm-8 1l8-1 7 2-9 2zm-9 1l9-1 6 3-8 1z"/>
<path fill="#28b" d="M1084 862l9-2 7 3-9 2zm-8 2l8-2 7 3-9 2zm-9 2l9-2 6 3-8 2z"/>
<path fill="#29c" d="M1058 868l9-2 7 3-9 2zm-9 2l9-2 7 3-9 3z"/>
<path fill="#2ad" d="M1041 873l8-3 7 4-8 3zm-9 3l9-3 7 4-9 4zm-9 4l9-4 7 5-9 3zm-8 4l8-4 7 4-9 4z"/>
<path fill="#2ae" d="M1006 887l9-3 6 4-8 4zm-9 4l9-4 7 5-9 3zm-9 3l9-3 7 4-9 4zm-8 4l8-4 7 5-8 4z"/>
<path fill="#2ad" d="M971 902l9-4 7 5-9 3zm-9 3l9-3 7 4-9 3zm-8 3l8-3 7 4-9 3z"/>
<path fill="#29c" d="M945 911l9-3 6 4-8 3zm-9 3l9-3 7 4-9 2zm-8 2l8-2 7 3-9 2z"/>
<path fill="#29b" d="M919 919l9-3 6 3-8 3z"/>
<path fill="#28b" d="M1230 839l9-2 7 3-9 2zm-8 2l8-2 7 3-8 2zm-9 2l9-2 7 3-9 2zm-9 2l9-2 7 3-9 2zm-8 2l8-2 7 3-9 2zm-9 2l9-2 6 3-8 1z"/>
<path fill="#28a" d="M1178 851l9-2 7 2-9 2zm-9 1l9-1 7 2-9 2zm-8 2l8-2 7 3-8 1zm-9 1l9-1 7 2-9 2zm-9 2l9-2 7 3-9 1zm-8 1l8-1 7 2-9 1zm-9 1l9-1 6 2-8 2zm-9 1l9-1 7 3-9 1zm-9 2l9-2 7 3-9 1zm-8 1l8-1 7 2-8 2z"/>
<path fill="#28b" d="M1091 865l9-2 7 3-9 2zm-9 2l9-2 7 3-9 2z"/>
<path fill="#29c" d="M1074 869l8-2 7 3-9 2zm-9 2l9-2 6 3-8 3z"/>
<path fill="#29d" d="M1056 874l9-3 7 4-9 3z"/>
<path fill="#2ad" d="M1048 877l8-3 7 4-9 3zm-9 4l9-4 6 4-8 4zm-9 3l9-3 7 4-9 4zm-9 4l9-4 7 5-9 3z"/>
<path fill="#2ae" d="M1013 892l8-4 7 4-9 4z"/>
<path fill="#2ad" d="M1004 895l9-3 6 4-8 4zm-9 4l9-4 7 5-9 3zm-8 4l8-4 7 4-9 4zm-9 3l9-3 6 4-8 3zm-9 3l9-3 7 4-9 3z"/>
<path fill="#29c" d="M960 912l9-3 7 4-9 3zm-8 3l8-3 7 4-9 2zm-9 2l9-2 6 3-8 2z"/>
<path fill="#29b" d="M934 919l9-2 7 3-9 2z"/>
<path fill="#28b" d="M926 922l8-3 7 3-9 2zm311-80l9-2 7 2-9 2zm-8 2l8-2 7 2-9 2zm-9 2l9-2 6 2-8 2zm-9 2l9-2 7 2-9 2zm-9 2l9-2 7 2-9 2zm-8 1l8-1 7 2-9 2z"/>
<path fill="#28a" d="M1185 853l9-2 6 3-8 2zm-9 2l9-2 7 3-9 1zm-8 1l8-1 7 2-9 2zm-9 2l9-2 6 3-8 1zm-9 1l9-1 7 2-9 1zm-9 1l9-1 7 2-9 2zm-8 2l8-2 7 3-9 1zm-9 1l9-1 6 2-8 1zm-9 1l9-1 7 2-9 2z"/>
<path fill="#28b" d="M1107 866l8-2 7 3-9 2zm-9 2l9-2 6 3-8 2z"/>
<path fill="#29b" d="M1089 870l9-2 7 3-9 2z"/>
<path fill="#29c" d="M1080 872l9-2 7 3-9 3zm-8 3l8-3 7 4-9 3z"/>
<path fill="#2ad" d="M1063 878l9-3 6 4-8 3zm-9 3l9-3 7 4-9 4zm-8 4l8-4 7 5-9 3zm-9 4l9-4 6 4-8 4zm-9 3l9-3 7 4-9 4z"/>
<path fill="#2ae" d="M1019 896l9-4 7 5-9 4z"/>
<path fill="#2ad" d="M1011 900l8-4 7 5-8 3zm-9 3l9-3 7 4-9 4zm-9 4l9-4 7 5-9 3zm-8 3l8-3 7 4-9 3z"/>
<path fill="#29c" d="M976 913l9-3 6 4-8 3zm-9 3l9-3 7 4-9 2zm-9 2l9-2 7 3-9 2z"/>
<path fill="#28b" d="M950 920l8-2 7 3-8 2zm-9 2l9-2 7 3-9 2zm-9 2l9-2 7 3-9 2zm312-80l9-2 6 3-8 2zm-9 2l9-2 7 3-9 2zm-8 2l8-2 7 3-9 2zm-9 2l9-2 6 3-8 2z"/>
<path fill="#28a" d="M1209 852l9-2 7 3-9 1zm-9 2l9-2 7 2-9 2zm-8 2l8-2 7 2-9 2zm-9 1l9-1 6 2-8 1zm-9 2l9-2 7 2-9 2zm-8 1l8-1 7 2-9 1zm-9 1l9-1 6 2-8 2zm-9 2l9-2 7 3-9 1zm-9 1l9-1 7 2-9 1zm-8 1l8-1 7 2-8 2z"/>
<path fill="#28b" d="M1122 867l9-2 7 3-9 2zm-9 2l9-2 7 3-9 2zm-8 2l8-2 7 3-9 2z"/>
<path fill="#29c" d="M1096 873l9-2 6 3-8 2zm-9 3l9-3 7 3-9 3z"/>
<path fill="#29d" d="M1078 879l9-3 7 3-9 4z"/>
<path fill="#2ad" d="M1070 882l8-3 7 4-8 3zm-9 4l9-4 7 4-9 4zm-9 3l9-3 7 4-9 4zm-8 4l8-4 7 5-9 3z"/>
<path fill="#2ae" d="M1035 897l9-4 6 4-8 4zm-9 4l9-4 7 4-9 4z"/>
<path fill="#2ad" d="M1018 904l8-3 7 4-9 4zm-9 4l9-4 6 5-8 3zm-9 3l9-3 7 4-9 3z"/>
<path fill="#29c" d="M991 914l9-3 7 4-9 3zm-8 3l8-3 7 4-9 2zm-9 2l9-2 6 3-8 2z"/>
<path fill="#29b" d="M965 921l9-2 7 3-9 2z"/>
<path fill="#28b" d="M957 923l8-2 7 3-9 2zm-9 2l9-2 6 3-8 2z"/>
<path fill="#28a" d="M939 927l9-2 7 3-9 1zm312-80l8-2 7 2-8 2zm-9 2l9-2 7 2-9 2zm-9 2l9-2 7 2-9 2zm-8 2l8-2 7 2-9 2zm-9 1l9-1 6 2-8 2zm-9 2l9-2 7 3-9 1zm-9 2l9-2 7 2-9 2zm-8 1l8-1 7 2-8 2zm-9 2l9-2 7 3-9 1zm-9 1l9-1 7 2-9 2zm-8 2l8-2 7 3-9 1zm-9 1l9-1 6 2-8 1zm-9 1l9-1 7 2-9 2zm-8 2l8-2 7 3-9 2z"/>
<path fill="#28b" d="M1129 870l9-2 6 3-8 1zm-9 2l9-2 7 2-9 3z"/>
<path fill="#29c" d="M1111 874l9-2 7 3-9 2zm-8 2l8-2 7 3-9 3zm-9 3l9-3 6 4-8 3z"/>
<path fill="#2ad" d="M1085 883l9-4 7 4-9 3zm-8 3l8-3 7 3-9 4zm-9 4l9-4 6 4-8 4zm-9 4l9-4 7 4-9 4z"/>
<path fill="#2ae" d="M1050 897l9-3 7 4-9 4zm-8 4l8-4 7 5-9 4z"/>
<path fill="#2ad" d="M1033 905l9-4 6 5-8 3zm-9 4l9-4 7 4-9 4zm-8 3l8-3 7 4-9 3zm-9 3l9-3 6 4-8 3z"/>
<path fill="#29c" d="M998 918l9-3 7 4-9 2zm-9 2l9-2 7 3-9 2z"/>
<path fill="#29b" d="M981 922l8-2 7 3-9 2z"/>
<path fill="#28b" d="M972 924l9-2 6 3-8 2zm-9 2l9-2 7 3-9 2z"/>
<path fill="#28a" d="M955 928l8-2 7 3-9 1z"/>
<path fill="#27a" d="M946 929l9-1 6 2-8 1z"/>
<path fill="#28a" d="M1258 849l8-2 7 3-9 1zm-9 2l9-2 6 2-8 2zm-9 2l9-2 7 2-9 2zm-9 2l9-2 7 2-9 2zm-8 2l8-2 7 2-9 2zm-9 1l9-1 6 2-8 2zm-9 2l9-2 7 3-9 2zm-8 2l8-2 7 3-9 1zm-9 1l9-1 6 2-8 2zm-9 2l9-2 7 3-9 1zm-9 1l9-1 7 2-9 1zm-8 1l8-1 7 2-9 2zm-9 2l9-2 6 3-8 2z"/>
<path fill="#28b" d="M1144 871l9-2 7 3-9 1zm-8 1l8-1 7 2-9 3z"/>
<path fill="#29c" d="M1127 875l9-3 6 4-8 2zm-9 2l9-2 7 3-9 3zm-9 3l9-3 7 4-9 3z"/>
<path fill="#2ad" d="M1101 883l8-3 7 4-9 3zm-9 3l9-3 6 4-8 3zm-9 4l9-4 7 4-9 4zm-8 4l8-4 7 4-9 4z"/>
<path fill="#2ae" d="M1066 898l9-4 6 4-8 4zm-9 4l9-4 7 4-9 4z"/>
<path fill="#2ad" d="M1048 906l9-4 7 4-9 4zm-8 3l8-3 7 4-8 4zm-9 4l9-4 7 5-9 3zm-9 3l9-3 7 4-9 3z"/>
<path fill="#29c" d="M1014 919l8-3 7 4-9 3zm-9 2l9-2 6 4-8 2zm-9 2l9-2 7 4-9 2z"/>
<path fill="#28b" d="M987 925l9-2 7 4-9 1zm-8 2l8-2 7 3-8 2z"/>
<path fill="#28a" d="M970 929l9-2 7 3-9 1z"/>
<path fill="#27a" d="M961 930l9-1 7 2-9 1z"/>
<path fill="#279" d="M953 931l8-1 7 2-9 1z"/>
<path fill="#28a" d="M1264 851l9-1 7 2-9 2zm-8 2l8-2 7 3-9 2zm-9 2l9-2 6 3-8 2zm-9 2l9-2 7 3-9 1zm-9 2l9-2 7 2-9 2zm-8 2l8-2 7 2-8 2zm-9 2l9-2 7 2-9 2zm-9 1l9-1 7 2-9 1zm-8 2l8-2 7 2-9 2zm-9 1l9-1 6 2-8 1zm-9 1l9-1 7 2-9 2zm-9 2l9-2 7 3-9 2z"/>
<path fill="#28b" d="M1160 872l8-2 7 3-8 1zm-9 1l9-1 7 2-9 2z"/>
<path fill="#29c" d="M1142 876l9-3 7 3-9 3zm-8 2l8-2 7 3-9 3zm-9 3l9-3 6 4-8 2zm-9 3l9-3 7 3-9 3z"/>
<path fill="#2ad" d="M1107 887l9-3 7 3-9 4zm-8 3l8-3 7 4-8 4zm-9 4l9-4 7 5-9 3z"/>
<path fill="#2ae" d="M1081 898l9-4 7 4-9 4zm-8 4l8-4 7 4-9 4zm-9 4l9-4 6 4-8 4zm-9 4l9-4 7 4-9 4z"/>
<path fill="#2ad" d="M1047 914l8-4 7 4-9 4zm-9 3l9-3 6 4-8 3z"/>
<path fill="#29c" d="M1029 920l9-3 7 4-9 3zm-9 3l9-3 7 4-9 2zm-8 2l8-2 7 3-9 2z"/>
<path fill="#28b" d="M1003 927l9-2 6 3-8 2zm-9 1l9-1 7 3-9 1z"/>
<path fill="#28a" d="M986 930l8-2 7 3-9 1z"/>
<path fill="#27a" d="M977 931l9-1 6 2-8 1z"/>
<path fill="#279" d="M968 932l9-1 7 2-9 1zm-9 1l9-1 7 2-9 1z"/>
<path fill="#28a" d="M1271 854l9-2 7 2-9 2zm-9 2l9-2 7 2-9 2z"/>
<path fill="#28b" d="M1254 858l8-2 7 2-9 2zm-9 1l9-1 6 2-8 2zm-9 2l9-2 7 3-9 2z"/>
<path fill="#28a" d="M1228 863l8-2 7 3-9 2zm-9 2l9-2 6 3-8 1zm-9 1l9-1 7 2-9 2zm-9 2l9-2 7 3-9 1zm-8 1l8-1 7 2-9 2zm-9 2l9-2 6 3-8 2z"/>
<path fill="#28b" d="M1175 873l9-2 7 3-9 1zm-8 1l8-1 7 2-9 2z"/>
<path fill="#29b" d="M1158 876l9-2 6 3-8 3z"/>
<path fill="#29c" d="M1149 879l9-3 7 4-9 2zm-9 3l9-3 7 3-9 3zm-8 2l8-2 7 3-9 3z"/>
<path fill="#2ad" d="M1123 887l9-3 6 4-8 3zm-9 4l9-4 7 4-9 4zm-8 4l8-4 7 4-9 4z"/>
<path fill="#2ae" d="M1097 898l9-3 6 4-8 4zm-9 4l9-4 7 5-9 4zm-9 4l9-4 7 5-9 4zm-8 4l8-4 7 5-9 4z"/>
<path fill="#2ad" d="M1062 914l9-4 6 5-8 3zm-9 4l9-4 7 4-9 4zm-8 3l8-3 7 4-9 3z"/>
<path fill="#29c" d="M1036 924l9-3 6 4-8 2zm-9 2l9-2 7 3-9 2z"/>
<path fill="#28b" d="M1018 928l9-2 7 3-9 2zm-8 2l8-2 7 3-9 2z"/>
<path fill="#28a" d="M1001 931l9-1 6 3-8 1z"/>
<path fill="#27a" d="M992 932l9-1 7 3-9 0z"/>
<path fill="#279" d="M984 933l8-1 7 2-9 1zm-9 1l9-1 6 2-8 1zm-9 1l9-1 7 2-9 0z"/>
<path fill="#28b" d="M1278 856l9-2 6 3-8 2zm-9 2l9-2 7 3-9 2zm-9 2l9-2 7 3-9 2zm-8 2l8-2 7 3-9 2zm-9 2l9-2 6 3-8 1z"/>
<path fill="#28a" d="M1234 866l9-2 7 2-9 2zm-8 1l8-1 7 2-9 2zm-9 2l9-2 6 3-8 1zm-9 1l9-1 7 2-9 2z"/>
<path fill="#28b" d="M1199 872l9-2 7 3-9 2zm-8 2l8-2 7 3-9 1zm-9 1l9-1 6 2-8 2z"/>
<path fill="#29b" d="M1173 877l9-2 7 3-9 3z"/>
<path fill="#29c" d="M1165 880l8-3 7 4-9 2zm-9 2l9-2 6 3-8 3zm-9 3l9-3 7 4-9 3z"/>
<path fill="#2ad" d="M1138 888l9-3 7 4-9 3zm-8 3l8-3 7 4-9 3zm-9 4l9-4 6 4-8 4zm-9 4l9-4 7 4-9 4z"/>
<path fill="#2ae" d="M1104 903l8-4 7 4-9 4zm-9 4l9-4 6 4-8 4zm-9 4l9-4 7 4-9 4z"/>
<path fill="#2ad" d="M1077 915l9-4 7 4-9 4zm-8 3l8-3 7 4-8 3zm-9 4l9-4 7 4-9 4z"/>
<path fill="#29c" d="M1051 925l9-3 7 4-9 2zm-8 2l8-2 7 3-9 3z"/>
<path fill="#28b" d="M1034 929l9-2 6 4-8 1zm-9 2l9-2 7 3-9 2z"/>
<path fill="#28a" d="M1016 933l9-2 7 3-9 1z"/>
<path fill="#27a" d="M1008 934l8-1 7 2-8 1z"/>
<path fill="#279" d="M999 934l9 0 7 2-9 0zm-9 1l9-1 7 2-9 1zm-8 1l8-1 7 2-9 1zm-9 0l9 0 6 2-8 0z"/>
<path fill="#28b" d="M1285 859l8-2 7 2-9 2zm-9 2l9-2 6 2-8 2zm-9 2l9-2 7 2-9 2zm-9 2l9-2 7 2-9 2zm-8 1l8-1 7 2-8 2z"/>
<path fill="#28a" d="M1241 868l9-2 7 3-9 2z"/>
<path fill="#28b" d="M1232 870l9-2 7 3-9 1zm-8 1l8-1 7 2-9 2zm-9 2l9-2 6 3-8 2zm-9 2l9-2 7 3-9 2zm-9 1l9-1 7 3-9 1z"/>
<path fill="#29b" d="M1189 878l8-2 7 3-8 3z"/>
<path fill="#29c" d="M1180 881l9-3 7 4-9 2zm-9 2l9-2 7 3-9 3zm-8 3l8-3 7 4-9 3z"/>
<path fill="#2ad" d="M1154 889l9-3 6 4-8 3zm-9 3l9-3 7 4-9 3zm-9 3l9-3 7 4-9 4zm-8 4l8-4 7 5-8 3z"/>
<path fill="#2ae" d="M1119 903l9-4 7 4-9 4zm-9 4l9-4 7 4-9 4zm-8 4l8-4 7 4-9 4zm-9 4l9-4 6 4-8 4z"/>
<path fill="#2ad" d="M1084 919l9-4 7 4-9 4zm-8 3l8-3 7 4-9 3z"/>
<path fill="#29c" d="M1067 926l9-4 6 4-8 3zm-9 2l9-2 7 3-9 3z"/>
<path fill="#29b" d="M1049 931l9-3 7 4-9 2z"/>
<path fill="#28b" d="M1041 932l8-1 7 3-9 1z"/>
<path fill="#28a" d="M1032 934l9-2 6 3-8 1z"/>
<path fill="#27a" d="M1023 935l9-1 7 2-9 1z"/>
<path fill="#279" d="M1015 936l8-1 7 2-9 1zm-9 0l9 0 6 2-8 0zm-9 1l9-1 7 2-9 1zm-9 1l9-1 7 2-9 1zm-8 0l8 0 7 2-9 1z"/>
<path fill="#28b" d="M1291 861l9-2 7 3-9 2zm-8 2l8-2 7 3-9 2zm-9 2l9-2 6 3-8 2zm-9 2l9-2 7 3-9 2zm-8 2l8-2 7 3-9 2zm-9 2l9-2 6 3-8 1zm-9 1l9-1 7 2-9 2zm-9 2l9-2 7 3-9 2zm-8 2l8-2 7 3-9 2zm-9 2l9-2 6 3-8 2z"/>
<path fill="#29b" d="M1204 879l9-1 7 3-9 2z"/>
<path fill="#29c" d="M1196 882l8-3 7 4-9 2zm-9 2l9-2 6 3-8 3zm-9 3l9-3 7 4-9 3z"/>
<path fill="#29d" d="M1169 890l9-3 7 4-9 3z"/>
<path fill="#2ad" d="M1161 893l8-3 7 4-9 3zm-9 3l9-3 6 4-8 3zm-9 4l9-4 7 4-9 4zm-8 3l8-3 7 4-9 4z"/>
<path fill="#2ae" d="M1126 907l9-4 6 5-8 4zm-9 4l9-4 7 5-9 4zm-9 4l9-4 7 5-9 3z"/>
<path fill="#2ad" d="M1100 919l8-4 7 4-9 4zm-9 4l9-4 6 4-8 4z"/>
<path fill="#29d" d="M1082 926l9-3 7 4-9 3z"/>
<path fill="#29c" d="M1074 929l8-3 7 4-9 2z"/>
<path fill="#29b" d="M1065 932l9-3 6 3-8 3z"/>
<path fill="#28b" d="M1056 934l9-2 7 3-9 1z"/>
<path fill="#28a" d="M1047 935l9-1 7 2-9 1z"/>
<path fill="#27a" d="M1039 936l8-1 7 2-8 1z"/>
<path fill="#279" d="M1030 937l9-1 7 2-9 1zm-9 1l9-1 7 2-9 1zm-8 0l8 0 7 2-9 0zm-9 1l9-1 6 2-8 1zm-9 1l9-1 7 2-9 1z"/>
<path fill="#27a" d="M986 941l9-1 7 2-9 1z"/>
<path fill="#28b" d="M1298 864l9-2 7 3-9 2zm-9 2l9-2 7 3-9 2zm-8 2l8-2 7 3-9 2zm-9 2l9-2 6 3-8 2zm-9 2l9-2 7 3-9 2zm-8 1l8-1 7 3-9 1zm-9 2l9-2 6 3-8 2zm-9 2l9-2 7 3-9 2zm-9 2l9-2 7 3-9 2z"/>
<path fill="#29b" d="M1220 881l8-2 7 3-9 2z"/>
<path fill="#29c" d="M1211 883l9-2 6 3-8 2zm-9 2l9-2 7 3-9 3zm-8 3l8-3 7 4-9 3zm-9 3l9-3 6 4-8 3z"/>
<path fill="#2ad" d="M1176 894l9-3 7 4-9 3zm-9 3l9-3 7 4-9 3zm-8 3l8-3 7 4-8 4zm-9 4l9-4 7 5-9 3z"/>
<path fill="#2ae" d="M1141 908l9-4 7 4-9 4zm-8 4l8-4 7 4-9 4z"/>
<path fill="#2ad" d="M1124 916l9-4 6 4-8 4zm-9 3l9-3 7 4-9 3zm-9 4l9-4 7 4-9 4zm-8 4l8-4 7 4-8 3z"/>
<path fill="#29c" d="M1089 930l9-3 7 3-9 3zm-9 2l9-2 7 3-9 2z"/>
<path fill="#28b" d="M1072 935l8-3 7 3-9 2z"/>
<path fill="#28a" d="M1063 936l9-1 6 2-8 2z"/>
<path fill="#27a" d="M1054 937l9-1 7 3-9 1zm-8 1l8-1 7 3-9 1z"/>
<path fill="#279" d="M1037 939l9-1 6 3-8 0zm-9 1l9-1 7 2-9 1zm-9 0l9 0 7 2-9 1z"/>
<path fill="#27a" d="M1011 941l8-1 7 3-9 0zm-9 1l9-1 6 2-8 1z"/>
<path fill="#28a" d="M993 943l9-1 7 2-9 1z"/>
<path fill="#29b" d="M1305 867l9-2 6 3-8 2zm-9 2l9-2 7 3-9 2zm-9 2l9-2 7 3-9 2z"/>
<path fill="#28b" d="M1279 873l8-2 7 3-8 2zm-9 2l9-2 7 3-9 2zm-9 1l9-1 7 3-9 2zm-8 2l8-2 7 4-9 1z"/>
<path fill="#29b" d="M1244 880l9-2 6 3-8 2zm-9 2l9-2 7 3-9 2z"/>
<path fill="#29c" d="M1226 884l9-2 7 3-9 2zm-8 2l8-2 7 3-8 3zm-9 3l9-3 7 4-9 3zm-9 3l9-3 7 4-9 2z"/>
<path fill="#2ad" d="M1192 895l8-3 7 3-9 4zm-9 3l9-3 6 4-8 3zm-9 3l9-3 7 4-9 3zm-8 4l8-4 7 4-9 4z"/>
<path fill="#2ae" d="M1157 908l9-3 6 4-8 4zm-9 4l9-4 7 5-9 3z"/>
<path fill="#2ad" d="M1139 916l9-4 7 4-9 4zm-8 4l8-4 7 4-9 4zm-9 3l9-3 6 4-8 3zm-9 4l9-4 7 4-9 4z"/>
<path fill="#29c" d="M1105 930l8-3 7 4-9 3zm-9 3l9-3 6 4-8 2z"/>
<path fill="#28b" d="M1087 935l9-2 7 3-9 2z"/>
<path fill="#28a" d="M1078 937l9-2 7 3-9 1z"/>
<path fill="#27a" d="M1070 939l8-2 7 2-9 2zm-9 1l9-1 6 2-8 1z"/>
<path fill="#279" d="M1052 941l9-1 7 2-9 1zm-8 0l8 0 7 2-9 0zm-9 1l9-1 6 2-8 1zm-9 1l9-1 7 2-9 1z"/>
<path fill="#27a" d="M1017 943l9 0 7 2-9 1zm-8 1l8-1 7 3-9 1z"/>
<path fill="#28a" d="M1000 945l9-1 6 3-8 1z"/>
<path fill="#29c" d="M1312 870l8-2 7 4-9 2zm-9 2l9-2 6 4-8 2z"/>
<path fill="#29b" d="M1294 874l9-2 7 4-9 2zm-8 2l8-2 7 4-9 2zm-9 2l9-2 6 4-8 1zm-9 2l9-2 7 3-9 2zm-9 1l9-1 7 3-9 2zm-8 2l8-2 7 4-9 2z"/>
<path fill="#29c" d="M1242 885l9-2 6 4-8 2zm-9 2l9-2 7 4-9 2zm-8 3l8-3 7 4-9 3zm-9 3l9-3 6 4-8 3z"/>
<path fill="#2ad" d="M1207 895l9-2 7 4-9 3zm-9 4l9-4 7 5-9 3zm-8 3l8-3 7 4-9 3zm-9 3l9-3 6 4-8 4zm-9 4l9-4 7 5-9 3z"/>
<path fill="#2ae" d="M1164 913l8-4 7 4-9 4zm-9 3l9-3 6 4-8 4z"/>
<path fill="#2ad" d="M1146 920l9-4 7 5-9 4zm-9 4l9-4 7 5-9 3zm-8 3l8-3 7 4-9 3zm-9 4l9-4 6 4-8 3z"/>
<path fill="#29c" d="M1111 934l9-3 7 3-9 3z"/>
<path fill="#29b" d="M1103 936l8-2 7 3-9 2z"/>
<path fill="#28a" d="M1094 938l9-2 6 3-8 1z"/>
<path fill="#27a" d="M1085 939l9-1 7 2-9 1z"/>
<path fill="#279" d="M1076 941l9-2 7 2-9 1zm-8 1l8-1 7 1-8 1zm-9 1l9-1 7 1-9 1z"/>
<path fill="#179" d="M1050 943l9 0 7 1-9 1z"/>
<path fill="#279" d="M1042 944l8-1 7 2-9 1zm-9 1l9-1 6 2-8 1z"/>
<path fill="#27a" d="M1024 946l9-1 7 2-9 1z"/>
<path fill="#28a" d="M1015 947l9-1 7 2-9 2z"/>
<path fill="#28b" d="M1007 948l8-1 7 3-8 2z"/>
<path fill="#29c" d="M1318 874l9-2 7 4-9 2zm-8 2l8-2 7 4-9 2zm-9 2l9-2 6 4-8 1zm-9 2l9-2 7 3-9 2zm-8 1l8-1 7 3-9 2zm-9 2l9-2 6 4-8 2z"/>
<path fill="#29b" d="M1266 885l9-2 7 4-9 1z"/>
<path fill="#29c" d="M1257 887l9-2 7 3-9 2zm-8 2l8-2 7 3-8 3zm-9 2l9-2 7 4-9 2zm-9 3l9-3 7 4-9 3z"/>
<path fill="#2ad" d="M1223 897l8-3 7 4-9 3zm-9 3l9-3 6 4-8 3zm-9 3l9-3 7 4-9 3zm-9 3l9-3 7 4-9 3zm-8 4l8-4 7 4-8 4z"/>
<path fill="#2ae" d="M1179 913l9-3 7 4-9 4zm-9 4l9-4 7 5-9 4z"/>
<path fill="#2ad" d="M1162 921l8-4 7 5-9 3zm-9 4l9-4 6 4-8 4zm-9 3l9-3 7 4-9 3zm-9 3l9-3 7 4-9 3z"/>
<path fill="#29c" d="M1127 934l8-3 7 4-8 3zm-9 3l9-3 7 4-9 2z"/>
<path fill="#28b" d="M1109 939l9-2 7 3-9 1z"/>
<path fill="#27a" d="M1101 940l8-1 7 2-9 1z"/>
<path fill="#279" d="M1092 941l9-1 6 2-8 1zm-9 1l9-1 7 2-9 1zm-8 1l8-1 7 2-9 1z"/>
<path fill="#179" d="M1066 944l9-1 6 2-8 1zm-9 1l9-1 7 2-9 1z"/>
<path fill="#279" d="M1048 946l9-1 7 2-9 1z"/>
<path fill="#27a" d="M1040 947l8-1 7 2-9 1z"/>
<path fill="#28a" d="M1031 948l9-1 6 2-8 2z"/>
<path fill="#28b" d="M1022 950l9-2 7 3-9 2z"/>
<path fill="#29b" d="M1014 952l8-2 7 3-9 2z"/>
<path fill="#29c" d="M1325 878l9-2 7 4-9 2zm-9 2l9-2 7 4-9 2zm-8 1l8-1 7 4-8 1zm-9 2l9-2 7 4-9 2zm-9 2l9-2 7 4-9 2zm-8 2l8-2 7 4-9 1zm-9 1l9-1 6 3-8 2zm-9 2l9-2 7 4-9 2zm-8 3l8-3 7 4-9 3zm-9 2l9-2 6 4-8 2z"/>
<path fill="#2ad" d="M1238 898l9-3 7 4-9 3zm-9 3l9-3 7 4-9 3zm-8 3l8-3 7 4-9 3zm-9 3l9-3 6 4-8 3zm-9 3l9-3 7 4-9 4z"/>
<path fill="#2ae" d="M1195 914l8-4 7 5-9 4zm-9 4l9-4 6 5-8 4zm-9 4l9-4 7 5-9 3z"/>
<path fill="#2ad" d="M1168 925l9-3 7 4-9 4zm-8 4l8-4 7 5-9 3zm-9 3l9-3 6 4-8 3z"/>
<path fill="#29c" d="M1142 935l9-3 7 4-9 3zm-8 3l8-3 7 4-9 2z"/>
<path fill="#28b" d="M1125 940l9-2 6 3-8 1z"/>
<path fill="#27a" d="M1116 941l9-1 7 2-9 1z"/>
<path fill="#279" d="M1107 942l9-1 7 2-9 1zm-8 1l8-1 7 2-9 1zm-9 1l9-1 6 2-8 1zm-9 1l9-1 7 2-9 0zm-8 1l8-1 7 1-9 1zm-9 1l9-1 6 1-8 1z"/>
<path fill="#27a" d="M1055 948l9-1 7 1-9 2z"/>
<path fill="#28b" d="M1046 949l9-1 7 2-9 2z"/>
<path fill="#29b" d="M1038 951l8-2 7 3-9 2z"/>
<path fill="#29c" d="M1029 953l9-2 6 3-8 3zm-9 2l9-2 7 4-9 2zm312-73l9-2 6 4-8 2zm-9 2l9-2 7 4-9 1zm-8 1l8-1 7 3-9 2zm-9 2l9-2 6 4-8 2zm-9 2l9-2 7 4-9 1zm-9 1l9-1 7 3-9 2zm-8 2l8-2 7 4-9 2zm-9 2l9-2 6 4-8 2zm-9 3l9-3 7 4-9 3z"/>
<path fill="#29d" d="M1254 899l8-2 7 4-9 2z"/>
<path fill="#2ad" d="M1245 902l9-3 6 4-8 3zm-9 3l9-3 7 4-9 3zm-9 3l9-3 7 4-9 3zm-8 3l8-3 7 4-9 4z"/>
<path fill="#2ae" d="M1210 915l9-4 6 5-8 3zm-9 4l9-4 7 4-9 4zm-8 4l8-4 7 4-9 4z"/>
<path fill="#2ad" d="M1184 926l9-3 6 4-8 3zm-9 4l9-4 7 4-9 4zm-9 3l9-3 7 4-9 3z"/>
<path fill="#29d" d="M1158 936l8-3 7 4-9 3z"/>
<path fill="#29c" d="M1149 939l9-3 6 4-8 2z"/>
<path fill="#28b" d="M1140 941l9-2 7 3-9 1z"/>
<path fill="#27a" d="M1132 942l8-1 7 2-9 1z"/>
<path fill="#279" d="M1123 943l9-1 6 2-8 1z"/>
<path fill="#179" d="M1114 944l9-1 7 2-9 0z"/>
<path fill="#279" d="M1105 945l9-1 7 1-9 1zm-8 1l8-1 7 1-8 1zm-9 0l9 0 7 1-9 1zm-9 1l9-1 7 2-9 1z"/>
<path fill="#27a" d="M1071 948l8-1 7 2-9 2z"/>
<path fill="#28b" d="M1062 950l9-2 6 3-8 2z"/>
<path fill="#29b" d="M1053 952l9-2 7 3-9 2z"/>
<path fill="#29c" d="M1044 954l9-2 7 3-9 3zm-8 3l8-3 7 4-8 2zm-9 2l9-2 7 3-9 3zm312-73l8-2 7 4-9 2zm-9 1l9-1 6 4-8 1zm-9 2l9-2 7 4-9 2zm-8 2l8-2 7 4-9 2zm-9 1l9-1 6 4-8 1zm-9 2l9-2 7 4-9 2zm-9 2l9-2 7 4-9 2zm-8 2l8-2 7 4-8 2zm-9 3l9-3 7 4-9 3z"/>
<path fill="#2ad" d="M1260 903l9-2 7 4-9 2zm-8 3l8-3 7 4-9 3zm-9 3l9-3 6 4-8 3zm-9 3l9-3 7 4-9 4zm-9 4l9-4 7 5-9 3z"/>
<path fill="#2ae" d="M1217 919l8-3 7 4-8 4zm-9 4l9-4 7 5-9 4z"/>
<path fill="#2ad" d="M1199 927l9-4 7 5-9 3zm-8 3l8-3 7 4-9 4zm-9 4l9-4 6 5-8 3zm-9 3l9-3 7 4-9 3z"/>
<path fill="#29c" d="M1164 940l9-3 7 4-9 2z"/>
<path fill="#28b" d="M1156 942l8-2 7 3-8 2z"/>
<path fill="#28a" d="M1147 943l9-1 7 3-9 0z"/>
<path fill="#279" d="M1138 944l9-1 7 2-9 1z"/>
<path fill="#179" d="M1130 945l8-1 7 2-9 1zm-9 0l9 0 6 2-8 0z"/>
<path fill="#279" d="M1112 946l9-1 7 2-9 1zm-8 1l8-1 7 2-9 1z"/>
<path fill="#27a" d="M1095 948l9-1 6 2-8 1z"/>
<path fill="#28a" d="M1086 949l9-1 7 2-9 2z"/>
<path fill="#28b" d="M1077 951l9-2 7 3-9 2z"/>
<path fill="#29b" d="M1069 953l8-2 7 3-9 2z"/>
<path fill="#29c" d="M1060 955l9-2 6 3-8 3zm-9 3l9-3 7 4-9 3zm-8 2l8-2 7 4-9 2zm-9 3l9-3 6 4-8 3zm311-73l9-2 7 4-9 2zm-8 1l8-1 7 4-8 1zm-9 2l9-2 7 4-9 2zm-9 2l9-2 7 4-9 2zm-8 1l8-1 7 4-9 1zm-9 2l9-2 6 4-8 2zm-9 2l9-2 7 4-9 2zm-8 2l8-2 7 4-9 2zm-9 3l9-3 6 4-8 3z"/>
<path fill="#2ad" d="M1267 907l9-2 7 4-9 3zm-9 3l9-3 7 5-9 3zm-8 3l8-3 7 5-9 3zm-9 4l9-4 6 5-8 3z"/>
<path fill="#2ae" d="M1232 920l9-3 7 4-9 4zm-8 4l8-4 7 5-9 4z"/>
<path fill="#2ad" d="M1215 928l9-4 6 5-8 3zm-9 3l9-3 7 4-9 4zm-9 4l9-4 7 5-9 3z"/>
<path fill="#29d" d="M1189 938l8-3 7 4-9 2z"/>
<path fill="#29c" d="M1180 941l9-3 6 3-8 3z"/>
<path fill="#28b" d="M1171 943l9-2 7 3-9 2z"/>
<path fill="#28a" d="M1163 945l8-2 7 3-9 1z"/>
<path fill="#279" d="M1154 945l9 0 6 2-8 0z"/>
<path fill="#179" d="M1145 946l9-1 7 2-9 1zm-9 1l9-1 7 2-9 0z"/>
<path fill="#279" d="M1128 947l8 0 7 1-9 1zm-9 1l9-1 6 2-8 1z"/>
<path fill="#27a" d="M1110 949l9-1 7 2-9 1z"/>
<path fill="#28a" d="M1102 950l8-1 7 2-9 2z"/>
<path fill="#28b" d="M1093 952l9-2 6 3-8 2z"/>
<path fill="#29b" d="M1084 954l9-2 7 3-9 2z"/>
<path fill="#29c" d="M1075 956l9-2 7 3-9 3zm-8 3l8-3 7 4-8 3z"/>
<path fill="#29d" d="M1058 962l9-3 7 4-9 3z"/>
<path fill="#2ad" d="M1049 964l9-2 7 4-9 3zm-8 3l8-3 7 5-9 2z"/>
<path fill="#29c" d="M1352 894l9-2 7 4-9 2zm-8 1l8-1 7 4-9 1zm-9 2l9-2 6 4-8 2zm-9 2l9-2 7 4-9 2zm-9 1l9-1 7 4-9 1zm-8 2l8-2 7 4-9 2zm-9 2l9-2 6 4-8 2zm-9 2l9-2 7 4-9 2zm-8 3l8-3 7 4-9 3z"/>
<path fill="#2ad" d="M1274 912l9-3 6 4-8 3zm-9 3l9-3 7 4-9 3zm-9 3l9-3 7 4-9 3zm-8 3l8-3 7 4-9 4z"/>
<path fill="#2ae" d="M1239 925l9-4 6 5-8 3z"/>
<path fill="#2ad" d="M1230 929l9-4 7 4-9 4zm-8 3l8-3 7 4-9 3zm-9 4l9-4 6 4-8 4zm-9 3l9-3 7 4-9 2z"/>
<path fill="#29c" d="M1195 941l9-2 7 3-9 3z"/>
<path fill="#29b" d="M1187 944l8-3 7 4-8 2z"/>
<path fill="#28a" d="M1178 946l9-2 7 3-9 1z"/>
<path fill="#27a" d="M1169 947l9-1 7 2-9 1z"/>
<path fill="#279" d="M1161 947l8 0 7 2-9 0zm-9 1l9-1 6 2-8 1zm-9 0l9 0 7 2-9 1zm-9 1l9-1 7 3-9 0z"/>
<path fill="#27a" d="M1126 950l8-1 7 2-8 2z"/>
<path fill="#28a" d="M1117 951l9-1 7 3-9 1z"/>
<path fill="#28b" d="M1108 953l9-2 7 3-9 2z"/>
<path fill="#29c" d="M1100 955l8-2 7 3-9 2zm-9 2l9-2 6 3-8 3zm-9 3l9-3 7 4-9 3z"/>
<path fill="#2ad" d="M1074 963l8-3 7 4-9 3zm-9 3l9-3 6 4-8 3zm-9 3l9-3 7 4-9 3zm-9 2l9-2 7 4-9 3z"/>
<path fill="#29c" d="M1359 898l9-2 7 4-9 2zm-9 1l9-1 7 4-9 1zm-8 2l8-2 7 4-9 2zm-9 2l9-2 6 4-8 1zm-9 1l9-1 7 3-9 2zm-9 2l9-2 7 4-9 2zm-8 2l8-2 7 4-8 2zm-9 2l9-2 7 4-9 3zm-9 3l9-3 7 5-9 2z"/>
<path fill="#2ad" d="M1281 916l8-3 7 4-9 3zm-9 3l9-3 6 4-8 3zm-9 3l9-3 7 4-9 4zm-9 4l9-4 7 5-9 3zm-8 3l8-3 7 4-8 4zm-9 4l9-4 7 5-9 3zm-9 3l9-3 7 4-9 3zm-8 4l8-4 7 4-9 3z"/>
<path fill="#29c" d="M1211 942l9-2 6 3-8 3zm-9 3l9-3 7 4-9 2z"/>
<path fill="#28b" d="M1194 947l8-2 7 3-9 1z"/>
<path fill="#28a" d="M1185 948l9-1 6 2-8 1z"/>
<path fill="#27a" d="M1176 949l9-1 7 2-9 1zm-9 0l9 0 7 2-9 1zm-8 1l8-1 7 3-9 0zm-9 1l9-1 6 2-8 1z"/>
<path fill="#28a" d="M1141 951l9 0 7 2-9 1zm-8 2l8-2 7 3-9 1z"/>
<path fill="#28b" d="M1124 954l9-1 6 2-8 2z"/>
<path fill="#29c" d="M1115 956l9-2 7 3-9 3zm-9 2l9-2 7 4-9 2zm-8 3l8-3 7 4-9 3z"/>
<path fill="#2ad" d="M1089 964l9-3 6 4-8 3zm-9 3l9-3 7 4-9 3zm-8 3l8-3 7 4-9 3zm-9 3l9-3 6 4-8 3zm-9 3l9-3 7 4-9 3z"/>
<path fill="#29c" d="M1366 902l9-2 6 4-8 2zm-9 1l9-1 7 4-9 1zm-9 2l9-2 7 4-9 2zm-8 1l8-1 7 4-9 1zm-9 2l9-2 6 4-8 2zm-9 2l9-2 7 4-9 2zm-8 2l8-2 7 4-9 2zm-9 3l9-3 6 4-8 3zm-9 2l9-2 7 4-9 2z"/>
<path fill="#2ad" d="M1287 920l9-3 7 4-9 3zm-8 3l8-3 7 4-9 3zm-9 4l9-4 6 4-8 4zm-9 3l9-3 7 4-9 3zm-8 4l8-4 7 4-9 4zm-9 3l9-3 6 4-8 3zm-9 3l9-3 7 4-9 3z"/>
<path fill="#29c" d="M1226 943l9-3 7 4-9 3zm-8 3l8-3 7 4-9 2z"/>
<path fill="#28b" d="M1209 948l9-2 6 3-8 2zm-9 1l9-1 7 3-9 1z"/>
<path fill="#28a" d="M1192 950l8-1 7 3-9 1z"/>
<path fill="#27a" d="M1183 951l9-1 6 3-8 1zm-9 1l9-1 7 3-9 0zm-9 0l9 0 7 2-9 1z"/>
<path fill="#28a" d="M1157 953l8-1 7 3-9 1zm-9 1l9-1 6 3-8 1z"/>
<path fill="#28b" d="M1139 955l9-1 7 3-9 2z"/>
<path fill="#29c" d="M1131 957l8-2 7 4-9 2zm-9 3l9-3 6 4-8 3z"/>
<path fill="#2ad" d="M1113 962l9-2 7 4-9 2zm-9 3l9-3 7 4-9 3zm-8 3l8-3 7 4-8 3zm-9 3l9-3 7 4-9 4zm-9 3l9-3 7 5-9 3zm-8 3l8-3 7 5-9 3zm-9 3l9-3 6 5-8 2z"/>
<path fill="#29b" d="M1373 906l8-2 7 4-9 2zm-9 1l9-1 6 4-8 1z"/>
<path fill="#29c" d="M1355 909l9-2 7 4-9 2zm-9 1l9-1 7 4-9 1zm-8 2l8-2 7 4-9 2zm-9 2l9-2 6 4-8 2zm-9 2l9-2 7 4-9 2zm-8 3l8-3 7 4-9 3zm-9 2l9-2 6 4-8 2z"/>
<path fill="#2ad" d="M1294 924l9-3 7 4-9 3zm-9 3l9-3 7 4-9 3zm-8 4l8-4 7 4-8 4zm-9 3l9-3 7 4-9 3zm-9 4l9-4 7 4-9 4zm-8 3l8-3 7 4-9 3z"/>
<path fill="#29c" d="M1242 944l9-3 6 4-8 2zm-9 3l9-3 7 3-9 3z"/>
<path fill="#29b" d="M1224 949l9-2 7 3-9 2z"/>
<path fill="#28b" d="M1216 951l8-2 7 3-8 2z"/>
<path fill="#28a" d="M1207 952l9-1 7 3-9 1zm-9 1l9-1 7 3-9 1z"/>
<path fill="#27a" d="M1190 954l8-1 7 3-9 0zm-9 0l9 0 6 2-8 1zm-9 1l9-1 7 3-9 1z"/>
<path fill="#28a" d="M1163 956l9-1 7 3-9 1z"/>
<path fill="#28b" d="M1155 957l8-1 7 3-8 2z"/>
<path fill="#29c" d="M1146 959l9-2 7 4-9 2zm-9 2l9-2 7 4-9 2z"/>
<path fill="#2ad" d="M1129 964l8-3 7 4-9 3zm-9 2l9-2 6 4-8 3zm-9 3l9-3 7 5-9 3z"/>
<path fill="#2ae" d="M1103 972l8-3 7 5-9 3zm-9 4l9-4 6 5-8 4zm-9 3l9-3 7 5-9 3z"/>
<path fill="#2ad" d="M1076 982l9-3 7 5-9 2zm-8 2l8-2 7 4-9 3z"/>
<path fill="#29b" d="M1379 910l9-2 7 4-9 1zm-8 1l8-1 7 3-9 2zm-9 2l9-2 6 4-8 1z"/>
<path fill="#29c" d="M1353 914l9-1 7 3-9 2zm-9 2l9-2 7 4-9 2zm-8 2l8-2 7 4-8 2zm-9 2l9-2 7 4-9 2zm-9 3l9-3 7 4-9 3zm-8 2l8-2 7 4-9 2z"/>
<path fill="#29d" d="M1301 928l9-3 6 4-8 3z"/>
<path fill="#2ad" d="M1292 931l9-3 7 4-9 3zm-8 4l8-4 7 4-9 4zm-9 3l9-3 6 4-8 3zm-9 4l9-4 7 4-9 3z"/>
<path fill="#29c" d="M1257 945l9-3 7 3-9 3zm-8 2l8-2 7 3-9 2z"/>
<path fill="#29b" d="M1240 950l9-3 6 3-8 3z"/>
<path fill="#28b" d="M1231 952l9-2 7 3-9 2zm-8 2l8-2 7 3-9 1z"/>
<path fill="#28a" d="M1214 955l9-1 6 2-8 2z"/>
<path fill="#27a" d="M1205 956l9-1 7 3-9 0zm-9 0l9 0 7 2-9 1zm-8 1l8-1 7 3-9 1z"/>
<path fill="#28a" d="M1179 958l9-1 6 3-8 1z"/>
<path fill="#28b" d="M1170 959l9-1 7 3-9 2z"/>
<path fill="#29c" d="M1162 961l8-2 7 4-9 2z"/>
<path fill="#29d" d="M1153 963l9-2 6 4-8 2z"/>
<path fill="#2ad" d="M1144 965l9-2 7 4-9 3zm-9 3l9-3 7 5-9 3z"/>
<path fill="#2ae" d="M1127 971l8-3 7 5-9 3zm-9 3l9-3 6 5-8 4zm-9 3l9-3 7 6-9 3zm-8 4l8-4 7 6-9 3z"/>
<path fill="#2ad" d="M1092 984l9-3 6 5-8 2zm-9 2l9-2 7 4-9 3zm-9 3l9-3 7 5-9 2z"/>
<path fill="#29b" d="M1386 913l9-1 7 4-9 1zm-9 2l9-2 7 4-9 2zm-8 1l8-1 7 4-9 1z"/>
<path fill="#29c" d="M1360 918l9-2 6 4-8 2zm-9 2l9-2 7 4-9 2zm-8 2l8-2 7 4-9 2zm-9 2l9-2 6 4-8 2zm-9 3l9-3 7 4-9 3zm-9 2l9-2 7 4-9 2zm-8 3l8-3 7 4-9 3z"/>
<path fill="#2ad" d="M1299 935l9-3 6 4-8 3zm-9 4l9-4 7 4-9 3zm-8 3l8-3 7 3-9 4z"/>
<path fill="#29c" d="M1273 945l9-3 6 4-8 2zm-9 3l9-3 7 3-9 3z"/>
<path fill="#28b" d="M1255 950l9-2 7 3-9 2zm-8 3l8-3 7 3-9 2zm-9 2l9-2 6 2-8 2z"/>
<path fill="#28a" d="M1229 956l9-1 7 2-9 2z"/>
<path fill="#27a" d="M1221 958l8-2 7 3-9 1zm-9 0l9 0 6 2-8 1zm-9 1l9-1 7 3-9 0z"/>
<path fill="#28a" d="M1194 960l9-1 7 2-9 2z"/>
<path fill="#28b" d="M1186 961l8-1 7 3-9 1z"/>
<path fill="#29c" d="M1177 963l9-2 6 3-8 3z"/>
<path fill="#2ad" d="M1168 965l9-2 7 4-9 3zm-8 2l8-2 7 5-9 2zm-9 3l9-3 6 5-8 3z"/>
<path fill="#2ae" d="M1142 973l9-3 7 5-9 3z"/>
<path fill="#2be" d="M1133 976l9-3 7 5-9 4zm-8 4l8-4 7 6-8 3z"/>
<path fill="#2ae" d="M1116 983l9-3 7 5-9 3zm-9 3l9-3 7 5-9 3z"/>
<path fill="#2ad" d="M1099 988l8-2 7 5-9 2zm-9 3l9-3 6 5-8 2zm-9 2l9-2 7 4-9 3z"/>
<path fill="#29b" d="M1393 917l9-1 6 3-8 2zm-9 2l9-2 7 4-9 1zm-9 1l9-1 7 3-9 2z"/>
<path fill="#29c" d="M1367 922l8-2 7 4-9 2zm-9 2l9-2 6 4-8 2zm-9 2l9-2 7 4-9 2zm-8 2l8-2 7 4-9 2zm-9 3l9-3 6 4-8 3zm-9 2l9-2 7 4-9 2zm-9 3l9-3 7 4-9 3z"/>
<path fill="#2ad" d="M1306 939l8-3 7 4-8 3zm-9 3l9-3 7 4-9 3z"/>
<path fill="#29c" d="M1288 946l9-4 7 4-9 3zm-8 2l8-2 7 3-9 2z"/>
<path fill="#28b" d="M1271 951l9-3 6 3-8 3zm-9 2l9-2 7 3-9 2zm-9 2l9-2 7 3-9 2zm-8 2l8-2 7 3-8 2z"/>
<path fill="#28a" d="M1236 959l9-2 7 3-9 1z"/>
<path fill="#27a" d="M1227 960l9-1 7 2-9 1zm-8 1l8-1 7 2-9 1z"/>
<path fill="#28a" d="M1210 961l9 0 6 2-8 1z"/>
<path fill="#28b" d="M1201 963l9-2 7 3-9 2z"/>
<path fill="#29c" d="M1192 964l9-1 7 3-9 3z"/>
<path fill="#2ad" d="M1184 967l8-3 7 5-8 3zm-9 3l9-3 7 5-9 3z"/>
<path fill="#2ae" d="M1166 972l9-2 7 5-9 3zm-8 3l8-3 7 6-9 3z"/>
<path fill="#2be" d="M1149 978l9-3 6 6-8 3zm-9 4l9-4 7 6-9 3zm-8 3l8-3 7 5-9 3z"/>
<path fill="#2ae" d="M1123 988l9-3 6 5-8 3z"/>
<path fill="#2ad" d="M1114 991l9-3 7 5-9 3zm-9 2l9-2 7 5-9 2zm-8 2l8-2 7 5-9 2z"/>
<path fill="#29c" d="M1088 998l9-3 6 5-8 2z"/>
<path fill="#29b" d="M1400 921l8-2 7 4-9 1zm-9 1l9-1 6 3-8 2z"/>
<path fill="#29c" d="M1382 924l9-2 7 4-9 2zm-9 2l9-2 7 4-9 2zm-8 2l8-2 7 4-8 2zm-9 2l9-2 7 4-9 2zm-9 2l9-2 7 4-9 2zm-8 3l8-3 7 4-9 2zm-9 2l9-2 6 3-8 3zm-9 3l9-3 7 4-9 3z"/>
<path fill="#29d" d="M1313 943l8-3 7 4-9 3z"/>
<path fill="#29c" d="M1304 946l9-3 6 4-8 2zm-9 3l9-3 7 3-9 3z"/>
<path fill="#28b" d="M1286 951l9-2 7 3-9 2zm-8 3l8-3 7 3-9 2zm-9 2l9-2 6 2-8 2z"/>
<path fill="#28a" d="M1260 958l9-2 7 2-9 2zm-8 2l8-2 7 2-9 2zm-9 1l9-1 6 2-8 1z"/>
<path fill="#27a" d="M1234 962l9-1 7 2-9 1z"/>
<path fill="#28a" d="M1225 963l9-1 7 2-9 2z"/>
<path fill="#28b" d="M1217 964l8-1 7 3-9 2z"/>
<path fill="#29c" d="M1208 966l9-2 6 4-8 2z"/>
<path fill="#2ad" d="M1199 969l9-3 7 4-9 3zm-8 3l8-3 7 4-9 4z"/>
<path fill="#2ae" d="M1182 975l9-3 6 5-8 3zm-9 3l9-3 7 5-9 3z"/>
<path fill="#2be" d="M1164 981l9-3 7 5-9 3zm-8 3l8-3 7 5-9 4zm-9 3l9-3 6 6-8 3z"/>
<path fill="#2ae" d="M1138 990l9-3 7 6-9 3z"/>
<path fill="#2ad" d="M1130 993l8-3 7 6-9 2zm-9 3l9-3 6 5-8 2zm-9 2l9-2 7 4-9 3z"/>
<path fill="#29d" d="M1103 1000l9-2 7 5-9 1z"/>
<path fill="#29c" d="M1095 1002l8-2 7 4-8 2z"/>
<path fill="#29b" d="M1406 924l9-1 7 3-9 2zm-8 2l8-2 7 4-9 2z"/>
<path fill="#29c" d="M1389 928l9-2 6 4-8 1zm-9 2l9-2 7 3-9 3zm-8 2l8-2 7 4-9 2zm-9 2l9-2 6 4-8 2zm-9 2l9-2 7 4-9 2zm-9 2l9-2 7 4-9 2zm-8 3l8-3 7 4-9 3zm-9 3l9-3 6 4-8 2zm-9 3l9-3 7 3-9 3zm-8 2l8-2 7 3-9 3z"/>
<path fill="#28b" d="M1302 952l9-3 6 4-8 2zm-9 2l9-2 7 3-9 1z"/>
<path fill="#28a" d="M1284 956l9-2 7 2-9 2zm-8 2l8-2 7 2-9 2zm-9 2l9-2 6 2-8 2zm-9 2l9-2 7 2-9 2zm-8 1l8-1 7 2-9 1z"/>
<path fill="#27a" d="M1241 964l9-1 6 2-8 2z"/>
<path fill="#28b" d="M1232 966l9-2 7 3-9 2z"/>
<path fill="#29c" d="M1223 968l9-2 7 3-9 3z"/>
<path fill="#2ad" d="M1215 970l8-2 7 4-8 3z"/>
<path fill="#2ae" d="M1206 973l9-3 7 5-9 3zm-9 4l9-4 7 5-9 4z"/>
<path fill="#2be" d="M1189 980l8-3 7 5-9 3zm-9 3l9-3 6 5-8 4zm-9 3l9-3 7 6-9 3zm-9 4l9-4 7 6-9 3zm-8 3l8-3 7 5-8 3z"/>
<path fill="#2ae" d="M1145 996l9-3 7 5-9 3z"/>
<path fill="#2ad" d="M1136 998l9-2 7 5-9 2zm-8 2l8-2 7 5-9 2zm-9 3l9-3 6 5-8 2z"/>
<path fill="#29c" d="M1110 1004l9-1 7 4-9 2zm-8 2l8-2 7 5-9 2z"/>
<path fill="#29b" d="M1413 928l9-2 7 4-9 1z"/>
<path fill="#29c" d="M1404 930l9-2 7 3-9 2zm-8 1l8-1 7 3-9 2zm-9 3l9-3 6 4-8 2zm-9 2l9-2 7 3-9 2zm-8 2l8-2 7 3-9 3zm-9 2l9-2 6 4-8 2zm-9 2l9-2 7 4-9 2zm-9 3l9-3 7 4-9 3zm-8 2l8-2 7 4-8 2zm-9 3l9-3 7 4-9 2z"/>
<path fill="#29b" d="M1317 953l9-3 7 3-9 2z"/>
<path fill="#28b" d="M1309 955l8-2 7 2-9 2z"/>
<path fill="#28a" d="M1300 956l9-1 6 2-8 2zm-9 2l9-2 7 3-9 2zm-9 2l9-2 7 3-9 1zm-8 2l8-2 7 2-8 2zm-9 2l9-2 7 2-9 2zm-9 1l9-1 7 2-9 2z"/>
<path fill="#28b" d="M1248 967l8-2 7 3-9 2z"/>
<path fill="#29c" d="M1239 969l9-2 6 3-8 3z"/>
<path fill="#2ad" d="M1230 972l9-3 7 4-9 3zm-8 3l8-3 7 4-9 4z"/>
<path fill="#2be" d="M1213 978l9-3 6 5-8 4zm-9 4l9-4 7 6-9 3zm-9 3l9-3 7 5-9 4zm-8 4l8-4 7 6-9 4zm-9 3l9-3 6 6-8 3zm-9 3l9-3 7 6-9 3z"/>
<path fill="#2ae" d="M1161 998l8-3 7 6-9 3z"/>
<path fill="#2ad" d="M1152 1001l9-3 6 6-8 2zm-9 2l9-2 7 5-9 2zm-9 2l9-2 7 5-9 2z"/>
<path fill="#29d" d="M1126 1007l8-2 7 5-9 2z"/>
<path fill="#29c" d="M1117 1009l9-2 6 5-8 2zm-9 2l9-2 7 5-9 1z"/>
<path fill="#29b" d="M1420 931l9-1 6 3-8 2z"/>
<path fill="#29c" d="M1411 933l9-2 7 4-9 2zm-9 2l9-2 7 4-9 2zm-8 2l8-2 7 4-8 2zm-9 2l9-2 7 4-9 2zm-9 3l9-3 7 4-9 2zm-8 2l8-2 7 3-9 3zm-9 2l9-2 6 4-8 2zm-9 3l9-3 7 4-9 2zm-8 2l8-2 7 3-9 3z"/>
<path fill="#29b" d="M1333 953l9-2 6 4-8 1z"/>
<path fill="#28b" d="M1324 955l9-2 7 3-9 2zm-9 2l9-2 7 3-9 2z"/>
<path fill="#28a" d="M1307 959l8-2 7 3-9 1zm-9 2l9-2 6 2-8 2zm-9 1l9-1 7 2-9 1zm-8 2l8-2 7 2-9 2zm-9 2l9-2 6 2-8 2z"/>
<path fill="#28b" d="M1263 968l9-2 7 2-9 2z"/>
<path fill="#29c" d="M1254 970l9-2 7 2-9 3z"/>
<path fill="#29d" d="M1246 973l8-3 7 3-9 4z"/>
<path fill="#2ad" d="M1237 976l9-3 6 4-8 4z"/>
<path fill="#2ae" d="M1228 980l9-4 7 5-9 4z"/>
<path fill="#2be" d="M1220 984l8-4 7 5-9 4zm-9 3l9-3 6 5-8 4zm-9 4l9-4 7 6-9 4zm-9 4l9-4 7 6-9 3zm-8 3l8-3 7 5-9 4zm-9 3l9-3 6 6-8 2z"/>
<path fill="#2ae" d="M1167 1004l9-3 7 5-9 3z"/>
<path fill="#2ad" d="M1159 1006l8-2 7 5-9 2zm-9 2l9-2 6 5-8 2zm-9 2l9-2 7 5-9 2z"/>
<path fill="#29c" d="M1132 1012l9-2 7 5-9 2zm-8 2l8-2 7 5-8 1zm-9 1l9-1 7 4-9 2z"/>
</g>
<g transform="scale(.5)" stroke="#000" stroke-opacity="0.65" stroke-width="0.9" stroke-linejoin="round">
<path fill="#e72" d="M1185 610l7-2 5 5-7 2zm-7 3l7-3 5 5-7 3z"/>
<path fill="#d82" d="M1171 616l7-3 5 5-6 2zm-6 2l6-2 6 4-7 3zm-7 3l7-3 5 5-7 2zm-7 2l7-2 5 4-7 2zm-7 3l7-3 5 4-7 2zm-7 2l7-2 5 3-6 2zm-7 2l7-2 6 3-7 2z"/>
<path fill="#d72" d="M1124 632l6-2 6 3-7 2zm-7 2l7-2 5 3-7 1zm-7 2l7-2 5 2-7 2zm-7 2l7-2 5 2-7 2zm-7 1l7-1 5 2-6 2zm-6 2l6-2 6 3-7 2zm-7 2l7-2 5 3-7 1zm-7 2l7-2 5 2-7 2zm-7 2l7-2 5 2-7 2zm-7 2l7-2 5 2-6 3zm-7 2l7-2 6 3-7 2zm-6 2l6-2 6 3-7 2zm-7 2l7-2 5 3-7 2zm-7 2l7-2 5 3-7 2zm-7 3l7-3 5 3-7 2z"/>
<path fill="#d82" d="M1021 662l7-2 5 2-6 2zm-6 2l6-2 6 2-7 2zm-7 2l7-2 5 2-7 3zm-7 2l7-2 5 3-7 2zm-7 3l7-3 5 3-7 2zm-7 2l7-2 5 2-6 3zm-7 2l7-2 6 3-7 2zm-6 3l6-3 6 3-7 3zm-7 2l7-2 5 3-7 2zm-7 2l7-2 5 3-7 2zm-7 3l7-3 5 3-7 3zm-7 2l7-2 5 3-6 2zm-6 2l6-2 6 3-7 2zm-7 2l7-2 5 3-7 2zm-7 2l7-2 5 3-7 2zm-7 2l7-2 5 3-7 2zm-7 1l7-1 5 3-6 1zm-7 2l7-2 6 3-7 2zm-6 2l6-2 6 3-7 2zm-7 1l7-1 5 3-7 1zm-7 2l7-2 5 3-7 2zm-7 2l7-2 5 3-7 2z"/>
<path fill="#e82" d="M1190 615l7-2 5 4-6 3zm-7 3l7-3 6 5-7 2zm-6 2l6-2 6 4-7 2z"/>
<path fill="#d82" d="M1170 623l7-3 5 4-7 3zm-7 2l7-2 5 4-7 2zm-7 2l7-2 5 4-7 2zm-7 2l7-2 5 4-6 2zm-6 2l6-2 6 4-7 1zm-7 2l7-2 5 3-7 2z"/>
<path fill="#d72" d="M1129 635l7-2 5 3-7 1zm-7 1l7-1 5 2-7 2zm-7 2l7-2 5 3-6 1zm-7 2l7-2 6 2-7 2zm-6 2l6-2 6 2-7 2zm-7 2l7-2 5 2-7 2zm-7 1l7-1 5 2-7 2zm-7 2l7-2 5 3-7 2zm-7 2l7-2 5 3-6 2zm-6 3l6-3 6 3-7 2zm-7 2l7-2 5 2-7 2zm-7 2l7-2 5 2-7 2zm-7 2l7-2 5 2-7 2zm-7 2l7-2 5 2-6 2zm-7 2l7-2 6 2-7 2z"/>
<path fill="#d82" d="M1027 664l6-2 6 2-7 3zm-7 2l7-2 5 3-7 2zm-7 3l7-3 5 3-7 2zm-7 2l7-2 5 2-6 3zm-7 2l7-2 6 3-7 2zm-6 3l6-3 6 3-7 3zm-7 2l7-2 5 3-7 2zm-7 3l7-3 5 3-7 3zm-7 2l7-2 5 3-7 2zm-7 2l7-2 5 3-6 3zm-7 3l7-3 6 4-7 2zm-6 2l6-2 6 3-7 2zm-7 2l7-2 5 3-7 2zm-7 2l7-2 5 3-7 2zm-7 2l7-2 5 3-6 2zm-7 2l7-2 6 3-7 2zm-6 1l6-1 6 3-7 1zm-7 2l7-2 5 3-7 2zm-7 2l7-2 5 3-7 2zm-7 1l7-1 5 3-7 1zm-7 2l7-2 5 3-6 2zm-7 2l7-2 6 3-7 2z"/>
<path fill="#e82" d="M1196 620l6-3 6 5-7 2zm-7 2l7-2 5 4-7 3zm-7 2l7-2 5 5-7 2z"/>
<path fill="#d82" d="M1175 627l7-3 5 5-7 2zm-7 2l7-2 5 4-6 1zm-7 2l7-2 6 3-7 2zm-6 2l6-2 6 3-7 2zm-7 1l7-1 5 3-7 1z"/>
<path fill="#d72" d="M1141 636l7-2 5 3-7 1zm-7 1l7-1 5 2-6 1zm-7 2l7-2 6 2-7 2zm-6 1l6-1 6 2-7 2zm-7 2l7-2 5 3-7 1zm-7 2l7-2 5 2-7 2zm-7 2l7-2 5 2-7 2zm-7 2l7-2 5 2-6 2zm-7 2l7-2 6 2-7 2zm-6 2l6-2 6 2-7 2zm-7 2l7-2 5 2-7 2zm-7 2l7-2 5 2-7 2zm-7 2l7-2 5 2-6 2zm-7 2l7-2 6 2-7 2zm-6 2l6-2 6 2-7 3zm-7 2l7-2 5 3-7 2z"/>
<path fill="#d82" d="M1032 667l7-3 5 3-7 2zm-7 2l7-2 5 2-7 2zm-7 2l7-2 5 2-6 3zm-6 3l6-3 6 3-7 2zm-7 2l7-2 5 2-7 3zm-7 3l7-3 5 3-7 2zm-7 2l7-2 5 2-7 3zm-7 3l7-3 5 3-6 3zm-7 2l7-2 6 3-7 2z"/>
<path fill="#e82" d="M971 689l6-3 6 3-7 3z"/>
<path fill="#d82" d="M964 691l7-2 5 3-7 2zm-7 2l7-2 5 3-7 2zm-7 2l7-2 5 3-7 2zm-7 2l7-2 5 3-6 2zm-6 2l6-2 6 3-7 2zm-7 2l7-2 5 3-7 1zm-7 1l7-1 5 2-7 2zm-7 2l7-2 5 3-7 2zm-7 2l7-2 5 3-6 1zm-7 1l7-1 6 2-7 2zm-6 2l6-2 6 3-7 2zm-7 2l7-2 5 3-7 2z"/>
<path fill="#e82" d="M1201 624l7-2 5 5-7 2zm-7 3l7-3 5 5-7 2zm-7 2l7-2 5 4-6 2z"/>
<path fill="#d82" d="M1180 631l7-2 6 4-7 1zm-6 1l6-1 6 3-7 2zm-7 2l7-2 5 4-7 1zm-7 2l7-2 5 3-7 2z"/>
<path fill="#d72" d="M1153 637l7-1 5 3-7 1zm-7 1l7-1 5 3-6 1zm-6 1l6-1 6 3-7 1zm-7 2l7-2 5 3-7 1zm-7 2l7-2 5 2-7 2zm-7 1l7-1 5 2-7 2zm-7 2l7-2 5 3-6 2zm-7 2l7-2 6 3-7 2zm-6 2l6-2 6 3-7 2zm-7 2l7-2 5 3-7 2zm-7 2l7-2 5 3-7 2zm-7 2l7-2 5 3-7 2zm-7 2l7-2 5 3-6 2zm-6 2l6-2 6 3-7 2zm-7 2l7-2 5 3-7 2zm-7 3l7-3 5 3-7 2zm-7 2l7-2 5 2-7 2z"/>
<path fill="#d82" d="M1037 669l7-2 5 2-6 3zm-7 2l7-2 6 3-7 2zm-6 3l6-3 6 3-7 3zm-7 2l7-2 5 3-7 2zm-7 3l7-3 5 3-7 3zm-7 2l7-2 5 3-7 2zm-7 3l7-3 5 3-6 3z"/>
<path fill="#e82" d="M990 687l6-3 6 3-7 3zm-7 2l7-2 5 3-7 3zm-7 3l7-3 5 4-7 2z"/>
<path fill="#d82" d="M969 694l7-2 5 3-7 2zm-7 2l7-2 5 3-6 2zm-7 2l7-2 6 3-7 2zm-6 2l6-2 6 3-7 2zm-7 2l7-2 5 3-7 2zm-7 1l7-1 5 3-7 1zm-7 2l7-2 5 3-7 2zm-7 2l7-2 5 3-6 1zm-6 1l6-1 6 2-7 2zm-7 2l7-2 5 3-7 2zm-7 2l7-2 5 3-7 2zm-7 2l7-2 5 3-7 2z"/>
<path fill="#e82" d="M1206 629l7-2 5 4-7 2zm-7 2l7-2 5 4-6 2z"/>
<path fill="#d82" d="M1193 633l6-2 6 4-7 1zm-7 1l7-1 5 3-7 2zm-7 2l7-2 5 4-7 1zm-7 1l7-1 5 3-7 1z"/>
<path fill="#d72" d="M1165 639l7-2 5 3-6 1zm-7 1l7-1 6 2-7 1zm-6 1l6-1 6 2-7 1zm-7 1l7-1 5 2-7 1zm-7 1l7-1 5 2-7 1zm-7 2l7-2 5 2-7 2zm-7 2l7-2 5 2-6 2zm-6 2l6-2 6 2-7 2zm-7 2l7-2 5 2-7 2zm-7 2l7-2 5 2-7 2zm-7 2l7-2 5 2-7 2zm-7 2l7-2 5 2-6 2zm-7 2l7-2 6 2-7 2zm-6 2l6-2 6 2-7 2zm-7 2l7-2 5 2-7 2zm-7 2l7-2 5 2-7 2zm-7 2l7-2 5 2-7 2z"/>
<path fill="#d82" d="M1049 669l7-2 5 2-6 3zm-6 3l6-3 6 3-7 2zm-7 2l7-2 5 2-7 3zm-7 3l7-3 5 3-7 2zm-7 2l7-2 5 2-7 3zm-7 3l7-3 5 3-6 3zm-7 2l7-2 6 3-7 2z"/>
<path fill="#e82" d="M1002 687l6-3 6 3-7 3zm-7 3l7-3 5 3-7 3zm-7 3l7-3 5 3-7 3z"/>
<path fill="#d82" d="M981 695l7-2 5 3-7 2zm-7 2l7-2 5 3-6 2zm-6 2l6-2 6 3-7 2zm-7 2l7-2 5 3-7 2zm-7 2l7-2 5 3-7 2zm-7 2l7-2 5 3-7 1zm-7 1l7-1 5 2-6 2zm-7 2l7-2 6 3-7 1zm-6 1l6-1 6 2-7 2zm-7 2l7-2 5 3-7 2zm-7 2l7-2 5 3-7 1zm-7 2l7-2 5 2-7 2zm-7 2l7-2 5 2-6 3z"/>
<path fill="#e82" d="M1211 633l7-2 6 4-7 2z"/>
<path fill="#d82" d="M1205 635l6-2 6 4-7 1zm-7 1l7-1 5 3-7 2zm-7 2l7-2 5 4-7 1zm-7 1l7-1 5 3-7 1zm-7 1l7-1 5 3-6 0z"/>
<path fill="#d72" d="M1171 641l6-1 6 2-7 1zm-7 1l7-1 5 2-7 1zm-7 1l7-1 5 2-7 1zm-7 1l7-1 5 2-7 1zm-7 1l7-1 5 2-6 2zm-7 2l7-2 6 3-7 2zm-6 2l6-2 6 3-7 1zm-7 2l7-2 5 2-7 2zm-7 2l7-2 5 2-7 2zm-7 2l7-2 5 2-7 2zm-7 2l7-2 5 2-6 2zm-6 2l6-2 6 2-7 2zm-7 2l7-2 5 2-7 2zm-7 2l7-2 5 2-7 2zm-7 2l7-2 5 2-7 3zm-7 2l7-2 5 3-6 2zm-7 2l7-2 6 3-7 2z"/>
<path fill="#d82" d="M1055 672l6-3 6 3-7 2zm-7 2l7-2 5 2-7 3zm-7 3l7-3 5 3-7 2zm-7 2l7-2 5 2-6 3zm-7 3l7-3 6 3-7 3zm-6 3l6-3 6 3-7 3z"/>
<path fill="#e82" d="M1014 687l7-2 5 3-7 3zm-7 3l7-3 5 4-7 2zm-7 3l7-3 5 3-7 3zm-7 3l7-3 5 3-6 3z"/>
<path fill="#d82" d="M986 698l7-2 6 3-7 2zm-6 2l6-2 6 3-7 2zm-7 2l7-2 5 3-7 2zm-7 2l7-2 5 3-7 2zm-7 2l7-2 5 3-6 1zm-7 1l7-1 6 2-7 2zm-6 2l6-2 6 3-7 1zm-7 1l7-1 5 2-7 2zm-7 2l7-2 5 3-7 2zm-7 2l7-2 5 3-7 1zm-7 1l7-1 5 2-6 2zm-7 2l7-2 6 3-7 2zm-6 3l6-3 6 3-7 3zm312-83l7-2 5 4-7 1zm-7 1l7-1 5 3-7 2zm-7 2l7-2 5 4-7 1zm-7 1l7-1 5 3-6 0zm-7 1l7-1 6 2-7 1z"/>
<path fill="#d72" d="M1183 642l6 0 6 2-7 0zm-7 1l7-1 5 2-7 1zm-7 1l7-1 5 2-7 1zm-7 1l7-1 5 2-6 1zm-7 1l7-1 6 2-7 1zm-6 2l6-2 6 2-7 2zm-7 2l7-2 5 2-7 2zm-7 1l7-1 5 2-7 2zm-7 2l7-2 5 3-7 2zm-7 2l7-2 5 3-6 2zm-7 2l7-2 6 3-7 2zm-6 2l6-2 6 3-7 2zm-7 2l7-2 5 3-7 2zm-7 2l7-2 5 3-7 2zm-7 2l7-2 5 3-6 2zm-7 3l7-3 6 3-7 2zm-6 2l6-2 6 2-7 2z"/>
<path fill="#d82" d="M1067 672l7-2 5 2-7 3zm-7 2l7-2 5 3-7 2zm-7 3l7-3 5 3-7 3zm-7 2l7-2 5 3-6 2zm-6 3l6-3 6 3-7 3zm-7 3l7-3 5 3-7 3z"/>
<path fill="#e82" d="M1026 688l7-3 5 3-7 3zm-7 3l7-3 5 3-7 3zm-7 2l7-2 5 3-6 2zm-7 3l7-3 6 3-7 3z"/>
<path fill="#d82" d="M999 699l6-3 6 3-7 3zm-7 2l7-2 5 3-7 2zm-7 2l7-2 5 3-7 2zm-7 2l7-2 5 3-7 2zm-7 2l7-2 5 3-6 1zm-6 1l6-1 6 2-7 2zm-7 2l7-2 5 3-7 1zm-7 1l7-1 5 2-7 2zm-7 2l7-2 5 3-7 1zm-7 2l7-2 5 2-6 2zm-7 1l7-1 6 2-7 2zm-6 2l6-2 6 3-7 2zm-7 2l7-2 5 3-7 2zm-7 3l7-3 5 3-7 2zm312-83l7-1 5 3-7 1zm-7 2l7-2 5 3-6 1zm-7 1l7-1 6 2-7 1zm-6 0l6 0 6 2-7 0z"/>
<path fill="#d72" d="M1195 644l7-1 5 2-7 1zm-7 0l7 0 5 2-7 0zm-7 1l7-1 5 2-7 1zm-7 1l7-1 5 2-6 1zm-6 1l6-1 6 2-7 1zm-7 1l7-1 5 2-7 2zm-7 2l7-2 5 3-7 1zm-7 2l7-2 5 2-7 2zm-7 2l7-2 5 2-6 2zm-7 2l7-2 6 2-7 2zm-6 2l6-2 6 2-7 2zm-7 2l7-2 5 2-7 2zm-7 2l7-2 5 2-7 2zm-7 2l7-2 5 2-7 2zm-7 2l7-2 5 2-6 2zm-6 2l6-2 6 2-7 2zm-7 2l7-2 5 2-7 3z"/>
<path fill="#d82" d="M1079 672l7-2 5 3-7 2zm-7 3l7-3 5 3-7 2zm-7 2l7-2 5 2-6 3zm-7 3l7-3 6 3-7 3zm-6 2l6-2 6 3-7 2zm-7 3l7-3 5 3-7 3z"/>
<path fill="#e82" d="M1038 688l7-3 5 3-7 3zm-7 3l7-3 5 3-7 3zm-7 3l7-3 5 3-6 3zm-6 2l6-2 6 3-7 2z"/>
<path fill="#d82" d="M1011 699l7-3 5 3-7 3zm-7 3l7-3 5 3-7 2zm-7 2l7-2 5 2-7 3zm-7 2l7-2 5 3-6 1zm-7 2l7-2 6 2-7 2zm-6 1l6-1 6 2-7 2zm-7 2l7-2 5 3-7 1zm-7 1l7-1 5 2-7 1zm-7 2l7-2 5 2-7 2zm-7 1l7-1 5 2-6 2zm-6 2l6-2 6 3-7 1zm-7 2l7-2 5 2-7 2zm-7 2l7-2 5 2-7 2zm-7 2l7-2 5 2-7 3zm-7 2l7-2 5 3-6 2zm312-82l7-1 5 3-6 1zm-6 1l6-1 6 3-7 1zm-7 1l7-1 5 3-7 0zm-7 0l7 0 5 2-7 0z"/>
<path fill="#d72" d="M1200 646l7-1 5 2-7 1zm-7 0l7 0 5 2-6 0zm-7 1l7-1 6 2-7 1zm-6 1l6-1 6 2-7 1zm-7 1l7-1 5 2-7 2zm-7 2l7-2 5 3-7 1zm-7 1l7-1 5 2-7 2zm-7 2l7-2 5 3-6 2zm-6 2l6-2 6 3-7 2zm-7 2l7-2 5 3-7 2zm-7 2l7-2 5 3-7 2zm-7 2l7-2 5 3-7 2zm-7 2l7-2 5 3-6 2zm-7 2l7-2 6 3-7 2zm-6 2l6-2 6 3-7 2zm-7 2l7-2 5 3-7 2zm-7 3l7-3 5 3-7 2z"/>
<path fill="#d82" d="M1084 675l7-2 5 2-7 3zm-7 2l7-2 5 3-6 2zm-6 3l6-3 6 3-7 3zm-7 3l7-3 5 3-7 3zm-7 2l7-2 5 3-7 3z"/>
<path fill="#e82" d="M1050 688l7-3 5 4-7 2zm-7 3l7-3 5 3-6 3zm-7 3l7-3 6 3-7 3zm-6 3l6-3 6 3-7 3z"/>
<path fill="#d82" d="M1023 699l7-2 5 3-7 2zm-7 3l7-3 5 3-7 3zm-7 2l7-2 5 3-7 2zm-7 3l7-3 5 3-6 2zm-6 1l6-1 6 2-7 2zm-7 2l7-2 5 3-7 1zm-7 2l7-2 5 2-7 2zm-7 1l7-1 5 2-7 1zm-7 1l7-1 5 2-6 2zm-7 2l7-2 6 3-7 1zm-6 2l6-2 6 2-7 2zm-7 1l7-1 5 2-7 2zm-7 2l7-2 5 3-7 2zm-7 2l7-2 5 3-7 2zm-7 3l7-3 5 3-6 2zm-6 2l6-2 6 2-7 3zm312-82l6-1 6 3-7 0zm-7 1l7-1 5 2-7 0zm-7 0l7 0 5 1-7 1z"/>
<path fill="#d72" d="M1212 647l7 0 5 2-7 0zm-7 1l7-1 5 2-6 1zm-6 0l6 0 6 2-7 0zm-7 1l7-1 5 2-7 1zm-7 1l7-1 5 2-7 2zm-7 2l7-2 5 3-7 1zm-7 1l7-1 5 2-6 1zm-7 2l7-2 6 2-7 2zm-6 2l6-2 6 2-7 2zm-7 2l7-2 5 2-7 2zm-7 2l7-2 5 2-7 2zm-7 2l7-2 5 2-7 2zm-7 2l7-2 5 2-6 2zm-6 2l6-2 6 2-7 2zm-7 2l7-2 5 2-7 2zm-7 2l7-2 5 2-7 3zm-7 2l7-2 5 3-7 2z"/>
<path fill="#d82" d="M1096 675l7-2 5 3-6 2zm-7 3l7-3 6 3-7 3zm-6 2l6-2 6 3-7 2zm-7 3l7-3 5 3-7 3zm-7 3l7-3 5 3-7 3z"/>
<path fill="#e82" d="M1062 689l7-3 5 3-6 3zm-7 2l7-2 6 3-7 3zm-6 3l6-3 6 4-7 2zm-7 3l7-3 5 3-7 3z"/>
<path fill="#d82" d="M1035 700l7-3 5 3-7 3zm-7 2l7-2 5 3-7 2zm-7 3l7-3 5 3-6 2zm-7 2l7-2 6 2-7 2zm-6 2l6-2 6 2-7 2zm-7 2l7-2 5 2-7 2zm-7 1l7-1 5 2-7 1zm-7 2l7-2 5 2-6 2zm-7 1l7-1 6 2-7 1zm-6 2l6-2 6 2-7 2zm-7 1l7-1 5 2-7 1zm-7 2l7-2 5 2-7 2zm-7 2l7-2 5 2-7 2zm-7 2l7-2 5 2-6 2zm-7 2l7-2 6 2-7 3zm-6 2l6-2 6 3-7 2zm-7 3l7-3 5 3-7 3zm312-83l7 0 5 2-7 0zm-7 0l7 0 5 2-7 0zm-7 1l7-1 5 2-6 0z"/>
<path fill="#d72" d="M1217 649l7 0 6 1-7 1zm-6 1l6-1 6 2-7 1zm-7 0l7 0 5 2-7 0zm-7 1l7-1 5 2-7 1zm-7 2l7-2 5 2-6 2zm-7 1l7-1 6 2-7 1zm-6 1l6-1 6 2-7 2zm-7 2l7-2 5 3-7 1zm-7 2l7-2 5 2-7 2zm-7 2l7-2 5 2-7 3zm-7 2l7-2 5 3-6 2zm-7 2l7-2 6 3-7 2zm-6 2l6-2 6 3-7 2zm-7 2l7-2 5 3-7 2zm-7 2l7-2 5 3-7 2zm-7 3l7-3 5 3-6 2z"/>
<path fill="#d82" d="M1108 676l7-2 6 2-7 3zm-6 2l6-2 6 3-7 2zm-7 3l7-3 5 3-7 3zm-7 2l7-2 5 3-7 2zm-7 3l7-3 5 3-7 3z"/>
<path fill="#e82" d="M1074 689l7-3 5 3-6 3zm-6 3l6-3 6 3-7 3zm-7 3l7-3 5 3-7 3z"/>
<path fill="#d82" d="M1054 697l7-2 5 3-7 2zm-7 3l7-3 5 3-7 3zm-7 3l7-3 5 3-6 2zm-7 2l7-2 6 2-7 3zm-6 2l6-2 6 3-7 2zm-7 2l7-2 5 3-7 2zm-7 2l7-2 5 3-7 1zm-7 2l7-2 5 2-7 2zm-7 1l7-1 5 2-6 1zm-6 2l6-2 6 2-7 2zm-7 1l7-1 5 2-7 1zm-7 2l7-2 5 2-7 2zm-7 1l7-1 5 2-7 2zm-7 2l7-2 5 3-6 1zm-7 2l7-2 6 2-7 2zm-6 2l6-2 6 2-7 3zm-7 3l7-3 5 3-7 2zm-7 2l7-2 5 2-7 3zm-7 3l7-3 5 3-7 3zm312-84l7 0 5 1-6 0zm-7 0l7 0 6 1-7 0z"/>
<path fill="#d72" d="M1230 650l6 0 6 1-7 1zm-7 1l7-1 5 2-7 0zm-7 1l7-1 5 1-7 1zm-7 0l7 0 5 1-7 1zm-7 1l7-1 5 2-6 1zm-6 2l6-2 6 2-7 2zm-7 1l7-1 5 2-7 1zm-7 2l7-2 5 2-7 2zm-7 1l7-1 5 2-7 2zm-7 2l7-2 5 3-6 2zm-7 3l7-3 6 3-7 2zm-6 2l6-2 6 2-7 2zm-7 2l7-2 5 2-7 2zm-7 2l7-2 5 2-7 2zm-7 2l7-2 5 2-7 3z"/>
<path fill="#d82" d="M1127 674l7-2 5 3-6 2zm-6 2l6-2 6 3-7 2zm-7 3l7-3 5 3-7 3zm-7 2l7-2 5 3-7 2zm-7 3l7-3 5 3-7 3zm-7 2l7-2 5 3-6 3z"/>
<path fill="#e82" d="M1086 689l7-3 6 4-7 3zm-6 3l6-3 6 4-7 2zm-7 3l7-3 5 3-7 3zm-7 3l7-3 5 3-7 3z"/>
<path fill="#d82" d="M1059 700l7-2 5 3-7 2zm-7 3l7-3 5 3-6 3zm-6 2l6-2 6 3-7 2zm-7 3l7-3 5 3-7 2zm-7 2l7-2 5 2-7 2zm-7 2l7-2 5 2-7 2zm-7 1l7-1 5 2-6 1zm-7 2l7-2 6 2-7 2zm-6 1l6-1 6 2-7 1zm-7 2l7-2 5 2-7 1zm-7 1l7-1 5 1-7 2zm-7 2l7-2 5 2-7 2zm-7 2l7-2 5 2-6 2zm-6 1l6-1 6 2-7 1zm-7 2l7-2 5 2-7 3zm-7 3l7-3 5 3-7 2zm-7 2l7-2 5 2-7 2zm-7 3l7-3 5 2-6 3zm-7 3l7-3 6 2-7 3z"/>
<path fill="#c72" d="M1249 651l6 0 6 1-7 0zm-7 0l7 0 5 1-7 0zm-7 1l7-1 5 1-7 1zm-7 0l7 0 5 1-7 1zm-7 1l7-1 5 2-6 0z"/>
<path fill="#d72" d="M1214 654l7-1 6 1-7 2zm-6 1l6-1 6 2-7 1zm-7 2l7-2 5 2-7 1zm-7 1l7-1 5 1-7 2zm-7 2l7-2 5 2-7 2zm-7 2l7-2 5 2-6 2zm-6 2l6-2 6 2-7 3zm-7 2l7-2 5 3-7 2zm-7 2l7-2 5 3-7 2zm-7 2l7-2 5 3-7 2zm-7 2l7-2 5 3-6 2z"/>
<path fill="#d82" d="M1139 675l7-3 6 3-7 3zm-6 2l6-2 6 3-7 2zm-7 2l7-2 5 3-7 2zm-7 3l7-3 5 3-7 3zm-7 2l7-2 5 3-7 3zm-7 3l7-3 5 4-6 2z"/>
<path fill="#e82" d="M1099 690l6-3 6 3-7 3zm-7 3l7-3 5 3-7 3zm-7 2l7-2 5 3-7 3zm-7 3l7-3 5 4-7 2zm-7 3l7-3 5 3-6 3z"/>
<path fill="#d82" d="M1064 703l7-2 6 3-7 2zm-6 3l6-3 6 3-7 3zm-7 2l7-2 5 3-7 2zm-7 2l7-2 5 3-7 2zm-7 2l7-2 5 3-7 1zm-7 2l7-2 5 2-6 2zm-6 1l6-1 6 2-7 1zm-7 2l7-2 5 2-7 1zm-7 1l7-1 5 1-7 1zm-7 1l7-1 5 1-7 2zm-7 2l7-2 5 2-6 2zm-7 2l7-2 6 2-7 1zm-6 2l6-2 6 1-7 2zm-7 1l7-1 5 1-7 2zm-7 3l7-3 5 2-7 2zm-7 2l7-2 5 1-7 3zm-7 2l7-2 5 2-6 2zm-6 3l6-3 6 2-7 4zm-7 3l7-3 5 3-7 3z"/>
<path fill="#c72" d="M1254 652l7 0 5 0-7 0zm-7 0l7 0 5 0-7 1zm-7 1l7-1 5 1-7 0zm-7 1l7-1 5 0-6 1zm-6 0l6 0 6 0-7 1zm-7 2l7-2 5 1-7 2zm-7 1l7-1 5 1-7 1z"/>
<path fill="#d72" d="M1206 658l7-1 5 1-7 2zm-7 2l7-2 5 2-6 2zm-7 2l7-2 6 2-7 3zm-6 2l6-2 6 3-7 2zm-7 3l7-3 5 3-7 2zm-7 2l7-2 5 2-7 2zm-7 2l7-2 5 2-7 3zm-7 2l7-2 5 3-6 2z"/>
<path fill="#d82" d="M1152 675l6-2 6 3-7 2zm-7 3l7-3 5 3-7 3zm-7 2l7-2 5 3-7 2zm-7 2l7-2 5 3-7 3zm-7 3l7-3 5 4-6 2zm-7 3l7-3 6 3-7 3z"/>
<path fill="#e82" d="M1111 690l6-2 6 3-7 3zm-7 3l7-3 5 4-7 3zm-7 3l7-3 5 4-7 3zm-7 3l7-3 5 4-6 2zm-7 2l7-2 6 3-7 3zm-6 3l6-3 6 4-7 2zm-7 2l7-2 5 3-7 2z"/>
<path fill="#d82" d="M1063 709l7-3 5 3-7 3zm-7 2l7-2 5 3-7 2zm-7 2l7-2 5 3-6 1zm-7 1l7-1 6 2-7 2zm-6 2l6-2 6 3-7 1zm-7 1l7-1 5 2-7 0zm-7 1l7-1 5 1-7 1zm-7 1l7-1 5 1-6 2zm-7 2l7-2 6 2-7 1zm-6 2l6-2 6 1-7 2zm-7 1l7-1 5 1-7 2zm-7 2l7-2 5 2-7 2zm-7 2l7-2 5 2-7 2zm-7 2l7-2 5 2-6 2zm-7 3l7-3 6 2-7 3zm-6 2l6-2 6 2-7 3zm-7 4l7-4 5 3-7 3z"/>
<path fill="#e82" d="M947 742l7-3 5 2-7 3z"/>
<path fill="#c72" d="M1259 652l7 0 5 0-7 0zm-7 1l7-1 5 0-6 1zm-7 0l7 0 6 0-7 1zm-6 1l6-1 6 1-7 1zm-7 1l7-1 5 1-7 1zm-7 2l7-2 5 1-7 2z"/>
<path fill="#d72" d="M1218 658l7-1 5 1-6 2zm-7 2l7-2 6 2-7 2zm-6 2l6-2 6 2-7 3zm-7 3l7-3 5 3-7 2zm-7 2l7-2 5 2-7 2zm-7 2l7-2 5 2-7 3zm-7 2l7-2 5 3-6 2zm-7 3l7-3 6 3-7 2z"/>
<path fill="#d82" d="M1164 676l6-2 6 2-7 3zm-7 2l7-2 5 3-7 2zm-7 3l7-3 5 3-7 3zm-7 2l7-2 5 3-6 2zm-7 3l7-3 6 3-7 3zm-6 2l6-2 6 3-7 3z"/>
<path fill="#e82" d="M1123 691l7-3 5 4-7 3zm-7 3l7-3 5 4-7 3zm-7 3l7-3 5 4-7 3zm-7 3l7-3 5 4-6 2zm-6 2l6-2 6 3-7 3zm-7 3l7-3 5 4-7 2zm-7 2l7-2 5 3-7 2z"/>
<path fill="#d82" d="M1075 709l7-2 5 3-7 3zm-7 3l7-3 5 4-6 2zm-7 2l7-2 6 3-7 1zm-6 1l6-1 6 2-7 2zm-7 2l7-2 5 3-7 1zm-7 1l7-1 5 2-7 0zm-7 0l7 0 5 1-7 0zm-7 1l7-1 5 1-6 1zm-6 2l6-2 6 1-7 2z"/>
<path fill="#d72" d="M1014 722l7-1 5 1-7 1zm-7 2l7-2 5 1-7 2z"/>
<path fill="#d82" d="M1000 726l7-2 5 1-7 2zm-7 2l7-2 5 1-6 2zm-7 2l7-2 6 1-7 2zm-6 2l6-2 6 1-7 3zm-7 3l7-3 5 2-7 3zm-7 3l7-3 5 2-7 3z"/>
<path fill="#e82" d="M959 741l7-3 5 2-7 4z"/>
<path fill="#d82" d="M952 744l7-3 5 3-6 3z"/>
<path fill="#c72" d="M1264 652l7 0 6 0-7 0zm-6 1l6-1 6 0-7 1zm-7 1l7-1 5 0-7 1zm-7 1l7-1 5 0-7 1zm-7 1l7-1 5 0-7 2z"/>
<path fill="#d72" d="M1230 658l7-2 5 1-6 2zm-6 2l6-2 6 1-7 3zm-7 2l7-2 5 2-7 2zm-7 3l7-3 5 2-7 3zm-7 2l7-2 5 2-7 3zm-7 2l7-2 5 3-6 2zm-7 3l7-3 6 3-7 3zm-6 2l6-2 6 3-7 2z"/>
<path fill="#d82" d="M1176 676l7-2 5 3-7 2zm-7 3l7-3 5 3-7 3zm-7 2l7-2 5 3-7 2zm-7 3l7-3 5 3-6 3zm-6 2l6-2 6 3-7 2zm-7 3l7-3 5 3-7 3z"/>
<path fill="#e82" d="M1135 692l7-3 5 3-7 3zm-7 3l7-3 5 3-7 4zm-7 3l7-3 5 4-6 3zm-7 3l7-3 6 4-7 2zm-6 2l6-2 6 3-7 3zm-7 3l7-3 5 4-7 2zm-7 2l7-2 5 3-7 3zm-7 2l7-2 5 4-7 2z"/>
<path fill="#d82" d="M1080 713l7-3 5 4-6 2zm-6 2l6-2 6 3-7 1zm-7 1l7-1 5 2-7 2zm-7 2l7-2 5 3-7 1zm-7 1l7-1 5 2-7 0zm-7 0l7 0 5 1-6 0z"/>
<path fill="#d72" d="M1039 719l7 0 6 1-7 1zm-6 1l6-1 6 2-7 1zm-7 2l7-2 5 2-7 1zm-7 1l7-1 5 1-7 1zm-7 2l7-2 5 1-7 2zm-7 2l7-2 5 1-6 2zm-6 2l6-2 6 1-7 2z"/>
<path fill="#d82" d="M992 731l7-2 5 1-7 3zm-7 3l7-3 5 2-7 3zm-7 3l7-3 5 2-7 3zm-7 3l7-3 5 2-6 4z"/>
<path fill="#e82" d="M964 744l7-4 6 3-7 3z"/>
<path fill="#d82" d="M958 747l6-3 6 2-7 3z"/>
<path fill="#c72" d="M1270 652l7 0 5 0-7 0zm-7 1l7-1 5 0-7 1zm-7 1l7-1 5 0-7 2zm-7 1l7-1 5 1-6 1zm-7 2l7-2 6 1-7 3z"/>
<path fill="#d72" d="M1236 659l6-2 6 2-7 2zm-7 3l7-3 5 2-7 3zm-7 2l7-2 5 2-7 3zm-7 3l7-3 5 3-7 3zm-7 3l7-3 5 3-6 2zm-6 2l6-2 6 2-7 3zm-7 3l7-3 5 3-7 2z"/>
<path fill="#d82" d="M1188 677l7-2 5 2-7 3zm-7 2l7-2 5 3-7 2zm-7 3l7-3 5 3-6 3zm-7 2l7-2 6 3-7 2zm-6 3l6-3 6 3-7 3zm-7 2l7-2 5 3-7 3z"/>
<path fill="#e82" d="M1147 692l7-3 5 4-7 3zm-7 3l7-3 5 4-7 3zm-7 4l7-4 5 4-6 3zm-6 3l6-3 6 3-7 3zm-7 2l7-2 5 3-7 3z"/>
<path fill="#e92" d="M1113 707l7-3 5 4-7 3zm-7 2l7-2 5 4-7 2zm-7 3l7-3 5 4-6 2z"/>
<path fill="#d92" d="M1092 714l7-2 6 3-7 2z"/>
<path fill="#d82" d="M1086 716l6-2 6 3-7 2zm-7 1l7-1 5 3-7 1zm-7 2l7-2 5 3-7 1zm-7 1l7-1 5 2-7 0zm-7 0l7 0 5 1-6 0z"/>
<path fill="#c72" d="M1052 720l6 0 6 1-7 0zm-7 1l7-1 5 1-7 1z"/>
<path fill="#d72" d="M1038 722l7-1 5 1-7 1zm-7 1l7-1 5 1-7 1zm-7 1l7-1 5 1-6 2zm-7 2l7-2 6 2-7 1zm-6 2l6-2 6 1-7 2zm-7 2l7-2 5 1-7 3z"/>
<path fill="#d82" d="M997 733l7-3 5 2-7 3zm-7 3l7-3 5 2-7 3zm-7 3l7-3 5 2-6 3zm-6 4l6-4 6 2-7 4z"/>
<path fill="#e82" d="M970 746l7-3 5 2-7 4z"/>
<path fill="#d82" d="M963 749l7-3 5 3-7 3z"/>
<path fill="#c72" d="M1275 652l7 0 5-1-7 2zm-7 1l7-1 5 1-7 1zm-7 2l7-2 5 1-6 2zm-6 1l6-1 6 1-7 2z"/>
<path fill="#d72" d="M1248 659l7-3 5 2-7 3zm-7 2l7-2 5 2-7 3zm-7 3l7-3 5 3-7 3zm-7 3l7-3 5 3-6 3zm-7 3l7-3 6 3-7 2zm-6 2l6-2 6 2-7 3zm-7 3l7-3 5 3-7 3z"/>
<path fill="#d82" d="M1200 677l7-2 5 3-7 2zm-7 3l7-3 5 3-7 3zm-7 2l7-2 5 3-6 2zm-6 3l6-3 6 3-7 3zm-7 2l7-2 5 3-7 3z"/>
<path fill="#e82" d="M1166 690l7-3 5 4-7 2zm-7 3l7-3 5 3-7 4zm-7 3l7-3 5 4-6 3zm-7 3l7-3 6 4-7 3zm-6 3l6-3 6 4-7 3z"/>
<path fill="#e92" d="M1132 705l7-3 5 4-7 3zm-7 3l7-3 5 4-7 3zm-7 3l7-3 5 4-6 2zm-7 2l7-2 6 3-7 2zm-6 2l6-2 6 3-7 2z"/>
<path fill="#d92" d="M1098 717l7-2 5 3-7 2z"/>
<path fill="#d82" d="M1091 719l7-2 5 3-7 1zm-7 1l7-1 5 2-7 1zm-7 1l7-1 5 2-6 0zm-7 0l7 0 6 1-7 0z"/>
<path fill="#c72" d="M1064 721l6 0 6 1-7 0zm-7 0l7 0 5 1-7 0zm-7 1l7-1 5 1-7 1z"/>
<path fill="#d72" d="M1043 723l7-1 5 1-6 1zm-7 1l7-1 6 1-7 1zm-6 2l6-2 6 1-7 2zm-7 1l7-1 5 1-7 2zm-7 2l7-2 5 2-7 2zm-7 3l7-3 5 2-7 3z"/>
<path fill="#d82" d="M1002 735l7-3 5 2-6 3zm-7 3l7-3 6 2-7 3zm-6 3l6-3 6 2-7 4z"/>
<path fill="#e82" d="M982 745l7-4 5 3-7 4z"/>
<path fill="#d82" d="M975 749l7-4 5 3-7 3zm-7 3l7-3 5 2-6 3z"/>
<path fill="#c62" d="M1280 653l7-2 5 1-6 1z"/>
<path fill="#c72" d="M1273 654l7-1 6 0-7 2zm-6 2l6-2 6 1-7 2z"/>
<path fill="#d72" d="M1260 658l7-2 5 1-7 3zm-7 3l7-3 5 2-7 3zm-7 3l7-3 5 2-6 3zm-7 3l7-3 6 2-7 3zm-6 3l6-3 6 2-7 3zm-7 2l7-2 5 2-7 3zm-7 3l7-3 5 3-7 3z"/>
<path fill="#d82" d="M1212 678l7-3 5 3-7 3zm-7 2l7-2 5 3-6 2zm-7 3l7-3 6 3-7 3zm-6 2l6-2 6 3-7 2zm-7 3l7-3 5 3-7 3z"/>
<path fill="#e82" d="M1178 691l7-3 5 3-7 3zm-7 2l7-2 5 3-6 3zm-7 4l7-4 6 4-7 4zm-6 3l6-3 6 4-7 3z"/>
<path fill="#e92" d="M1151 703l7-3 5 4-7 3zm-7 3l7-3 5 4-7 3zm-7 3l7-3 5 4-7 3zm-7 3l7-3 5 4-6 2zm-6 2l6-2 6 3-7 3zm-7 2l7-2 5 4-7 1z"/>
<path fill="#d92" d="M1110 718l7-2 5 3-7 2zm-7 2l7-2 5 3-7 2z"/>
<path fill="#d82" d="M1096 721l7-1 5 3-6 0zm-7 1l7-1 6 2-7 1zm-6 0l6 0 6 2-7 0z"/>
<path fill="#c82" d="M1076 722l7 0 5 2-7 0z"/>
<path fill="#c72" d="M1069 722l7 0 5 2-7-1zm-7 0l7 0 5 1-7 0zm-7 1l7-1 5 1-6 1zm-6 1l6-1 6 1-7 1z"/>
<path fill="#d72" d="M1042 725l7-1 5 1-7 1zm-7 2l7-2 5 1-7 2zm-7 2l7-2 5 1-7 2zm-7 2l7-2 5 1-6 3zm-7 3l7-3 6 2-7 3z"/>
<path fill="#d82" d="M1008 737l6-3 6 2-7 3zm-7 3l7-3 5 2-7 4zm-7 4l7-4 5 3-7 3zm-7 4l7-4 5 2-7 4zm-7 3l7-3 5 2-6 3zm-6 3l6-3 6 2-7 3z"/>
<path fill="#c62" d="M1286 653l6-1 6 0-7 2z"/>
<path fill="#c72" d="M1279 655l7-2 5 1-7 3z"/>
<path fill="#d72" d="M1272 657l7-2 5 2-7 2zm-7 3l7-3 5 2-7 4zm-7 3l7-3 5 3-6 3zm-6 3l6-3 6 3-7 3zm-7 3l7-3 5 3-7 3zm-7 3l7-3 5 3-7 3zm-7 3l7-3 5 3-7 3z"/>
<path fill="#d82" d="M1224 678l7-3 5 3-6 3zm-7 3l7-3 6 3-7 3zm-6 2l6-2 6 3-7 2zm-7 3l7-3 5 3-7 3zm-7 2l7-2 5 3-7 3z"/>
<path fill="#e82" d="M1190 691l7-3 5 4-7 3zm-7 3l7-3 5 4-6 3zm-6 3l6-3 6 4-7 3zm-7 4l7-4 5 4-7 4z"/>
<path fill="#e92" d="M1163 704l7-3 5 4-7 3zm-7 3l7-3 5 4-7 3zm-7 3l7-3 5 4-6 3zm-7 3l7-3 6 4-7 3zm-6 2l6-2 6 4-7 2zm-7 3l7-3 5 4-7 2z"/>
<path fill="#d92" d="M1122 719l7-1 5 3-7 2zm-7 2l7-2 5 4-7 1z"/>
<path fill="#d82" d="M1108 723l7-2 5 3-6 1zm-6 0l6 0 6 2-7 0zm-7 1l7-1 5 2-7 0z"/>
<path fill="#c82" d="M1088 724l7 0 5 1-7 0z"/>
<path fill="#c72" d="M1081 724l7 0 5 1-7 0zm-7-1l7 1 5 1-6 0zm-7 0l7 0 6 2-7 0zm-6 1l6-1 6 2-7 0z"/>
<path fill="#d72" d="M1054 725l7-1 5 1-7 1zm-7 1l7-1 5 1-7 2zm-7 2l7-2 5 2-7 2zm-7 2l7-2 5 2-6 2zm-6 3l6-3 6 2-7 3z"/>
<path fill="#d82" d="M1020 736l7-3 5 2-7 3zm-7 3l7-3 5 2-7 3zm-7 4l7-4 5 2-7 4zm-7 3l7-3 5 2-6 4zm-7 4l7-4 6 3-7 3zm-6 3l6-3 6 2-7 4zm-7 3l7-3 5 3-7 3z"/>
<path fill="#c62" d="M1291 654l7-2 5 1-7 3z"/>
<path fill="#d72" d="M1284 657l7-3 5 2-7 3zm-7 2l7-2 5 2-6 3zm-7 4l7-4 6 3-7 3zm-6 3l6-3 6 2-7 4zm-7 3l7-3 5 3-7 3zm-7 3l7-3 5 3-7 3zm-7 3l7-3 5 3-7 3zm-7 3l7-3 5 3-6 3z"/>
<path fill="#d82" d="M1230 681l6-3 6 3-7 3zm-7 3l7-3 5 3-7 3zm-7 2l7-2 5 3-7 3zm-7 3l7-3 5 4-7 2z"/>
<path fill="#e82" d="M1202 692l7-3 5 3-6 3zm-7 3l7-3 6 3-7 3zm-6 3l6-3 6 3-7 4zm-7 3l7-3 5 4-7 3z"/>
<path fill="#e92" d="M1175 705l7-4 5 4-7 4zm-7 3l7-3 5 4-7 3zm-7 3l7-3 5 4-6 3zm-6 3l6-3 6 4-7 3zm-7 3l7-3 5 4-7 2zm-7 2l7-2 5 3-7 2z"/>
<path fill="#d92" d="M1134 721l7-2 5 3-7 2zm-7 2l7-2 5 3-6 1zm-7 1l7-1 6 2-7 1z"/>
<path fill="#d82" d="M1114 725l6-1 6 2-7 1zm-7 0l7 0 5 2-7 0z"/>
<path fill="#c82" d="M1100 725l7 0 5 2-7-1zm-7 0l7 0 5 1-7 0z"/>
<path fill="#c72" d="M1086 725l7 0 5 1-6 0zm-6 0l6 0 6 1-7 0zm-7 0l7 0 5 1-7 0zm-7 0l7 0 5 1-7 1z"/>
<path fill="#d72" d="M1059 726l7-1 5 2-7 1zm-7 2l7-2 5 2-6 2zm-7 2l7-2 6 2-7 2zm-6 2l6-2 6 2-7 2zm-7 3l7-3 5 2-7 3z"/>
<path fill="#d82" d="M1025 738l7-3 5 2-7 4zm-7 3l7-3 5 3-7 3zm-7 4l7-4 5 3-6 3zm-6 4l6-4 6 2-7 4zm-7 3l7-3 5 2-7 4zm-7 4l7-4 5 3-7 3zm-7 3l7-3 5 2-7 3z"/>
<path fill="#d72" d="M1296 656l7-3 5 2-7 3zm-7 3l7-3 5 2-6 4zm-6 3l6-3 6 3-7 3zm-7 3l7-3 5 3-7 3zm-7 4l7-4 5 3-7 4zm-7 3l7-3 5 3-7 3zm-7 3l7-3 5 3-6 3zm-7 3l7-3 6 3-7 3z"/>
<path fill="#d82" d="M1242 681l6-3 6 3-7 3zm-7 3l7-3 5 3-7 3zm-7 3l7-3 5 3-7 3zm-7 3l7-3 5 3-7 3z"/>
<path fill="#e82" d="M1214 692l7-2 5 3-6 3zm-6 3l6-3 6 4-7 3zm-7 3l7-3 5 4-7 3zm-7 4l7-4 5 4-7 4z"/>
<path fill="#e92" d="M1187 705l7-3 5 4-7 3zm-7 4l7-4 5 4-6 3zm-7 3l7-3 6 3-7 3zm-6 3l6-3 6 3-7 3zm-7 3l7-3 5 3-7 3zm-7 2l7-2 5 3-7 2z"/>
<path fill="#d92" d="M1146 722l7-2 5 3-6 2zm-7 2l7-2 6 3-7 2zm-6 1l6-1 6 3-7 1z"/>
<path fill="#d82" d="M1126 726l7-1 5 3-7 0zm-7 1l7-1 5 2-7 0zm-7 0l7 0 5 1-7 0z"/>
<path fill="#c82" d="M1105 726l7 1 5 1-6 0z"/>
<path fill="#c72" d="M1098 726l7 0 6 2-7 0zm-6 0l6 0 6 2-7-1zm-7 0l7 0 5 1-7 0zm-7 0l7 0 5 1-7 1zm-7 1l7-1 5 2-6 0z"/>
<path fill="#d72" d="M1064 728l7-1 6 1-7 2zm-6 2l6-2 6 2-7 2zm-7 2l7-2 5 2-7 2zm-7 2l7-2 5 2-7 3zm-7 3l7-3 5 3-7 3z"/>
<path fill="#d82" d="M1030 741l7-4 5 3-6 3zm-7 3l7-3 6 2-7 3zm-6 3l6-3 6 2-7 4zm-7 4l7-4 5 3-7 3zm-7 4l7-4 5 2-7 4zm-7 3l7-3 5 2-6 3zm-7 3l7-3 6 2-7 3z"/>
<path fill="#d72" d="M1301 658l7-3 6 2-7 4zm-6 4l6-4 6 3-7 3zm-7 3l7-3 5 2-7 4zm-7 3l7-3 5 3-7 3zm-7 4l7-4 5 3-6 4zm-7 3l7-3 6 3-7 3zm-6 3l6-3 6 3-7 3z"/>
<path fill="#d82" d="M1254 681l7-3 5 3-7 3zm-7 3l7-3 5 3-7 3zm-7 3l7-3 5 3-7 4z"/>
<path fill="#e82" d="M1233 690l7-3 5 4-6 3zm-7 3l7-3 6 4-7 3zm-6 3l6-3 6 4-7 3zm-7 3l7-3 5 4-7 3zm-7 3l7-3 5 4-7 3z"/>
<path fill="#e92" d="M1199 706l7-4 5 4-6 4zm-7 3l7-3 6 4-7 3zm-6 3l6-3 6 4-7 3zm-7 3l7-3 5 4-7 3zm-7 3l7-3 5 4-7 3zm-7 3l7-3 5 4-7 2zm-7 2l7-2 5 3-6 2z"/>
<path fill="#d92" d="M1152 725l6-2 6 3-7 2zm-7 2l7-2 5 3-7 1z"/>
<path fill="#d82" d="M1138 728l7-1 5 2-7 1zm-7 0l7 0 5 2-7 0zm-7 0l7 0 5 2-6 0zm-7 0l7 0 6 2-7 0z"/>
<path fill="#c82" d="M1111 728l6 0 6 2-7-1z"/>
<path fill="#c72" d="M1104 728l7 0 5 1-7 0zm-7-1l7 1 5 1-7 0zm-7 0l7 0 5 2-7 0zm-7 1l7-1 5 2-6 1z"/>
<path fill="#d72" d="M1077 728l6 0 6 2-7 0zm-7 2l7-2 5 2-7 2zm-7 2l7-2 5 2-7 2zm-7 2l7-2 5 2-7 3zm-7 3l7-3 5 3-6 2zm-7 3l7-3 6 2-7 3z"/>
<path fill="#d82" d="M1036 743l6-3 6 2-7 4zm-7 3l7-3 5 3-7 3zm-7 4l7-4 5 3-7 4zm-7 3l7-3 5 3-7 3zm-7 4l7-4 5 3-6 3zm-6 3l6-3 6 2-7 4zm-7 3l7-3 5 3-7 3z"/>
<path fill="#d72" d="M1307 661l7-4 5 4-7 3zm-7 3l7-3 5 3-7 4zm-7 4l7-4 5 4-7 3zm-7 3l7-3 5 3-6 4zm-6 4l6-4 6 4-7 3zm-7 3l7-3 5 3-7 4z"/>
<path fill="#d82" d="M1266 681l7-3 5 4-7 3z"/>
<path fill="#e82" d="M1259 684l7-3 5 4-7 3zm-7 3l7-3 5 4-6 3zm-7 4l7-4 6 4-7 3zm-6 3l6-3 6 3-7 3zm-7 3l7-3 5 3-7 3zm-7 3l7-3 5 3-7 3zm-7 3l7-3 5 3-7 4zm-7 3l7-3 5 4-6 3z"/>
<path fill="#e92" d="M1205 710l6-4 6 4-7 3zm-7 3l7-3 5 3-7 3zm-7 3l7-3 5 3-7 4zm-7 3l7-3 5 4-7 2zm-7 3l7-3 5 3-6 3zm-7 2l7-2 6 3-7 2z"/>
<path fill="#d92" d="M1164 726l6-2 6 3-7 2zm-7 2l7-2 5 3-7 2zm-7 1l7-1 5 3-7 0z"/>
<path fill="#d82" d="M1143 730l7-1 5 2-7 1zm-7 0l7 0 5 2-6 0zm-6 0l6 0 6 2-7 0zm-7 0l7 0 5 2-7-1z"/>
<path fill="#c72" d="M1116 729l7 1 5 1-7 0zm-7 0l7 0 5 2-7 0zm-7 0l7 0 5 2-6 0zm-7 0l7 0 6 2-7 0z"/>
<path fill="#d72" d="M1089 730l6-1 6 2-7 0zm-7 0l7 0 5 1-7 2zm-7 2l7-2 5 3-7 2zm-7 2l7-2 5 3-7 2zm-7 3l7-3 5 3-6 2zm-6 2l6-2 6 2-7 3z"/>
<path fill="#d82" d="M1048 742l7-3 5 3-7 3zm-7 4l7-4 5 3-7 4zm-7 3l7-3 5 3-7 3z"/>
<path fill="#e82" d="M1027 753l7-4 5 3-6 4zm-7 3l7-3 6 3-7 3zm-6 3l6-3 6 3-7 3z"/>
<path fill="#d82" d="M1007 763l7-4 5 3-7 3zm-7 3l7-3 5 2-7 3z"/>
<path fill="#d72" d="M1312 664l7-3 5 4-7 4zm-7 4l7-4 5 5-6 3z"/>
<path fill="#e72" d="M1298 671l7-3 6 4-7 4zm-6 4l6-4 6 5-7 3z"/>
<path fill="#e82" d="M1285 678l7-3 5 4-7 4zm-7 4l7-4 5 5-7 3zm-7 3l7-3 5 4-7 3zm-7 3l7-3 5 4-6 3zm-6 3l6-3 6 4-7 3zm-7 3l7-3 5 4-7 3zm-7 3l7-3 5 4-7 3zm-7 3l7-3 5 4-7 3zm-7 3l7-3 5 4-6 3zm-7 4l7-4 6 4-7 3z"/>
<path fill="#e92" d="M1217 710l6-3 6 3-7 4zm-7 3l7-3 5 4-7 3zm-7 3l7-3 5 4-7 3zm-7 4l7-4 5 4-7 3zm-7 2l7-2 5 3-6 3zm-6 3l6-3 6 4-7 2z"/>
<path fill="#d92" d="M1176 727l7-2 5 3-7 2zm-7 2l7-2 5 3-7 2zm-7 2l7-2 5 3-7 1zm-7 0l7 0 5 2-6 1z"/>
<path fill="#d82" d="M1148 732l7-1 6 3-7 0zm-6 0l6 0 6 2-7 0zm-7 0l7 0 5 2-7-1z"/>
<path fill="#c82" d="M1128 731l7 1 5 1-7 0z"/>
<path fill="#c72" d="M1121 731l7 0 5 2-7-1zm-7 0l7 0 5 1-6 0zm-6 0l6 0 6 1-7 0zm-7 0l7 0 5 1-7 1z"/>
<path fill="#d72" d="M1094 731l7 0 5 2-7 1zm-7 2l7-2 5 3-7 1zm-7 2l7-2 5 2-6 2zm-7 2l7-2 6 2-7 3zm-6 2l6-2 6 3-7 3z"/>
<path fill="#d82" d="M1060 742l7-3 5 4-7 3zm-7 3l7-3 5 4-7 3z"/>
<path fill="#e82" d="M1046 749l7-4 5 4-7 3zm-7 3l7-3 5 3-6 3zm-6 4l6-4 6 3-7 4zm-7 3l7-3 5 3-7 3zm-7 3l7-3 5 3-7 3z"/>
<path fill="#d82" d="M1012 765l7-3 5 3-7 3zm-7 3l7-3 5 3-6 2z"/>
<path fill="#e72" d="M1317 669l7-4 5 5-6 4zm-6 3l6-3 6 5-7 3z"/>
<path fill="#e82" d="M1304 676l7-4 5 5-7 4zm-7 3l7-3 5 5-7 3zm-7 4l7-4 5 5-7 4zm-7 3l7-3 5 5-6 3zm-7 3l7-3 6 5-7 3zm-6 3l6-3 6 5-7 3zm-7 3l7-3 5 5-7 2zm-7 3l7-3 5 4-7 3zm-7 3l7-3 5 4-7 3zm-7 3l7-3 5 4-6 2zm-6 3l6-3 6 3-7 4z"/>
<path fill="#e92" d="M1229 710l7-3 5 4-7 3zm-7 4l7-4 5 4-7 3zm-7 3l7-3 5 3-7 3zm-7 3l7-3 5 3-6 3zm-7 3l7-3 6 3-7 3zm-6 3l6-3 6 3-7 3zm-7 2l7-2 5 3-7 2z"/>
<path fill="#d92" d="M1181 730l7-2 5 3-7 1zm-7 2l7-2 5 2-6 2zm-7 1l7-1 6 2-7 1z"/>
<path fill="#d82" d="M1161 734l6-1 6 2-7 0zm-7 0l7 0 5 1-7 0zm-7 0l7 0 5 1-7 0z"/>
<path fill="#c82" d="M1140 733l7 1 5 1-7 0z"/>
<path fill="#c72" d="M1133 733l7 0 5 2-6-1zm-7-1l7 1 6 1-7 0zm-6 0l6 0 6 2-7 0zm-7 0l7 0 5 2-7 0z"/>
<path fill="#d72" d="M1106 733l7-1 5 2-7 1zm-7 1l7-1 5 2-6 2zm-7 1l7-1 6 3-7 1zm-6 2l6-2 6 3-7 3zm-7 3l7-3 5 4-7 2z"/>
<path fill="#d82" d="M1072 743l7-3 5 3-7 3zm-7 3l7-3 5 3-7 3z"/>
<path fill="#e82" d="M1058 749l7-3 5 3-6 3zm-7 3l7-3 6 3-7 4zm-6 3l6-3 6 4-7 3zm-7 4l7-4 5 4-7 3zm-7 3l7-3 5 3-7 3z"/>
<path fill="#d82" d="M1024 765l7-3 5 3-6 3zm-7 3l7-3 6 3-7 2zm-6 2l6-2 6 2-7 2z"/>
<path fill="#e82" d="M1323 674l6-4 6 5-7 4zm-7 3l7-3 5 5-7 3zm-7 4l7-4 5 5-7 4zm-7 3l7-3 5 5-6 3zm-7 4l7-4 6 5-7 4zm-6 3l6-3 6 5-7 3zm-7 3l7-3 5 5-7 2zm-7 3l7-3 5 4-7 3zm-7 2l7-2 5 4-7 2zm-7 3l7-3 5 4-6 3zm-7 3l7-3 6 4-7 2zm-6 2l6-2 6 3-7 3z"/>
<path fill="#e92" d="M1241 711l7-4 5 4-7 3zm-7 3l7-3 5 3-7 3zm-7 3l7-3 5 3-6 4zm-7 3l7-3 6 4-7 3zm-6 3l6-3 6 4-7 3zm-7 3l7-3 5 4-7 2zm-7 3l7-3 5 3-7 3z"/>
<path fill="#d92" d="M1193 731l7-2 5 3-7 1zm-7 1l7-1 5 2-6 2zm-6 2l6-2 6 3-7 1zm-7 1l7-1 5 2-7 1z"/>
<path fill="#d82" d="M1166 735l7 0 5 2-7 0zm-7 0l7 0 5 2-7 0zm-7 0l7 0 5 2-6 0z"/>
<path fill="#c82" d="M1145 735l7 0 6 2-7-1z"/>
<path fill="#c72" d="M1139 734l6 1 6 1-7 0zm-7 0l7 0 5 2-7 0zm-7 0l7 0 5 2-7 0z"/>
<path fill="#d72" d="M1118 734l7 0 5 2-7 1zm-7 1l7-1 5 3-6 1zm-6 2l6-2 6 3-7 2zm-7 1l7-1 5 3-7 2zm-7 3l7-3 5 4-7 2z"/>
<path fill="#d82" d="M1084 743l7-2 5 3-7 3zm-7 3l7-3 5 4-6 3z"/>
<path fill="#e82" d="M1070 749l7-3 6 4-7 3zm-6 3l6-3 6 4-7 3zm-7 4l7-4 5 4-7 3zm-7 3l7-3 5 3-7 3zm-7 3l7-3 5 3-7 3z"/>
<path fill="#d82" d="M1036 765l7-3 5 3-6 3zm-6 3l6-3 6 3-7 2zm-7 2l7-2 5 2-7 2zm-7 2l7-2 5 2-7 2z"/>
<path fill="#e82" d="M1328 679l7-4 5 6-7 3zm-7 3l7-3 5 5-7 4zm-7 4l7-4 5 6-6 3zm-6 3l6-3 6 5-7 4zm-7 4l7-4 5 6-7 3zm-7 3l7-3 5 5-7 2zm-7 2l7-2 5 4-7 3zm-7 3l7-3 5 5-6 2zm-7 2l7-2 6 4-7 2zm-6 3l6-3 6 4-7 3zm-7 2l7-2 5 4-7 2z"/>
<path fill="#e92" d="M1253 711l7-3 5 4-7 3zm-7 3l7-3 5 4-7 3zm-7 3l7-3 5 4-6 3zm-6 4l6-4 6 4-7 3zm-7 3l7-3 5 3-7 3zm-7 3l7-3 5 3-7 3zm-7 2l7-2 5 3-7 2z"/>
<path fill="#d92" d="M1205 732l7-3 5 3-6 2zm-7 1l7-1 6 2-7 1zm-6 2l6-2 6 2-7 2zm-7 1l7-1 5 2-7 1z"/>
<path fill="#d82" d="M1178 737l7-1 5 2-7 0zm-7 0l7 0 5 1-7 1zm-7 0l7 0 5 2-6 0z"/>
<path fill="#c82" d="M1158 737l6 0 6 2-7-1zm-7-1l7 1 5 1-7 0z"/>
<path fill="#c72" d="M1144 736l7 0 5 2-7-1zm-7 0l7 0 5 1-7 0z"/>
<path fill="#d72" d="M1130 736l7 0 5 1-6 1zm-7 1l7-1 6 2-7 1zm-6 1l6-1 6 2-7 2zm-7 2l7-2 5 3-7 2zm-7 2l7-2 5 3-7 2z"/>
<path fill="#d82" d="M1096 744l7-2 5 3-7 3zm-7 3l7-3 5 4-6 2z"/>
<path fill="#e82" d="M1083 750l6-3 6 3-7 3zm-7 3l7-3 5 3-7 4zm-7 3l7-3 5 4-7 3zm-7 3l7-3 5 4-7 3zm-7 3l7-3 5 4-6 3zm-7 3l7-3 6 4-7 2z"/>
<path fill="#d82" d="M1042 768l6-3 6 3-7 3zm-7 2l7-2 5 3-7 2zm-7 2l7-2 5 3-7 2zm-7 2l7-2 5 3-7 1z"/>
<path fill="#e82" d="M1333 684l7-3 5 5-6 4zm-7 4l7-4 6 6-7 3zm-6 3l6-3 6 5-7 4zm-7 4l7-4 5 6-7 3zm-7 3l7-3 5 5-7 2zm-7 2l7-2 5 4-7 2zm-7 3l7-3 5 4-6 3zm-6 2l6-2 6 4-7 2zm-7 2l7-2 5 4-7 2z"/>
<path fill="#e92" d="M1272 710l7-3 5 4-7 3zm-7 2l7-2 5 4-7 2zm-7 3l7-3 5 4-6 3zm-7 3l7-3 6 4-7 3zm-6 3l6-3 6 4-7 3zm-7 3l7-3 5 4-7 3zm-7 3l7-3 5 4-7 2zm-7 3l7-3 5 3-7 3z"/>
<path fill="#d92" d="M1217 732l7-2 5 3-6 2zm-6 2l6-2 6 3-7 1zm-7 1l7-1 5 2-7 1zm-7 2l7-2 5 2-7 1z"/>
<path fill="#d82" d="M1190 738l7-1 5 1-7 1zm-7 0l7 0 5 1-6 1zm-7 1l7-1 6 2-7 0zm-6 0l6 0 6 1-7 0z"/>
<path fill="#c82" d="M1163 738l7 1 5 1-7 0z"/>
<path fill="#c72" d="M1156 738l7 0 5 2-7-1zm-7-1l7 1 5 1-7 0z"/>
<path fill="#d72" d="M1142 737l7 0 5 2-6 1zm-6 1l6-1 6 3-7 1zm-7 1l7-1 5 3-7 1zm-7 2l7-2 5 3-7 2z"/>
<path fill="#d82" d="M1115 743l7-2 5 3-7 2zm-7 2l7-2 5 3-6 3zm-7 3l7-3 6 4-7 2z"/>
<path fill="#e82" d="M1095 750l6-2 6 3-7 3zm-7 3l7-3 5 4-7 3zm-7 4l7-4 5 4-7 4zm-7 3l7-3 5 4-7 3zm-7 3l7-3 5 4-6 2zm-6 3l6-3 6 3-7 3z"/>
<path fill="#d82" d="M1054 768l7-2 5 3-7 2zm-7 3l7-3 5 3-7 2zm-7 2l7-2 5 2-7 2zm-7 2l7-2 5 2-6 2zm-7 1l7-1 6 2-7 1z"/>
<path fill="#e82" d="M1339 690l6-4 6 6-7 4zm-7 3l7-3 5 6-7 3z"/>
<path fill="#e92" d="M1325 697l7-4 5 6-7 3zm-7 3l7-3 5 5-7 2zm-7 2l7-2 5 4-6 2zm-7 2l7-2 6 4-7 3zm-6 3l6-3 6 5-7 2zm-7 2l7-2 5 4-7 2zm-7 2l7-2 5 4-7 2zm-7 3l7-3 5 4-7 3zm-7 2l7-2 5 4-6 2zm-6 3l6-3 6 4-7 3zm-7 3l7-3 5 4-7 2zm-7 3l7-3 5 3-7 3zm-7 3l7-3 5 3-7 3zm-7 2l7-2 5 3-6 2z"/>
<path fill="#d92" d="M1229 733l7-3 6 3-7 2zm-6 2l6-2 6 2-7 2zm-7 1l7-1 5 2-7 1zm-7 1l7-1 5 2-7 1zm-7 1l7-1 5 2-6 1z"/>
<path fill="#d82" d="M1195 739l7-1 6 2-7 1zm-6 1l6-1 6 2-7 0zm-7 0l7 0 5 1-7 1z"/>
<path fill="#c82" d="M1175 740l7 0 5 2-7-1zm-7 0l7 0 5 1-7 0z"/>
<path fill="#c72" d="M1161 739l7 1 5 1-6 0z"/>
<path fill="#d72" d="M1154 739l7 0 6 2-7 0zm-6 1l6-1 6 2-7 1zm-7 1l7-1 5 2-7 2z"/>
<path fill="#d82" d="M1134 742l7-1 5 3-7 2zm-7 2l7-2 5 4-6 2zm-7 2l7-2 6 4-7 2zm-6 3l6-3 6 4-7 3z"/>
<path fill="#e82" d="M1107 751l7-2 5 4-7 2zm-7 3l7-3 5 4-7 3zm-7 3l7-3 5 4-7 3zm-7 4l7-4 5 4-6 3zm-7 3l7-3 6 3-7 3zm-6 2l6-2 6 3-7 3z"/>
<path fill="#d82" d="M1066 769l7-3 5 4-7 2zm-7 2l7-2 5 3-7 2zm-7 2l7-2 5 3-6 2zm-7 2l7-2 6 3-7 2zm-6 2l6-2 6 3-7 1zm-7 1l7-1 5 2-7 1z"/>
<path fill="#e92" d="M1344 696l7-4 5 6-7 3zm-7 3l7-3 5 5-7 3zm-7 3l7-3 5 5-6 3zm-7 2l7-2 6 5-7 2zm-6 2l6-2 6 5-7 2zm-7 3l7-3 5 5-7 2zm-7 2l7-2 5 4-7 2zm-7 2l7-2 5 4-7 2zm-7 2l7-2 5 4-6 2zm-7 3l7-3 6 4-7 2zm-6 2l6-2 6 3-7 3zm-7 3l7-3 5 4-7 2zm-7 2l7-2 5 3-7 3zm-7 3l7-3 5 4-6 3zm-7 3l7-3 6 4-7 2z"/>
<path fill="#d92" d="M1242 733l6-2 6 3-7 2zm-7 2l7-2 5 3-7 1zm-7 2l7-2 5 2-7 2zm-7 1l7-1 5 2-7 1zm-7 1l7-1 5 2-6 1z"/>
<path fill="#d82" d="M1208 740l6-1 6 2-7 1zm-7 1l7-1 5 2-7 0zm-7 0l7 0 5 1-7 1zm-7 1l7-1 5 2-7 0z"/>
<path fill="#c82" d="M1180 741l7 1 5 1-6 0z"/>
<path fill="#c72" d="M1173 741l7 0 6 2-7 0z"/>
<path fill="#d72" d="M1167 741l6 0 6 2-7 0zm-7 0l7 0 5 2-7 1z"/>
<path fill="#d82" d="M1153 742l7-1 5 3-7 2zm-7 2l7-2 5 4-7 1zm-7 2l7-2 5 3-6 2zm-6 2l6-2 6 3-7 2zm-7 2l7-2 5 3-7 3z"/>
<path fill="#e82" d="M1119 753l7-3 5 4-7 2zm-7 2l7-2 5 3-7 3zm-7 3l7-3 5 4-6 3zm-7 3l7-3 6 4-7 3zm-6 3l6-3 6 4-7 3zm-7 3l7-3 5 4-7 3zm-7 3l7-3 5 4-7 2z"/>
<path fill="#d82" d="M1071 772l7-2 5 3-7 2zm-7 2l7-2 5 3-6 2zm-6 2l6-2 6 3-7 2zm-7 2l7-2 5 3-7 1zm-7 1l7-1 5 2-7 1zm-7 1l7-1 5 2-7 1z"/>
<path fill="#e92" d="M1349 701l7-3 5 6-7 3zm-7 3l7-3 5 6-6 2zm-6 3l6-3 6 5-7 2zm-7 2l7-2 5 4-7 2zm-7 2l7-2 5 4-7 2zm-7 2l7-2 5 4-7 2zm-7 2l7-2 5 4-6 2zm-7 2l7-2 6 4-7 2zm-6 2l6-2 6 4-7 2zm-7 2l7-2 5 4-7 2zm-7 3l7-3 5 4-7 2zm-7 2l7-2 5 3-7 3zm-7 3l7-3 5 4-6 2zm-6 3l6-3 6 3-7 3z"/>
<path fill="#d92" d="M1254 734l7-2 5 3-7 2zm-7 2l7-2 5 3-7 1zm-7 1l7-1 5 2-7 1zm-7 2l7-2 5 2-6 2zm-7 1l7-1 6 2-7 1z"/>
<path fill="#d82" d="M1220 741l6-1 6 2-7 0zm-7 1l7-1 5 1-7 1zm-7 0l7 0 5 1-7 1zm-7 1l7-1 5 2-7 0zm-7 0l7 0 5 1-6 0z"/>
<path fill="#c82" d="M1186 743l6 0 6 1-7 0z"/>
<path fill="#d82" d="M1179 743l7 0 5 1-7 1zm-7 0l7 0 5 2-7 1zm-7 1l7-1 5 3-7 1zm-7 2l7-2 5 3-6 2zm-7 1l7-1 6 3-7 2zm-6 2l6-2 6 4-7 2zm-7 2l7-2 5 4-7 2z"/>
<path fill="#e82" d="M1131 754l7-3 5 4-7 3zm-7 2l7-2 5 4-7 2zm-7 3l7-3 5 4-6 3zm-6 3l6-3 6 4-7 3zm-7 3l7-3 5 4-7 3zm-7 3l7-3 5 4-7 3zm-7 3l7-3 5 4-7 2z"/>
<path fill="#d82" d="M1083 773l7-2 5 3-6 2zm-7 2l7-2 6 3-7 2zm-6 2l6-2 6 3-7 2zm-7 2l7-2 5 3-7 1zm-7 1l7-1 5 2-7 1zm-7 1l7-1 5 2-7 1zm-7 1l7-1 5 2-6 1z"/>
<path fill="#e92" d="M1354 707l7-3 6 5-7 2zm-6 2l6-2 6 4-7 2zm-7 2l7-2 5 4-7 2zm-7 2l7-2 5 4-7 2zm-7 2l7-2 5 4-7 2zm-7 2l7-2 5 4-6 2zm-6 2l6-2 6 4-7 2zm-7 2l7-2 5 4-7 2zm-7 2l7-2 5 4-7 2zm-7 2l7-2 5 4-7 2zm-7 2l7-2 5 4-6 2zm-7 3l7-3 6 4-7 2zm-6 2l6-2 6 3-7 2z"/>
<path fill="#d92" d="M1266 735l7-3 5 3-7 2zm-7 2l7-2 5 2-7 2zm-7 1l7-1 5 2-7 1zm-7 1l7-1 5 2-6 1zm-6 2l6-2 6 2-7 1z"/>
<path fill="#d82" d="M1232 742l7-1 5 1-7 1zm-7 0l7 0 5 1-7 1zm-7 1l7-1 5 2-7 1zm-7 1l7-1 5 2-6 0zm-7 0l7 0 6 1-7 1zm-6 0l6 0 6 2-7 0zm-7 0l7 0 5 2-7 0zm-7 1l7-1 5 2-7 1zm-7 1l7-1 5 2-7 2zm-7 1l7-1 5 3-6 1zm-6 2l6-2 6 3-7 2zm-7 2l7-2 5 3-7 2zm-7 2l7-2 5 3-7 2z"/>
<path fill="#e82" d="M1143 755l7-2 5 3-7 3zm-7 3l7-3 5 4-6 3zm-7 2l7-2 6 4-7 2zm-6 3l6-3 6 4-7 3zm-7 3l7-3 5 4-7 3zm-7 3l7-3 5 4-7 3zm-7 3l7-3 5 4-7 2zm-7 2l7-2 5 3-6 2z"/>
<path fill="#d82" d="M1089 776l6-2 6 3-7 2zm-7 2l7-2 5 3-7 2zm-7 2l7-2 5 3-7 1zm-7 1l7-1 5 2-7 2zm-7 1l7-1 5 3-6 1zm-7 1l7-1 6 3-7 1zm-6 1l6-1 6 3-7 0z"/>
<path fill="#e92" d="M1360 711l7-2 5 5-7 2zm-7 2l7-2 5 5-7 2zm-7 2l7-2 5 5-7 1zm-7 2l7-2 5 4-6 2zm-7 2l7-2 6 4-7 2zm-6 2l6-2 6 4-7 2zm-7 2l7-2 5 4-7 2zm-7 2l7-2 5 4-7 2zm-7 2l7-2 5 4-7 1zm-7 2l7-2 5 3-6 2zm-6 2l6-2 6 3-7 2zm-7 2l7-2 5 3-7 2zm-7 2l7-2 5 3-7 2z"/>
<path fill="#d92" d="M1271 737l7-2 5 3-7 2zm-7 2l7-2 5 3-6 1zm-7 1l7-1 6 2-7 1zm-6 1l6-1 6 2-7 1zm-7 1l7-1 5 2-7 1z"/>
<path fill="#d82" d="M1237 743l7-1 5 2-7 1zm-7 1l7-1 5 2-6 1zm-7 1l7-1 6 2-7 0zm-6 0l6 0 6 1-7 1zm-7 1l7-1 5 2-7 0zm-7 0l7 0 5 1-7 1zm-7 0l7 0 5 2-7 1zm-7 1l7-1 5 3-6 1zm-7 2l7-2 6 3-7 1zm-6 1l6-1 6 2-7 2zm-7 2l7-2 5 3-7 2zm-7 2l7-2 5 3-7 3z"/>
<path fill="#e82" d="M1155 756l7-2 5 4-6 2zm-7 3l7-3 6 4-7 3zm-6 3l6-3 6 4-7 2zm-7 2l7-2 5 3-7 3zm-7 3l7-3 5 4-7 3zm-7 3l7-3 5 4-7 3z"/>
<path fill="#e92" d="M1114 773l7-3 5 4-6 2zm-7 2l7-2 6 3-7 3z"/>
<path fill="#d82" d="M1101 777l6-2 6 4-7 2zm-7 2l7-2 5 4-7 1zm-7 2l7-2 5 3-7 2zm-7 1l7-1 5 3-6 1zm-7 2l7-2 6 3-7 1zm-6 1l6-1 6 2-7 1zm-7 1l7-1 5 2-7 1zm-7 0l7 0 5 2-7 0z"/>
<path fill="#e92" d="M1365 716l7-2 5 4-7 2zm-7 2l7-2 5 4-6 2zm-7 1l7-1 6 4-7 1zm-6 2l6-2 6 4-7 2zm-7 2l7-2 5 4-7 2zm-7 2l7-2 5 4-7 1zm-7 2l7-2 5 3-7 2zm-7 2l7-2 5 3-6 2zm-7 1l7-1 6 3-7 2zm-6 2l6-2 6 4-7 2zm-7 2l7-2 5 4-7 2zm-7 2l7-2 5 4-7 2z"/>
<path fill="#d92" d="M1283 738l7-2 5 4-6 1zm-7 2l7-2 6 3-7 2zm-6 1l6-1 6 3-7 1zm-7 1l7-1 5 3-7 1zm-7 1l7-1 5 3-7 1zm-7 1l7-1 5 3-7 0z"/>
<path fill="#d82" d="M1242 745l7-1 5 2-6 1zm-6 1l6-1 6 2-7 1zm-7 0l7 0 5 2-7 0zm-7 1l7-1 5 2-7 0zm-7 0l7 0 5 1-7 1zm-7 1l7-1 5 2-6 1zm-7 1l7-1 6 2-7 1zm-6 1l6-1 6 2-7 1zm-7 1l7-1 5 2-7 2zm-7 2l7-2 5 3-7 2zm-7 2l7-2 5 3-7 2zm-7 3l7-3 5 3-6 3z"/>
<path fill="#e82" d="M1161 760l6-2 6 3-7 2zm-7 3l7-3 5 3-7 3zm-7 2l7-2 5 3-7 3zm-7 3l7-3 5 4-7 3z"/>
<path fill="#e92" d="M1133 771l7-3 5 4-6 3zm-7 3l7-3 6 4-7 2zm-6 2l6-2 6 3-7 3zm-7 3l7-3 5 4-7 2z"/>
<path fill="#d92" d="M1106 781l7-2 5 3-7 2z"/>
<path fill="#d82" d="M1099 782l7-1 5 3-7 1zm-7 2l7-2 5 3-6 2zm-6 1l6-1 6 3-7 1zm-7 1l7-1 5 3-7 0zm-7 1l7-1 5 2-7 1zm-7 1l7-1 5 2-7 1zm-7 0l7 0 5 2-6 0z"/>
<path fill="#e92" d="M1370 720l7-2 5 4-6 1zm-6 2l6-2 6 3-7 2zm-7 1l7-1 5 3-7 2zm-7 2l7-2 5 4-7 1zm-7 2l7-2 5 3-7 2z"/>
<path fill="#d92" d="M1336 728l7-1 5 3-6 2zm-7 2l7-2 6 4-7 1zm-6 2l6-2 6 3-7 2zm-7 2l7-2 5 3-7 2zm-7 2l7-2 5 3-7 2z"/>
<path fill="#e92" d="M1302 738l7-2 5 3-7 2z"/>
<path fill="#d92" d="M1295 740l7-2 5 3-6 2zm-6 1l6-1 6 3-7 1zm-7 2l7-2 5 3-7 1zm-7 1l7-1 5 2-7 1zm-7 1l7-1 5 2-7 1zm-7 1l7-1 5 2-6 1z"/>
<path fill="#d82" d="M1254 746l7 0 6 2-7 0zm-6 1l6-1 6 2-7 1zm-7 1l7-1 5 2-7 0zm-7 0l7 0 5 1-7 1zm-7 0l7 0 5 2-7 0zm-7 1l7-1 5 2-6 0zm-6 1l6-1 6 1-7 1zm-7 1l7-1 5 1-7 2zm-7 1l7-1 5 2-7 2zm-7 2l7-2 5 3-7 2zm-7 2l7-2 5 3-6 2zm-7 2l7-2 6 3-7 2zm-6 3l6-3 6 3-7 3z"/>
<path fill="#e82" d="M1166 763l7-2 5 3-7 3zm-7 3l7-3 5 4-7 3zm-7 3l7-3 5 4-7 3z"/>
<path fill="#e92" d="M1145 772l7-3 5 4-6 3zm-6 3l6-3 6 4-7 3zm-7 2l7-2 5 4-7 2zm-7 3l7-3 5 4-7 2z"/>
<path fill="#d92" d="M1118 782l7-2 5 3-7 2zm-7 2l7-2 5 3-6 2z"/>
<path fill="#d82" d="M1104 785l7-1 6 3-7 1zm-6 2l6-2 6 3-7 1zm-7 1l7-1 5 2-7 1zm-7 0l7 0 5 2-7 1zm-7 1l7-1 5 3-7 0zm-7 1l7-1 5 2-6 0z"/>
<path fill="#d72" d="M1064 790l6 0 6 1-7 0z"/>
<path fill="#d91" d="M1376 723l6-1 6 3-7 1zm-7 2l7-2 5 3-7 2zm-7 2l7-2 5 3-7 2zm-7 1l7-1 5 3-7 1zm-7 2l7-2 5 3-6 2zm-6 2l6-2 6 3-7 1z"/>
<path fill="#d92" d="M1335 733l7-1 5 2-7 2zm-7 2l7-2 5 3-7 2zm-7 2l7-2 5 3-7 2zm-7 2l7-2 5 3-6 2z"/>
<path fill="#e92" d="M1307 741l7-2 6 3-7 2z"/>
<path fill="#d92" d="M1301 743l6-2 6 3-7 1zm-7 1l7-1 5 2-7 2zm-7 1l7-1 5 3-7 1zm-7 1l7-1 5 3-7 1zm-7 1l7-1 5 3-6 0zm-6 1l6-1 6 2-7 1z"/>
<path fill="#d82" d="M1260 748l7 0 5 2-7 0zm-7 1l7-1 5 2-7 1zm-7 0l7 0 5 2-7 0zm-7 1l7-1 5 2-6 1zm-7 0l7 0 6 2-7 0zm-6 0l6 0 6 2-7 0zm-7 1l7-1 5 2-7 1zm-7 2l7-2 5 2-7 2zm-7 2l7-2 5 2-7 2zm-7 2l7-2 5 2-6 2zm-6 2l6-2 6 2-7 3zm-7 2l7-2 5 3-7 2zm-7 3l7-3 5 3-7 3z"/>
<path fill="#e82" d="M1171 767l7-3 5 3-7 3zm-7 3l7-3 5 3-6 3z"/>
<path fill="#e92" d="M1157 773l7-3 6 3-7 3zm-6 3l6-3 6 3-7 4zm-7 3l7-3 5 4-7 2zm-7 2l7-2 5 3-7 3zm-7 2l7-2 5 4-7 2z"/>
<path fill="#d92" d="M1123 785l7-2 5 4-6 1zm-6 2l6-2 6 3-7 2zm-7 1l7-1 5 3-7 1z"/>
<path fill="#d82" d="M1103 789l7-1 5 3-7 1zm-7 1l7-1 5 3-7 1zm-7 1l7-1 5 3-6 0zm-7 0l7 0 6 2-7 1zm-6 0l6 0 6 3-7-1z"/>
<path fill="#d72" d="M1069 791l7 0 5 2-7 0z"/>
<path fill="#d91" d="M1381 726l7-1 5 2-7 2zm-7 2l7-2 5 3-7 1zm-7 2l7-2 5 2-6 2zm-7 1l7-1 6 2-7 1zm-6 2l6-2 6 2-7 2zm-7 1l7-1 5 2-7 2zm-7 2l7-2 5 3-7 1zm-7 2l7-2 5 2-7 2z"/>
<path fill="#d92" d="M1326 740l7-2 5 2-6 2z"/>
<path fill="#e92" d="M1320 742l6-2 6 2-7 3z"/>
<path fill="#d92" d="M1313 744l7-2 5 3-7 2z"/>
<path fill="#d91" d="M1306 745l7-1 5 3-7 1zm-7 2l7-2 5 3-7 1zm-7 1l7-1 5 2-6 1zm-7 1l7-1 6 2-7 1z"/>
<path fill="#d92" d="M1279 749l6 0 6 2-7 1zm-7 1l7-1 5 3-7 0z"/>
<path fill="#d82" d="M1265 750l7 0 5 2-7 0zm-7 1l7-1 5 2-6 1zm-7 0l7 0 6 2-7 0zm-6 1l6-1 6 2-7 0zm-7 0l7 0 5 1-7 0zm-7 0l7 0 5 1-7 1zm-7 1l7-1 5 2-7 1zm-7 2l7-2 5 2-6 2zm-7 2l7-2 6 2-7 2zm-6 2l6-2 6 2-7 3zm-7 3l7-3 5 3-7 2zm-7 2l7-2 5 2-7 3z"/>
<path fill="#e82" d="M1183 767l7-3 5 3-6 3zm-7 3l7-3 6 3-7 3zm-6 3l6-3 6 3-7 3z"/>
<path fill="#e92" d="M1163 776l7-3 5 3-7 4zm-7 4l7-4 5 4-7 3zm-7 2l7-2 5 3-7 3zm-7 3l7-3 5 4-6 2zm-7 2l7-2 6 3-7 2z"/>
<path fill="#d92" d="M1129 788l6-1 6 3-7 1zm-7 2l7-2 5 3-7 2zm-7 1l7-1 5 3-7 1z"/>
<path fill="#d82" d="M1108 792l7-1 5 3-6 1zm-7 1l7-1 6 3-7 0zm-6 0l6 0 6 2-7 1zm-7 1l7-1 5 3-7 0zm-7-1l7 1 5 2-7-1z"/>
<path fill="#c72" d="M1074 793l7 0 5 2-7 0z"/>
<path fill="#d91" d="M1386 729l7-2 5 2-6 2zm-7 1l7-1 6 2-7 1zm-6 2l6-2 6 2-7 2zm-7 1l7-1 5 2-7 2zm-7 2l7-2 5 3-7 1zm-7 2l7-2 5 2-7 2zm-7 1l7-1 5 2-6 2z"/>
<path fill="#d92" d="M1338 740l7-2 6 3-7 2zm-6 2l6-2 6 3-7 2z"/>
<path fill="#e92" d="M1325 745l7-3 5 3-7 2z"/>
<path fill="#d92" d="M1318 747l7-2 5 2-7 2z"/>
<path fill="#d91" d="M1311 748l7-1 5 2-6 2zm-7 1l7-1 6 3-7 1zm-6 1l6-1 6 3-7 1zm-7 1l7-1 5 3-7 0z"/>
<path fill="#d92" d="M1284 752l7-1 5 2-7 1z"/>
<path fill="#d82" d="M1277 752l7 0 5 2-7 0zm-7 0l7 0 5 2-6 0zm-6 1l6-1 6 2-7 1zm-7 0l7 0 5 2-7 0zm-7 0l7 0 5 2-7 0zm-7 0l7 0 5 2-7 0zm-7 1l7-1 5 2-6 1zm-7 1l7-1 6 2-7 1zm-6 2l6-2 6 2-7 2zm-7 2l7-2 5 2-7 3zm-7 3l7-3 5 3-7 2zm-7 2l7-2 5 2-7 3zm-7 3l7-3 5 3-6 3z"/>
<path fill="#e82" d="M1189 770l6-3 6 3-7 3zm-7 3l7-3 5 3-7 3z"/>
<path fill="#e92" d="M1175 776l7-3 5 3-7 4zm-7 4l7-4 5 4-7 4zm-7 3l7-3 5 4-6 3zm-7 3l7-3 6 4-7 2zm-6 2l6-2 6 3-7 2zm-7 2l7-2 5 3-7 2z"/>
<path fill="#d92" d="M1134 791l7-1 5 3-7 2zm-7 2l7-2 5 4-7 1zm-7 1l7-1 5 3-6 1z"/>
<path fill="#d82" d="M1114 795l6-1 6 3-7 1zm-7 0l7 0 5 3-7 0zm-7 1l7-1 5 3-7 0zm-7 0l7 0 5 2-7 0z"/>
<path fill="#c72" d="M1086 795l7 1 5 2-6-1zm-7 0l7 0 6 2-7-1z"/>
<path fill="#d91" d="M1392 731l6-2 6 2-7 2zm-7 1l7-1 5 2-7 1zm-7 2l7-2 5 2-7 2zm-7 2l7-2 5 2-7 1zm-7 1l7-1 5 1-6 2zm-7 2l7-2 6 2-7 2zm-6 2l6-2 6 2-7 2z"/>
<path fill="#d92" d="M1344 743l7-2 5 2-7 2zm-7 2l7-2 5 2-7 3zm-7 2l7-2 5 3-7 2z"/>
<path fill="#d91" d="M1323 749l7-2 5 3-6 2zm-6 2l6-2 6 3-7 1zm-7 1l7-1 5 2-7 1zm-7 1l7-1 5 2-7 1zm-7 0l7 0 5 2-7 0z"/>
<path fill="#d92" d="M1289 754l7-1 5 2-6 1z"/>
<path fill="#d82" d="M1282 754l7 0 6 2-7 0zm-6 0l6 0 6 2-7 1zm-7 1l7-1 5 3-7 0zm-7 0l7 0 5 2-7-1zm-7 0l7 0 5 1-7 0zm-7 0l7 0 5 1-6 1zm-6 1l6-1 6 2-7 1zm-7 1l7-1 5 2-7 1zm-7 2l7-2 5 2-7 3zm-7 3l7-3 5 3-7 2zm-7 2l7-2 5 2-6 3zm-7 3l7-3 6 3-7 3zm-6 3l6-3 6 3-7 3z"/>
<path fill="#e82" d="M1194 773l7-3 5 3-7 3z"/>
<path fill="#e92" d="M1187 776l7-3 5 3-7 4zm-7 4l7-4 5 4-7 4zm-7 4l7-4 5 4-6 3zm-6 3l6-3 6 3-7 4zm-7 2l7-2 5 4-7 2zm-7 2l7-2 5 4-7 2z"/>
<path fill="#d92" d="M1146 793l7-2 5 4-7 2zm-7 2l7-2 5 4-6 1zm-7 1l7-1 6 3-7 1zm-6 1l6-1 6 3-7 1z"/>
<path fill="#d82" d="M1119 798l7-1 5 3-7 0zm-7 0l7 0 5 2-7 0zm-7 0l7 0 5 2-7 0zm-7 0l7 0 5 2-6-1z"/>
<path fill="#c72" d="M1092 797l6 1 6 1-7 0zm-7-1l7 1 5 2-7-1z"/>
<path fill="#d91" d="M1397 733l7-2 5 1-7 2zm-7 1l7-1 5 1-7 2zm-7 2l7-2 5 2-7 1zm-7 1l7-1 5 1-6 2zm-6 2l6-2 6 2-7 2zm-7 2l7-2 5 2-7 2z"/>
<path fill="#d92" d="M1356 743l7-2 5 2-7 3zm-7 2l7-2 5 3-7 2zm-7 3l7-3 5 3-6 2z"/>
<path fill="#d91" d="M1335 750l7-2 6 2-7 3zm-6 2l6-2 6 3-7 1zm-7 1l7-1 5 2-7 2zm-7 1l7-1 5 3-7 0zm-7 1l7-1 5 2-7 1zm-7 0l7 0 5 2-6 1z"/>
<path fill="#d92" d="M1295 756l6-1 6 3-7 0z"/>
<path fill="#d82" d="M1288 756l7 0 5 2-7 0zm-7 1l7-1 5 2-7 0zm-7 0l7 0 5 1-7 0zm-7-1l7 1 5 1-6 0zm-7 0l7 0 6 2-7 0z"/>
<path fill="#d72" d="M1254 757l6-1 6 2-7 1z"/>
<path fill="#d82" d="M1247 758l7-1 5 2-7 1zm-7 1l7-1 5 2-7 2zm-7 3l7-3 5 3-7 2zm-7 2l7-2 5 2-6 3zm-6 3l6-3 6 3-7 2zm-7 3l7-3 5 2-7 3z"/>
<path fill="#e82" d="M1206 773l7-3 5 2-7 4zm-7 3l7-3 5 3-7 3z"/>
<path fill="#e92" d="M1192 780l7-4 5 3-6 4zm-7 4l7-4 6 3-7 4zm-6 3l6-3 6 3-7 4zm-7 4l7-4 5 4-7 3zm-7 2l7-2 5 3-7 2zm-7 2l7-2 5 3-7 2z"/>
<path fill="#d92" d="M1151 797l7-2 5 3-6 2zm-6 1l6-1 6 3-7 1zm-7 1l7-1 5 3-7 1zm-7 1l7-1 5 3-7 1z"/>
<path fill="#d82" d="M1124 800l7 0 5 3-7 0zm-7 0l7 0 5 3-6 0zm-7 0l7 0 6 3-7-1z"/>
<path fill="#c82" d="M1104 799l6 1 6 2-7-1z"/>
<path fill="#c72" d="M1097 799l7 0 5 2-7-1zm-7-1l7 1 5 1-7-1z"/>
<path fill="#d91" d="M1402 734l7-2 5 1-7 2zm-7 2l7-2 5 1-6 2zm-7 1l7-1 6 1-7 2zm-6 2l6-2 6 2-7 2z"/>
<path fill="#d92" d="M1375 741l7-2 5 2-7 2zm-7 2l7-2 5 2-7 2zm-7 3l7-3 5 2-7 3zm-7 2l7-2 5 2-6 3zm-6 2l6-2 6 3-7 2z"/>
<path fill="#d91" d="M1341 753l7-3 5 3-7 2zm-7 1l7-1 5 2-7 2zm-7 2l7-2 5 3-7 1zm-7 0l7 0 5 2-6 1zm-7 1l7-1 6 3-7 0zm-6 1l6-1 6 2-7 1z"/>
<path fill="#d92" d="M1300 758l7 0 5 2-7 0z"/>
<path fill="#d82" d="M1293 758l7 0 5 2-7 0zm-7 0l7 0 5 2-6 0zm-7 0l7 0 6 2-7 0zm-6 0l6 0 6 2-7 0z"/>
<path fill="#d72" d="M1266 758l7 0 5 2-7 0zm-7 1l7-1 5 2-7 0z"/>
<path fill="#d82" d="M1252 760l7-1 5 1-7 2zm-7 2l7-2 5 2-6 2zm-7 2l7-2 6 2-7 2zm-6 3l6-3 6 2-7 3zm-7 2l7-2 5 2-7 3zm-7 3l7-3 5 3-7 3z"/>
<path fill="#e82" d="M1211 776l7-4 5 3-6 4z"/>
<path fill="#e92" d="M1204 779l7-3 6 3-7 4zm-6 4l6-4 6 4-7 4zm-7 4l7-4 5 4-7 4zm-7 4l7-4 5 4-7 4zm-7 3l7-3 5 4-7 3zm-7 2l7-2 5 4-6 2zm-7 2l7-2 6 4-7 2z"/>
<path fill="#d92" d="M1157 800l6-2 6 4-7 1zm-7 1l7-1 5 3-7 1zm-7 1l7-1 5 3-7 1zm-7 1l7-1 5 3-6 1z"/>
<path fill="#d82" d="M1129 803l7 0 6 3-7-1zm-6 0l6 0 6 2-7 0zm-7-1l7 1 5 2-7-1z"/>
<path fill="#c72" d="M1109 801l7 1 5 2-7-1zm-7-1l7 1 5 2-7-1zm-7-1l7 1 5 2-6-1z"/>
<path fill="#d91" d="M1407 735l7-2 6 1-7 2zm-6 2l6-2 6 1-7 2zm-7 2l7-2 5 1-7 2z"/>
<path fill="#d92" d="M1387 741l7-2 5 1-7 2zm-7 2l7-2 5 1-7 3zm-7 2l7-2 5 2-6 3zm-7 3l7-3 6 3-7 2zm-6 3l6-3 6 2-7 3zm-7 2l7-2 5 2-7 2z"/>
<path fill="#d91" d="M1346 755l7-2 5 2-7 2zm-7 2l7-2 5 2-6 2zm-7 1l7-1 6 2-7 1zm-6 1l6-1 6 2-7 1zm-7 0l7 0 5 2-7 0zm-7 1l7-1 5 2-7 1z"/>
<path fill="#d82" d="M1305 760l7 0 5 2-7 0zm-7 0l7 0 5 2-6 0zm-6 0l6 0 6 2-7-1zm-7 0l7 0 5 1-7 0zm-7 0l7 0 5 1-7 0z"/>
<path fill="#d72" d="M1271 760l7 0 5 1-7 0zm-7 0l7 0 5 1-6 1zm-7 2l7-2 6 2-7 2z"/>
<path fill="#d82" d="M1251 764l6-2 6 2-7 2zm-7 2l7-2 5 2-7 3zm-7 3l7-3 5 3-7 2zm-7 3l7-3 5 2-7 4z"/>
<path fill="#e82" d="M1223 775l7-3 5 3-6 3zm-6 4l6-4 6 3-7 4z"/>
<path fill="#e92" d="M1210 783l7-4 5 3-7 4zm-7 4l7-4 5 3-7 5zm-7 4l7-4 5 4-7 4zm-7 4l7-4 5 4-6 3zm-7 3l7-3 6 3-7 3zm-6 2l6-2 6 3-7 2zm-7 2l7-2 5 3-7 2z"/>
<path fill="#d92" d="M1162 803l7-1 5 3-7 1zm-7 1l7-1 5 3-7 1zm-7 1l7-1 5 3-6 1zm-6 1l6-1 6 3-7 0z"/>
<path fill="#d82" d="M1135 805l7 1 5 2-7 0zm-7 0l7 0 5 3-7-1z"/>
<path fill="#c82" d="M1121 804l7 1 5 2-7-1z"/>
<path fill="#c72" d="M1114 803l7 1 5 2-6-1zm-7-1l7 1 6 2-7-2zm-6-1l6 1 6 1-7-1z"/>
<path fill="#d82" d="M1413 736l7-2 5 1-7 2z"/>
<path fill="#d92" d="M1406 738l7-2 5 1-7 2zm-7 2l7-2 5 1-7 2zm-7 2l7-2 5 1-6 3zm-7 3l7-3 6 2-7 3zm-6 3l6-3 6 2-7 3zm-7 2l7-2 5 2-7 3zm-7 3l7-3 5 3-7 2z"/>
<path fill="#d91" d="M1358 755l7-2 5 2-7 3zm-7 2l7-2 5 3-6 2zm-6 2l6-2 6 3-7 1zm-7 1l7-1 5 2-7 1zm-7 1l7-1 5 2-7 1zm-7 0l7 0 5 2-7 1zm-7 1l7-1 5 3-6 0z"/>
<path fill="#d81" d="M1310 762l7 0 6 2-7 0z"/>
<path fill="#d82" d="M1304 762l6 0 6 2-7-1zm-7-1l7 1 5 1-7 0z"/>
<path fill="#c82" d="M1290 761l7 0 5 2-7 0z"/>
<path fill="#d72" d="M1283 761l7 0 5 2-7 0zm-7 0l7 0 5 2-6 0zm-6 1l6-1 6 2-7 1zm-7 2l7-2 5 2-7 2z"/>
<path fill="#d82" d="M1256 766l7-2 5 2-7 2zm-7 3l7-3 5 2-7 3zm-7 2l7-2 5 2-6 3z"/>
<path fill="#e82" d="M1235 775l7-4 6 3-7 4zm-6 3l6-3 6 3-7 4z"/>
<path fill="#e92" d="M1222 782l7-4 5 4-7 4zm-7 4l7-4 5 4-7 4zm-7 5l7-5 5 4-7 4zm-7 4l7-4 5 3-6 4zm-6 3l6-3 6 3-7 4z"/>
<path fill="#ea2" d="M1188 801l7-3 5 4-7 3z"/>
<path fill="#e92" d="M1181 803l7-2 5 4-7 2zm-7 2l7-2 5 4-7 1z"/>
<path fill="#d92" d="M1167 806l7-1 5 3-6 2zm-7 1l7-1 6 4-7 0z"/>
<path fill="#d91" d="M1154 808l6-1 6 3-7 1z"/>
<path fill="#d92" d="M1147 808l7 0 5 3-7-1z"/>
<path fill="#d82" d="M1140 808l7 0 5 2-7 0zm-7-1l7 1 5 2-7-1z"/>
<path fill="#c82" d="M1126 806l7 1 5 2-6-1z"/>
<path fill="#c72" d="M1120 805l6 1 6 2-7-1zm-7-2l7 2 5 2-7-2zm-7-1l7 1 5 2-7-1z"/>
<path fill="#d82" d="M1418 737l7-2 5 0-7 2zm-7 2l7-2 5 0-7 3z"/>
<path fill="#d92" d="M1404 741l7-2 5 1-6 3zm-6 3l6-3 6 2-7 3zm-7 3l7-3 5 2-7 3zm-7 3l7-3 5 2-7 3zm-7 3l7-3 5 2-7 3zm-7 2l7-2 5 2-6 3zm-7 3l7-3 6 3-7 2z"/>
<path fill="#d91" d="M1357 760l6-2 6 2-7 2zm-7 1l7-1 5 2-7 2zm-7 1l7-1 5 3-7 1zm-7 1l7-1 5 3-7 0zm-7 1l7-1 5 2-6 0z"/>
<path fill="#d81" d="M1323 764l6 0 6 1-7 0zm-7 0l7 0 5 1-7 0z"/>
<path fill="#d82" d="M1309 763l7 1 5 1-7 0z"/>
<path fill="#c82" d="M1302 763l7 0 5 2-7-1zm-7 0l7 0 5 1-6 0z"/>
<path fill="#d72" d="M1288 763l7 0 6 1-7 0zm-6 0l6 0 6 1-7 1zm-7 1l7-1 5 2-7 1zm-7 2l7-2 5 2-7 2z"/>
<path fill="#d82" d="M1261 768l7-2 5 2-7 2zm-7 3l7-3 5 2-6 3zm-6 3l6-3 6 2-7 4z"/>
<path fill="#e82" d="M1241 778l7-4 5 3-7 4zm-7 4l7-4 5 3-7 4z"/>
<path fill="#e92" d="M1227 786l7-4 5 3-7 4zm-7 4l7-4 5 3-6 5zm-7 4l7-4 6 4-7 4zm-6 4l6-4 6 4-7 4z"/>
<path fill="#ea2" d="M1200 802l7-4 5 4-7 3zm-7 3l7-3 5 3-7 3zm-7 2l7-2 5 3-7 2z"/>
<path fill="#e92" d="M1179 808l7-1 5 3-6 2z"/>
<path fill="#d91" d="M1173 810l6-2 6 4-7 1zm-7 0l7 0 5 3-7 0zm-7 1l7-1 5 3-7 0zm-7-1l7 1 5 2-7 0z"/>
<path fill="#d82" d="M1145 810l7 0 5 3-6-1zm-7-1l7 1 6 2-7-1z"/>
<path fill="#c82" d="M1132 808l6 1 6 2-7-1z"/>
<path fill="#c72" d="M1125 807l7 1 5 2-7-2zm-7-2l7 2 5 1-7-1zm-7-1l7 1 5 2-6-2z"/>
<path fill="#d82" d="M1423 737l7-2 5 0-6 3zm-7 3l7-3 6 1-7 3z"/>
<path fill="#d92" d="M1410 743l6-3 6 1-7 3zm-7 3l7-3 5 1-7 4zm-7 3l7-3 5 2-7 3zm-7 3l7-3 5 2-7 3zm-7 3l7-3 5 2-6 3zm-6 3l6-3 6 2-7 3zm-7 2l7-2 5 2-7 3z"/>
<path fill="#d91" d="M1362 762l7-2 5 3-7 2zm-7 2l7-2 5 3-7 1zm-7 1l7-1 5 2-6 1zm-7 0l7 0 6 2-7 0zm-6 0l6 0 6 2-7 0z"/>
<path fill="#d81" d="M1328 765l7 0 5 2-7 0z"/>
<path fill="#c81" d="M1321 765l7 0 5 2-7-1z"/>
<path fill="#c82" d="M1314 765l7 0 5 1-6 0zm-7-1l7 1 6 1-7 0z"/>
<path fill="#c72" d="M1301 764l6 0 6 2-7 0zm-7 0l7 0 5 2-7 0z"/>
<path fill="#d72" d="M1287 765l7-1 5 2-7 1zm-7 1l7-1 5 2-7 1zm-7 2l7-2 5 2-6 2z"/>
<path fill="#d82" d="M1266 770l7-2 6 2-7 3zm-6 3l6-3 6 3-7 3z"/>
<path fill="#e82" d="M1253 777l7-4 5 3-7 4zm-7 4l7-4 5 3-7 4z"/>
<path fill="#e92" d="M1239 785l7-4 5 3-6 5zm-7 4l7-4 6 4-7 4zm-6 5l6-5 6 4-7 5zm-7 4l7-4 5 4-7 4z"/>
<path fill="#ea2" d="M1212 802l7-4 5 4-7 4zm-7 3l7-3 5 4-7 3zm-7 3l7-3 5 4-6 3z"/>
<path fill="#ea1" d="M1191 810l7-2 6 4-7 1z"/>
<path fill="#da1" d="M1185 812l6-2 6 3-7 2z"/>
<path fill="#d91" d="M1178 813l7-1 5 3-7 0zm-7 0l7 0 5 2-7 1zm-7 0l7 0 5 3-6-1z"/>
<path fill="#d81" d="M1157 813l7 0 6 2-7 0zm-6-1l6 1 6 2-7-1z"/>
<path fill="#c82" d="M1144 811l7 1 5 2-7-1z"/>
<path fill="#c72" d="M1137 810l7 1 5 2-7-2zm-7-2l7 2 5 1-7-1zm-7-1l7 1 5 2-6-2zm-6-2l6 2 6 1-7-2z"/>
</g>
<g fill="#0a14f5"><circle cx="439.1" cy="352.4" r="2.3"/><circle cx="469.6" cy="368.9" r="2.3"/><circle cx="500" cy="382.8" r="2.3"/><circle cx="530.5" cy="394.4" r="2.3"/><circle cx="560.9" cy="403.2" r="2.3"/><circle cx="478.3" cy="341.7" r="2.3"/><path d="M506.1 358.1a2.7 2.7 0 0 1 5.4 0z"/><path d="M536.5 366.2a2.7 2.7 0 0 1 5.4 0z"/><path d="M566.9 386.4a2.7 2.7 0 0 1 5.4 0z"/><circle cx="600.1" cy="406.3" r="2.3"/><circle cx="517.5" cy="328.7" r="2.3"/><path d="M545.2 344.7a2.7 2.7 0 0 1 5.4 0z"/><path d="M575.7 364.6a2.7 2.7 0 0 1 5.4 0z"/><path d="M606.1 374.6a2.7 2.7 0 0 1 5.4 0z"/><circle cx="639.3" cy="385" r="2.3"/><circle cx="556.7" cy="317.5" r="2.3"/><path d="M584.5 331.4a2.7 2.7 0 0 1 5.4 0z"/><path d="M614.9 348.1a2.7 2.7 0 0 1 5.4 0z"/><path d="M645.4 369.1a2.7 2.7 0 0 1 5.4 0z"/><circle cx="678.5" cy="383.3" r="2.3"/><circle cx="595.9" cy="303.9" r="2.3"/><circle cx="626.4" cy="325.1" r="2.3"/><circle cx="656.8" cy="328.7" r="2.3"/><circle cx="687.3" cy="358.1" r="2.3"/><circle cx="717.7" cy="367.7" r="2.3"/></g>
<text x="455.0" y="341.5" font-size="14" fill="#2c2c86" stroke="#2c2c86" stroke-width="0.35">0.85</text>
<text x="495.3" y="328.8" font-size="14" fill="#2c2c86" stroke="#2c2c86" stroke-width="0.35">0.87</text>
<text x="530.6" y="319.0" font-size="14" fill="#2c2c86" stroke="#2c2c86" stroke-width="0.35">0.87</text>
<text x="567.2" y="308.5" font-size="14" fill="#1e1e1e" stroke="#1e1e1e" stroke-width="0.35">0.89</text>
<text x="446.4" y="383.0" font-size="14" fill="#2c2c86" stroke="#2c2c86" stroke-width="0.35">0.84</text>
<text x="479.9" y="398.8" font-size="14" fill="#2c2c86" stroke="#2c2c86" stroke-width="0.35">0.83</text>
<text x="509.9" y="408.5" font-size="14" fill="#2c2c86" stroke="#2c2c86" stroke-width="0.35">0.85</text>
<text x="539.2" y="414.6" font-size="14" fill="#2c2c86" stroke="#2c2c86" stroke-width="0.35">0.89</text>
<text x="617.9" y="326.3" font-size="14" fill="#2c2c86" stroke="#2c2c86" stroke-width="0.35">0.82</text>
<text x="658.2" y="330.0" font-size="14" fill="#1e1e1e" stroke="#1e1e1e" stroke-width="0.35">0.92</text>
<text x="686.2" y="358.0" font-size="14" fill="#2c2c86" stroke="#2c2c86" stroke-width="0.35">0.79</text>
<text x="639.9" y="399.5" font-size="14" fill="#2c2c86" stroke="#2c2c86" stroke-width="0.35">0.86</text>
<text x="682.6" y="398.3" font-size="14" fill="#1e1e1e" stroke="#1e1e1e" stroke-width="0.35">0.79</text>
<text x="606.4" y="415.0" font-size="14" fill="#2c2c86" stroke="#2c2c86" stroke-width="0.35">0.78</text>
<text x="432.6" y="434.4" text-anchor="end" font-size="14" fill="#303030" stroke="#303030" stroke-width="0.25">0.2</text>
<text x="432.6" y="410.2" text-anchor="end" font-size="14" fill="#303030" stroke="#303030" stroke-width="0.25">0.4</text>
<text x="432.6" y="386.1" text-anchor="end" font-size="14" fill="#303030" stroke="#303030" stroke-width="0.25">0.6</text>
<text x="432.6" y="361.9" text-anchor="end" font-size="14" fill="#303030" stroke="#303030" stroke-width="0.25">0.8</text>
<text x="432.6" y="337.8" text-anchor="end" font-size="14" fill="#303030" stroke="#303030" stroke-width="0.25">1.0</text>
<text transform="translate(408.1 384.8) rotate(-90)" text-anchor="middle" font-size="15.5" fill="#202020" stroke="#202020" stroke-width="0.25">Power Spectrum (arb. units)</text>
<text x="422.7" y="471.4" font-size="14" fill="#303030" stroke="#303030" stroke-width="0.25">4.4</text>
<text x="531.8" y="524.2" font-size="14" fill="#303030" stroke="#303030" stroke-width="0.25">3.6</text>
<text x="573.3" y="526.1" font-size="14" fill="#303030" stroke="#303030" stroke-width="0.25">0</text>
<text x="719.4" y="484.8" font-size="14" fill="#303030" stroke="#303030" stroke-width="0.25">2.5</text>
<text transform="translate(454 498.6) rotate(24.7)" font-size="15" fill="#202020" stroke="#202020" stroke-width="0.25"><tspan font-style="italic" font-size="16">L</tspan><tspan font-style="italic" font-size="11" dy="3.5">C</tspan><tspan dy="-3.5" dx="1.5">(mm)</tspan></text>
<g transform="translate(621.9 525.9) rotate(-15.4)"><path d="M0.5 0L6 -10.5L11.5 0Z" fill="none" stroke="#303030" stroke-width="0.9"/><text x="13" y="0" font-size="16" fill="#202020" stroke="#202020" stroke-width="0.25"><tspan font-style="italic">P</tspan> (mW)</text></g>
<text x="441.5" y="297.5" font-size="17.5" font-style="italic" fill="#2d8ff8" stroke="#2d8ff8" stroke-width="0.3" xml:space="preserve">k<tspan font-size="10" dy="3">z</tspan><tspan dy="-3"> &lt; 0  &#8467;=&#8722;2</tspan></text>
<text x="376" y="282.5" font-size="20.5" font-weight="bold" fill="#111">d</text>
<defs><linearGradient id="cb" x1="0" y1="0" x2="0" y2="1"><stop offset="0.00" stop-color="#f58e20"/><stop offset="0.10" stop-color="#f8a71d"/><stop offset="0.20" stop-color="#fbc318"/><stop offset="0.30" stop-color="#fae114"/><stop offset="0.40" stop-color="#eeef22"/><stop offset="0.50" stop-color="#cee645"/><stop offset="0.60" stop-color="#a4d56c"/><stop offset="0.70" stop-color="#7bc38e"/><stop offset="0.80" stop-color="#5db6ab"/><stop offset="0.90" stop-color="#45acd4"/><stop offset="1.00" stop-color="#30aaf3"/></linearGradient></defs>
<rect x="760.3" y="139.9" width="13.5" height="219.1" fill="url(#cb)" stroke="#8a8a8a" stroke-width="1"/>
<text x="776" y="343.4" font-size="15" fill="#303030" stroke="#303030" stroke-width="0.25">0.1</text>
<text x="776" y="319.2" font-size="15" fill="#303030" stroke="#303030" stroke-width="0.25">0.2</text>
<text x="776" y="295.0" font-size="15" fill="#303030" stroke="#303030" stroke-width="0.25">0.3</text>
<text x="776" y="270.8" font-size="15" fill="#303030" stroke="#303030" stroke-width="0.25">0.4</text>
<text x="776" y="246.6" font-size="15" fill="#303030" stroke="#303030" stroke-width="0.25">0.5</text>
<text x="776" y="222.4" font-size="15" fill="#303030" stroke="#303030" stroke-width="0.25">0.6</text>
<text x="776" y="198.2" font-size="15" fill="#303030" stroke="#303030" stroke-width="0.25">0.7</text>
<text x="776" y="174.0" font-size="15" fill="#303030" stroke="#303030" stroke-width="0.25">0.8</text>
<text x="776" y="149.8" font-size="15" fill="#303030" stroke="#303030" stroke-width="0.25">0.9</text>
<path d="M770.8 338.4h3M770.8 314.2h3M770.8 290.0h3M770.8 265.8h3M770.8 241.6h3M770.8 217.4h3M770.8 193.2h3M770.8 169.0h3M770.8 144.8h3" stroke="#555" stroke-width="1"/>
</svg></body></html>
